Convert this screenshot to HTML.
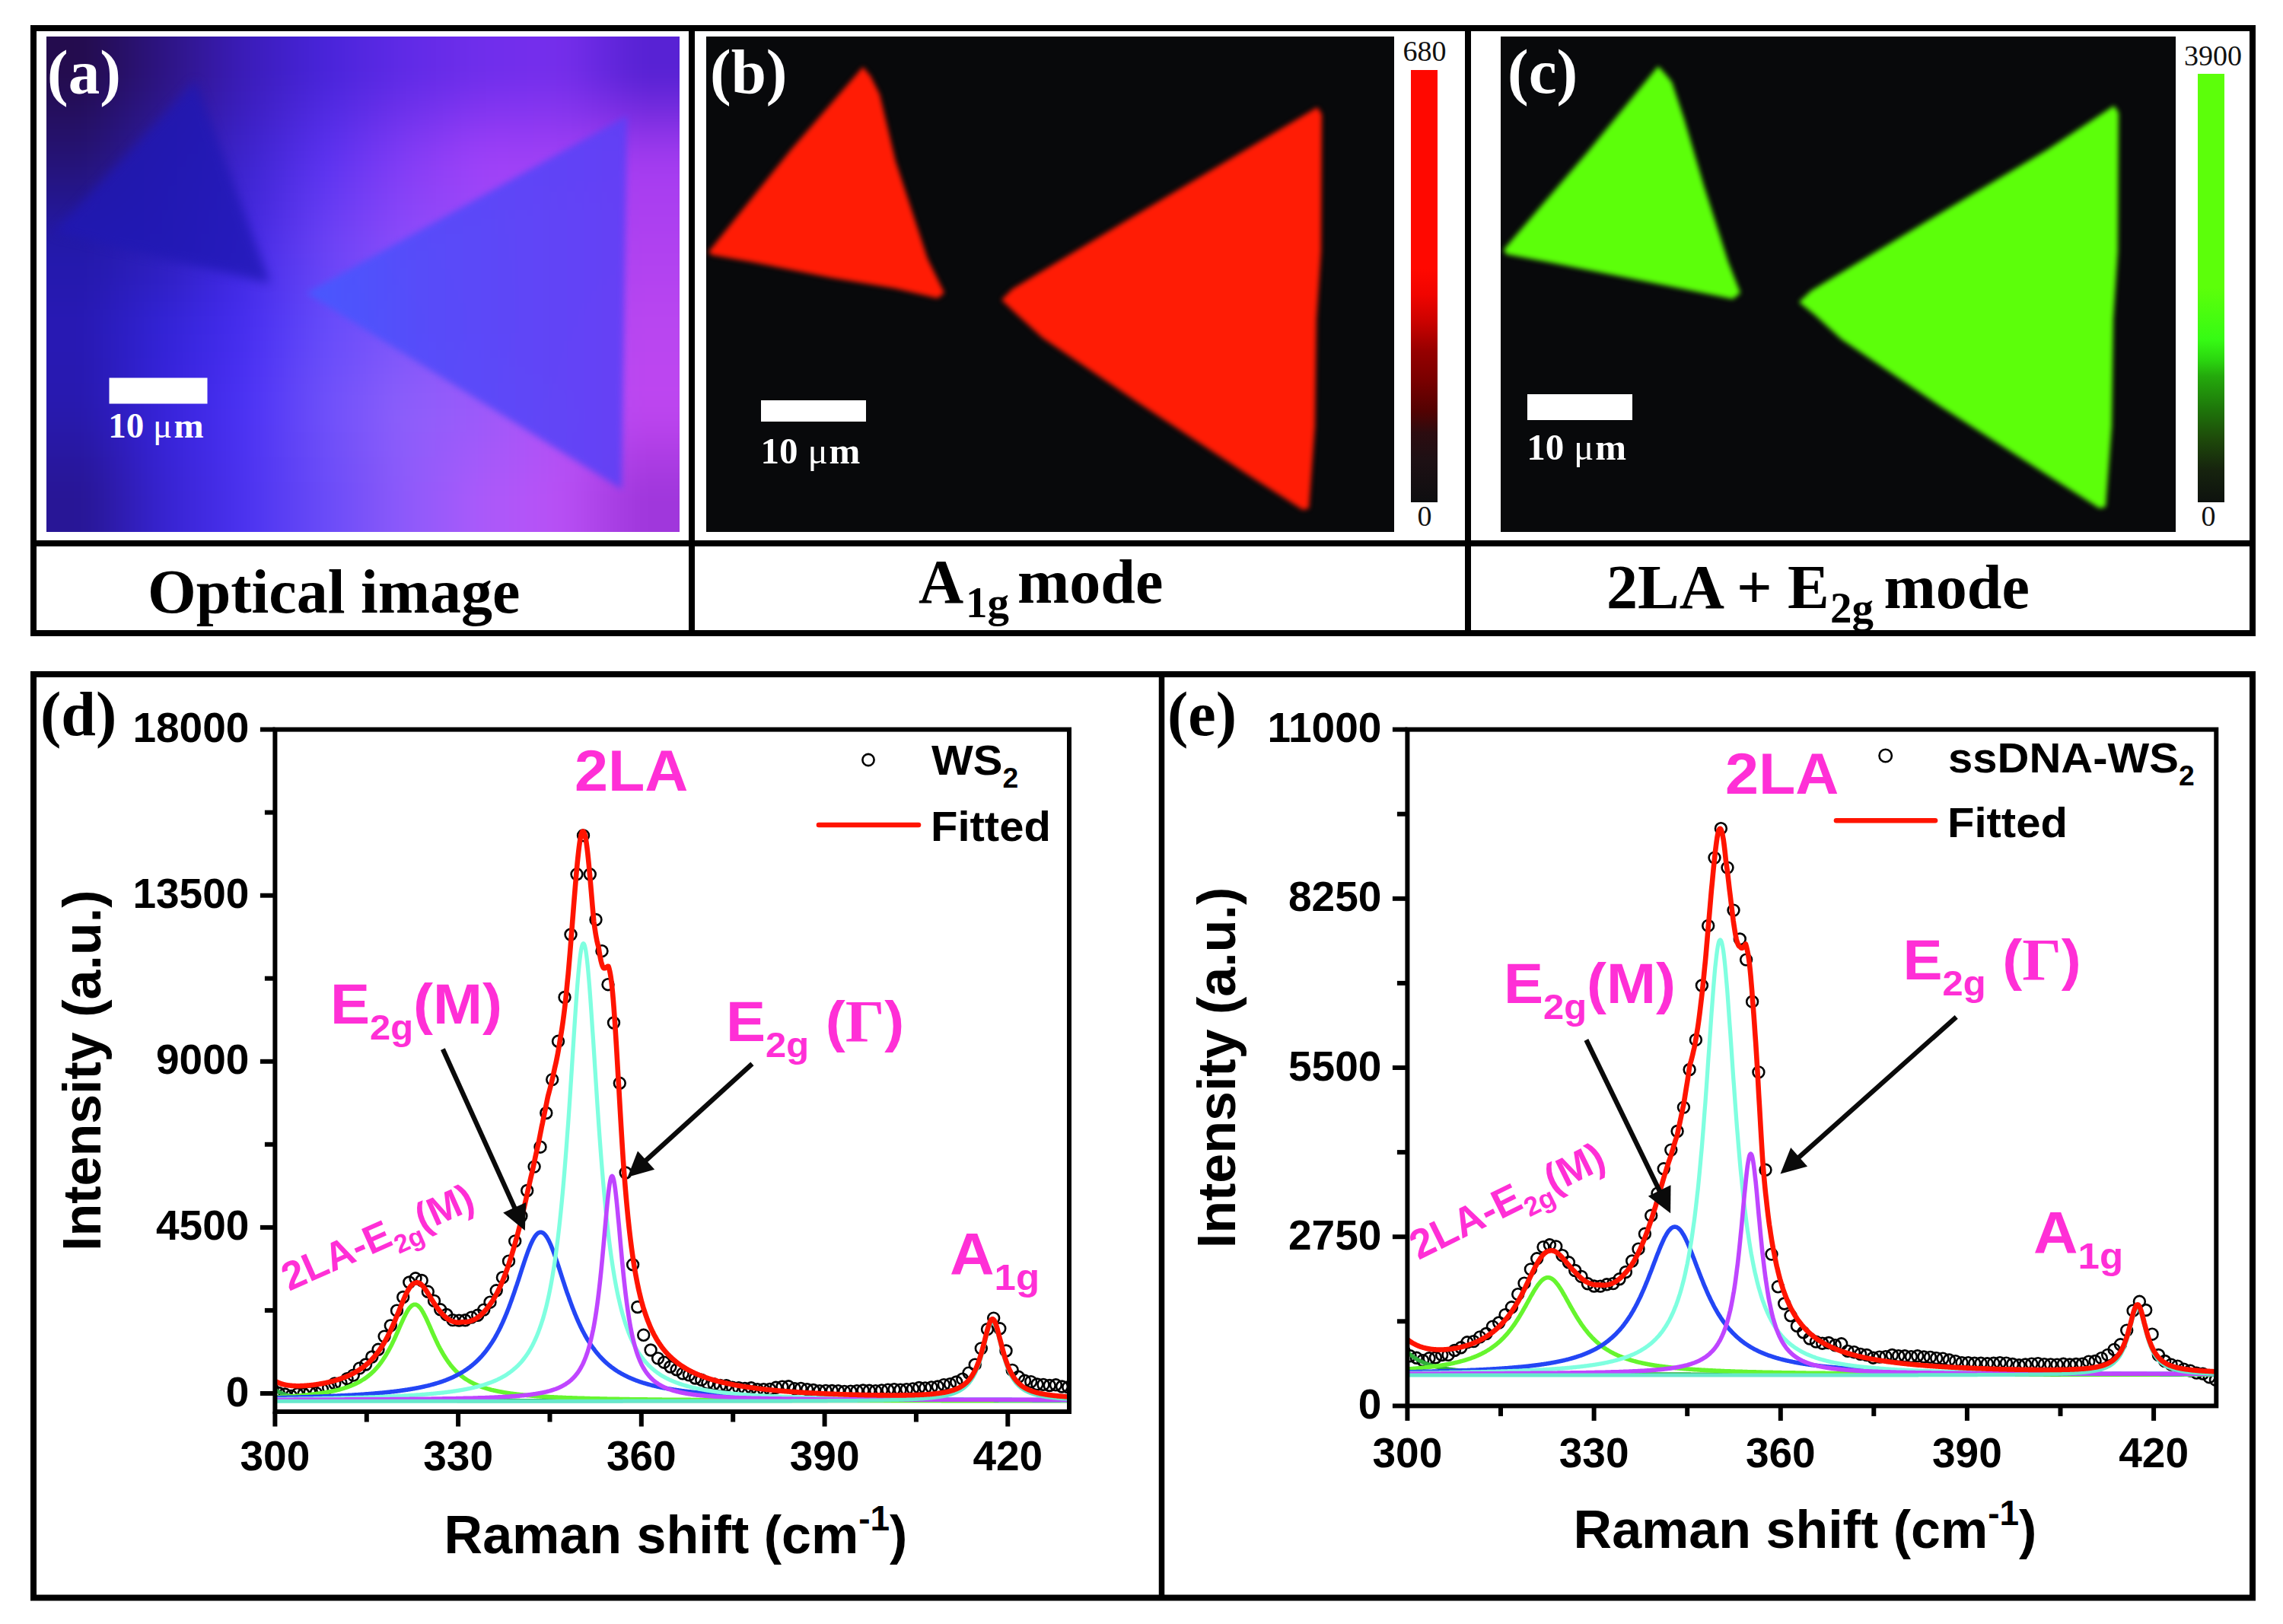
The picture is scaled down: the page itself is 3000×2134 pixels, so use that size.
<!DOCTYPE html>
<html><head><meta charset="utf-8"><title>Raman mapping figure</title>
<style>html,body{margin:0;padding:0;background:#fff}svg{display:block}</style></head>
<body>
<svg width="3000" height="2134" viewBox="0 0 3000 2134">
<defs>
<clipPath id="ca"><rect x="61" y="48" width="832" height="651"/></clipPath>
<clipPath id="cb"><rect x="928" y="48" width="904" height="651"/></clipPath>
<clipPath id="cc"><rect x="1972" y="48" width="887" height="651"/></clipPath>
<clipPath id="cd"><rect x="361.4" y="958.6" width="1043.6" height="896.4"/></clipPath>
<clipPath id="ce"><rect x="1849.4" y="958.6" width="1062.9" height="888.8"/></clipPath>
<filter id="b3" color-interpolation-filters="sRGB" x="-10%" y="-10%" width="120%" height="120%"><feGaussianBlur stdDeviation="3.2"/></filter>
<filter id="b8" color-interpolation-filters="sRGB" x="-20%" y="-20%" width="140%" height="140%"><feGaussianBlur stdDeviation="7"/></filter>
<filter id="b5" color-interpolation-filters="sRGB" x="-20%" y="-20%" width="140%" height="140%"><feGaussianBlur stdDeviation="4"/></filter>
<filter id="b60" color-interpolation-filters="sRGB" x="-50%" y="-50%" width="200%" height="200%"><feGaussianBlur stdDeviation="55"/></filter>
<filter id="b30" color-interpolation-filters="sRGB" x="-50%" y="-50%" width="200%" height="200%"><feGaussianBlur stdDeviation="28"/></filter>
<linearGradient id="ga" x1="0" y1="0" x2="1" y2="0"><stop offset="0" stop-color="#2c1a9c"/><stop offset="0.12" stop-color="#3422c4"/><stop offset="0.42" stop-color="#5a3cf0"/><stop offset="0.72" stop-color="#8a4cf4"/><stop offset="0.93" stop-color="#b048ee"/><stop offset="1" stop-color="#9a3cdc"/></linearGradient>
<radialGradient id="gtl" cx="0" cy="0" r="1" gradientUnits="objectBoundingBox"><stop offset="0" stop-color="#260e48" stop-opacity="1"/><stop offset="0.35" stop-color="#28105a" stop-opacity="0.75"/><stop offset="1" stop-color="#28105a" stop-opacity="0"/></radialGradient>
<linearGradient id="gtop" x1="0" y1="0" x2="0" y2="1"><stop offset="0" stop-color="#3010a0" stop-opacity="0.55"/><stop offset="0.3" stop-color="#3010a0" stop-opacity="0.12"/><stop offset="0.6" stop-color="#3010a0" stop-opacity="0"/></linearGradient>
<linearGradient id="gr" x1="0" y1="0" x2="0" y2="1"><stop offset="0" stop-color="#ff0800"/><stop offset="0.46" stop-color="#ff0800"/><stop offset="0.52" stop-color="#f00400"/><stop offset="0.58" stop-color="#cc0200"/><stop offset="0.65" stop-color="#960000"/><stop offset="0.72" stop-color="#780000"/><stop offset="0.79" stop-color="#520202"/><stop offset="0.84" stop-color="#2c0c10"/><stop offset="0.90" stop-color="#1e1014"/><stop offset="1" stop-color="#0e0e10"/></linearGradient>
<linearGradient id="gg" x1="0" y1="0" x2="0" y2="1"><stop offset="0" stop-color="#5cff0a"/><stop offset="0.50" stop-color="#5cff0a"/><stop offset="0.62" stop-color="#36fb14"/><stop offset="0.67" stop-color="#2ad40f"/><stop offset="0.705" stop-color="#24aa0c"/><stop offset="0.78" stop-color="#1e780a"/><stop offset="0.85" stop-color="#1e4b0a"/><stop offset="0.925" stop-color="#16230e"/><stop offset="1" stop-color="#0e120e"/></linearGradient>
</defs>
<rect x="0" y="0" width="3000" height="2134" fill="#fff"/>
<filter id="bg" color-interpolation-filters="sRGB" filterUnits="userSpaceOnUse" x="-100" y="-120" width="1200" height="1000"><feGaussianBlur stdDeviation="16"/></filter>
<g clip-path="url(#ca)">
<g filter="url(#bg)" shape-rendering="crispEdges">
<rect x="1" y="-12" width="92.6" height="93.1" fill="#240c4e"/>
<rect x="93" y="-12" width="32.6" height="93.1" fill="#240c4e"/>
<rect x="125" y="-12" width="32.6" height="93.1" fill="#260e5d"/>
<rect x="157" y="-12" width="32.6" height="93.1" fill="#29116d"/>
<rect x="189" y="-12" width="32.6" height="93.1" fill="#2c137e"/>
<rect x="221" y="-12" width="32.6" height="93.1" fill="#30168e"/>
<rect x="253" y="-12" width="32.6" height="93.1" fill="#34189e"/>
<rect x="285" y="-12" width="32.6" height="93.1" fill="#381aaf"/>
<rect x="317" y="-12" width="32.6" height="93.1" fill="#3c1dbd"/>
<rect x="349" y="-12" width="32.6" height="93.1" fill="#401fc7"/>
<rect x="381" y="-12" width="32.6" height="93.1" fill="#4422d1"/>
<rect x="413" y="-12" width="32.6" height="93.1" fill="#4924da"/>
<rect x="445" y="-12" width="32.6" height="93.1" fill="#5026de"/>
<rect x="477" y="-12" width="32.6" height="93.1" fill="#5728e2"/>
<rect x="509" y="-12" width="32.6" height="93.1" fill="#5e2ae6"/>
<rect x="541" y="-12" width="32.6" height="93.1" fill="#642be8"/>
<rect x="573" y="-12" width="32.6" height="93.1" fill="#692ce9"/>
<rect x="605" y="-12" width="32.6" height="93.1" fill="#6e2eeb"/>
<rect x="637" y="-12" width="32.6" height="93.1" fill="#712eec"/>
<rect x="669" y="-12" width="32.6" height="93.1" fill="#732eec"/>
<rect x="701" y="-12" width="32.6" height="93.1" fill="#752eec"/>
<rect x="733" y="-12" width="32.6" height="93.1" fill="#732de9"/>
<rect x="765" y="-12" width="32.6" height="93.1" fill="#6929e2"/>
<rect x="797" y="-12" width="32.6" height="93.1" fill="#6025da"/>
<rect x="829" y="-12" width="32.6" height="93.1" fill="#5822d4"/>
<rect x="861" y="-12" width="92.6" height="93.1" fill="#5822d4"/>
<rect x="1" y="80.5" width="92.6" height="33.1" fill="#240c4e"/>
<rect x="93" y="80.5" width="32.6" height="33.1" fill="#240c4e"/>
<rect x="125" y="80.5" width="32.6" height="33.1" fill="#260e5d"/>
<rect x="157" y="80.5" width="32.6" height="33.1" fill="#29116d"/>
<rect x="189" y="80.5" width="32.6" height="33.1" fill="#2c137e"/>
<rect x="221" y="80.5" width="32.6" height="33.1" fill="#30168e"/>
<rect x="253" y="80.5" width="32.6" height="33.1" fill="#34189e"/>
<rect x="285" y="80.5" width="32.6" height="33.1" fill="#381aaf"/>
<rect x="317" y="80.5" width="32.6" height="33.1" fill="#3c1dbd"/>
<rect x="349" y="80.5" width="32.6" height="33.1" fill="#401fc7"/>
<rect x="381" y="80.5" width="32.6" height="33.1" fill="#4422d1"/>
<rect x="413" y="80.5" width="32.6" height="33.1" fill="#4924da"/>
<rect x="445" y="80.5" width="32.6" height="33.1" fill="#5026de"/>
<rect x="477" y="80.5" width="32.6" height="33.1" fill="#5728e2"/>
<rect x="509" y="80.5" width="32.6" height="33.1" fill="#5e2ae6"/>
<rect x="541" y="80.5" width="32.6" height="33.1" fill="#642be8"/>
<rect x="573" y="80.5" width="32.6" height="33.1" fill="#692ce9"/>
<rect x="605" y="80.5" width="32.6" height="33.1" fill="#6e2eeb"/>
<rect x="637" y="80.5" width="32.6" height="33.1" fill="#712eec"/>
<rect x="669" y="80.5" width="32.6" height="33.1" fill="#732eec"/>
<rect x="701" y="80.5" width="32.6" height="33.1" fill="#752eec"/>
<rect x="733" y="80.5" width="32.6" height="33.1" fill="#732de9"/>
<rect x="765" y="80.5" width="32.6" height="33.1" fill="#6929e2"/>
<rect x="797" y="80.5" width="32.6" height="33.1" fill="#6025da"/>
<rect x="829" y="80.5" width="32.6" height="33.1" fill="#5822d4"/>
<rect x="861" y="80.5" width="92.6" height="33.1" fill="#5822d4"/>
<rect x="1" y="113.1" width="92.6" height="33.1" fill="#240e58"/>
<rect x="93" y="113.1" width="32.6" height="33.1" fill="#240e58"/>
<rect x="125" y="113.1" width="32.6" height="33.1" fill="#271066"/>
<rect x="157" y="113.1" width="32.6" height="33.1" fill="#291376"/>
<rect x="189" y="113.1" width="32.6" height="33.1" fill="#2c1586"/>
<rect x="221" y="113.1" width="32.6" height="33.1" fill="#301796"/>
<rect x="253" y="113.1" width="32.6" height="33.1" fill="#341aa5"/>
<rect x="285" y="113.1" width="32.6" height="33.1" fill="#381cb4"/>
<rect x="317" y="113.1" width="32.6" height="33.1" fill="#3d1fc2"/>
<rect x="349" y="113.1" width="32.6" height="33.1" fill="#4222cc"/>
<rect x="381" y="113.1" width="32.6" height="33.1" fill="#4825d6"/>
<rect x="413" y="113.1" width="32.6" height="33.1" fill="#4e28e0"/>
<rect x="445" y="113.1" width="32.6" height="33.1" fill="#562ae3"/>
<rect x="477" y="113.1" width="32.6" height="33.1" fill="#5e2ce6"/>
<rect x="509" y="113.1" width="32.6" height="33.1" fill="#672ee9"/>
<rect x="541" y="113.1" width="32.6" height="33.1" fill="#6d30eb"/>
<rect x="573" y="113.1" width="32.6" height="33.1" fill="#7331ed"/>
<rect x="605" y="113.1" width="32.6" height="33.1" fill="#7a32ee"/>
<rect x="637" y="113.1" width="32.6" height="33.1" fill="#7d33ef"/>
<rect x="669" y="113.1" width="32.6" height="33.1" fill="#7e33ef"/>
<rect x="701" y="113.1" width="32.6" height="33.1" fill="#8033ee"/>
<rect x="733" y="113.1" width="32.6" height="33.1" fill="#7e32ec"/>
<rect x="765" y="113.1" width="32.6" height="33.1" fill="#782ee6"/>
<rect x="797" y="113.1" width="32.6" height="33.1" fill="#712be0"/>
<rect x="829" y="113.1" width="32.6" height="33.1" fill="#6b28db"/>
<rect x="861" y="113.1" width="92.6" height="33.1" fill="#6b28db"/>
<rect x="1" y="145.6" width="92.6" height="33.2" fill="#251064"/>
<rect x="93" y="145.6" width="32.6" height="33.2" fill="#251064"/>
<rect x="125" y="145.6" width="32.6" height="33.2" fill="#271272"/>
<rect x="157" y="145.6" width="32.6" height="33.2" fill="#291581"/>
<rect x="189" y="145.6" width="32.6" height="33.2" fill="#2c1790"/>
<rect x="221" y="145.6" width="32.6" height="33.2" fill="#301a9f"/>
<rect x="253" y="145.6" width="32.6" height="33.2" fill="#341cad"/>
<rect x="285" y="145.6" width="32.6" height="33.2" fill="#381ebb"/>
<rect x="317" y="145.6" width="32.6" height="33.2" fill="#3e21c8"/>
<rect x="349" y="145.6" width="32.6" height="33.2" fill="#4525d2"/>
<rect x="381" y="145.6" width="32.6" height="33.2" fill="#4c29dd"/>
<rect x="413" y="145.6" width="32.6" height="33.2" fill="#532ce6"/>
<rect x="445" y="145.6" width="32.6" height="33.2" fill="#5d2fe9"/>
<rect x="477" y="145.6" width="32.6" height="33.2" fill="#6731eb"/>
<rect x="509" y="145.6" width="32.6" height="33.2" fill="#7134ee"/>
<rect x="541" y="145.6" width="32.6" height="33.2" fill="#7935ef"/>
<rect x="573" y="145.6" width="32.6" height="33.2" fill="#8037f1"/>
<rect x="605" y="145.6" width="32.6" height="33.2" fill="#8838f2"/>
<rect x="637" y="145.6" width="32.6" height="33.2" fill="#8b38f2"/>
<rect x="669" y="145.6" width="32.6" height="33.2" fill="#8c38f2"/>
<rect x="701" y="145.6" width="32.6" height="33.2" fill="#8d38f1"/>
<rect x="733" y="145.6" width="32.6" height="33.2" fill="#8c38ef"/>
<rect x="765" y="145.6" width="32.6" height="33.2" fill="#8935eb"/>
<rect x="797" y="145.6" width="32.6" height="33.2" fill="#8532e7"/>
<rect x="829" y="145.6" width="32.6" height="33.2" fill="#8230e3"/>
<rect x="861" y="145.6" width="92.6" height="33.2" fill="#8230e3"/>
<rect x="1" y="178.2" width="92.6" height="33.2" fill="#251270"/>
<rect x="93" y="178.2" width="32.6" height="33.2" fill="#251270"/>
<rect x="125" y="178.2" width="32.6" height="33.2" fill="#27147d"/>
<rect x="157" y="178.2" width="32.6" height="33.2" fill="#2a178c"/>
<rect x="189" y="178.2" width="32.6" height="33.2" fill="#2c1a9b"/>
<rect x="221" y="178.2" width="32.6" height="33.2" fill="#301ca8"/>
<rect x="253" y="178.2" width="32.6" height="33.2" fill="#341eb5"/>
<rect x="285" y="178.2" width="32.6" height="33.2" fill="#3921c2"/>
<rect x="317" y="178.2" width="32.6" height="33.2" fill="#3f24ce"/>
<rect x="349" y="178.2" width="32.6" height="33.2" fill="#4728d9"/>
<rect x="381" y="178.2" width="32.6" height="33.2" fill="#502ce3"/>
<rect x="413" y="178.2" width="32.6" height="33.2" fill="#5930ed"/>
<rect x="445" y="178.2" width="32.6" height="33.2" fill="#6433ef"/>
<rect x="477" y="178.2" width="32.6" height="33.2" fill="#7036f1"/>
<rect x="509" y="178.2" width="32.6" height="33.2" fill="#7b39f3"/>
<rect x="541" y="178.2" width="32.6" height="33.2" fill="#843bf4"/>
<rect x="573" y="178.2" width="32.6" height="33.2" fill="#8d3cf5"/>
<rect x="605" y="178.2" width="32.6" height="33.2" fill="#963ef6"/>
<rect x="637" y="178.2" width="32.6" height="33.2" fill="#993ef6"/>
<rect x="669" y="178.2" width="32.6" height="33.2" fill="#993ef5"/>
<rect x="701" y="178.2" width="32.6" height="33.2" fill="#9a3ef4"/>
<rect x="733" y="178.2" width="32.6" height="33.2" fill="#9a3df3"/>
<rect x="765" y="178.2" width="32.6" height="33.2" fill="#9a3cf0"/>
<rect x="797" y="178.2" width="32.6" height="33.2" fill="#9a3aee"/>
<rect x="829" y="178.2" width="32.6" height="33.2" fill="#9938ec"/>
<rect x="861" y="178.2" width="92.6" height="33.2" fill="#9938ec"/>
<rect x="1" y="210.8" width="92.6" height="33.2" fill="#25147e"/>
<rect x="93" y="210.8" width="32.6" height="33.2" fill="#25147e"/>
<rect x="125" y="210.8" width="32.6" height="33.2" fill="#271689"/>
<rect x="157" y="210.8" width="32.6" height="33.2" fill="#291996"/>
<rect x="189" y="210.8" width="32.6" height="33.2" fill="#2c1ba3"/>
<rect x="221" y="210.8" width="32.6" height="33.2" fill="#301eb0"/>
<rect x="253" y="210.8" width="32.6" height="33.2" fill="#3520bc"/>
<rect x="285" y="210.8" width="32.6" height="33.2" fill="#3a22c8"/>
<rect x="317" y="210.8" width="32.6" height="33.2" fill="#4026d4"/>
<rect x="349" y="210.8" width="32.6" height="33.2" fill="#4a2bde"/>
<rect x="381" y="210.8" width="32.6" height="33.2" fill="#5430e8"/>
<rect x="413" y="210.8" width="32.6" height="33.2" fill="#5e35f1"/>
<rect x="445" y="210.8" width="32.6" height="33.2" fill="#6a38f2"/>
<rect x="477" y="210.8" width="32.6" height="33.2" fill="#763bf4"/>
<rect x="509" y="210.8" width="32.6" height="33.2" fill="#823ef6"/>
<rect x="541" y="210.8" width="32.6" height="33.2" fill="#8b3ff6"/>
<rect x="573" y="210.8" width="32.6" height="33.2" fill="#9441f7"/>
<rect x="605" y="210.8" width="32.6" height="33.2" fill="#9c42f8"/>
<rect x="637" y="210.8" width="32.6" height="33.2" fill="#a042f7"/>
<rect x="669" y="210.8" width="32.6" height="33.2" fill="#a042f6"/>
<rect x="701" y="210.8" width="32.6" height="33.2" fill="#a042f6"/>
<rect x="733" y="210.8" width="32.6" height="33.2" fill="#a141f4"/>
<rect x="765" y="210.8" width="32.6" height="33.2" fill="#a340f3"/>
<rect x="797" y="210.8" width="32.6" height="33.2" fill="#a53ef1"/>
<rect x="829" y="210.8" width="32.6" height="33.2" fill="#a63df0"/>
<rect x="861" y="210.8" width="92.6" height="33.2" fill="#a63df0"/>
<rect x="1" y="243.3" width="92.6" height="33.1" fill="#24168d"/>
<rect x="93" y="243.3" width="32.6" height="33.1" fill="#24168d"/>
<rect x="125" y="243.3" width="32.6" height="33.1" fill="#261896"/>
<rect x="157" y="243.3" width="32.6" height="33.1" fill="#291aa0"/>
<rect x="189" y="243.3" width="32.6" height="33.1" fill="#2c1caa"/>
<rect x="221" y="243.3" width="32.6" height="33.1" fill="#301fb6"/>
<rect x="253" y="243.3" width="32.6" height="33.1" fill="#3621c2"/>
<rect x="285" y="243.3" width="32.6" height="33.1" fill="#3b24ce"/>
<rect x="317" y="243.3" width="32.6" height="33.1" fill="#4228d9"/>
<rect x="349" y="243.3" width="32.6" height="33.1" fill="#4d2de2"/>
<rect x="381" y="243.3" width="32.6" height="33.1" fill="#5734eb"/>
<rect x="413" y="243.3" width="32.6" height="33.1" fill="#6239f2"/>
<rect x="445" y="243.3" width="32.6" height="33.1" fill="#6e3cf4"/>
<rect x="477" y="243.3" width="32.6" height="33.1" fill="#793ff6"/>
<rect x="509" y="243.3" width="32.6" height="33.1" fill="#8542f7"/>
<rect x="541" y="243.3" width="32.6" height="33.1" fill="#8d43f7"/>
<rect x="573" y="243.3" width="32.6" height="33.1" fill="#9444f8"/>
<rect x="605" y="243.3" width="32.6" height="33.1" fill="#9b45f8"/>
<rect x="637" y="243.3" width="32.6" height="33.1" fill="#9f45f7"/>
<rect x="669" y="243.3" width="32.6" height="33.1" fill="#a044f6"/>
<rect x="701" y="243.3" width="32.6" height="33.1" fill="#a144f6"/>
<rect x="733" y="243.3" width="32.6" height="33.1" fill="#a343f4"/>
<rect x="765" y="243.3" width="32.6" height="33.1" fill="#a541f3"/>
<rect x="797" y="243.3" width="32.6" height="33.1" fill="#a840f1"/>
<rect x="829" y="243.3" width="32.6" height="33.1" fill="#aa3ef0"/>
<rect x="861" y="243.3" width="92.6" height="33.1" fill="#aa3ef0"/>
<rect x="1" y="275.8" width="92.6" height="33.2" fill="#24189d"/>
<rect x="93" y="275.8" width="32.6" height="33.2" fill="#24189d"/>
<rect x="125" y="275.8" width="32.6" height="33.2" fill="#2619a3"/>
<rect x="157" y="275.8" width="32.6" height="33.2" fill="#291baa"/>
<rect x="189" y="275.8" width="32.6" height="33.2" fill="#2c1db1"/>
<rect x="221" y="275.8" width="32.6" height="33.2" fill="#311fbc"/>
<rect x="253" y="275.8" width="32.6" height="33.2" fill="#3622c8"/>
<rect x="285" y="275.8" width="32.6" height="33.2" fill="#3c25d4"/>
<rect x="317" y="275.8" width="32.6" height="33.2" fill="#4429df"/>
<rect x="349" y="275.8" width="32.6" height="33.2" fill="#5030e6"/>
<rect x="381" y="275.8" width="32.6" height="33.2" fill="#5b37ed"/>
<rect x="413" y="275.8" width="32.6" height="33.2" fill="#673ef4"/>
<rect x="445" y="275.8" width="32.6" height="33.2" fill="#7241f5"/>
<rect x="477" y="275.8" width="32.6" height="33.2" fill="#7d44f7"/>
<rect x="509" y="275.8" width="32.6" height="33.2" fill="#8847f9"/>
<rect x="541" y="275.8" width="32.6" height="33.2" fill="#8f48f9"/>
<rect x="573" y="275.8" width="32.6" height="33.2" fill="#9448f8"/>
<rect x="605" y="275.8" width="32.6" height="33.2" fill="#9a48f8"/>
<rect x="637" y="275.8" width="32.6" height="33.2" fill="#9e48f7"/>
<rect x="669" y="275.8" width="32.6" height="33.2" fill="#a047f6"/>
<rect x="701" y="275.8" width="32.6" height="33.2" fill="#a245f6"/>
<rect x="733" y="275.8" width="32.6" height="33.2" fill="#a544f4"/>
<rect x="765" y="275.8" width="32.6" height="33.2" fill="#a743f3"/>
<rect x="797" y="275.8" width="32.6" height="33.2" fill="#aa41f1"/>
<rect x="829" y="275.8" width="32.6" height="33.2" fill="#ac40f0"/>
<rect x="861" y="275.8" width="92.6" height="33.2" fill="#ac40f0"/>
<rect x="1" y="308.4" width="92.6" height="33.2" fill="#2319aa"/>
<rect x="93" y="308.4" width="32.6" height="33.2" fill="#2319aa"/>
<rect x="125" y="308.4" width="32.6" height="33.2" fill="#261aaf"/>
<rect x="157" y="308.4" width="32.6" height="33.2" fill="#291cb4"/>
<rect x="189" y="308.4" width="32.6" height="33.2" fill="#2c1eb9"/>
<rect x="221" y="308.4" width="32.6" height="33.2" fill="#3120c2"/>
<rect x="253" y="308.4" width="32.6" height="33.2" fill="#3723ce"/>
<rect x="285" y="308.4" width="32.6" height="33.2" fill="#3d26da"/>
<rect x="317" y="308.4" width="32.6" height="33.2" fill="#462be4"/>
<rect x="349" y="308.4" width="32.6" height="33.2" fill="#5233ea"/>
<rect x="381" y="308.4" width="32.6" height="33.2" fill="#5e3bf0"/>
<rect x="413" y="308.4" width="32.6" height="33.2" fill="#6a42f5"/>
<rect x="445" y="308.4" width="32.6" height="33.2" fill="#7545f7"/>
<rect x="477" y="308.4" width="32.6" height="33.2" fill="#7f48f8"/>
<rect x="509" y="308.4" width="32.6" height="33.2" fill="#8a4bfa"/>
<rect x="541" y="308.4" width="32.6" height="33.2" fill="#8f4bf9"/>
<rect x="573" y="308.4" width="32.6" height="33.2" fill="#944bf9"/>
<rect x="605" y="308.4" width="32.6" height="33.2" fill="#994bf8"/>
<rect x="637" y="308.4" width="32.6" height="33.2" fill="#9d4af7"/>
<rect x="669" y="308.4" width="32.6" height="33.2" fill="#a049f6"/>
<rect x="701" y="308.4" width="32.6" height="33.2" fill="#a347f6"/>
<rect x="733" y="308.4" width="32.6" height="33.2" fill="#a646f4"/>
<rect x="765" y="308.4" width="32.6" height="33.2" fill="#aa44f3"/>
<rect x="797" y="308.4" width="32.6" height="33.2" fill="#ad43f1"/>
<rect x="829" y="308.4" width="32.6" height="33.2" fill="#b041f0"/>
<rect x="861" y="308.4" width="92.6" height="33.2" fill="#b041f0"/>
<rect x="1" y="340.9" width="92.6" height="33.2" fill="#2519ae"/>
<rect x="93" y="340.9" width="32.6" height="33.2" fill="#2519ae"/>
<rect x="125" y="340.9" width="32.6" height="33.2" fill="#271bb3"/>
<rect x="157" y="340.9" width="32.6" height="33.2" fill="#2b1dba"/>
<rect x="189" y="340.9" width="32.6" height="33.2" fill="#2e1fc1"/>
<rect x="221" y="340.9" width="32.6" height="33.2" fill="#3322ca"/>
<rect x="253" y="340.9" width="32.6" height="33.2" fill="#3925d5"/>
<rect x="285" y="340.9" width="32.6" height="33.2" fill="#3f28e0"/>
<rect x="317" y="340.9" width="32.6" height="33.2" fill="#472de8"/>
<rect x="349" y="340.9" width="32.6" height="33.2" fill="#5235ed"/>
<rect x="381" y="340.9" width="32.6" height="33.2" fill="#5d3df2"/>
<rect x="413" y="340.9" width="32.6" height="33.2" fill="#6845f7"/>
<rect x="445" y="340.9" width="32.6" height="33.2" fill="#7248f8"/>
<rect x="477" y="340.9" width="32.6" height="33.2" fill="#7c4bf9"/>
<rect x="509" y="340.9" width="32.6" height="33.2" fill="#864efa"/>
<rect x="541" y="340.9" width="32.6" height="33.2" fill="#8c4ef9"/>
<rect x="573" y="340.9" width="32.6" height="33.2" fill="#914df9"/>
<rect x="605" y="340.9" width="32.6" height="33.2" fill="#974df8"/>
<rect x="637" y="340.9" width="32.6" height="33.2" fill="#9c4cf7"/>
<rect x="669" y="340.9" width="32.6" height="33.2" fill="#a04af6"/>
<rect x="701" y="340.9" width="32.6" height="33.2" fill="#a448f6"/>
<rect x="733" y="340.9" width="32.6" height="33.2" fill="#a846f4"/>
<rect x="765" y="340.9" width="32.6" height="33.2" fill="#ac45f3"/>
<rect x="797" y="340.9" width="32.6" height="33.2" fill="#af44f1"/>
<rect x="829" y="340.9" width="32.6" height="33.2" fill="#b243f0"/>
<rect x="861" y="340.9" width="92.6" height="33.2" fill="#b243f0"/>
<rect x="1" y="373.5" width="92.6" height="33.2" fill="#2619b0"/>
<rect x="93" y="373.5" width="32.6" height="33.2" fill="#2619b0"/>
<rect x="125" y="373.5" width="32.6" height="33.2" fill="#291bb8"/>
<rect x="157" y="373.5" width="32.6" height="33.2" fill="#2c1ec1"/>
<rect x="189" y="373.5" width="32.6" height="33.2" fill="#2f20c9"/>
<rect x="221" y="373.5" width="32.6" height="33.2" fill="#3423d2"/>
<rect x="253" y="373.5" width="32.6" height="33.2" fill="#3a26dc"/>
<rect x="285" y="373.5" width="32.6" height="33.2" fill="#4029e5"/>
<rect x="317" y="373.5" width="32.6" height="33.2" fill="#482fec"/>
<rect x="349" y="373.5" width="32.6" height="33.2" fill="#5237f0"/>
<rect x="381" y="373.5" width="32.6" height="33.2" fill="#5d40f5"/>
<rect x="413" y="373.5" width="32.6" height="33.2" fill="#6748f8"/>
<rect x="445" y="373.5" width="32.6" height="33.2" fill="#704bf9"/>
<rect x="477" y="373.5" width="32.6" height="33.2" fill="#784ef9"/>
<rect x="509" y="373.5" width="32.6" height="33.2" fill="#8151fa"/>
<rect x="541" y="373.5" width="32.6" height="33.2" fill="#8851f9"/>
<rect x="573" y="373.5" width="32.6" height="33.2" fill="#8f50f9"/>
<rect x="605" y="373.5" width="32.6" height="33.2" fill="#954ff8"/>
<rect x="637" y="373.5" width="32.6" height="33.2" fill="#9b4df7"/>
<rect x="669" y="373.5" width="32.6" height="33.2" fill="#a04bf6"/>
<rect x="701" y="373.5" width="32.6" height="33.2" fill="#a549f6"/>
<rect x="733" y="373.5" width="32.6" height="33.2" fill="#aa47f4"/>
<rect x="765" y="373.5" width="32.6" height="33.2" fill="#ae46f3"/>
<rect x="797" y="373.5" width="32.6" height="33.2" fill="#b245f1"/>
<rect x="829" y="373.5" width="32.6" height="33.2" fill="#b644f0"/>
<rect x="861" y="373.5" width="92.6" height="33.2" fill="#b644f0"/>
<rect x="1" y="406" width="92.6" height="33.2" fill="#2819b4"/>
<rect x="93" y="406" width="32.6" height="33.2" fill="#2819b4"/>
<rect x="125" y="406" width="32.6" height="33.2" fill="#2a1cbd"/>
<rect x="157" y="406" width="32.6" height="33.2" fill="#2e1fc7"/>
<rect x="189" y="406" width="32.6" height="33.2" fill="#3122d2"/>
<rect x="221" y="406" width="32.6" height="33.2" fill="#3625da"/>
<rect x="253" y="406" width="32.6" height="33.2" fill="#3c28e2"/>
<rect x="285" y="406" width="32.6" height="33.2" fill="#422bea"/>
<rect x="317" y="406" width="32.6" height="33.2" fill="#4930f0"/>
<rect x="349" y="406" width="32.6" height="33.2" fill="#5339f4"/>
<rect x="381" y="406" width="32.6" height="33.2" fill="#5c42f7"/>
<rect x="413" y="406" width="32.6" height="33.2" fill="#654bfa"/>
<rect x="445" y="406" width="32.6" height="33.2" fill="#6d4efa"/>
<rect x="477" y="406" width="32.6" height="33.2" fill="#7551fa"/>
<rect x="509" y="406" width="32.6" height="33.2" fill="#7d54fa"/>
<rect x="541" y="406" width="32.6" height="33.2" fill="#8453f9"/>
<rect x="573" y="406" width="32.6" height="33.2" fill="#8c52f9"/>
<rect x="605" y="406" width="32.6" height="33.2" fill="#9350f8"/>
<rect x="637" y="406" width="32.6" height="33.2" fill="#9a4ef7"/>
<rect x="669" y="406" width="32.6" height="33.2" fill="#a04cf6"/>
<rect x="701" y="406" width="32.6" height="33.2" fill="#a649f6"/>
<rect x="733" y="406" width="32.6" height="33.2" fill="#ab48f4"/>
<rect x="765" y="406" width="32.6" height="33.2" fill="#b047f3"/>
<rect x="797" y="406" width="32.6" height="33.2" fill="#b546f1"/>
<rect x="829" y="406" width="32.6" height="33.2" fill="#b846f0"/>
<rect x="861" y="406" width="92.6" height="33.2" fill="#b846f0"/>
<rect x="1" y="438.6" width="92.6" height="33.2" fill="#2819b3"/>
<rect x="93" y="438.6" width="32.6" height="33.2" fill="#2819b3"/>
<rect x="125" y="438.6" width="32.6" height="33.2" fill="#2b1cbd"/>
<rect x="157" y="438.6" width="32.6" height="33.2" fill="#2e1fc8"/>
<rect x="189" y="438.6" width="32.6" height="33.2" fill="#3222d4"/>
<rect x="221" y="438.6" width="32.6" height="33.2" fill="#3725dd"/>
<rect x="253" y="438.6" width="32.6" height="33.2" fill="#3d29e5"/>
<rect x="285" y="438.6" width="32.6" height="33.2" fill="#432cec"/>
<rect x="317" y="438.6" width="32.6" height="33.2" fill="#4b32f2"/>
<rect x="349" y="438.6" width="32.6" height="33.2" fill="#543bf5"/>
<rect x="381" y="438.6" width="32.6" height="33.2" fill="#5e44f8"/>
<rect x="413" y="438.6" width="32.6" height="33.2" fill="#684dfa"/>
<rect x="445" y="438.6" width="32.6" height="33.2" fill="#7050fa"/>
<rect x="477" y="438.6" width="32.6" height="33.2" fill="#7854fa"/>
<rect x="509" y="438.6" width="32.6" height="33.2" fill="#8057fa"/>
<rect x="541" y="438.6" width="32.6" height="33.2" fill="#8756fa"/>
<rect x="573" y="438.6" width="32.6" height="33.2" fill="#8e55f9"/>
<rect x="605" y="438.6" width="32.6" height="33.2" fill="#9553f9"/>
<rect x="637" y="438.6" width="32.6" height="33.2" fill="#9b51f8"/>
<rect x="669" y="438.6" width="32.6" height="33.2" fill="#a14ef7"/>
<rect x="701" y="438.6" width="32.6" height="33.2" fill="#a74cf6"/>
<rect x="733" y="438.6" width="32.6" height="33.2" fill="#ad4af4"/>
<rect x="765" y="438.6" width="32.6" height="33.2" fill="#b248f3"/>
<rect x="797" y="438.6" width="32.6" height="33.2" fill="#b647f1"/>
<rect x="829" y="438.6" width="32.6" height="33.2" fill="#ba46f0"/>
<rect x="861" y="438.6" width="92.6" height="33.2" fill="#ba46f0"/>
<rect x="1" y="471.1" width="92.6" height="33.2" fill="#2819b1"/>
<rect x="93" y="471.1" width="32.6" height="33.2" fill="#2819b1"/>
<rect x="125" y="471.1" width="32.6" height="33.2" fill="#2b1cbc"/>
<rect x="157" y="471.1" width="32.6" height="33.2" fill="#2f1fc9"/>
<rect x="189" y="471.1" width="32.6" height="33.2" fill="#3322d5"/>
<rect x="221" y="471.1" width="32.6" height="33.2" fill="#3925df"/>
<rect x="253" y="471.1" width="32.6" height="33.2" fill="#3f29e6"/>
<rect x="285" y="471.1" width="32.6" height="33.2" fill="#452dee"/>
<rect x="317" y="471.1" width="32.6" height="33.2" fill="#4d33f4"/>
<rect x="349" y="471.1" width="32.6" height="33.2" fill="#573cf6"/>
<rect x="381" y="471.1" width="32.6" height="33.2" fill="#6146f8"/>
<rect x="413" y="471.1" width="32.6" height="33.2" fill="#6b4efa"/>
<rect x="445" y="471.1" width="32.6" height="33.2" fill="#7352fa"/>
<rect x="477" y="471.1" width="32.6" height="33.2" fill="#7c56fa"/>
<rect x="509" y="471.1" width="32.6" height="33.2" fill="#845afa"/>
<rect x="541" y="471.1" width="32.6" height="33.2" fill="#8a59fa"/>
<rect x="573" y="471.1" width="32.6" height="33.2" fill="#9058f9"/>
<rect x="605" y="471.1" width="32.6" height="33.2" fill="#9656f9"/>
<rect x="637" y="471.1" width="32.6" height="33.2" fill="#9d54f8"/>
<rect x="669" y="471.1" width="32.6" height="33.2" fill="#a351f7"/>
<rect x="701" y="471.1" width="32.6" height="33.2" fill="#a94ef6"/>
<rect x="733" y="471.1" width="32.6" height="33.2" fill="#ae4cf4"/>
<rect x="765" y="471.1" width="32.6" height="33.2" fill="#b34af3"/>
<rect x="797" y="471.1" width="32.6" height="33.2" fill="#b848f1"/>
<rect x="829" y="471.1" width="32.6" height="33.2" fill="#bc46f0"/>
<rect x="861" y="471.1" width="92.6" height="33.2" fill="#bc46f0"/>
<rect x="1" y="503.7" width="92.6" height="33.1" fill="#2819b0"/>
<rect x="93" y="503.7" width="32.6" height="33.1" fill="#2819b0"/>
<rect x="125" y="503.7" width="32.6" height="33.1" fill="#2c1cbb"/>
<rect x="157" y="503.7" width="32.6" height="33.1" fill="#301fc9"/>
<rect x="189" y="503.7" width="32.6" height="33.1" fill="#3522d6"/>
<rect x="221" y="503.7" width="32.6" height="33.1" fill="#3a26e0"/>
<rect x="253" y="503.7" width="32.6" height="33.1" fill="#402ae8"/>
<rect x="285" y="503.7" width="32.6" height="33.1" fill="#462fef"/>
<rect x="317" y="503.7" width="32.6" height="33.1" fill="#4e35f5"/>
<rect x="349" y="503.7" width="32.6" height="33.1" fill="#593ef7"/>
<rect x="381" y="503.7" width="32.6" height="33.1" fill="#6347f8"/>
<rect x="413" y="503.7" width="32.6" height="33.1" fill="#6e50fa"/>
<rect x="445" y="503.7" width="32.6" height="33.1" fill="#7754fa"/>
<rect x="477" y="503.7" width="32.6" height="33.1" fill="#8059fa"/>
<rect x="509" y="503.7" width="32.6" height="33.1" fill="#895dfa"/>
<rect x="541" y="503.7" width="32.6" height="33.1" fill="#8e5cfa"/>
<rect x="573" y="503.7" width="32.6" height="33.1" fill="#935bfa"/>
<rect x="605" y="503.7" width="32.6" height="33.1" fill="#9859fa"/>
<rect x="637" y="503.7" width="32.6" height="33.1" fill="#9e57f9"/>
<rect x="669" y="503.7" width="32.6" height="33.1" fill="#a454f7"/>
<rect x="701" y="503.7" width="32.6" height="33.1" fill="#aa51f6"/>
<rect x="733" y="503.7" width="32.6" height="33.1" fill="#b04ef4"/>
<rect x="765" y="503.7" width="32.6" height="33.1" fill="#b54bf3"/>
<rect x="797" y="503.7" width="32.6" height="33.1" fill="#b948f1"/>
<rect x="829" y="503.7" width="32.6" height="33.1" fill="#bd46f0"/>
<rect x="861" y="503.7" width="92.6" height="33.1" fill="#bd46f0"/>
<rect x="1" y="536.2" width="92.6" height="33.1" fill="#2819ab"/>
<rect x="93" y="536.2" width="32.6" height="33.1" fill="#2819ab"/>
<rect x="125" y="536.2" width="32.6" height="33.1" fill="#2c1bb8"/>
<rect x="157" y="536.2" width="32.6" height="33.1" fill="#311fc7"/>
<rect x="189" y="536.2" width="32.6" height="33.1" fill="#3522d5"/>
<rect x="221" y="536.2" width="32.6" height="33.1" fill="#3b26df"/>
<rect x="253" y="536.2" width="32.6" height="33.1" fill="#412ae7"/>
<rect x="285" y="536.2" width="32.6" height="33.1" fill="#472fef"/>
<rect x="317" y="536.2" width="32.6" height="33.1" fill="#4f35f5"/>
<rect x="349" y="536.2" width="32.6" height="33.1" fill="#593ef7"/>
<rect x="381" y="536.2" width="32.6" height="33.1" fill="#6447f8"/>
<rect x="413" y="536.2" width="32.6" height="33.1" fill="#6e50fa"/>
<rect x="445" y="536.2" width="32.6" height="33.1" fill="#7854fa"/>
<rect x="477" y="536.2" width="32.6" height="33.1" fill="#8159fa"/>
<rect x="509" y="536.2" width="32.6" height="33.1" fill="#8b5efa"/>
<rect x="541" y="536.2" width="32.6" height="33.1" fill="#915dfa"/>
<rect x="573" y="536.2" width="32.6" height="33.1" fill="#965cfa"/>
<rect x="605" y="536.2" width="32.6" height="33.1" fill="#9b5afa"/>
<rect x="637" y="536.2" width="32.6" height="33.1" fill="#a158f9"/>
<rect x="669" y="536.2" width="32.6" height="33.1" fill="#a755f8"/>
<rect x="701" y="536.2" width="32.6" height="33.1" fill="#ad52f6"/>
<rect x="733" y="536.2" width="32.6" height="33.1" fill="#b24ff4"/>
<rect x="765" y="536.2" width="32.6" height="33.1" fill="#b44bf2"/>
<rect x="797" y="536.2" width="32.6" height="33.1" fill="#b747ef"/>
<rect x="829" y="536.2" width="32.6" height="33.1" fill="#ba44ed"/>
<rect x="861" y="536.2" width="92.6" height="33.1" fill="#ba44ed"/>
<rect x="1" y="568.8" width="92.6" height="33.1" fill="#2818a4"/>
<rect x="93" y="568.8" width="32.6" height="33.1" fill="#2818a4"/>
<rect x="125" y="568.8" width="32.6" height="33.1" fill="#2c1bb2"/>
<rect x="157" y="568.8" width="32.6" height="33.1" fill="#311ec2"/>
<rect x="189" y="568.8" width="32.6" height="33.1" fill="#3522d2"/>
<rect x="221" y="568.8" width="32.6" height="33.1" fill="#3b26dd"/>
<rect x="253" y="568.8" width="32.6" height="33.1" fill="#412ae5"/>
<rect x="285" y="568.8" width="32.6" height="33.1" fill="#472fee"/>
<rect x="317" y="568.8" width="32.6" height="33.1" fill="#4f35f3"/>
<rect x="349" y="568.8" width="32.6" height="33.1" fill="#593ef5"/>
<rect x="381" y="568.8" width="32.6" height="33.1" fill="#6346f7"/>
<rect x="413" y="568.8" width="32.6" height="33.1" fill="#6d4ef9"/>
<rect x="445" y="568.8" width="32.6" height="33.1" fill="#7753f9"/>
<rect x="477" y="568.8" width="32.6" height="33.1" fill="#8158fa"/>
<rect x="509" y="568.8" width="32.6" height="33.1" fill="#8b5cfa"/>
<rect x="541" y="568.8" width="32.6" height="33.1" fill="#925cfa"/>
<rect x="573" y="568.8" width="32.6" height="33.1" fill="#995bfa"/>
<rect x="605" y="568.8" width="32.6" height="33.1" fill="#9f5afa"/>
<rect x="637" y="568.8" width="32.6" height="33.1" fill="#a558f9"/>
<rect x="669" y="568.8" width="32.6" height="33.1" fill="#ab55f8"/>
<rect x="701" y="568.8" width="32.6" height="33.1" fill="#b052f6"/>
<rect x="733" y="568.8" width="32.6" height="33.1" fill="#b34ef3"/>
<rect x="765" y="568.8" width="32.6" height="33.1" fill="#b249ef"/>
<rect x="797" y="568.8" width="32.6" height="33.1" fill="#b144eb"/>
<rect x="829" y="568.8" width="32.6" height="33.1" fill="#b13fe7"/>
<rect x="861" y="568.8" width="92.6" height="33.1" fill="#b13fe7"/>
<rect x="1" y="601.3" width="92.6" height="33.1" fill="#28179c"/>
<rect x="93" y="601.3" width="32.6" height="33.1" fill="#28179c"/>
<rect x="125" y="601.3" width="32.6" height="33.1" fill="#2c1aab"/>
<rect x="157" y="601.3" width="32.6" height="33.1" fill="#311ebd"/>
<rect x="189" y="601.3" width="32.6" height="33.1" fill="#3522ce"/>
<rect x="221" y="601.3" width="32.6" height="33.1" fill="#3b26da"/>
<rect x="253" y="601.3" width="32.6" height="33.1" fill="#412ae3"/>
<rect x="285" y="601.3" width="32.6" height="33.1" fill="#472fec"/>
<rect x="317" y="601.3" width="32.6" height="33.1" fill="#4f35f2"/>
<rect x="349" y="601.3" width="32.6" height="33.1" fill="#583df4"/>
<rect x="381" y="601.3" width="32.6" height="33.1" fill="#6245f7"/>
<rect x="413" y="601.3" width="32.6" height="33.1" fill="#6c4df9"/>
<rect x="445" y="601.3" width="32.6" height="33.1" fill="#7651f9"/>
<rect x="477" y="601.3" width="32.6" height="33.1" fill="#8056f9"/>
<rect x="509" y="601.3" width="32.6" height="33.1" fill="#8b5bfa"/>
<rect x="541" y="601.3" width="32.6" height="33.1" fill="#935bfa"/>
<rect x="573" y="601.3" width="32.6" height="33.1" fill="#9b5bfa"/>
<rect x="605" y="601.3" width="32.6" height="33.1" fill="#a35afa"/>
<rect x="637" y="601.3" width="32.6" height="33.1" fill="#a958f9"/>
<rect x="669" y="601.3" width="32.6" height="33.1" fill="#ae55f8"/>
<rect x="701" y="601.3" width="32.6" height="33.1" fill="#b352f6"/>
<rect x="733" y="601.3" width="32.6" height="33.1" fill="#b54ef3"/>
<rect x="765" y="601.3" width="32.6" height="33.1" fill="#b047ed"/>
<rect x="797" y="601.3" width="32.6" height="33.1" fill="#ac40e6"/>
<rect x="829" y="601.3" width="32.6" height="33.1" fill="#a83be1"/>
<rect x="861" y="601.3" width="92.6" height="33.1" fill="#a83be1"/>
<rect x="1" y="633.9" width="92.6" height="33.1" fill="#281696"/>
<rect x="93" y="633.9" width="32.6" height="33.1" fill="#281696"/>
<rect x="125" y="633.9" width="32.6" height="33.1" fill="#2c1aa6"/>
<rect x="157" y="633.9" width="32.6" height="33.1" fill="#311eb9"/>
<rect x="189" y="633.9" width="32.6" height="33.1" fill="#3522cb"/>
<rect x="221" y="633.9" width="32.6" height="33.1" fill="#3b26d8"/>
<rect x="253" y="633.9" width="32.6" height="33.1" fill="#412ae1"/>
<rect x="285" y="633.9" width="32.6" height="33.1" fill="#472fea"/>
<rect x="317" y="633.9" width="32.6" height="33.1" fill="#4e35f1"/>
<rect x="349" y="633.9" width="32.6" height="33.1" fill="#583df3"/>
<rect x="381" y="633.9" width="32.6" height="33.1" fill="#6144f6"/>
<rect x="413" y="633.9" width="32.6" height="33.1" fill="#6a4cf8"/>
<rect x="445" y="633.9" width="32.6" height="33.1" fill="#7550f9"/>
<rect x="477" y="633.9" width="32.6" height="33.1" fill="#8055f9"/>
<rect x="509" y="633.9" width="32.6" height="33.1" fill="#8b59fa"/>
<rect x="541" y="633.9" width="32.6" height="33.1" fill="#945afa"/>
<rect x="573" y="633.9" width="32.6" height="33.1" fill="#9d5afa"/>
<rect x="605" y="633.9" width="32.6" height="33.1" fill="#a75afa"/>
<rect x="637" y="633.9" width="32.6" height="33.1" fill="#ad58f9"/>
<rect x="669" y="633.9" width="32.6" height="33.1" fill="#b255f8"/>
<rect x="701" y="633.9" width="32.6" height="33.1" fill="#b652f6"/>
<rect x="733" y="633.9" width="32.6" height="33.1" fill="#b64df2"/>
<rect x="765" y="633.9" width="32.6" height="33.1" fill="#ae45ea"/>
<rect x="797" y="633.9" width="32.6" height="33.1" fill="#a73ee3"/>
<rect x="829" y="633.9" width="32.6" height="33.1" fill="#a037dc"/>
<rect x="861" y="633.9" width="92.6" height="33.1" fill="#a037dc"/>
<rect x="1" y="666.4" width="92.6" height="93.1" fill="#281696"/>
<rect x="93" y="666.4" width="32.6" height="93.1" fill="#281696"/>
<rect x="125" y="666.4" width="32.6" height="93.1" fill="#2c1aa6"/>
<rect x="157" y="666.4" width="32.6" height="93.1" fill="#311eb9"/>
<rect x="189" y="666.4" width="32.6" height="93.1" fill="#3522cb"/>
<rect x="221" y="666.4" width="32.6" height="93.1" fill="#3b26d8"/>
<rect x="253" y="666.4" width="32.6" height="93.1" fill="#412ae1"/>
<rect x="285" y="666.4" width="32.6" height="93.1" fill="#472fea"/>
<rect x="317" y="666.4" width="32.6" height="93.1" fill="#4e35f1"/>
<rect x="349" y="666.4" width="32.6" height="93.1" fill="#583df3"/>
<rect x="381" y="666.4" width="32.6" height="93.1" fill="#6144f6"/>
<rect x="413" y="666.4" width="32.6" height="93.1" fill="#6a4cf8"/>
<rect x="445" y="666.4" width="32.6" height="93.1" fill="#7550f9"/>
<rect x="477" y="666.4" width="32.6" height="93.1" fill="#8055f9"/>
<rect x="509" y="666.4" width="32.6" height="93.1" fill="#8b59fa"/>
<rect x="541" y="666.4" width="32.6" height="93.1" fill="#945afa"/>
<rect x="573" y="666.4" width="32.6" height="93.1" fill="#9d5afa"/>
<rect x="605" y="666.4" width="32.6" height="93.1" fill="#a75afa"/>
<rect x="637" y="666.4" width="32.6" height="93.1" fill="#ad58f9"/>
<rect x="669" y="666.4" width="32.6" height="93.1" fill="#b255f8"/>
<rect x="701" y="666.4" width="32.6" height="93.1" fill="#b652f6"/>
<rect x="733" y="666.4" width="32.6" height="93.1" fill="#b64df2"/>
<rect x="765" y="666.4" width="32.6" height="93.1" fill="#ae45ea"/>
<rect x="797" y="666.4" width="32.6" height="93.1" fill="#a73ee3"/>
<rect x="829" y="666.4" width="32.6" height="93.1" fill="#a037dc"/>
<rect x="861" y="666.4" width="92.6" height="93.1" fill="#a037dc"/>
</g>
<linearGradient id="gtri" gradientUnits="userSpaceOnUse" x1="405" y1="0" x2="825" y2="0"><stop offset="0" stop-color="#465aff"/><stop offset="0.35" stop-color="#524cfa"/><stop offset="1" stop-color="#5e40f6"/></linearGradient>
<polygon points="257,106 70,306 355,372" fill="#2018b4" opacity="0.8" filter="url(#b8)"/>
<polygon points="403,385 824,152 817,643" fill="url(#gtri)" opacity="0.9" filter="url(#b5)"/>
</g>
<rect x="143.5" y="496.5" width="129" height="34" fill="#fff"/>
<g font-family='"Liberation Serif", serif' font-size="47" fill="#fff"><text x="142.3" y="575" font-weight="700">10</text><text x="201" y="575">μ</text><text x="228.5" y="575" font-weight="700">m</text></g>
<text x="62" y="123" font-family='"Liberation Serif", serif' font-weight="700" font-size="83" fill="#fff">(a)</text>
<rect x="928" y="48" width="904" height="651" fill="#08090b"/>
<g clip-path="url(#cb)">
<g filter="url(#b3)" fill="#ff1c05">
<polygon points="1134,88 1144,100 1156,124 1177,212 1198,276 1219,340 1241,385 1232,392 1176,379 1092,365 986,344 935,335 931,331 1040,196"/>
<polygon points="1316,394 1330,380 1480,290 1640,195 1731,141 1737,150 1736,330 1730,420 1728,560 1720,668 1712,670 1640,624 1500,532 1370,444 1335,412"/>
</g></g>
<rect x="1000" y="526" width="138" height="28" fill="#fff"/>
<g font-family='"Liberation Serif", serif' font-size="49" fill="#fff"><text x="999.6" y="609" font-weight="700">10</text><text x="1061.5" y="609">μ</text><text x="1089.6" y="609" font-weight="700">m</text></g>
<text x="933" y="122" font-family='"Liberation Serif", serif' font-weight="700" font-size="83" fill="#fff">(b)</text>
<rect x="1854" y="92" width="35" height="568" fill="url(#gr)"/>
<text x="1872" y="80" text-anchor="middle" font-family='"Liberation Serif", serif' font-size="38" fill="#111">680</text>
<text x="1872" y="691" text-anchor="middle" font-family='"Liberation Serif", serif' font-size="38" fill="#111">0</text>
<rect x="1972" y="48" width="887" height="651" fill="#08090b"/>
<g clip-path="url(#cc)">
<g filter="url(#b3)" fill="#5cff0a">
<polygon points="2179,87 2189,98 2197,108 2213,156 2239,244 2271,344 2287,385 2277,393 2218,381 2138,365 2032,344 1979,334 1976,328 2086,200"/>
<polygon points="2364,397 2380,382 2530,292 2690,197 2778,139 2784,148 2783,330 2777,420 2775,560 2767,666 2759,668 2690,624 2550,534 2420,446 2385,414"/>
</g></g>
<rect x="2007" y="518" width="138" height="34" fill="#fff"/>
<g font-family='"Liberation Serif", serif' font-size="49" fill="#fff"><text x="2006.2" y="604" font-weight="700">10</text><text x="2068.1" y="604">μ</text><text x="2096.2" y="604" font-weight="700">m</text></g>
<text x="1981" y="122" font-family='"Liberation Serif", serif' font-weight="700" font-size="83" fill="#fff">(c)</text>
<rect x="2888" y="97" width="35" height="563" fill="url(#gg)"/>
<text x="2908" y="85.5" text-anchor="middle" font-family='"Liberation Serif", serif' font-size="38" fill="#111">3900</text>
<text x="2902" y="691" text-anchor="middle" font-family='"Liberation Serif", serif' font-size="38" fill="#111">0</text>
<g fill="none" stroke="#000" stroke-width="8">
<rect x="44" y="37" width="2916" height="795"/>
<line x1="44" y1="714" x2="2960" y2="714"/>
<line x1="909" y1="37" x2="909" y2="832"/>
<line x1="1929" y1="37" x2="1929" y2="832"/>
</g>
<g font-family='"Liberation Serif", serif' font-weight="700" font-size="82" fill="#000">
<text x="438.7" y="804.7" text-anchor="middle">Optical image</text>
<text x="1207" y="791.6">A</text><text x="1269" y="810.7" font-size="57">1g</text><text x="1337" y="791.6">mode</text>
<text x="2111" y="799.2">2LA + E</text><text x="2405" y="818" font-size="57">2g</text><text x="2475.5" y="799.2">mode</text>
</g>
<g fill="none" stroke="#000">
<rect x="44" y="886" width="2916" height="1213.5" stroke-width="8"/>
<line x1="1526.5" y1="886" x2="1526.5" y2="2099" stroke-width="7.5"/>
</g>
<g clip-path="url(#cd)" fill="none" stroke-linejoin="round" stroke-linecap="butt">
<g stroke="#000" stroke-width="2.6" fill="none">
<circle cx="358.1" cy="1825.2" r="7.4"/>
<circle cx="366.3" cy="1830.5" r="7.4"/>
<circle cx="374.4" cy="1832" r="7.4"/>
<circle cx="382.6" cy="1834.4" r="7.4"/>
<circle cx="390.8" cy="1831.7" r="7.4"/>
<circle cx="399" cy="1831.7" r="7.4"/>
<circle cx="407.1" cy="1829.5" r="7.4"/>
<circle cx="415.3" cy="1830.4" r="7.4"/>
<circle cx="423.5" cy="1825.8" r="7.4"/>
<circle cx="431.6" cy="1823.4" r="7.4"/>
<circle cx="439.8" cy="1818" r="7.4"/>
<circle cx="448" cy="1817.3" r="7.4"/>
<circle cx="456.1" cy="1811.6" r="7.4"/>
<circle cx="464.3" cy="1807.1" r="7.4"/>
<circle cx="472.5" cy="1797.9" r="7.4"/>
<circle cx="480.6" cy="1793" r="7.4"/>
<circle cx="488.8" cy="1783" r="7.4"/>
<circle cx="497" cy="1773.3" r="7.4"/>
<circle cx="505.1" cy="1756.1" r="7.4"/>
<circle cx="513.3" cy="1741.9" r="7.4"/>
<circle cx="521.5" cy="1722.2" r="7.4"/>
<circle cx="529.7" cy="1704.5" r="7.4"/>
<circle cx="537.8" cy="1685" r="7.4"/>
<circle cx="546" cy="1679.8" r="7.4"/>
<circle cx="554.2" cy="1682.5" r="7.4"/>
<circle cx="562.3" cy="1697.3" r="7.4"/>
<circle cx="570.5" cy="1709.4" r="7.4"/>
<circle cx="578.7" cy="1720.8" r="7.4"/>
<circle cx="586.8" cy="1727.5" r="7.4"/>
<circle cx="595" cy="1734.6" r="7.4"/>
<circle cx="603.2" cy="1735.1" r="7.4"/>
<circle cx="611.3" cy="1734.8" r="7.4"/>
<circle cx="619.5" cy="1731.1" r="7.4"/>
<circle cx="627.7" cy="1728.3" r="7.4"/>
<circle cx="635.8" cy="1721.1" r="7.4"/>
<circle cx="644" cy="1711.2" r="7.4"/>
<circle cx="652.2" cy="1695.8" r="7.4"/>
<circle cx="660.4" cy="1678.7" r="7.4"/>
<circle cx="668.5" cy="1657.2" r="7.4"/>
<circle cx="676.7" cy="1630.9" r="7.4"/>
<circle cx="684.9" cy="1598" r="7.4"/>
<circle cx="692.7" cy="1564.5" r="7.4"/>
<circle cx="702.1" cy="1533.1" r="7.4"/>
<circle cx="710" cy="1507.2" r="7.4"/>
<circle cx="717.8" cy="1462.5" r="7.4"/>
<circle cx="725.7" cy="1418.6" r="7.4"/>
<circle cx="733.5" cy="1368.3" r="7.4"/>
<circle cx="742" cy="1310.5" r="7.4"/>
<circle cx="750" cy="1228" r="7.4"/>
<circle cx="758" cy="1148.8" r="7.4"/>
<circle cx="766.5" cy="1097.9" r="7.4"/>
<circle cx="775.3" cy="1148.8" r="7.4"/>
<circle cx="783" cy="1208.5" r="7.4"/>
<circle cx="791" cy="1249.7" r="7.4"/>
<circle cx="799" cy="1293.7" r="7.4"/>
<circle cx="806.5" cy="1344" r="7.4"/>
<circle cx="814.3" cy="1423.3" r="7.4"/>
<circle cx="822.2" cy="1541" r="7.4"/>
<circle cx="831.6" cy="1661.8" r="7.4"/>
<circle cx="837.8" cy="1717.5" r="7.4"/>
<circle cx="845.7" cy="1754.3" r="7.4"/>
<circle cx="855.1" cy="1774" r="7.4"/>
<circle cx="864.6" cy="1784.9" r="7.4"/>
<circle cx="872.7" cy="1790.2" r="7.4"/>
<circle cx="880.9" cy="1796" r="7.4"/>
<circle cx="889.1" cy="1799.8" r="7.4"/>
<circle cx="897.2" cy="1804.9" r="7.4"/>
<circle cx="905.4" cy="1806.9" r="7.4"/>
<circle cx="913.6" cy="1811" r="7.4"/>
<circle cx="921.7" cy="1813.2" r="7.4"/>
<circle cx="929.9" cy="1817.4" r="7.4"/>
<circle cx="938.1" cy="1818.8" r="7.4"/>
<circle cx="946.3" cy="1820.4" r="7.4"/>
<circle cx="954.4" cy="1820.6" r="7.4"/>
<circle cx="962.6" cy="1823.3" r="7.4"/>
<circle cx="970.8" cy="1823.6" r="7.4"/>
<circle cx="978.9" cy="1824.5" r="7.4"/>
<circle cx="987.1" cy="1823.8" r="7.4"/>
<circle cx="995.3" cy="1825.6" r="7.4"/>
<circle cx="1003.4" cy="1825.7" r="7.4"/>
<circle cx="1011.6" cy="1825.4" r="7.4"/>
<circle cx="1019.8" cy="1823.3" r="7.4"/>
<circle cx="1027.9" cy="1822.2" r="7.4"/>
<circle cx="1036.1" cy="1821.8" r="7.4"/>
<circle cx="1044.3" cy="1824.6" r="7.4"/>
<circle cx="1052.4" cy="1824.4" r="7.4"/>
<circle cx="1060.6" cy="1825.6" r="7.4"/>
<circle cx="1068.8" cy="1826.5" r="7.4"/>
<circle cx="1077" cy="1827.7" r="7.4"/>
<circle cx="1085.1" cy="1827.4" r="7.4"/>
<circle cx="1093.3" cy="1827.5" r="7.4"/>
<circle cx="1101.5" cy="1827.6" r="7.4"/>
<circle cx="1109.6" cy="1828.4" r="7.4"/>
<circle cx="1117.8" cy="1828.2" r="7.4"/>
<circle cx="1126" cy="1827.6" r="7.4"/>
<circle cx="1134.1" cy="1827" r="7.4"/>
<circle cx="1142.3" cy="1827.3" r="7.4"/>
<circle cx="1150.5" cy="1827.6" r="7.4"/>
<circle cx="1158.6" cy="1826.9" r="7.4"/>
<circle cx="1166.8" cy="1826.2" r="7.4"/>
<circle cx="1175" cy="1825.7" r="7.4"/>
<circle cx="1183.1" cy="1826.2" r="7.4"/>
<circle cx="1191.3" cy="1825.6" r="7.4"/>
<circle cx="1199.5" cy="1824.9" r="7.4"/>
<circle cx="1207.7" cy="1823.5" r="7.4"/>
<circle cx="1215.8" cy="1823.9" r="7.4"/>
<circle cx="1224" cy="1822.9" r="7.4"/>
<circle cx="1232.2" cy="1822" r="7.4"/>
<circle cx="1240.3" cy="1819.6" r="7.4"/>
<circle cx="1248.5" cy="1818.6" r="7.4"/>
<circle cx="1256.7" cy="1816" r="7.4"/>
<circle cx="1264.8" cy="1812.2" r="7.4"/>
<circle cx="1273" cy="1804.1" r="7.4"/>
<circle cx="1281.2" cy="1793.2" r="7.4"/>
<circle cx="1289.3" cy="1771.9" r="7.4"/>
<circle cx="1297.5" cy="1746.7" r="7.4"/>
<circle cx="1305.7" cy="1732.1" r="7.4"/>
<circle cx="1313.8" cy="1745.8" r="7.4"/>
<circle cx="1322" cy="1775" r="7.4"/>
<circle cx="1330.2" cy="1800.4" r="7.4"/>
<circle cx="1338.4" cy="1809.3" r="7.4"/>
<circle cx="1346.5" cy="1814.3" r="7.4"/>
<circle cx="1354.7" cy="1815.6" r="7.4"/>
<circle cx="1362.9" cy="1819" r="7.4"/>
<circle cx="1371" cy="1819.4" r="7.4"/>
<circle cx="1379.2" cy="1820.5" r="7.4"/>
<circle cx="1387.4" cy="1819.8" r="7.4"/>
<circle cx="1395.5" cy="1822" r="7.4"/>
<circle cx="1403.7" cy="1822.8" r="7.4"/>
</g>
<polyline stroke="#2fae4a" stroke-width="5.3" points="361.4,1826 362.2,1826.5 363,1827 363.8,1827.5 364.6,1828 365.4,1828.4 366.2,1828.9 367,1829.3 367.8,1829.7 368.6,1830 369.4,1830.4 370.2,1830.7 371,1831.1 371.8,1831.4 372.6,1831.7 373.4,1832 374.2,1832.2 375,1832.5 375.8,1832.8 376.6,1833 377.4,1833.2 378.3,1833.4 379.1,1833.7 379.9,1833.9 380.7,1834.1 381.5,1834.2 382.3,1834.4 383.1,1834.6 383.9,1834.8 384.7,1834.9 385.5,1835.1 386.3,1835.2 387.1,1835.4 387.9,1835.5 388.7,1835.6 389.5,1835.8 390.3,1835.9 391.1,1836 391.9,1836.1 392.7,1836.2 393.5,1836.3 394.3,1836.4 395.1,1836.5 395.9,1836.6 396.7,1836.7 397.5,1836.8 398.3,1836.9 399.1,1837 399.9,1837.1 400.7,1837.1 401.5,1837.2 402.3,1837.3 403.1,1837.4 403.9,1837.4 404.7,1837.5 405.5,1837.6 406.3,1837.6 407.1,1837.7 407.9,1837.8 408.7,1837.8 409.5,1837.9 410.3,1837.9 411.1,1838 412,1838 412.8,1838.1 413.6,1838.1 414.4,1838.2 415.2,1838.2 416,1838.3 416.8,1838.3 417.6,1838.4 418.4,1838.4 419.2,1838.4 420,1838.5 420.8,1838.5 421.6,1838.6 422.4,1838.6 423.2,1838.6 424,1838.7 424.8,1838.7 425.6,1838.7 426.4,1838.8 427.2,1838.8 428,1838.8 428.8,1838.8 429.6,1838.9 430.4,1838.9 431.2,1838.9 432,1839 432.8,1839 433.6,1839 434.4,1839 435.2,1839.1 436,1839.1 436.8,1839.1 437.6,1839.1 438.4,1839.2 439.2,1839.2 440,1839.2 440.8,1839.2 441.6,1839.2 442.4,1839.3 443.2,1839.3 444,1839.3 444.8,1839.3 445.7,1839.3 446.5,1839.4 447.3,1839.4 448.1,1839.4 448.9,1839.4 449.7,1839.4 450.5,1839.5 451.3,1839.5 452.1,1839.5 452.9,1839.5 453.7,1839.5 454.5,1839.5 455.3,1839.5 456.1,1839.6 456.9,1839.6 457.7,1839.6 458.5,1839.6 459.3,1839.6 460.1,1839.6 460.9,1839.6 461.7,1839.7 462.5,1839.7 463.3,1839.7 464.1,1839.7 464.9,1839.7 465.7,1839.7 466.5,1839.7 467.3,1839.7 468.1,1839.7 468.9,1839.8 469.7,1839.8 470.5,1839.8 471.3,1839.8 472.1,1839.8 472.9,1839.8 473.7,1839.8 474.5,1839.8 475.3,1839.8 476.1,1839.8 476.9,1839.9 477.7,1839.9 478.6,1839.9 479.4,1839.9 480.2,1839.9 481,1839.9 481.8,1839.9 482.6,1839.9 483.4,1839.9 484.2,1839.9 485,1839.9 485.8,1840 486.6,1840 487.4,1840 488.2,1840 489,1840 489.8,1840 490.6,1840 491.4,1840 492.2,1840 493,1840 493.8,1840 494.6,1840 495.4,1840 496.2,1840 497,1840 497.8,1840.1 498.6,1840.1 499.4,1840.1 500.2,1840.1 501,1840.1 501.8,1840.1 502.6,1840.1 503.4,1840.1 504.2,1840.1 505,1840.1 505.8,1840.1 506.6,1840.1 507.4,1840.1 508.2,1840.1 509,1840.1 509.8,1840.1 510.6,1840.1 511.4,1840.1 512.3,1840.2 513.1,1840.2 513.9,1840.2 514.7,1840.2 515.5,1840.2 516.3,1840.2 517.1,1840.2 517.9,1840.2 518.7,1840.2 519.5,1840.2 520.3,1840.2 521.1,1840.2 521.9,1840.2 522.7,1840.2 523.5,1840.2 524.3,1840.2 525.1,1840.2 525.9,1840.2 526.7,1840.2 527.5,1840.2 528.3,1840.2 529.1,1840.2 529.9,1840.2 530.7,1840.2 531.5,1840.3 532.3,1840.3 533.1,1840.3 533.9,1840.3 534.7,1840.3 535.5,1840.3 536.3,1840.3 537.1,1840.3 537.9,1840.3 538.7,1840.3 539.5,1840.3 540.3,1840.3 541.1,1840.3 541.9,1840.3 542.7,1840.3 543.5,1840.3 544.3,1840.3 545.1,1840.3 546,1840.3 546.8,1840.3 547.6,1840.3 548.4,1840.3 549.2,1840.3 550,1840.3 550.8,1840.3 551.6,1840.3 552.4,1840.3 553.2,1840.3 554,1840.3 554.8,1840.3 555.6,1840.3 556.4,1840.3 557.2,1840.3 558,1840.3 558.8,1840.4 559.6,1840.4 560.4,1840.4 561.2,1840.4 562,1840.4 562.8,1840.4 563.6,1840.4 564.4,1840.4 565.2,1840.4 566,1840.4 566.8,1840.4 567.6,1840.4 568.4,1840.4 569.2,1840.4 570,1840.4 570.8,1840.4 571.6,1840.4 572.4,1840.4 573.2,1840.4 574,1840.4 574.8,1840.4 575.6,1840.4 576.4,1840.4 577.2,1840.4 578,1840.4 578.9,1840.4 579.7,1840.4 580.5,1840.4 581.3,1840.4 582.1,1840.4 582.9,1840.4 583.7,1840.4 584.5,1840.4 585.3,1840.4 586.1,1840.4 586.9,1840.4 587.7,1840.4 588.5,1840.4 589.3,1840.4 590.1,1840.4 590.9,1840.4 591.7,1840.4 592.5,1840.4 593.3,1840.4 594.1,1840.4 594.9,1840.4 595.7,1840.4 596.5,1840.4 597.3,1840.4 598.1,1840.4 598.9,1840.4 599.7,1840.4 600.5,1840.4 601.3,1840.5 602.1,1840.5 602.9,1840.5 603.7,1840.5 604.5,1840.5 605.3,1840.5 606.1,1840.5 606.9,1840.5 607.7,1840.5 608.5,1840.5 609.3,1840.5 610.1,1840.5 610.9,1840.5 611.7,1840.5 612.6,1840.5 613.4,1840.5 614.2,1840.5 615,1840.5 615.8,1840.5 616.6,1840.5 617.4,1840.5 618.2,1840.5 619,1840.5 619.8,1840.5 620.6,1840.5 621.4,1840.5 622.2,1840.5 623,1840.5 623.8,1840.5 624.6,1840.5 625.4,1840.5 626.2,1840.5 627,1840.5 627.8,1840.5 628.6,1840.5 629.4,1840.5 630.2,1840.5 631,1840.5 631.8,1840.5 632.6,1840.5 633.4,1840.5 634.2,1840.5 635,1840.5 635.8,1840.5 636.6,1840.5 637.4,1840.5 638.2,1840.5 639,1840.5 639.8,1840.5 640.6,1840.5 641.4,1840.5 642.2,1840.5 643,1840.5 643.8,1840.5 644.6,1840.5 645.4,1840.5 646.3,1840.5 647.1,1840.5 647.9,1840.5 648.7,1840.5 649.5,1840.5 650.3,1840.5 651.1,1840.5 651.9,1840.5 652.7,1840.5 653.5,1840.5 654.3,1840.5 655.1,1840.5 655.9,1840.5 656.7,1840.5 657.5,1840.5 658.3,1840.5 659.1,1840.5 659.9,1840.5 660.7,1840.5 661.5,1840.5 662.3,1840.5 663.1,1840.5 663.9,1840.5 664.7,1840.5 665.5,1840.5 666.3,1840.5 667.1,1840.5 667.9,1840.5 668.7,1840.5 669.5,1840.5 670.3,1840.5 671.1,1840.5 671.9,1840.5 672.7,1840.5 673.5,1840.5 674.3,1840.5 675.1,1840.5 675.9,1840.5 676.7,1840.5 677.5,1840.5 678.3,1840.5 679.2,1840.5 680,1840.5 680.8,1840.5 681.6,1840.5 682.4,1840.5 683.2,1840.6 684,1840.6 684.8,1840.6 685.6,1840.6 686.4,1840.6 687.2,1840.6 688,1840.6 688.8,1840.6 689.6,1840.6 690.4,1840.6 691.2,1840.6 692,1840.6 692.8,1840.6 693.6,1840.6 694.4,1840.6 695.2,1840.6 696,1840.6 696.8,1840.6 697.6,1840.6 698.4,1840.6 699.2,1840.6 700,1840.6 700.8,1840.6 701.6,1840.6 702.4,1840.6 703.2,1840.6 704,1840.6 704.8,1840.6 705.6,1840.6 706.4,1840.6 707.2,1840.6 708,1840.6 708.8,1840.6 709.6,1840.6 710.4,1840.6 711.2,1840.6 712,1840.6 712.9,1840.6 713.7,1840.6 714.5,1840.6 715.3,1840.6 716.1,1840.6 716.9,1840.6 717.7,1840.6 718.5,1840.6 719.3,1840.6 720.1,1840.6 720.9,1840.6 721.7,1840.6 722.5,1840.6 723.3,1840.6 724.1,1840.6 724.9,1840.6 725.7,1840.6 726.5,1840.6 727.3,1840.6 728.1,1840.6 728.9,1840.6 729.7,1840.6 730.5,1840.6 731.3,1840.6 732.1,1840.6 732.9,1840.6 733.7,1840.6 734.5,1840.6 735.3,1840.6 736.1,1840.6 736.9,1840.6 737.7,1840.6 738.5,1840.6 739.3,1840.6 740.1,1840.6 740.9,1840.6 741.7,1840.6 742.5,1840.6 743.3,1840.6 744.1,1840.6 744.9,1840.6 745.7,1840.6 746.6,1840.6 747.4,1840.6 748.2,1840.6 749,1840.6 749.8,1840.6 750.6,1840.6 751.4,1840.6 752.2,1840.6 753,1840.6 753.8,1840.6 754.6,1840.6 755.4,1840.6 756.2,1840.6 757,1840.6 757.8,1840.6 758.6,1840.6 759.4,1840.6 760.2,1840.6 761,1840.6 761.8,1840.6 762.6,1840.6 763.4,1840.6 764.2,1840.6 765,1840.6 765.8,1840.6 766.6,1840.6 767.4,1840.6 768.2,1840.6 769,1840.6 769.8,1840.6 770.6,1840.6 771.4,1840.6 772.2,1840.6 773,1840.6 773.8,1840.6 774.6,1840.6 775.4,1840.6 776.2,1840.6 777,1840.6 777.8,1840.6 778.6,1840.6 779.5,1840.6 780.3,1840.6 781.1,1840.6 781.9,1840.6 782.7,1840.6 783.5,1840.6 784.3,1840.6 785.1,1840.6 785.9,1840.6 786.7,1840.6 787.5,1840.6 788.3,1840.6 789.1,1840.6 789.9,1840.6 790.7,1840.6 791.5,1840.6 792.3,1840.6 793.1,1840.6 793.9,1840.6 794.7,1840.6 795.5,1840.6 796.3,1840.6 797.1,1840.6 797.9,1840.6 798.7,1840.6 799.5,1840.6 800.3,1840.6 801.1,1840.6 801.9,1840.6 802.7,1840.6 803.5,1840.6 804.3,1840.6 805.1,1840.6 805.9,1840.6 806.7,1840.6 807.5,1840.6 808.3,1840.6 809.1,1840.6 809.9,1840.6 810.7,1840.6 811.5,1840.6 812.3,1840.6 813.2,1840.6 814,1840.6 814.8,1840.6 815.6,1840.6 816.4,1840.6 817.2,1840.6 818,1840.6 818.8,1840.6 819.6,1840.6 820.4,1840.6 821.2,1840.6 822,1840.6 822.8,1840.6 823.6,1840.6 824.4,1840.6 825.2,1840.6 826,1840.6 826.8,1840.6 827.6,1840.6 828.4,1840.6 829.2,1840.6 830,1840.6 830.8,1840.6 831.6,1840.6 832.4,1840.6 833.2,1840.6 834,1840.6 834.8,1840.6 835.6,1840.6 836.4,1840.6 837.2,1840.6 838,1840.6 838.8,1840.6 839.6,1840.6 840.4,1840.6 841.2,1840.6 842,1840.6 842.8,1840.6 843.6,1840.6 844.4,1840.6 845.2,1840.6 846,1840.6 846.9,1840.6 847.7,1840.6 848.5,1840.6 849.3,1840.6 850.1,1840.6 850.9,1840.6 851.7,1840.6 852.5,1840.6 853.3,1840.6 854.1,1840.6 854.9,1840.6 855.7,1840.6 856.5,1840.6 857.3,1840.6 858.1,1840.6 858.9,1840.6 859.7,1840.6 860.5,1840.6 861.3,1840.6 862.1,1840.6 862.9,1840.6 863.7,1840.6 864.5,1840.6 865.3,1840.6 866.1,1840.6 866.9,1840.6 867.7,1840.6 868.5,1840.6 869.3,1840.6 870.1,1840.6 870.9,1840.6 871.7,1840.6 872.5,1840.6 873.3,1840.6 874.1,1840.6 874.9,1840.6 875.7,1840.6 876.5,1840.6 877.3,1840.6 878.1,1840.6 878.9,1840.6 879.8,1840.6 880.6,1840.6 881.4,1840.6 882.2,1840.6 883,1840.6 883.8,1840.6 884.6,1840.6 885.4,1840.6 886.2,1840.6 887,1840.6 887.8,1840.6 888.6,1840.6 889.4,1840.6 890.2,1840.6 891,1840.6 891.8,1840.6 892.6,1840.6 893.4,1840.6 894.2,1840.6 895,1840.6 895.8,1840.6 896.6,1840.6 897.4,1840.6 898.2,1840.6 899,1840.6 899.8,1840.6 900.6,1840.6 901.4,1840.6 902.2,1840.6 903,1840.6 903.8,1840.6 904.6,1840.6 905.4,1840.6 906.2,1840.6 907,1840.6 907.8,1840.6 908.6,1840.6 909.4,1840.6 910.2,1840.6 911,1840.6 911.8,1840.6 912.6,1840.6 913.5,1840.6 914.3,1840.6 915.1,1840.6 915.9,1840.6 916.7,1840.6 917.5,1840.6 918.3,1840.6 919.1,1840.6 919.9,1840.6 920.7,1840.6 921.5,1840.6 922.3,1840.6 923.1,1840.6 923.9,1840.6 924.7,1840.6 925.5,1840.6 926.3,1840.6 927.1,1840.6 927.9,1840.6 928.7,1840.6 929.5,1840.6 930.3,1840.6 931.1,1840.6 931.9,1840.6 932.7,1840.6 933.5,1840.6 934.3,1840.6 935.1,1840.6 935.9,1840.6 936.7,1840.6 937.5,1840.6 938.3,1840.6 939.1,1840.6 939.9,1840.6 940.7,1840.6 941.5,1840.6 942.3,1840.6 943.1,1840.6 943.9,1840.6 944.7,1840.6 945.5,1840.6 946.3,1840.6 947.2,1840.6 948,1840.6 948.8,1840.6 949.6,1840.6 950.4,1840.6 951.2,1840.6 952,1840.6 952.8,1840.6 953.6,1840.6 954.4,1840.6 955.2,1840.6 956,1840.6 956.8,1840.6 957.6,1840.6 958.4,1840.6 959.2,1840.6 960,1840.6 960.8,1840.6 961.6,1840.6 962.4,1840.6 963.2,1840.6 964,1840.6 964.8,1840.6 965.6,1840.6 966.4,1840.6 967.2,1840.6 968,1840.6 968.8,1840.6 969.6,1840.7 970.4,1840.7 971.2,1840.7 972,1840.7 972.8,1840.7 973.6,1840.7 974.4,1840.7 975.2,1840.7 976,1840.7 976.8,1840.7 977.6,1840.7 978.4,1840.7 979.2,1840.7 980.1,1840.7 980.9,1840.7 981.7,1840.7 982.5,1840.7 983.3,1840.7 984.1,1840.7 984.9,1840.7 985.7,1840.7 986.5,1840.7 987.3,1840.7 988.1,1840.7 988.9,1840.7 989.7,1840.7 990.5,1840.7 991.3,1840.7 992.1,1840.7 992.9,1840.7 993.7,1840.7 994.5,1840.7 995.3,1840.7 996.1,1840.7 996.9,1840.7 997.7,1840.7 998.5,1840.7 999.3,1840.7 1000.1,1840.7 1000.9,1840.7 1001.7,1840.7 1002.5,1840.7 1003.3,1840.7 1004.1,1840.7 1004.9,1840.7 1005.7,1840.7 1006.5,1840.7 1007.3,1840.7 1008.1,1840.7 1008.9,1840.7 1009.7,1840.7 1010.5,1840.7 1011.3,1840.7 1012.1,1840.7 1012.9,1840.7 1013.8,1840.7 1014.6,1840.7 1015.4,1840.7 1016.2,1840.7 1017,1840.7 1017.8,1840.7 1018.6,1840.7 1019.4,1840.7 1020.2,1840.7 1021,1840.7 1021.8,1840.7 1022.6,1840.7 1023.4,1840.7 1024.2,1840.7 1025,1840.7 1025.8,1840.7 1026.6,1840.7 1027.4,1840.7 1028.2,1840.7 1029,1840.7 1029.8,1840.7 1030.6,1840.7 1031.4,1840.7 1032.2,1840.7 1033,1840.7 1033.8,1840.7 1034.6,1840.7 1035.4,1840.7 1036.2,1840.7 1037,1840.7 1037.8,1840.7 1038.6,1840.7 1039.4,1840.7 1040.2,1840.7 1041,1840.7 1041.8,1840.7 1042.6,1840.7 1043.4,1840.7 1044.2,1840.7 1045,1840.7 1045.8,1840.7 1046.6,1840.7 1047.5,1840.7 1048.3,1840.7 1049.1,1840.7 1049.9,1840.7 1050.7,1840.7 1051.5,1840.7 1052.3,1840.7 1053.1,1840.7 1053.9,1840.7 1054.7,1840.7 1055.5,1840.7 1056.3,1840.7 1057.1,1840.7 1057.9,1840.7 1058.7,1840.7 1059.5,1840.7 1060.3,1840.7 1061.1,1840.7 1061.9,1840.7 1062.7,1840.7 1063.5,1840.7 1064.3,1840.7 1065.1,1840.7 1065.9,1840.7 1066.7,1840.7 1067.5,1840.7 1068.3,1840.7 1069.1,1840.7 1069.9,1840.7 1070.7,1840.7 1071.5,1840.7 1072.3,1840.7 1073.1,1840.7 1073.9,1840.7 1074.7,1840.7 1075.5,1840.7 1076.3,1840.7 1077.1,1840.7 1077.9,1840.7 1078.7,1840.7 1079.5,1840.7 1080.4,1840.7 1081.2,1840.7 1082,1840.7 1082.8,1840.7 1083.6,1840.7 1084.4,1840.7 1085.2,1840.7 1086,1840.7 1086.8,1840.7 1087.6,1840.7 1088.4,1840.7 1089.2,1840.7 1090,1840.7 1090.8,1840.7 1091.6,1840.7 1092.4,1840.7 1093.2,1840.7 1094,1840.7 1094.8,1840.7 1095.6,1840.7 1096.4,1840.7 1097.2,1840.7 1098,1840.7 1098.8,1840.7 1099.6,1840.7 1100.4,1840.7 1101.2,1840.7 1102,1840.7 1102.8,1840.7 1103.6,1840.7 1104.4,1840.7 1105.2,1840.7 1106,1840.7 1106.8,1840.7 1107.6,1840.7 1108.4,1840.7 1109.2,1840.7 1110,1840.7 1110.8,1840.7 1111.6,1840.7 1112.4,1840.7 1113.2,1840.7 1114.1,1840.7 1114.9,1840.7 1115.7,1840.7 1116.5,1840.7 1117.3,1840.7 1118.1,1840.7 1118.9,1840.7 1119.7,1840.7 1120.5,1840.7 1121.3,1840.7 1122.1,1840.7 1122.9,1840.7 1123.7,1840.7 1124.5,1840.7 1125.3,1840.7 1126.1,1840.7 1126.9,1840.7 1127.7,1840.7 1128.5,1840.7 1129.3,1840.7 1130.1,1840.7 1130.9,1840.7 1131.7,1840.7 1132.5,1840.7 1133.3,1840.7 1134.1,1840.7 1134.9,1840.7 1135.7,1840.7 1136.5,1840.7 1137.3,1840.7 1138.1,1840.7 1138.9,1840.7 1139.7,1840.7 1140.5,1840.7 1141.3,1840.7 1142.1,1840.7 1142.9,1840.7 1143.7,1840.7 1144.5,1840.7 1145.3,1840.7 1146.1,1840.7 1146.9,1840.7 1147.8,1840.7 1148.6,1840.7 1149.4,1840.7 1150.2,1840.7 1151,1840.7 1151.8,1840.7 1152.6,1840.7 1153.4,1840.7 1154.2,1840.7 1155,1840.7 1155.8,1840.7 1156.6,1840.7 1157.4,1840.7 1158.2,1840.7 1159,1840.7 1159.8,1840.7 1160.6,1840.7 1161.4,1840.7 1162.2,1840.7 1163,1840.7 1163.8,1840.7 1164.6,1840.7 1165.4,1840.7 1166.2,1840.7 1167,1840.7 1167.8,1840.7 1168.6,1840.7 1169.4,1840.7 1170.2,1840.7 1171,1840.7 1171.8,1840.7 1172.6,1840.7 1173.4,1840.7 1174.2,1840.7 1175,1840.7 1175.8,1840.7 1176.6,1840.7 1177.4,1840.7 1178.2,1840.7 1179,1840.7 1179.8,1840.7 1180.7,1840.7 1181.5,1840.7 1182.3,1840.7 1183.1,1840.7 1183.9,1840.7 1184.7,1840.7 1185.5,1840.7 1186.3,1840.7 1187.1,1840.7 1187.9,1840.7 1188.7,1840.7 1189.5,1840.7 1190.3,1840.7 1191.1,1840.7 1191.9,1840.7 1192.7,1840.7 1193.5,1840.7 1194.3,1840.7 1195.1,1840.7 1195.9,1840.7 1196.7,1840.7 1197.5,1840.7 1198.3,1840.7 1199.1,1840.7 1199.9,1840.7 1200.7,1840.7 1201.5,1840.7 1202.3,1840.7 1203.1,1840.7 1203.9,1840.7 1204.7,1840.7 1205.5,1840.7 1206.3,1840.7 1207.1,1840.7 1207.9,1840.7 1208.7,1840.7 1209.5,1840.7 1210.3,1840.7 1211.1,1840.7 1211.9,1840.7 1212.7,1840.7 1213.5,1840.7 1214.4,1840.7 1215.2,1840.7 1216,1840.7 1216.8,1840.7 1217.6,1840.7 1218.4,1840.7 1219.2,1840.7 1220,1840.7 1220.8,1840.7 1221.6,1840.7 1222.4,1840.7 1223.2,1840.7 1224,1840.7 1224.8,1840.7 1225.6,1840.7 1226.4,1840.7 1227.2,1840.7 1228,1840.7 1228.8,1840.7 1229.6,1840.7 1230.4,1840.7 1231.2,1840.7 1232,1840.7 1232.8,1840.7 1233.6,1840.7 1234.4,1840.7 1235.2,1840.7 1236,1840.7 1236.8,1840.7 1237.6,1840.7 1238.4,1840.7 1239.2,1840.7 1240,1840.7 1240.8,1840.7 1241.6,1840.7 1242.4,1840.7 1243.2,1840.7 1244,1840.7 1244.8,1840.7 1245.6,1840.7 1246.4,1840.7 1247.2,1840.7 1248.1,1840.7 1248.9,1840.7 1249.7,1840.7 1250.5,1840.7 1251.3,1840.7 1252.1,1840.7 1252.9,1840.7 1253.7,1840.7 1254.5,1840.7 1255.3,1840.7 1256.1,1840.7 1256.9,1840.7 1257.7,1840.7 1258.5,1840.7 1259.3,1840.7 1260.1,1840.7 1260.9,1840.7 1261.7,1840.7 1262.5,1840.7 1263.3,1840.7 1264.1,1840.7 1264.9,1840.7 1265.7,1840.7 1266.5,1840.7 1267.3,1840.7 1268.1,1840.7 1268.9,1840.7 1269.7,1840.7 1270.5,1840.7 1271.3,1840.7 1272.1,1840.7 1272.9,1840.7 1273.7,1840.7 1274.5,1840.7 1275.3,1840.7 1276.1,1840.7 1276.9,1840.7 1277.7,1840.7 1278.5,1840.7 1279.3,1840.7 1280.1,1840.7 1281,1840.7 1281.8,1840.7 1282.6,1840.7 1283.4,1840.7 1284.2,1840.7 1285,1840.7 1285.8,1840.7 1286.6,1840.7 1287.4,1840.7 1288.2,1840.7 1289,1840.7 1289.8,1840.7 1290.6,1840.7 1291.4,1840.7 1292.2,1840.7 1293,1840.7 1293.8,1840.7 1294.6,1840.7 1295.4,1840.7 1296.2,1840.7 1297,1840.7 1297.8,1840.7 1298.6,1840.7 1299.4,1840.7 1300.2,1840.7 1301,1840.7 1301.8,1840.7 1302.6,1840.7 1303.4,1840.7 1304.2,1840.7 1305,1840.7 1305.8,1840.7 1306.6,1840.7 1307.4,1840.7 1308.2,1840.7 1309,1840.7 1309.8,1840.7 1310.6,1840.7 1311.4,1840.7 1312.2,1840.7 1313,1840.7 1313.8,1840.7 1314.7,1840.7 1315.5,1840.7 1316.3,1840.7 1317.1,1840.7 1317.9,1840.7 1318.7,1840.7 1319.5,1840.7 1320.3,1840.7 1321.1,1840.7 1321.9,1840.7 1322.7,1840.7 1323.5,1840.7 1324.3,1840.7 1325.1,1840.7 1325.9,1840.7 1326.7,1840.7 1327.5,1840.7 1328.3,1840.7 1329.1,1840.7 1329.9,1840.7 1330.7,1840.7 1331.5,1840.7 1332.3,1840.7 1333.1,1840.7 1333.9,1840.7 1334.7,1840.7 1335.5,1840.7 1336.3,1840.7 1337.1,1840.7 1337.9,1840.7 1338.7,1840.7 1339.5,1840.7 1340.3,1840.7 1341.1,1840.7 1341.9,1840.7 1342.7,1840.7 1343.5,1840.7 1344.3,1840.7 1345.1,1840.7 1345.9,1840.7 1346.7,1840.7 1347.5,1840.7 1348.4,1840.7 1349.2,1840.7 1350,1840.7 1350.8,1840.7 1351.6,1840.7 1352.4,1840.7 1353.2,1840.7 1354,1840.7 1354.8,1840.7 1355.6,1840.7 1356.4,1840.7 1357.2,1840.7 1358,1840.7 1358.8,1840.7 1359.6,1840.7 1360.4,1840.7 1361.2,1840.7 1362,1840.7 1362.8,1840.7 1363.6,1840.7 1364.4,1840.7 1365.2,1840.7 1366,1840.7 1366.8,1840.7 1367.6,1840.7 1368.4,1840.7 1369.2,1840.7 1370,1840.7 1370.8,1840.7 1371.6,1840.7 1372.4,1840.7 1373.2,1840.7 1374,1840.7 1374.8,1840.7 1375.6,1840.7 1376.4,1840.7 1377.2,1840.7 1378,1840.7 1378.8,1840.7 1379.6,1840.7 1380.4,1840.7 1381.3,1840.7 1382.1,1840.7 1382.9,1840.7 1383.7,1840.7 1384.5,1840.7 1385.3,1840.7 1386.1,1840.7 1386.9,1840.7 1387.7,1840.7 1388.5,1840.7 1389.3,1840.7 1390.1,1840.7 1390.9,1840.7 1391.7,1840.7 1392.5,1840.7 1393.3,1840.7 1394.1,1840.7 1394.9,1840.7 1395.7,1840.7 1396.5,1840.7 1397.3,1840.7 1398.1,1840.7 1398.9,1840.7 1399.7,1840.7 1400.5,1840.7 1401.3,1840.7 1402.1,1840.7 1402.9,1840.7 1403.7,1840.7 1404.5,1840.7"/>
<polyline stroke="#66f52e" stroke-width="5.6" points="361.4,1836 362.2,1836 363,1835.9 363.8,1835.9 364.6,1835.8 365.4,1835.8 366.2,1835.7 367,1835.7 367.8,1835.7 368.6,1835.6 369.4,1835.6 370.2,1835.5 371,1835.5 371.8,1835.4 372.6,1835.4 373.4,1835.3 374.2,1835.3 375,1835.2 375.8,1835.2 376.6,1835.1 377.4,1835.1 378.3,1835 379.1,1835 379.9,1834.9 380.7,1834.9 381.5,1834.8 382.3,1834.8 383.1,1834.7 383.9,1834.7 384.7,1834.6 385.5,1834.5 386.3,1834.5 387.1,1834.4 387.9,1834.4 388.7,1834.3 389.5,1834.2 390.3,1834.2 391.1,1834.1 391.9,1834 392.7,1834 393.5,1833.9 394.3,1833.8 395.1,1833.8 395.9,1833.7 396.7,1833.6 397.5,1833.6 398.3,1833.5 399.1,1833.4 399.9,1833.3 400.7,1833.3 401.5,1833.2 402.3,1833.1 403.1,1833 403.9,1832.9 404.7,1832.8 405.5,1832.8 406.3,1832.7 407.1,1832.6 407.9,1832.5 408.7,1832.4 409.5,1832.3 410.3,1832.2 411.1,1832.1 412,1832 412.8,1831.9 413.6,1831.8 414.4,1831.7 415.2,1831.6 416,1831.5 416.8,1831.4 417.6,1831.3 418.4,1831.2 419.2,1831.1 420,1831 420.8,1830.9 421.6,1830.7 422.4,1830.6 423.2,1830.5 424,1830.4 424.8,1830.2 425.6,1830.1 426.4,1830 427.2,1829.9 428,1829.7 428.8,1829.6 429.6,1829.4 430.4,1829.3 431.2,1829.1 432,1829 432.8,1828.8 433.6,1828.7 434.4,1828.5 435.2,1828.4 436,1828.2 436.8,1828 437.6,1827.9 438.4,1827.7 439.2,1827.5 440,1827.3 440.8,1827.2 441.6,1827 442.4,1826.8 443.2,1826.6 444,1826.4 444.8,1826.2 445.7,1826 446.5,1825.8 447.3,1825.5 448.1,1825.3 448.9,1825.1 449.7,1824.9 450.5,1824.6 451.3,1824.4 452.1,1824.1 452.9,1823.9 453.7,1823.6 454.5,1823.4 455.3,1823.1 456.1,1822.8 456.9,1822.6 457.7,1822.3 458.5,1822 459.3,1821.7 460.1,1821.4 460.9,1821.1 461.7,1820.7 462.5,1820.4 463.3,1820.1 464.1,1819.7 464.9,1819.4 465.7,1819 466.5,1818.7 467.3,1818.3 468.1,1817.9 468.9,1817.5 469.7,1817.1 470.5,1816.7 471.3,1816.3 472.1,1815.8 472.9,1815.4 473.7,1814.9 474.5,1814.5 475.3,1814 476.1,1813.5 476.9,1813 477.7,1812.5 478.6,1812 479.4,1811.4 480.2,1810.9 481,1810.3 481.8,1809.7 482.6,1809.1 483.4,1808.5 484.2,1807.9 485,1807.2 485.8,1806.5 486.6,1805.9 487.4,1805.2 488.2,1804.4 489,1803.7 489.8,1802.9 490.6,1802.2 491.4,1801.4 492.2,1800.5 493,1799.7 493.8,1798.8 494.6,1798 495.4,1797 496.2,1796.1 497,1795.2 497.8,1794.2 498.6,1793.2 499.4,1792.1 500.2,1791.1 501,1790 501.8,1788.8 502.6,1787.7 503.4,1786.5 504.2,1785.3 505,1784.1 505.8,1782.8 506.6,1781.5 507.4,1780.2 508.2,1778.8 509,1777.4 509.8,1776 510.6,1774.6 511.4,1773.1 512.3,1771.6 513.1,1770 513.9,1768.5 514.7,1766.9 515.5,1765.2 516.3,1763.6 517.1,1761.9 517.9,1760.2 518.7,1758.4 519.5,1756.7 520.3,1754.9 521.1,1753.1 521.9,1751.3 522.7,1749.5 523.5,1747.7 524.3,1745.9 525.1,1744 525.9,1742.2 526.7,1740.4 527.5,1738.6 528.3,1736.8 529.1,1735.1 529.9,1733.3 530.7,1731.6 531.5,1730 532.3,1728.4 533.1,1726.8 533.9,1725.4 534.7,1723.9 535.5,1722.6 536.3,1721.3 537.1,1720.1 537.9,1719.1 538.7,1718.1 539.5,1717.2 540.3,1716.4 541.1,1715.7 541.9,1715.2 542.7,1714.8 543.5,1714.4 544.3,1714.3 545.1,1714.2 546,1714.3 546.8,1714.4 547.6,1714.8 548.4,1715.2 549.2,1715.7 550,1716.4 550.8,1717.2 551.6,1718.1 552.4,1719.1 553.2,1720.1 554,1721.3 554.8,1722.6 555.6,1723.9 556.4,1725.4 557.2,1726.8 558,1728.4 558.8,1730 559.6,1731.6 560.4,1733.3 561.2,1735.1 562,1736.8 562.8,1738.6 563.6,1740.4 564.4,1742.2 565.2,1744 566,1745.9 566.8,1747.7 567.6,1749.5 568.4,1751.3 569.2,1753.1 570,1754.9 570.8,1756.7 571.6,1758.4 572.4,1760.2 573.2,1761.9 574,1763.6 574.8,1765.2 575.6,1766.9 576.4,1768.5 577.2,1770 578,1771.6 578.9,1773.1 579.7,1774.6 580.5,1776 581.3,1777.4 582.1,1778.8 582.9,1780.2 583.7,1781.5 584.5,1782.8 585.3,1784.1 586.1,1785.3 586.9,1786.5 587.7,1787.7 588.5,1788.8 589.3,1790 590.1,1791.1 590.9,1792.1 591.7,1793.2 592.5,1794.2 593.3,1795.2 594.1,1796.1 594.9,1797 595.7,1798 596.5,1798.8 597.3,1799.7 598.1,1800.5 598.9,1801.4 599.7,1802.2 600.5,1802.9 601.3,1803.7 602.1,1804.4 602.9,1805.2 603.7,1805.9 604.5,1806.5 605.3,1807.2 606.1,1807.9 606.9,1808.5 607.7,1809.1 608.5,1809.7 609.3,1810.3 610.1,1810.9 610.9,1811.4 611.7,1812 612.6,1812.5 613.4,1813 614.2,1813.5 615,1814 615.8,1814.5 616.6,1814.9 617.4,1815.4 618.2,1815.8 619,1816.3 619.8,1816.7 620.6,1817.1 621.4,1817.5 622.2,1817.9 623,1818.3 623.8,1818.7 624.6,1819 625.4,1819.4 626.2,1819.7 627,1820.1 627.8,1820.4 628.6,1820.7 629.4,1821.1 630.2,1821.4 631,1821.7 631.8,1822 632.6,1822.3 633.4,1822.6 634.2,1822.8 635,1823.1 635.8,1823.4 636.6,1823.6 637.4,1823.9 638.2,1824.1 639,1824.4 639.8,1824.6 640.6,1824.9 641.4,1825.1 642.2,1825.3 643,1825.5 643.8,1825.8 644.6,1826 645.4,1826.2 646.3,1826.4 647.1,1826.6 647.9,1826.8 648.7,1827 649.5,1827.2 650.3,1827.3 651.1,1827.5 651.9,1827.7 652.7,1827.9 653.5,1828 654.3,1828.2 655.1,1828.4 655.9,1828.5 656.7,1828.7 657.5,1828.8 658.3,1829 659.1,1829.1 659.9,1829.3 660.7,1829.4 661.5,1829.6 662.3,1829.7 663.1,1829.9 663.9,1830 664.7,1830.1 665.5,1830.2 666.3,1830.4 667.1,1830.5 667.9,1830.6 668.7,1830.7 669.5,1830.9 670.3,1831 671.1,1831.1 671.9,1831.2 672.7,1831.3 673.5,1831.4 674.3,1831.5 675.1,1831.6 675.9,1831.7 676.7,1831.8 677.5,1831.9 678.3,1832 679.2,1832.1 680,1832.2 680.8,1832.3 681.6,1832.4 682.4,1832.5 683.2,1832.6 684,1832.7 684.8,1832.8 685.6,1832.8 686.4,1832.9 687.2,1833 688,1833.1 688.8,1833.2 689.6,1833.3 690.4,1833.3 691.2,1833.4 692,1833.5 692.8,1833.6 693.6,1833.6 694.4,1833.7 695.2,1833.8 696,1833.8 696.8,1833.9 697.6,1834 698.4,1834 699.2,1834.1 700,1834.2 700.8,1834.2 701.6,1834.3 702.4,1834.4 703.2,1834.4 704,1834.5 704.8,1834.5 705.6,1834.6 706.4,1834.7 707.2,1834.7 708,1834.8 708.8,1834.8 709.6,1834.9 710.4,1834.9 711.2,1835 712,1835 712.9,1835.1 713.7,1835.1 714.5,1835.2 715.3,1835.2 716.1,1835.3 716.9,1835.3 717.7,1835.4 718.5,1835.4 719.3,1835.5 720.1,1835.5 720.9,1835.6 721.7,1835.6 722.5,1835.7 723.3,1835.7 724.1,1835.7 724.9,1835.8 725.7,1835.8 726.5,1835.9 727.3,1835.9 728.1,1836 728.9,1836 729.7,1836 730.5,1836.1 731.3,1836.1 732.1,1836.1 732.9,1836.2 733.7,1836.2 734.5,1836.3 735.3,1836.3 736.1,1836.3 736.9,1836.4 737.7,1836.4 738.5,1836.4 739.3,1836.5 740.1,1836.5 740.9,1836.5 741.7,1836.6 742.5,1836.6 743.3,1836.6 744.1,1836.7 744.9,1836.7 745.7,1836.7 746.6,1836.8 747.4,1836.8 748.2,1836.8 749,1836.8 749.8,1836.9 750.6,1836.9 751.4,1836.9 752.2,1837 753,1837 753.8,1837 754.6,1837 755.4,1837.1 756.2,1837.1 757,1837.1 757.8,1837.1 758.6,1837.2 759.4,1837.2 760.2,1837.2 761,1837.2 761.8,1837.3 762.6,1837.3 763.4,1837.3 764.2,1837.3 765,1837.4 765.8,1837.4 766.6,1837.4 767.4,1837.4 768.2,1837.5 769,1837.5 769.8,1837.5 770.6,1837.5 771.4,1837.6 772.2,1837.6 773,1837.6 773.8,1837.6 774.6,1837.6 775.4,1837.7 776.2,1837.7 777,1837.7 777.8,1837.7 778.6,1837.7 779.5,1837.8 780.3,1837.8 781.1,1837.8 781.9,1837.8 782.7,1837.8 783.5,1837.9 784.3,1837.9 785.1,1837.9 785.9,1837.9 786.7,1837.9 787.5,1837.9 788.3,1838 789.1,1838 789.9,1838 790.7,1838 791.5,1838 792.3,1838 793.1,1838.1 793.9,1838.1 794.7,1838.1 795.5,1838.1 796.3,1838.1 797.1,1838.1 797.9,1838.2 798.7,1838.2 799.5,1838.2 800.3,1838.2 801.1,1838.2 801.9,1838.2 802.7,1838.3 803.5,1838.3 804.3,1838.3 805.1,1838.3 805.9,1838.3 806.7,1838.3 807.5,1838.3 808.3,1838.4 809.1,1838.4 809.9,1838.4 810.7,1838.4 811.5,1838.4 812.3,1838.4 813.2,1838.4 814,1838.5 814.8,1838.5 815.6,1838.5 816.4,1838.5 817.2,1838.5 818,1838.5 818.8,1838.5 819.6,1838.5 820.4,1838.6 821.2,1838.6 822,1838.6 822.8,1838.6 823.6,1838.6 824.4,1838.6 825.2,1838.6 826,1838.6 826.8,1838.6 827.6,1838.7 828.4,1838.7 829.2,1838.7 830,1838.7 830.8,1838.7 831.6,1838.7 832.4,1838.7 833.2,1838.7 834,1838.7 834.8,1838.8 835.6,1838.8 836.4,1838.8 837.2,1838.8 838,1838.8 838.8,1838.8 839.6,1838.8 840.4,1838.8 841.2,1838.8 842,1838.8 842.8,1838.9 843.6,1838.9 844.4,1838.9 845.2,1838.9 846,1838.9 846.9,1838.9 847.7,1838.9 848.5,1838.9 849.3,1838.9 850.1,1838.9 850.9,1839 851.7,1839 852.5,1839 853.3,1839 854.1,1839 854.9,1839 855.7,1839 856.5,1839 857.3,1839 858.1,1839 858.9,1839 859.7,1839 860.5,1839.1 861.3,1839.1 862.1,1839.1 862.9,1839.1 863.7,1839.1 864.5,1839.1 865.3,1839.1 866.1,1839.1 866.9,1839.1 867.7,1839.1 868.5,1839.1 869.3,1839.1 870.1,1839.2 870.9,1839.2 871.7,1839.2 872.5,1839.2 873.3,1839.2 874.1,1839.2 874.9,1839.2 875.7,1839.2 876.5,1839.2 877.3,1839.2 878.1,1839.2 878.9,1839.2 879.8,1839.2 880.6,1839.2 881.4,1839.3 882.2,1839.3 883,1839.3 883.8,1839.3 884.6,1839.3 885.4,1839.3 886.2,1839.3 887,1839.3 887.8,1839.3 888.6,1839.3 889.4,1839.3 890.2,1839.3 891,1839.3 891.8,1839.3 892.6,1839.3 893.4,1839.3 894.2,1839.4 895,1839.4 895.8,1839.4 896.6,1839.4 897.4,1839.4 898.2,1839.4 899,1839.4 899.8,1839.4 900.6,1839.4 901.4,1839.4 902.2,1839.4 903,1839.4 903.8,1839.4 904.6,1839.4 905.4,1839.4 906.2,1839.4 907,1839.4 907.8,1839.5 908.6,1839.5 909.4,1839.5 910.2,1839.5 911,1839.5 911.8,1839.5 912.6,1839.5 913.5,1839.5 914.3,1839.5 915.1,1839.5 915.9,1839.5 916.7,1839.5 917.5,1839.5 918.3,1839.5 919.1,1839.5 919.9,1839.5 920.7,1839.5 921.5,1839.5 922.3,1839.5 923.1,1839.5 923.9,1839.6 924.7,1839.6 925.5,1839.6 926.3,1839.6 927.1,1839.6 927.9,1839.6 928.7,1839.6 929.5,1839.6 930.3,1839.6 931.1,1839.6 931.9,1839.6 932.7,1839.6 933.5,1839.6 934.3,1839.6 935.1,1839.6 935.9,1839.6 936.7,1839.6 937.5,1839.6 938.3,1839.6 939.1,1839.6 939.9,1839.6 940.7,1839.6 941.5,1839.7 942.3,1839.7 943.1,1839.7 943.9,1839.7 944.7,1839.7 945.5,1839.7 946.3,1839.7 947.2,1839.7 948,1839.7 948.8,1839.7 949.6,1839.7 950.4,1839.7 951.2,1839.7 952,1839.7 952.8,1839.7 953.6,1839.7 954.4,1839.7 955.2,1839.7 956,1839.7 956.8,1839.7 957.6,1839.7 958.4,1839.7 959.2,1839.7 960,1839.7 960.8,1839.7 961.6,1839.7 962.4,1839.8 963.2,1839.8 964,1839.8 964.8,1839.8 965.6,1839.8 966.4,1839.8 967.2,1839.8 968,1839.8 968.8,1839.8 969.6,1839.8 970.4,1839.8 971.2,1839.8 972,1839.8 972.8,1839.8 973.6,1839.8 974.4,1839.8 975.2,1839.8 976,1839.8 976.8,1839.8 977.6,1839.8 978.4,1839.8 979.2,1839.8 980.1,1839.8 980.9,1839.8 981.7,1839.8 982.5,1839.8 983.3,1839.8 984.1,1839.8 984.9,1839.8 985.7,1839.8 986.5,1839.9 987.3,1839.9 988.1,1839.9 988.9,1839.9 989.7,1839.9 990.5,1839.9 991.3,1839.9 992.1,1839.9 992.9,1839.9 993.7,1839.9 994.5,1839.9 995.3,1839.9 996.1,1839.9 996.9,1839.9 997.7,1839.9 998.5,1839.9 999.3,1839.9 1000.1,1839.9 1000.9,1839.9 1001.7,1839.9 1002.5,1839.9 1003.3,1839.9 1004.1,1839.9 1004.9,1839.9 1005.7,1839.9 1006.5,1839.9 1007.3,1839.9 1008.1,1839.9 1008.9,1839.9 1009.7,1839.9 1010.5,1839.9 1011.3,1839.9 1012.1,1839.9 1012.9,1839.9 1013.8,1839.9 1014.6,1839.9 1015.4,1840 1016.2,1840 1017,1840 1017.8,1840 1018.6,1840 1019.4,1840 1020.2,1840 1021,1840 1021.8,1840 1022.6,1840 1023.4,1840 1024.2,1840 1025,1840 1025.8,1840 1026.6,1840 1027.4,1840 1028.2,1840 1029,1840 1029.8,1840 1030.6,1840 1031.4,1840 1032.2,1840 1033,1840 1033.8,1840 1034.6,1840 1035.4,1840 1036.2,1840 1037,1840 1037.8,1840 1038.6,1840 1039.4,1840 1040.2,1840 1041,1840 1041.8,1840 1042.6,1840 1043.4,1840 1044.2,1840 1045,1840 1045.8,1840 1046.6,1840 1047.5,1840 1048.3,1840 1049.1,1840 1049.9,1840 1050.7,1840.1 1051.5,1840.1 1052.3,1840.1 1053.1,1840.1 1053.9,1840.1 1054.7,1840.1 1055.5,1840.1 1056.3,1840.1 1057.1,1840.1 1057.9,1840.1 1058.7,1840.1 1059.5,1840.1 1060.3,1840.1 1061.1,1840.1 1061.9,1840.1 1062.7,1840.1 1063.5,1840.1 1064.3,1840.1 1065.1,1840.1 1065.9,1840.1 1066.7,1840.1 1067.5,1840.1 1068.3,1840.1 1069.1,1840.1 1069.9,1840.1 1070.7,1840.1 1071.5,1840.1 1072.3,1840.1 1073.1,1840.1 1073.9,1840.1 1074.7,1840.1 1075.5,1840.1 1076.3,1840.1 1077.1,1840.1 1077.9,1840.1 1078.7,1840.1 1079.5,1840.1 1080.4,1840.1 1081.2,1840.1 1082,1840.1 1082.8,1840.1 1083.6,1840.1 1084.4,1840.1 1085.2,1840.1 1086,1840.1 1086.8,1840.1 1087.6,1840.1 1088.4,1840.1 1089.2,1840.1 1090,1840.1 1090.8,1840.1 1091.6,1840.1 1092.4,1840.1 1093.2,1840.1 1094,1840.1 1094.8,1840.1 1095.6,1840.2 1096.4,1840.2 1097.2,1840.2 1098,1840.2 1098.8,1840.2 1099.6,1840.2 1100.4,1840.2 1101.2,1840.2 1102,1840.2 1102.8,1840.2 1103.6,1840.2 1104.4,1840.2 1105.2,1840.2 1106,1840.2 1106.8,1840.2 1107.6,1840.2 1108.4,1840.2 1109.2,1840.2 1110,1840.2 1110.8,1840.2 1111.6,1840.2 1112.4,1840.2 1113.2,1840.2 1114.1,1840.2 1114.9,1840.2 1115.7,1840.2 1116.5,1840.2 1117.3,1840.2 1118.1,1840.2 1118.9,1840.2 1119.7,1840.2 1120.5,1840.2 1121.3,1840.2 1122.1,1840.2 1122.9,1840.2 1123.7,1840.2 1124.5,1840.2 1125.3,1840.2 1126.1,1840.2 1126.9,1840.2 1127.7,1840.2 1128.5,1840.2 1129.3,1840.2 1130.1,1840.2 1130.9,1840.2 1131.7,1840.2 1132.5,1840.2 1133.3,1840.2 1134.1,1840.2 1134.9,1840.2 1135.7,1840.2 1136.5,1840.2 1137.3,1840.2 1138.1,1840.2 1138.9,1840.2 1139.7,1840.2 1140.5,1840.2 1141.3,1840.2 1142.1,1840.2 1142.9,1840.2 1143.7,1840.2 1144.5,1840.2 1145.3,1840.2 1146.1,1840.2 1146.9,1840.2 1147.8,1840.2 1148.6,1840.2 1149.4,1840.2 1150.2,1840.2 1151,1840.2 1151.8,1840.2 1152.6,1840.2 1153.4,1840.2 1154.2,1840.3 1155,1840.3 1155.8,1840.3 1156.6,1840.3 1157.4,1840.3 1158.2,1840.3 1159,1840.3 1159.8,1840.3 1160.6,1840.3 1161.4,1840.3 1162.2,1840.3 1163,1840.3 1163.8,1840.3 1164.6,1840.3 1165.4,1840.3 1166.2,1840.3 1167,1840.3 1167.8,1840.3 1168.6,1840.3 1169.4,1840.3 1170.2,1840.3 1171,1840.3 1171.8,1840.3 1172.6,1840.3 1173.4,1840.3 1174.2,1840.3 1175,1840.3 1175.8,1840.3 1176.6,1840.3 1177.4,1840.3 1178.2,1840.3 1179,1840.3 1179.8,1840.3 1180.7,1840.3 1181.5,1840.3 1182.3,1840.3 1183.1,1840.3 1183.9,1840.3 1184.7,1840.3 1185.5,1840.3 1186.3,1840.3 1187.1,1840.3 1187.9,1840.3 1188.7,1840.3 1189.5,1840.3 1190.3,1840.3 1191.1,1840.3 1191.9,1840.3 1192.7,1840.3 1193.5,1840.3 1194.3,1840.3 1195.1,1840.3 1195.9,1840.3 1196.7,1840.3 1197.5,1840.3 1198.3,1840.3 1199.1,1840.3 1199.9,1840.3 1200.7,1840.3 1201.5,1840.3 1202.3,1840.3 1203.1,1840.3 1203.9,1840.3 1204.7,1840.3 1205.5,1840.3 1206.3,1840.3 1207.1,1840.3 1207.9,1840.3 1208.7,1840.3 1209.5,1840.3 1210.3,1840.3 1211.1,1840.3 1211.9,1840.3 1212.7,1840.3 1213.5,1840.3 1214.4,1840.3 1215.2,1840.3 1216,1840.3 1216.8,1840.3 1217.6,1840.3 1218.4,1840.3 1219.2,1840.3 1220,1840.3 1220.8,1840.3 1221.6,1840.3 1222.4,1840.3 1223.2,1840.3 1224,1840.3 1224.8,1840.3 1225.6,1840.3 1226.4,1840.3 1227.2,1840.3 1228,1840.3 1228.8,1840.3 1229.6,1840.3 1230.4,1840.3 1231.2,1840.3 1232,1840.3 1232.8,1840.3 1233.6,1840.3 1234.4,1840.3 1235.2,1840.3 1236,1840.3 1236.8,1840.3 1237.6,1840.4 1238.4,1840.4 1239.2,1840.4 1240,1840.4 1240.8,1840.4 1241.6,1840.4 1242.4,1840.4 1243.2,1840.4 1244,1840.4 1244.8,1840.4 1245.6,1840.4 1246.4,1840.4 1247.2,1840.4 1248.1,1840.4 1248.9,1840.4 1249.7,1840.4 1250.5,1840.4 1251.3,1840.4 1252.1,1840.4 1252.9,1840.4 1253.7,1840.4 1254.5,1840.4 1255.3,1840.4 1256.1,1840.4 1256.9,1840.4 1257.7,1840.4 1258.5,1840.4 1259.3,1840.4 1260.1,1840.4 1260.9,1840.4 1261.7,1840.4 1262.5,1840.4 1263.3,1840.4 1264.1,1840.4 1264.9,1840.4 1265.7,1840.4 1266.5,1840.4 1267.3,1840.4 1268.1,1840.4 1268.9,1840.4 1269.7,1840.4 1270.5,1840.4 1271.3,1840.4 1272.1,1840.4 1272.9,1840.4 1273.7,1840.4 1274.5,1840.4 1275.3,1840.4 1276.1,1840.4 1276.9,1840.4 1277.7,1840.4 1278.5,1840.4 1279.3,1840.4 1280.1,1840.4 1281,1840.4 1281.8,1840.4 1282.6,1840.4 1283.4,1840.4 1284.2,1840.4 1285,1840.4 1285.8,1840.4 1286.6,1840.4 1287.4,1840.4 1288.2,1840.4 1289,1840.4 1289.8,1840.4 1290.6,1840.4 1291.4,1840.4 1292.2,1840.4 1293,1840.4 1293.8,1840.4 1294.6,1840.4 1295.4,1840.4 1296.2,1840.4 1297,1840.4 1297.8,1840.4 1298.6,1840.4 1299.4,1840.4 1300.2,1840.4 1301,1840.4 1301.8,1840.4 1302.6,1840.4 1303.4,1840.4 1304.2,1840.4 1305,1840.4 1305.8,1840.4 1306.6,1840.4 1307.4,1840.4 1308.2,1840.4 1309,1840.4 1309.8,1840.4 1310.6,1840.4 1311.4,1840.4 1312.2,1840.4 1313,1840.4 1313.8,1840.4 1314.7,1840.4 1315.5,1840.4 1316.3,1840.4 1317.1,1840.4 1317.9,1840.4 1318.7,1840.4 1319.5,1840.4 1320.3,1840.4 1321.1,1840.4 1321.9,1840.4 1322.7,1840.4 1323.5,1840.4 1324.3,1840.4 1325.1,1840.4 1325.9,1840.4 1326.7,1840.4 1327.5,1840.4 1328.3,1840.4 1329.1,1840.4 1329.9,1840.4 1330.7,1840.4 1331.5,1840.4 1332.3,1840.4 1333.1,1840.4 1333.9,1840.4 1334.7,1840.4 1335.5,1840.4 1336.3,1840.4 1337.1,1840.4 1337.9,1840.4 1338.7,1840.4 1339.5,1840.4 1340.3,1840.4 1341.1,1840.4 1341.9,1840.4 1342.7,1840.4 1343.5,1840.4 1344.3,1840.4 1345.1,1840.4 1345.9,1840.4 1346.7,1840.4 1347.5,1840.4 1348.4,1840.4 1349.2,1840.4 1350,1840.4 1350.8,1840.4 1351.6,1840.4 1352.4,1840.4 1353.2,1840.4 1354,1840.4 1354.8,1840.4 1355.6,1840.4 1356.4,1840.4 1357.2,1840.4 1358,1840.4 1358.8,1840.4 1359.6,1840.4 1360.4,1840.4 1361.2,1840.4 1362,1840.4 1362.8,1840.4 1363.6,1840.4 1364.4,1840.4 1365.2,1840.4 1366,1840.4 1366.8,1840.4 1367.6,1840.5 1368.4,1840.5 1369.2,1840.5 1370,1840.5 1370.8,1840.5 1371.6,1840.5 1372.4,1840.5 1373.2,1840.5 1374,1840.5 1374.8,1840.5 1375.6,1840.5 1376.4,1840.5 1377.2,1840.5 1378,1840.5 1378.8,1840.5 1379.6,1840.5 1380.4,1840.5 1381.3,1840.5 1382.1,1840.5 1382.9,1840.5 1383.7,1840.5 1384.5,1840.5 1385.3,1840.5 1386.1,1840.5 1386.9,1840.5 1387.7,1840.5 1388.5,1840.5 1389.3,1840.5 1390.1,1840.5 1390.9,1840.5 1391.7,1840.5 1392.5,1840.5 1393.3,1840.5 1394.1,1840.5 1394.9,1840.5 1395.7,1840.5 1396.5,1840.5 1397.3,1840.5 1398.1,1840.5 1398.9,1840.5 1399.7,1840.5 1400.5,1840.5 1401.3,1840.5 1402.1,1840.5 1402.9,1840.5 1403.7,1840.5 1404.5,1840.5"/>
<polyline stroke="#2346f5" stroke-width="5.6" points="361.4,1836.8 362.2,1836.8 363,1836.8 363.8,1836.8 364.6,1836.8 365.4,1836.7 366.2,1836.7 367,1836.7 367.8,1836.7 368.6,1836.7 369.4,1836.6 370.2,1836.6 371,1836.6 371.8,1836.6 372.6,1836.6 373.4,1836.5 374.2,1836.5 375,1836.5 375.8,1836.5 376.6,1836.5 377.4,1836.4 378.3,1836.4 379.1,1836.4 379.9,1836.4 380.7,1836.4 381.5,1836.3 382.3,1836.3 383.1,1836.3 383.9,1836.3 384.7,1836.3 385.5,1836.2 386.3,1836.2 387.1,1836.2 387.9,1836.2 388.7,1836.2 389.5,1836.1 390.3,1836.1 391.1,1836.1 391.9,1836.1 392.7,1836 393.5,1836 394.3,1836 395.1,1836 395.9,1835.9 396.7,1835.9 397.5,1835.9 398.3,1835.9 399.1,1835.9 399.9,1835.8 400.7,1835.8 401.5,1835.8 402.3,1835.8 403.1,1835.7 403.9,1835.7 404.7,1835.7 405.5,1835.7 406.3,1835.6 407.1,1835.6 407.9,1835.6 408.7,1835.5 409.5,1835.5 410.3,1835.5 411.1,1835.5 412,1835.4 412.8,1835.4 413.6,1835.4 414.4,1835.4 415.2,1835.3 416,1835.3 416.8,1835.3 417.6,1835.2 418.4,1835.2 419.2,1835.2 420,1835.1 420.8,1835.1 421.6,1835.1 422.4,1835.1 423.2,1835 424,1835 424.8,1835 425.6,1834.9 426.4,1834.9 427.2,1834.9 428,1834.8 428.8,1834.8 429.6,1834.8 430.4,1834.7 431.2,1834.7 432,1834.7 432.8,1834.6 433.6,1834.6 434.4,1834.6 435.2,1834.5 436,1834.5 436.8,1834.5 437.6,1834.4 438.4,1834.4 439.2,1834.4 440,1834.3 440.8,1834.3 441.6,1834.2 442.4,1834.2 443.2,1834.2 444,1834.1 444.8,1834.1 445.7,1834.1 446.5,1834 447.3,1834 448.1,1833.9 448.9,1833.9 449.7,1833.9 450.5,1833.8 451.3,1833.8 452.1,1833.7 452.9,1833.7 453.7,1833.6 454.5,1833.6 455.3,1833.6 456.1,1833.5 456.9,1833.5 457.7,1833.4 458.5,1833.4 459.3,1833.3 460.1,1833.3 460.9,1833.2 461.7,1833.2 462.5,1833.2 463.3,1833.1 464.1,1833.1 464.9,1833 465.7,1833 466.5,1832.9 467.3,1832.9 468.1,1832.8 468.9,1832.8 469.7,1832.7 470.5,1832.7 471.3,1832.6 472.1,1832.6 472.9,1832.5 473.7,1832.5 474.5,1832.4 475.3,1832.3 476.1,1832.3 476.9,1832.2 477.7,1832.2 478.6,1832.1 479.4,1832.1 480.2,1832 481,1831.9 481.8,1831.9 482.6,1831.8 483.4,1831.8 484.2,1831.7 485,1831.6 485.8,1831.6 486.6,1831.5 487.4,1831.5 488.2,1831.4 489,1831.3 489.8,1831.3 490.6,1831.2 491.4,1831.1 492.2,1831.1 493,1831 493.8,1830.9 494.6,1830.9 495.4,1830.8 496.2,1830.7 497,1830.6 497.8,1830.6 498.6,1830.5 499.4,1830.4 500.2,1830.3 501,1830.3 501.8,1830.2 502.6,1830.1 503.4,1830 504.2,1830 505,1829.9 505.8,1829.8 506.6,1829.7 507.4,1829.6 508.2,1829.6 509,1829.5 509.8,1829.4 510.6,1829.3 511.4,1829.2 512.3,1829.1 513.1,1829 513.9,1828.9 514.7,1828.8 515.5,1828.8 516.3,1828.7 517.1,1828.6 517.9,1828.5 518.7,1828.4 519.5,1828.3 520.3,1828.2 521.1,1828.1 521.9,1828 522.7,1827.9 523.5,1827.8 524.3,1827.7 525.1,1827.6 525.9,1827.5 526.7,1827.3 527.5,1827.2 528.3,1827.1 529.1,1827 529.9,1826.9 530.7,1826.8 531.5,1826.7 532.3,1826.5 533.1,1826.4 533.9,1826.3 534.7,1826.2 535.5,1826.1 536.3,1825.9 537.1,1825.8 537.9,1825.7 538.7,1825.5 539.5,1825.4 540.3,1825.3 541.1,1825.1 541.9,1825 542.7,1824.9 543.5,1824.7 544.3,1824.6 545.1,1824.4 546,1824.3 546.8,1824.1 547.6,1824 548.4,1823.8 549.2,1823.7 550,1823.5 550.8,1823.4 551.6,1823.2 552.4,1823 553.2,1822.9 554,1822.7 554.8,1822.5 555.6,1822.3 556.4,1822.2 557.2,1822 558,1821.8 558.8,1821.6 559.6,1821.4 560.4,1821.3 561.2,1821.1 562,1820.9 562.8,1820.7 563.6,1820.5 564.4,1820.3 565.2,1820.1 566,1819.9 566.8,1819.6 567.6,1819.4 568.4,1819.2 569.2,1819 570,1818.8 570.8,1818.5 571.6,1818.3 572.4,1818.1 573.2,1817.8 574,1817.6 574.8,1817.4 575.6,1817.1 576.4,1816.9 577.2,1816.6 578,1816.3 578.9,1816.1 579.7,1815.8 580.5,1815.5 581.3,1815.3 582.1,1815 582.9,1814.7 583.7,1814.4 584.5,1814.1 585.3,1813.8 586.1,1813.5 586.9,1813.2 587.7,1812.9 588.5,1812.5 589.3,1812.2 590.1,1811.9 590.9,1811.5 591.7,1811.2 592.5,1810.9 593.3,1810.5 594.1,1810.1 594.9,1809.8 595.7,1809.4 596.5,1809 597.3,1808.6 598.1,1808.2 598.9,1807.8 599.7,1807.4 600.5,1807 601.3,1806.6 602.1,1806.2 602.9,1805.7 603.7,1805.3 604.5,1804.9 605.3,1804.4 606.1,1803.9 606.9,1803.4 607.7,1803 608.5,1802.5 609.3,1802 610.1,1801.5 610.9,1800.9 611.7,1800.4 612.6,1799.9 613.4,1799.3 614.2,1798.7 615,1798.2 615.8,1797.6 616.6,1797 617.4,1796.4 618.2,1795.8 619,1795.1 619.8,1794.5 620.6,1793.9 621.4,1793.2 622.2,1792.5 623,1791.8 623.8,1791.1 624.6,1790.4 625.4,1789.7 626.2,1788.9 627,1788.1 627.8,1787.4 628.6,1786.6 629.4,1785.8 630.2,1784.9 631,1784.1 631.8,1783.2 632.6,1782.4 633.4,1781.5 634.2,1780.6 635,1779.6 635.8,1778.7 636.6,1777.7 637.4,1776.7 638.2,1775.7 639,1774.7 639.8,1773.6 640.6,1772.5 641.4,1771.4 642.2,1770.3 643,1769.2 643.8,1768 644.6,1766.8 645.4,1765.6 646.3,1764.4 647.1,1763.1 647.9,1761.8 648.7,1760.5 649.5,1759.2 650.3,1757.8 651.1,1756.4 651.9,1755 652.7,1753.5 653.5,1752 654.3,1750.5 655.1,1749 655.9,1747.4 656.7,1745.8 657.5,1744.2 658.3,1742.5 659.1,1740.8 659.9,1739.1 660.7,1737.3 661.5,1735.5 662.3,1733.7 663.1,1731.8 663.9,1729.9 664.7,1728 665.5,1726.1 666.3,1724.1 667.1,1722 667.9,1720 668.7,1717.9 669.5,1715.8 670.3,1713.6 671.1,1711.4 671.9,1709.2 672.7,1707 673.5,1704.7 674.3,1702.4 675.1,1700.1 675.9,1697.8 676.7,1695.4 677.5,1693 678.3,1690.6 679.2,1688.2 680,1685.7 680.8,1683.3 681.6,1680.8 682.4,1678.3 683.2,1675.8 684,1673.4 684.8,1670.9 685.6,1668.4 686.4,1665.9 687.2,1663.5 688,1661.1 688.8,1658.6 689.6,1656.3 690.4,1653.9 691.2,1651.6 692,1649.3 692.8,1647.1 693.6,1644.9 694.4,1642.7 695.2,1640.7 696,1638.7 696.8,1636.7 697.6,1634.9 698.4,1633.1 699.2,1631.4 700,1629.8 700.8,1628.3 701.6,1626.9 702.4,1625.6 703.2,1624.4 704,1623.3 704.8,1622.4 705.6,1621.5 706.4,1620.8 707.2,1620.2 708,1619.8 708.8,1619.5 709.6,1619.3 710.4,1619.2 711.2,1619.3 712,1619.5 712.9,1619.8 713.7,1620.2 714.5,1620.8 715.3,1621.5 716.1,1622.4 716.9,1623.3 717.7,1624.4 718.5,1625.6 719.3,1626.9 720.1,1628.3 720.9,1629.8 721.7,1631.4 722.5,1633.1 723.3,1634.9 724.1,1636.7 724.9,1638.7 725.7,1640.7 726.5,1642.7 727.3,1644.9 728.1,1647.1 728.9,1649.3 729.7,1651.6 730.5,1653.9 731.3,1656.3 732.1,1658.6 732.9,1661.1 733.7,1663.5 734.5,1665.9 735.3,1668.4 736.1,1670.9 736.9,1673.4 737.7,1675.8 738.5,1678.3 739.3,1680.8 740.1,1683.3 740.9,1685.7 741.7,1688.2 742.5,1690.6 743.3,1693 744.1,1695.4 744.9,1697.8 745.7,1700.1 746.6,1702.4 747.4,1704.7 748.2,1707 749,1709.2 749.8,1711.4 750.6,1713.6 751.4,1715.8 752.2,1717.9 753,1720 753.8,1722 754.6,1724.1 755.4,1726.1 756.2,1728 757,1729.9 757.8,1731.8 758.6,1733.7 759.4,1735.5 760.2,1737.3 761,1739.1 761.8,1740.8 762.6,1742.5 763.4,1744.2 764.2,1745.8 765,1747.4 765.8,1749 766.6,1750.5 767.4,1752 768.2,1753.5 769,1755 769.8,1756.4 770.6,1757.8 771.4,1759.2 772.2,1760.5 773,1761.8 773.8,1763.1 774.6,1764.4 775.4,1765.6 776.2,1766.8 777,1768 777.8,1769.2 778.6,1770.3 779.5,1771.4 780.3,1772.5 781.1,1773.6 781.9,1774.7 782.7,1775.7 783.5,1776.7 784.3,1777.7 785.1,1778.7 785.9,1779.6 786.7,1780.6 787.5,1781.5 788.3,1782.4 789.1,1783.2 789.9,1784.1 790.7,1784.9 791.5,1785.8 792.3,1786.6 793.1,1787.4 793.9,1788.1 794.7,1788.9 795.5,1789.7 796.3,1790.4 797.1,1791.1 797.9,1791.8 798.7,1792.5 799.5,1793.2 800.3,1793.9 801.1,1794.5 801.9,1795.1 802.7,1795.8 803.5,1796.4 804.3,1797 805.1,1797.6 805.9,1798.2 806.7,1798.7 807.5,1799.3 808.3,1799.9 809.1,1800.4 809.9,1800.9 810.7,1801.5 811.5,1802 812.3,1802.5 813.2,1803 814,1803.4 814.8,1803.9 815.6,1804.4 816.4,1804.9 817.2,1805.3 818,1805.7 818.8,1806.2 819.6,1806.6 820.4,1807 821.2,1807.4 822,1807.8 822.8,1808.2 823.6,1808.6 824.4,1809 825.2,1809.4 826,1809.8 826.8,1810.1 827.6,1810.5 828.4,1810.9 829.2,1811.2 830,1811.5 830.8,1811.9 831.6,1812.2 832.4,1812.5 833.2,1812.9 834,1813.2 834.8,1813.5 835.6,1813.8 836.4,1814.1 837.2,1814.4 838,1814.7 838.8,1815 839.6,1815.3 840.4,1815.5 841.2,1815.8 842,1816.1 842.8,1816.3 843.6,1816.6 844.4,1816.9 845.2,1817.1 846,1817.4 846.9,1817.6 847.7,1817.8 848.5,1818.1 849.3,1818.3 850.1,1818.5 850.9,1818.8 851.7,1819 852.5,1819.2 853.3,1819.4 854.1,1819.6 854.9,1819.9 855.7,1820.1 856.5,1820.3 857.3,1820.5 858.1,1820.7 858.9,1820.9 859.7,1821.1 860.5,1821.3 861.3,1821.4 862.1,1821.6 862.9,1821.8 863.7,1822 864.5,1822.2 865.3,1822.3 866.1,1822.5 866.9,1822.7 867.7,1822.9 868.5,1823 869.3,1823.2 870.1,1823.4 870.9,1823.5 871.7,1823.7 872.5,1823.8 873.3,1824 874.1,1824.1 874.9,1824.3 875.7,1824.4 876.5,1824.6 877.3,1824.7 878.1,1824.9 878.9,1825 879.8,1825.1 880.6,1825.3 881.4,1825.4 882.2,1825.5 883,1825.7 883.8,1825.8 884.6,1825.9 885.4,1826.1 886.2,1826.2 887,1826.3 887.8,1826.4 888.6,1826.5 889.4,1826.7 890.2,1826.8 891,1826.9 891.8,1827 892.6,1827.1 893.4,1827.2 894.2,1827.3 895,1827.5 895.8,1827.6 896.6,1827.7 897.4,1827.8 898.2,1827.9 899,1828 899.8,1828.1 900.6,1828.2 901.4,1828.3 902.2,1828.4 903,1828.5 903.8,1828.6 904.6,1828.7 905.4,1828.8 906.2,1828.8 907,1828.9 907.8,1829 908.6,1829.1 909.4,1829.2 910.2,1829.3 911,1829.4 911.8,1829.5 912.6,1829.6 913.5,1829.6 914.3,1829.7 915.1,1829.8 915.9,1829.9 916.7,1830 917.5,1830 918.3,1830.1 919.1,1830.2 919.9,1830.3 920.7,1830.3 921.5,1830.4 922.3,1830.5 923.1,1830.6 923.9,1830.6 924.7,1830.7 925.5,1830.8 926.3,1830.9 927.1,1830.9 927.9,1831 928.7,1831.1 929.5,1831.1 930.3,1831.2 931.1,1831.3 931.9,1831.3 932.7,1831.4 933.5,1831.5 934.3,1831.5 935.1,1831.6 935.9,1831.6 936.7,1831.7 937.5,1831.8 938.3,1831.8 939.1,1831.9 939.9,1831.9 940.7,1832 941.5,1832.1 942.3,1832.1 943.1,1832.2 943.9,1832.2 944.7,1832.3 945.5,1832.3 946.3,1832.4 947.2,1832.5 948,1832.5 948.8,1832.6 949.6,1832.6 950.4,1832.7 951.2,1832.7 952,1832.8 952.8,1832.8 953.6,1832.9 954.4,1832.9 955.2,1833 956,1833 956.8,1833.1 957.6,1833.1 958.4,1833.2 959.2,1833.2 960,1833.2 960.8,1833.3 961.6,1833.3 962.4,1833.4 963.2,1833.4 964,1833.5 964.8,1833.5 965.6,1833.6 966.4,1833.6 967.2,1833.6 968,1833.7 968.8,1833.7 969.6,1833.8 970.4,1833.8 971.2,1833.9 972,1833.9 972.8,1833.9 973.6,1834 974.4,1834 975.2,1834.1 976,1834.1 976.8,1834.1 977.6,1834.2 978.4,1834.2 979.2,1834.2 980.1,1834.3 980.9,1834.3 981.7,1834.4 982.5,1834.4 983.3,1834.4 984.1,1834.5 984.9,1834.5 985.7,1834.5 986.5,1834.6 987.3,1834.6 988.1,1834.6 988.9,1834.7 989.7,1834.7 990.5,1834.7 991.3,1834.8 992.1,1834.8 992.9,1834.8 993.7,1834.9 994.5,1834.9 995.3,1834.9 996.1,1835 996.9,1835 997.7,1835 998.5,1835.1 999.3,1835.1 1000.1,1835.1 1000.9,1835.1 1001.7,1835.2 1002.5,1835.2 1003.3,1835.2 1004.1,1835.3 1004.9,1835.3 1005.7,1835.3 1006.5,1835.4 1007.3,1835.4 1008.1,1835.4 1008.9,1835.4 1009.7,1835.5 1010.5,1835.5 1011.3,1835.5 1012.1,1835.5 1012.9,1835.6 1013.8,1835.6 1014.6,1835.6 1015.4,1835.7 1016.2,1835.7 1017,1835.7 1017.8,1835.7 1018.6,1835.8 1019.4,1835.8 1020.2,1835.8 1021,1835.8 1021.8,1835.9 1022.6,1835.9 1023.4,1835.9 1024.2,1835.9 1025,1835.9 1025.8,1836 1026.6,1836 1027.4,1836 1028.2,1836 1029,1836.1 1029.8,1836.1 1030.6,1836.1 1031.4,1836.1 1032.2,1836.2 1033,1836.2 1033.8,1836.2 1034.6,1836.2 1035.4,1836.2 1036.2,1836.3 1037,1836.3 1037.8,1836.3 1038.6,1836.3 1039.4,1836.3 1040.2,1836.4 1041,1836.4 1041.8,1836.4 1042.6,1836.4 1043.4,1836.4 1044.2,1836.5 1045,1836.5 1045.8,1836.5 1046.6,1836.5 1047.5,1836.5 1048.3,1836.6 1049.1,1836.6 1049.9,1836.6 1050.7,1836.6 1051.5,1836.6 1052.3,1836.7 1053.1,1836.7 1053.9,1836.7 1054.7,1836.7 1055.5,1836.7 1056.3,1836.8 1057.1,1836.8 1057.9,1836.8 1058.7,1836.8 1059.5,1836.8 1060.3,1836.8 1061.1,1836.9 1061.9,1836.9 1062.7,1836.9 1063.5,1836.9 1064.3,1836.9 1065.1,1836.9 1065.9,1837 1066.7,1837 1067.5,1837 1068.3,1837 1069.1,1837 1069.9,1837 1070.7,1837.1 1071.5,1837.1 1072.3,1837.1 1073.1,1837.1 1073.9,1837.1 1074.7,1837.1 1075.5,1837.2 1076.3,1837.2 1077.1,1837.2 1077.9,1837.2 1078.7,1837.2 1079.5,1837.2 1080.4,1837.2 1081.2,1837.3 1082,1837.3 1082.8,1837.3 1083.6,1837.3 1084.4,1837.3 1085.2,1837.3 1086,1837.3 1086.8,1837.4 1087.6,1837.4 1088.4,1837.4 1089.2,1837.4 1090,1837.4 1090.8,1837.4 1091.6,1837.4 1092.4,1837.5 1093.2,1837.5 1094,1837.5 1094.8,1837.5 1095.6,1837.5 1096.4,1837.5 1097.2,1837.5 1098,1837.5 1098.8,1837.6 1099.6,1837.6 1100.4,1837.6 1101.2,1837.6 1102,1837.6 1102.8,1837.6 1103.6,1837.6 1104.4,1837.6 1105.2,1837.7 1106,1837.7 1106.8,1837.7 1107.6,1837.7 1108.4,1837.7 1109.2,1837.7 1110,1837.7 1110.8,1837.7 1111.6,1837.8 1112.4,1837.8 1113.2,1837.8 1114.1,1837.8 1114.9,1837.8 1115.7,1837.8 1116.5,1837.8 1117.3,1837.8 1118.1,1837.8 1118.9,1837.9 1119.7,1837.9 1120.5,1837.9 1121.3,1837.9 1122.1,1837.9 1122.9,1837.9 1123.7,1837.9 1124.5,1837.9 1125.3,1837.9 1126.1,1838 1126.9,1838 1127.7,1838 1128.5,1838 1129.3,1838 1130.1,1838 1130.9,1838 1131.7,1838 1132.5,1838 1133.3,1838 1134.1,1838.1 1134.9,1838.1 1135.7,1838.1 1136.5,1838.1 1137.3,1838.1 1138.1,1838.1 1138.9,1838.1 1139.7,1838.1 1140.5,1838.1 1141.3,1838.1 1142.1,1838.1 1142.9,1838.2 1143.7,1838.2 1144.5,1838.2 1145.3,1838.2 1146.1,1838.2 1146.9,1838.2 1147.8,1838.2 1148.6,1838.2 1149.4,1838.2 1150.2,1838.2 1151,1838.2 1151.8,1838.3 1152.6,1838.3 1153.4,1838.3 1154.2,1838.3 1155,1838.3 1155.8,1838.3 1156.6,1838.3 1157.4,1838.3 1158.2,1838.3 1159,1838.3 1159.8,1838.3 1160.6,1838.4 1161.4,1838.4 1162.2,1838.4 1163,1838.4 1163.8,1838.4 1164.6,1838.4 1165.4,1838.4 1166.2,1838.4 1167,1838.4 1167.8,1838.4 1168.6,1838.4 1169.4,1838.4 1170.2,1838.4 1171,1838.5 1171.8,1838.5 1172.6,1838.5 1173.4,1838.5 1174.2,1838.5 1175,1838.5 1175.8,1838.5 1176.6,1838.5 1177.4,1838.5 1178.2,1838.5 1179,1838.5 1179.8,1838.5 1180.7,1838.5 1181.5,1838.6 1182.3,1838.6 1183.1,1838.6 1183.9,1838.6 1184.7,1838.6 1185.5,1838.6 1186.3,1838.6 1187.1,1838.6 1187.9,1838.6 1188.7,1838.6 1189.5,1838.6 1190.3,1838.6 1191.1,1838.6 1191.9,1838.6 1192.7,1838.6 1193.5,1838.7 1194.3,1838.7 1195.1,1838.7 1195.9,1838.7 1196.7,1838.7 1197.5,1838.7 1198.3,1838.7 1199.1,1838.7 1199.9,1838.7 1200.7,1838.7 1201.5,1838.7 1202.3,1838.7 1203.1,1838.7 1203.9,1838.7 1204.7,1838.7 1205.5,1838.8 1206.3,1838.8 1207.1,1838.8 1207.9,1838.8 1208.7,1838.8 1209.5,1838.8 1210.3,1838.8 1211.1,1838.8 1211.9,1838.8 1212.7,1838.8 1213.5,1838.8 1214.4,1838.8 1215.2,1838.8 1216,1838.8 1216.8,1838.8 1217.6,1838.8 1218.4,1838.8 1219.2,1838.9 1220,1838.9 1220.8,1838.9 1221.6,1838.9 1222.4,1838.9 1223.2,1838.9 1224,1838.9 1224.8,1838.9 1225.6,1838.9 1226.4,1838.9 1227.2,1838.9 1228,1838.9 1228.8,1838.9 1229.6,1838.9 1230.4,1838.9 1231.2,1838.9 1232,1838.9 1232.8,1838.9 1233.6,1839 1234.4,1839 1235.2,1839 1236,1839 1236.8,1839 1237.6,1839 1238.4,1839 1239.2,1839 1240,1839 1240.8,1839 1241.6,1839 1242.4,1839 1243.2,1839 1244,1839 1244.8,1839 1245.6,1839 1246.4,1839 1247.2,1839 1248.1,1839 1248.9,1839.1 1249.7,1839.1 1250.5,1839.1 1251.3,1839.1 1252.1,1839.1 1252.9,1839.1 1253.7,1839.1 1254.5,1839.1 1255.3,1839.1 1256.1,1839.1 1256.9,1839.1 1257.7,1839.1 1258.5,1839.1 1259.3,1839.1 1260.1,1839.1 1260.9,1839.1 1261.7,1839.1 1262.5,1839.1 1263.3,1839.1 1264.1,1839.1 1264.9,1839.1 1265.7,1839.1 1266.5,1839.2 1267.3,1839.2 1268.1,1839.2 1268.9,1839.2 1269.7,1839.2 1270.5,1839.2 1271.3,1839.2 1272.1,1839.2 1272.9,1839.2 1273.7,1839.2 1274.5,1839.2 1275.3,1839.2 1276.1,1839.2 1276.9,1839.2 1277.7,1839.2 1278.5,1839.2 1279.3,1839.2 1280.1,1839.2 1281,1839.2 1281.8,1839.2 1282.6,1839.2 1283.4,1839.2 1284.2,1839.2 1285,1839.2 1285.8,1839.3 1286.6,1839.3 1287.4,1839.3 1288.2,1839.3 1289,1839.3 1289.8,1839.3 1290.6,1839.3 1291.4,1839.3 1292.2,1839.3 1293,1839.3 1293.8,1839.3 1294.6,1839.3 1295.4,1839.3 1296.2,1839.3 1297,1839.3 1297.8,1839.3 1298.6,1839.3 1299.4,1839.3 1300.2,1839.3 1301,1839.3 1301.8,1839.3 1302.6,1839.3 1303.4,1839.3 1304.2,1839.3 1305,1839.3 1305.8,1839.3 1306.6,1839.4 1307.4,1839.4 1308.2,1839.4 1309,1839.4 1309.8,1839.4 1310.6,1839.4 1311.4,1839.4 1312.2,1839.4 1313,1839.4 1313.8,1839.4 1314.7,1839.4 1315.5,1839.4 1316.3,1839.4 1317.1,1839.4 1317.9,1839.4 1318.7,1839.4 1319.5,1839.4 1320.3,1839.4 1321.1,1839.4 1321.9,1839.4 1322.7,1839.4 1323.5,1839.4 1324.3,1839.4 1325.1,1839.4 1325.9,1839.4 1326.7,1839.4 1327.5,1839.4 1328.3,1839.4 1329.1,1839.4 1329.9,1839.5 1330.7,1839.5 1331.5,1839.5 1332.3,1839.5 1333.1,1839.5 1333.9,1839.5 1334.7,1839.5 1335.5,1839.5 1336.3,1839.5 1337.1,1839.5 1337.9,1839.5 1338.7,1839.5 1339.5,1839.5 1340.3,1839.5 1341.1,1839.5 1341.9,1839.5 1342.7,1839.5 1343.5,1839.5 1344.3,1839.5 1345.1,1839.5 1345.9,1839.5 1346.7,1839.5 1347.5,1839.5 1348.4,1839.5 1349.2,1839.5 1350,1839.5 1350.8,1839.5 1351.6,1839.5 1352.4,1839.5 1353.2,1839.5 1354,1839.5 1354.8,1839.5 1355.6,1839.5 1356.4,1839.5 1357.2,1839.6 1358,1839.6 1358.8,1839.6 1359.6,1839.6 1360.4,1839.6 1361.2,1839.6 1362,1839.6 1362.8,1839.6 1363.6,1839.6 1364.4,1839.6 1365.2,1839.6 1366,1839.6 1366.8,1839.6 1367.6,1839.6 1368.4,1839.6 1369.2,1839.6 1370,1839.6 1370.8,1839.6 1371.6,1839.6 1372.4,1839.6 1373.2,1839.6 1374,1839.6 1374.8,1839.6 1375.6,1839.6 1376.4,1839.6 1377.2,1839.6 1378,1839.6 1378.8,1839.6 1379.6,1839.6 1380.4,1839.6 1381.3,1839.6 1382.1,1839.6 1382.9,1839.6 1383.7,1839.6 1384.5,1839.6 1385.3,1839.6 1386.1,1839.6 1386.9,1839.6 1387.7,1839.7 1388.5,1839.7 1389.3,1839.7 1390.1,1839.7 1390.9,1839.7 1391.7,1839.7 1392.5,1839.7 1393.3,1839.7 1394.1,1839.7 1394.9,1839.7 1395.7,1839.7 1396.5,1839.7 1397.3,1839.7 1398.1,1839.7 1398.9,1839.7 1399.7,1839.7 1400.5,1839.7 1401.3,1839.7 1402.1,1839.7 1402.9,1839.7 1403.7,1839.7 1404.5,1839.7"/>
<polyline stroke="#7fffe0" stroke-width="5.3" points="361.4,1838.4 362.2,1838.4 363,1838.4 363.8,1838.4 364.6,1838.4 365.4,1838.4 366.2,1838.4 367,1838.4 367.8,1838.4 368.6,1838.4 369.4,1838.3 370.2,1838.3 371,1838.3 371.8,1838.3 372.6,1838.3 373.4,1838.3 374.2,1838.3 375,1838.3 375.8,1838.3 376.6,1838.3 377.4,1838.2 378.3,1838.2 379.1,1838.2 379.9,1838.2 380.7,1838.2 381.5,1838.2 382.3,1838.2 383.1,1838.2 383.9,1838.2 384.7,1838.2 385.5,1838.1 386.3,1838.1 387.1,1838.1 387.9,1838.1 388.7,1838.1 389.5,1838.1 390.3,1838.1 391.1,1838.1 391.9,1838.1 392.7,1838 393.5,1838 394.3,1838 395.1,1838 395.9,1838 396.7,1838 397.5,1838 398.3,1838 399.1,1838 399.9,1837.9 400.7,1837.9 401.5,1837.9 402.3,1837.9 403.1,1837.9 403.9,1837.9 404.7,1837.9 405.5,1837.9 406.3,1837.8 407.1,1837.8 407.9,1837.8 408.7,1837.8 409.5,1837.8 410.3,1837.8 411.1,1837.8 412,1837.8 412.8,1837.7 413.6,1837.7 414.4,1837.7 415.2,1837.7 416,1837.7 416.8,1837.7 417.6,1837.7 418.4,1837.6 419.2,1837.6 420,1837.6 420.8,1837.6 421.6,1837.6 422.4,1837.6 423.2,1837.6 424,1837.5 424.8,1837.5 425.6,1837.5 426.4,1837.5 427.2,1837.5 428,1837.5 428.8,1837.5 429.6,1837.4 430.4,1837.4 431.2,1837.4 432,1837.4 432.8,1837.4 433.6,1837.4 434.4,1837.3 435.2,1837.3 436,1837.3 436.8,1837.3 437.6,1837.3 438.4,1837.3 439.2,1837.2 440,1837.2 440.8,1837.2 441.6,1837.2 442.4,1837.2 443.2,1837.2 444,1837.1 444.8,1837.1 445.7,1837.1 446.5,1837.1 447.3,1837.1 448.1,1837.1 448.9,1837 449.7,1837 450.5,1837 451.3,1837 452.1,1837 452.9,1836.9 453.7,1836.9 454.5,1836.9 455.3,1836.9 456.1,1836.9 456.9,1836.8 457.7,1836.8 458.5,1836.8 459.3,1836.8 460.1,1836.8 460.9,1836.7 461.7,1836.7 462.5,1836.7 463.3,1836.7 464.1,1836.7 464.9,1836.6 465.7,1836.6 466.5,1836.6 467.3,1836.6 468.1,1836.5 468.9,1836.5 469.7,1836.5 470.5,1836.5 471.3,1836.5 472.1,1836.4 472.9,1836.4 473.7,1836.4 474.5,1836.4 475.3,1836.3 476.1,1836.3 476.9,1836.3 477.7,1836.3 478.6,1836.2 479.4,1836.2 480.2,1836.2 481,1836.2 481.8,1836.1 482.6,1836.1 483.4,1836.1 484.2,1836.1 485,1836 485.8,1836 486.6,1836 487.4,1836 488.2,1835.9 489,1835.9 489.8,1835.9 490.6,1835.9 491.4,1835.8 492.2,1835.8 493,1835.8 493.8,1835.7 494.6,1835.7 495.4,1835.7 496.2,1835.7 497,1835.6 497.8,1835.6 498.6,1835.6 499.4,1835.5 500.2,1835.5 501,1835.5 501.8,1835.4 502.6,1835.4 503.4,1835.4 504.2,1835.3 505,1835.3 505.8,1835.3 506.6,1835.2 507.4,1835.2 508.2,1835.2 509,1835.1 509.8,1835.1 510.6,1835.1 511.4,1835 512.3,1835 513.1,1835 513.9,1834.9 514.7,1834.9 515.5,1834.9 516.3,1834.8 517.1,1834.8 517.9,1834.7 518.7,1834.7 519.5,1834.7 520.3,1834.6 521.1,1834.6 521.9,1834.5 522.7,1834.5 523.5,1834.5 524.3,1834.4 525.1,1834.4 525.9,1834.3 526.7,1834.3 527.5,1834.3 528.3,1834.2 529.1,1834.2 529.9,1834.1 530.7,1834.1 531.5,1834 532.3,1834 533.1,1833.9 533.9,1833.9 534.7,1833.9 535.5,1833.8 536.3,1833.8 537.1,1833.7 537.9,1833.7 538.7,1833.6 539.5,1833.6 540.3,1833.5 541.1,1833.5 541.9,1833.4 542.7,1833.4 543.5,1833.3 544.3,1833.3 545.1,1833.2 546,1833.2 546.8,1833.1 547.6,1833 548.4,1833 549.2,1832.9 550,1832.9 550.8,1832.8 551.6,1832.8 552.4,1832.7 553.2,1832.6 554,1832.6 554.8,1832.5 555.6,1832.5 556.4,1832.4 557.2,1832.3 558,1832.3 558.8,1832.2 559.6,1832.1 560.4,1832.1 561.2,1832 562,1831.9 562.8,1831.9 563.6,1831.8 564.4,1831.7 565.2,1831.7 566,1831.6 566.8,1831.5 567.6,1831.4 568.4,1831.4 569.2,1831.3 570,1831.2 570.8,1831.1 571.6,1831.1 572.4,1831 573.2,1830.9 574,1830.8 574.8,1830.7 575.6,1830.7 576.4,1830.6 577.2,1830.5 578,1830.4 578.9,1830.3 579.7,1830.2 580.5,1830.2 581.3,1830.1 582.1,1830 582.9,1829.9 583.7,1829.8 584.5,1829.7 585.3,1829.6 586.1,1829.5 586.9,1829.4 587.7,1829.3 588.5,1829.2 589.3,1829.1 590.1,1829 590.9,1828.9 591.7,1828.8 592.5,1828.7 593.3,1828.6 594.1,1828.5 594.9,1828.3 595.7,1828.2 596.5,1828.1 597.3,1828 598.1,1827.9 598.9,1827.8 599.7,1827.6 600.5,1827.5 601.3,1827.4 602.1,1827.3 602.9,1827.1 603.7,1827 604.5,1826.9 605.3,1826.7 606.1,1826.6 606.9,1826.5 607.7,1826.3 608.5,1826.2 609.3,1826 610.1,1825.9 610.9,1825.7 611.7,1825.6 612.6,1825.4 613.4,1825.3 614.2,1825.1 615,1824.9 615.8,1824.8 616.6,1824.6 617.4,1824.5 618.2,1824.3 619,1824.1 619.8,1823.9 620.6,1823.7 621.4,1823.6 622.2,1823.4 623,1823.2 623.8,1823 624.6,1822.8 625.4,1822.6 626.2,1822.4 627,1822.2 627.8,1822 628.6,1821.8 629.4,1821.6 630.2,1821.4 631,1821.1 631.8,1820.9 632.6,1820.7 633.4,1820.4 634.2,1820.2 635,1820 635.8,1819.7 636.6,1819.5 637.4,1819.2 638.2,1818.9 639,1818.7 639.8,1818.4 640.6,1818.1 641.4,1817.9 642.2,1817.6 643,1817.3 643.8,1817 644.6,1816.7 645.4,1816.4 646.3,1816.1 647.1,1815.8 647.9,1815.4 648.7,1815.1 649.5,1814.8 650.3,1814.4 651.1,1814.1 651.9,1813.7 652.7,1813.4 653.5,1813 654.3,1812.6 655.1,1812.2 655.9,1811.8 656.7,1811.4 657.5,1811 658.3,1810.6 659.1,1810.2 659.9,1809.7 660.7,1809.3 661.5,1808.8 662.3,1808.4 663.1,1807.9 663.9,1807.4 664.7,1806.9 665.5,1806.4 666.3,1805.9 667.1,1805.3 667.9,1804.8 668.7,1804.2 669.5,1803.7 670.3,1803.1 671.1,1802.5 671.9,1801.9 672.7,1801.3 673.5,1800.6 674.3,1800 675.1,1799.3 675.9,1798.6 676.7,1797.9 677.5,1797.2 678.3,1796.5 679.2,1795.7 680,1794.9 680.8,1794.2 681.6,1793.3 682.4,1792.5 683.2,1791.7 684,1790.8 684.8,1789.9 685.6,1789 686.4,1788 687.2,1787 688,1786 688.8,1785 689.6,1783.9 690.4,1782.9 691.2,1781.7 692,1780.6 692.8,1779.4 693.6,1778.2 694.4,1777 695.2,1775.7 696,1774.3 696.8,1773 697.6,1771.6 698.4,1770.1 699.2,1768.7 700,1767.1 700.8,1765.5 701.6,1763.9 702.4,1762.2 703.2,1760.5 704,1758.7 704.8,1756.9 705.6,1755 706.4,1753 707.2,1751 708,1748.9 708.8,1746.7 709.6,1744.5 710.4,1742.2 711.2,1739.8 712,1737.3 712.9,1734.7 713.7,1732.1 714.5,1729.3 715.3,1726.5 716.1,1723.5 716.9,1720.5 717.7,1717.3 718.5,1714.1 719.3,1710.7 720.1,1707.2 720.9,1703.5 721.7,1699.7 722.5,1695.8 723.3,1691.7 724.1,1687.5 724.9,1683.1 725.7,1678.6 726.5,1673.8 727.3,1668.9 728.1,1663.8 728.9,1658.5 729.7,1653 730.5,1647.3 731.3,1641.3 732.1,1635.2 732.9,1628.7 733.7,1622.1 734.5,1615.2 735.3,1608 736.1,1600.5 736.9,1592.8 737.7,1584.8 738.5,1576.5 739.3,1567.9 740.1,1559 740.9,1549.7 741.7,1540.2 742.5,1530.3 743.3,1520.2 744.1,1509.7 744.9,1498.9 745.7,1487.9 746.6,1476.5 747.4,1464.9 748.2,1453.1 749,1441 749.8,1428.7 750.6,1416.3 751.4,1403.8 752.2,1391.2 753,1378.7 753.8,1366.1 754.6,1353.7 755.4,1341.5 756.2,1329.6 757,1318 757.8,1306.9 758.6,1296.3 759.4,1286.4 760.2,1277.2 761,1268.9 761.8,1261.4 762.6,1254.9 763.4,1249.5 764.2,1245.3 765,1242.2 765.8,1240.3 766.6,1239.7 767.4,1240.3 768.2,1242.2 769,1245.3 769.8,1249.5 770.6,1254.9 771.4,1261.4 772.2,1268.9 773,1277.2 773.8,1286.4 774.6,1296.3 775.4,1306.9 776.2,1318 777,1329.6 777.8,1341.5 778.6,1353.7 779.5,1366.1 780.3,1378.7 781.1,1391.2 781.9,1403.8 782.7,1416.3 783.5,1428.7 784.3,1441 785.1,1453.1 785.9,1464.9 786.7,1476.5 787.5,1487.9 788.3,1498.9 789.1,1509.7 789.9,1520.2 790.7,1530.3 791.5,1540.2 792.3,1549.7 793.1,1559 793.9,1567.9 794.7,1576.5 795.5,1584.8 796.3,1592.8 797.1,1600.5 797.9,1608 798.7,1615.2 799.5,1622.1 800.3,1628.7 801.1,1635.2 801.9,1641.3 802.7,1647.3 803.5,1653 804.3,1658.5 805.1,1663.8 805.9,1668.9 806.7,1673.8 807.5,1678.6 808.3,1683.1 809.1,1687.5 809.9,1691.7 810.7,1695.8 811.5,1699.7 812.3,1703.5 813.2,1707.2 814,1710.7 814.8,1714.1 815.6,1717.3 816.4,1720.5 817.2,1723.5 818,1726.5 818.8,1729.3 819.6,1732.1 820.4,1734.7 821.2,1737.3 822,1739.8 822.8,1742.2 823.6,1744.5 824.4,1746.7 825.2,1748.9 826,1751 826.8,1753 827.6,1755 828.4,1756.9 829.2,1758.7 830,1760.5 830.8,1762.2 831.6,1763.9 832.4,1765.5 833.2,1767.1 834,1768.7 834.8,1770.1 835.6,1771.6 836.4,1773 837.2,1774.3 838,1775.7 838.8,1777 839.6,1778.2 840.4,1779.4 841.2,1780.6 842,1781.7 842.8,1782.9 843.6,1783.9 844.4,1785 845.2,1786 846,1787 846.9,1788 847.7,1789 848.5,1789.9 849.3,1790.8 850.1,1791.7 850.9,1792.5 851.7,1793.3 852.5,1794.2 853.3,1794.9 854.1,1795.7 854.9,1796.5 855.7,1797.2 856.5,1797.9 857.3,1798.6 858.1,1799.3 858.9,1800 859.7,1800.6 860.5,1801.3 861.3,1801.9 862.1,1802.5 862.9,1803.1 863.7,1803.7 864.5,1804.2 865.3,1804.8 866.1,1805.3 866.9,1805.9 867.7,1806.4 868.5,1806.9 869.3,1807.4 870.1,1807.9 870.9,1808.4 871.7,1808.8 872.5,1809.3 873.3,1809.7 874.1,1810.2 874.9,1810.6 875.7,1811 876.5,1811.4 877.3,1811.8 878.1,1812.2 878.9,1812.6 879.8,1813 880.6,1813.4 881.4,1813.7 882.2,1814.1 883,1814.4 883.8,1814.8 884.6,1815.1 885.4,1815.4 886.2,1815.8 887,1816.1 887.8,1816.4 888.6,1816.7 889.4,1817 890.2,1817.3 891,1817.6 891.8,1817.9 892.6,1818.1 893.4,1818.4 894.2,1818.7 895,1818.9 895.8,1819.2 896.6,1819.5 897.4,1819.7 898.2,1820 899,1820.2 899.8,1820.4 900.6,1820.7 901.4,1820.9 902.2,1821.1 903,1821.4 903.8,1821.6 904.6,1821.8 905.4,1822 906.2,1822.2 907,1822.4 907.8,1822.6 908.6,1822.8 909.4,1823 910.2,1823.2 911,1823.4 911.8,1823.6 912.6,1823.7 913.5,1823.9 914.3,1824.1 915.1,1824.3 915.9,1824.5 916.7,1824.6 917.5,1824.8 918.3,1824.9 919.1,1825.1 919.9,1825.3 920.7,1825.4 921.5,1825.6 922.3,1825.7 923.1,1825.9 923.9,1826 924.7,1826.2 925.5,1826.3 926.3,1826.5 927.1,1826.6 927.9,1826.7 928.7,1826.9 929.5,1827 930.3,1827.1 931.1,1827.3 931.9,1827.4 932.7,1827.5 933.5,1827.6 934.3,1827.8 935.1,1827.9 935.9,1828 936.7,1828.1 937.5,1828.2 938.3,1828.3 939.1,1828.5 939.9,1828.6 940.7,1828.7 941.5,1828.8 942.3,1828.9 943.1,1829 943.9,1829.1 944.7,1829.2 945.5,1829.3 946.3,1829.4 947.2,1829.5 948,1829.6 948.8,1829.7 949.6,1829.8 950.4,1829.9 951.2,1830 952,1830.1 952.8,1830.2 953.6,1830.2 954.4,1830.3 955.2,1830.4 956,1830.5 956.8,1830.6 957.6,1830.7 958.4,1830.7 959.2,1830.8 960,1830.9 960.8,1831 961.6,1831.1 962.4,1831.1 963.2,1831.2 964,1831.3 964.8,1831.4 965.6,1831.4 966.4,1831.5 967.2,1831.6 968,1831.7 968.8,1831.7 969.6,1831.8 970.4,1831.9 971.2,1831.9 972,1832 972.8,1832.1 973.6,1832.1 974.4,1832.2 975.2,1832.3 976,1832.3 976.8,1832.4 977.6,1832.5 978.4,1832.5 979.2,1832.6 980.1,1832.6 980.9,1832.7 981.7,1832.8 982.5,1832.8 983.3,1832.9 984.1,1832.9 984.9,1833 985.7,1833 986.5,1833.1 987.3,1833.2 988.1,1833.2 988.9,1833.3 989.7,1833.3 990.5,1833.4 991.3,1833.4 992.1,1833.5 992.9,1833.5 993.7,1833.6 994.5,1833.6 995.3,1833.7 996.1,1833.7 996.9,1833.8 997.7,1833.8 998.5,1833.9 999.3,1833.9 1000.1,1833.9 1000.9,1834 1001.7,1834 1002.5,1834.1 1003.3,1834.1 1004.1,1834.2 1004.9,1834.2 1005.7,1834.3 1006.5,1834.3 1007.3,1834.3 1008.1,1834.4 1008.9,1834.4 1009.7,1834.5 1010.5,1834.5 1011.3,1834.5 1012.1,1834.6 1012.9,1834.6 1013.8,1834.7 1014.6,1834.7 1015.4,1834.7 1016.2,1834.8 1017,1834.8 1017.8,1834.9 1018.6,1834.9 1019.4,1834.9 1020.2,1835 1021,1835 1021.8,1835 1022.6,1835.1 1023.4,1835.1 1024.2,1835.1 1025,1835.2 1025.8,1835.2 1026.6,1835.2 1027.4,1835.3 1028.2,1835.3 1029,1835.3 1029.8,1835.4 1030.6,1835.4 1031.4,1835.4 1032.2,1835.5 1033,1835.5 1033.8,1835.5 1034.6,1835.6 1035.4,1835.6 1036.2,1835.6 1037,1835.7 1037.8,1835.7 1038.6,1835.7 1039.4,1835.7 1040.2,1835.8 1041,1835.8 1041.8,1835.8 1042.6,1835.9 1043.4,1835.9 1044.2,1835.9 1045,1835.9 1045.8,1836 1046.6,1836 1047.5,1836 1048.3,1836 1049.1,1836.1 1049.9,1836.1 1050.7,1836.1 1051.5,1836.1 1052.3,1836.2 1053.1,1836.2 1053.9,1836.2 1054.7,1836.2 1055.5,1836.3 1056.3,1836.3 1057.1,1836.3 1057.9,1836.3 1058.7,1836.4 1059.5,1836.4 1060.3,1836.4 1061.1,1836.4 1061.9,1836.5 1062.7,1836.5 1063.5,1836.5 1064.3,1836.5 1065.1,1836.5 1065.9,1836.6 1066.7,1836.6 1067.5,1836.6 1068.3,1836.6 1069.1,1836.7 1069.9,1836.7 1070.7,1836.7 1071.5,1836.7 1072.3,1836.7 1073.1,1836.8 1073.9,1836.8 1074.7,1836.8 1075.5,1836.8 1076.3,1836.8 1077.1,1836.9 1077.9,1836.9 1078.7,1836.9 1079.5,1836.9 1080.4,1836.9 1081.2,1837 1082,1837 1082.8,1837 1083.6,1837 1084.4,1837 1085.2,1837.1 1086,1837.1 1086.8,1837.1 1087.6,1837.1 1088.4,1837.1 1089.2,1837.1 1090,1837.2 1090.8,1837.2 1091.6,1837.2 1092.4,1837.2 1093.2,1837.2 1094,1837.2 1094.8,1837.3 1095.6,1837.3 1096.4,1837.3 1097.2,1837.3 1098,1837.3 1098.8,1837.3 1099.6,1837.4 1100.4,1837.4 1101.2,1837.4 1102,1837.4 1102.8,1837.4 1103.6,1837.4 1104.4,1837.5 1105.2,1837.5 1106,1837.5 1106.8,1837.5 1107.6,1837.5 1108.4,1837.5 1109.2,1837.5 1110,1837.6 1110.8,1837.6 1111.6,1837.6 1112.4,1837.6 1113.2,1837.6 1114.1,1837.6 1114.9,1837.6 1115.7,1837.7 1116.5,1837.7 1117.3,1837.7 1118.1,1837.7 1118.9,1837.7 1119.7,1837.7 1120.5,1837.7 1121.3,1837.8 1122.1,1837.8 1122.9,1837.8 1123.7,1837.8 1124.5,1837.8 1125.3,1837.8 1126.1,1837.8 1126.9,1837.8 1127.7,1837.9 1128.5,1837.9 1129.3,1837.9 1130.1,1837.9 1130.9,1837.9 1131.7,1837.9 1132.5,1837.9 1133.3,1837.9 1134.1,1838 1134.9,1838 1135.7,1838 1136.5,1838 1137.3,1838 1138.1,1838 1138.9,1838 1139.7,1838 1140.5,1838 1141.3,1838.1 1142.1,1838.1 1142.9,1838.1 1143.7,1838.1 1144.5,1838.1 1145.3,1838.1 1146.1,1838.1 1146.9,1838.1 1147.8,1838.1 1148.6,1838.2 1149.4,1838.2 1150.2,1838.2 1151,1838.2 1151.8,1838.2 1152.6,1838.2 1153.4,1838.2 1154.2,1838.2 1155,1838.2 1155.8,1838.2 1156.6,1838.3 1157.4,1838.3 1158.2,1838.3 1159,1838.3 1159.8,1838.3 1160.6,1838.3 1161.4,1838.3 1162.2,1838.3 1163,1838.3 1163.8,1838.3 1164.6,1838.4 1165.4,1838.4 1166.2,1838.4 1167,1838.4 1167.8,1838.4 1168.6,1838.4 1169.4,1838.4 1170.2,1838.4 1171,1838.4 1171.8,1838.4 1172.6,1838.4 1173.4,1838.5 1174.2,1838.5 1175,1838.5 1175.8,1838.5 1176.6,1838.5 1177.4,1838.5 1178.2,1838.5 1179,1838.5 1179.8,1838.5 1180.7,1838.5 1181.5,1838.5 1182.3,1838.5 1183.1,1838.6 1183.9,1838.6 1184.7,1838.6 1185.5,1838.6 1186.3,1838.6 1187.1,1838.6 1187.9,1838.6 1188.7,1838.6 1189.5,1838.6 1190.3,1838.6 1191.1,1838.6 1191.9,1838.6 1192.7,1838.7 1193.5,1838.7 1194.3,1838.7 1195.1,1838.7 1195.9,1838.7 1196.7,1838.7 1197.5,1838.7 1198.3,1838.7 1199.1,1838.7 1199.9,1838.7 1200.7,1838.7 1201.5,1838.7 1202.3,1838.7 1203.1,1838.7 1203.9,1838.8 1204.7,1838.8 1205.5,1838.8 1206.3,1838.8 1207.1,1838.8 1207.9,1838.8 1208.7,1838.8 1209.5,1838.8 1210.3,1838.8 1211.1,1838.8 1211.9,1838.8 1212.7,1838.8 1213.5,1838.8 1214.4,1838.8 1215.2,1838.9 1216,1838.9 1216.8,1838.9 1217.6,1838.9 1218.4,1838.9 1219.2,1838.9 1220,1838.9 1220.8,1838.9 1221.6,1838.9 1222.4,1838.9 1223.2,1838.9 1224,1838.9 1224.8,1838.9 1225.6,1838.9 1226.4,1838.9 1227.2,1838.9 1228,1839 1228.8,1839 1229.6,1839 1230.4,1839 1231.2,1839 1232,1839 1232.8,1839 1233.6,1839 1234.4,1839 1235.2,1839 1236,1839 1236.8,1839 1237.6,1839 1238.4,1839 1239.2,1839 1240,1839 1240.8,1839 1241.6,1839 1242.4,1839.1 1243.2,1839.1 1244,1839.1 1244.8,1839.1 1245.6,1839.1 1246.4,1839.1 1247.2,1839.1 1248.1,1839.1 1248.9,1839.1 1249.7,1839.1 1250.5,1839.1 1251.3,1839.1 1252.1,1839.1 1252.9,1839.1 1253.7,1839.1 1254.5,1839.1 1255.3,1839.1 1256.1,1839.1 1256.9,1839.2 1257.7,1839.2 1258.5,1839.2 1259.3,1839.2 1260.1,1839.2 1260.9,1839.2 1261.7,1839.2 1262.5,1839.2 1263.3,1839.2 1264.1,1839.2 1264.9,1839.2 1265.7,1839.2 1266.5,1839.2 1267.3,1839.2 1268.1,1839.2 1268.9,1839.2 1269.7,1839.2 1270.5,1839.2 1271.3,1839.2 1272.1,1839.2 1272.9,1839.2 1273.7,1839.3 1274.5,1839.3 1275.3,1839.3 1276.1,1839.3 1276.9,1839.3 1277.7,1839.3 1278.5,1839.3 1279.3,1839.3 1280.1,1839.3 1281,1839.3 1281.8,1839.3 1282.6,1839.3 1283.4,1839.3 1284.2,1839.3 1285,1839.3 1285.8,1839.3 1286.6,1839.3 1287.4,1839.3 1288.2,1839.3 1289,1839.3 1289.8,1839.3 1290.6,1839.3 1291.4,1839.3 1292.2,1839.4 1293,1839.4 1293.8,1839.4 1294.6,1839.4 1295.4,1839.4 1296.2,1839.4 1297,1839.4 1297.8,1839.4 1298.6,1839.4 1299.4,1839.4 1300.2,1839.4 1301,1839.4 1301.8,1839.4 1302.6,1839.4 1303.4,1839.4 1304.2,1839.4 1305,1839.4 1305.8,1839.4 1306.6,1839.4 1307.4,1839.4 1308.2,1839.4 1309,1839.4 1309.8,1839.4 1310.6,1839.4 1311.4,1839.4 1312.2,1839.4 1313,1839.5 1313.8,1839.5 1314.7,1839.5 1315.5,1839.5 1316.3,1839.5 1317.1,1839.5 1317.9,1839.5 1318.7,1839.5 1319.5,1839.5 1320.3,1839.5 1321.1,1839.5 1321.9,1839.5 1322.7,1839.5 1323.5,1839.5 1324.3,1839.5 1325.1,1839.5 1325.9,1839.5 1326.7,1839.5 1327.5,1839.5 1328.3,1839.5 1329.1,1839.5 1329.9,1839.5 1330.7,1839.5 1331.5,1839.5 1332.3,1839.5 1333.1,1839.5 1333.9,1839.5 1334.7,1839.5 1335.5,1839.5 1336.3,1839.5 1337.1,1839.6 1337.9,1839.6 1338.7,1839.6 1339.5,1839.6 1340.3,1839.6 1341.1,1839.6 1341.9,1839.6 1342.7,1839.6 1343.5,1839.6 1344.3,1839.6 1345.1,1839.6 1345.9,1839.6 1346.7,1839.6 1347.5,1839.6 1348.4,1839.6 1349.2,1839.6 1350,1839.6 1350.8,1839.6 1351.6,1839.6 1352.4,1839.6 1353.2,1839.6 1354,1839.6 1354.8,1839.6 1355.6,1839.6 1356.4,1839.6 1357.2,1839.6 1358,1839.6 1358.8,1839.6 1359.6,1839.6 1360.4,1839.6 1361.2,1839.6 1362,1839.6 1362.8,1839.6 1363.6,1839.7 1364.4,1839.7 1365.2,1839.7 1366,1839.7 1366.8,1839.7 1367.6,1839.7 1368.4,1839.7 1369.2,1839.7 1370,1839.7 1370.8,1839.7 1371.6,1839.7 1372.4,1839.7 1373.2,1839.7 1374,1839.7 1374.8,1839.7 1375.6,1839.7 1376.4,1839.7 1377.2,1839.7 1378,1839.7 1378.8,1839.7 1379.6,1839.7 1380.4,1839.7 1381.3,1839.7 1382.1,1839.7 1382.9,1839.7 1383.7,1839.7 1384.5,1839.7 1385.3,1839.7 1386.1,1839.7 1386.9,1839.7 1387.7,1839.7 1388.5,1839.7 1389.3,1839.7 1390.1,1839.7 1390.9,1839.7 1391.7,1839.7 1392.5,1839.7 1393.3,1839.7 1394.1,1839.8 1394.9,1839.8 1395.7,1839.8 1396.5,1839.8 1397.3,1839.8 1398.1,1839.8 1398.9,1839.8 1399.7,1839.8 1400.5,1839.8 1401.3,1839.8 1402.1,1839.8 1402.9,1839.8 1403.7,1839.8 1404.5,1839.8"/>
<polyline stroke="#bf45ff" stroke-width="5.6" points="361.4,1839.2 362.2,1839.2 363,1839.2 363.8,1839.2 364.6,1839.2 365.4,1839.2 366.2,1839.2 367,1839.2 367.8,1839.2 368.6,1839.2 369.4,1839.2 370.2,1839.2 371,1839.2 371.8,1839.2 372.6,1839.2 373.4,1839.2 374.2,1839.2 375,1839.2 375.8,1839.2 376.6,1839.2 377.4,1839.2 378.3,1839.2 379.1,1839.2 379.9,1839.2 380.7,1839.2 381.5,1839.2 382.3,1839.2 383.1,1839.2 383.9,1839.2 384.7,1839.2 385.5,1839.2 386.3,1839.1 387.1,1839.1 387.9,1839.1 388.7,1839.1 389.5,1839.1 390.3,1839.1 391.1,1839.1 391.9,1839.1 392.7,1839.1 393.5,1839.1 394.3,1839.1 395.1,1839.1 395.9,1839.1 396.7,1839.1 397.5,1839.1 398.3,1839.1 399.1,1839.1 399.9,1839.1 400.7,1839.1 401.5,1839.1 402.3,1839.1 403.1,1839.1 403.9,1839.1 404.7,1839.1 405.5,1839.1 406.3,1839.1 407.1,1839.1 407.9,1839.1 408.7,1839.1 409.5,1839.1 410.3,1839.1 411.1,1839.1 412,1839.1 412.8,1839.1 413.6,1839.1 414.4,1839.1 415.2,1839.1 416,1839.1 416.8,1839.1 417.6,1839.1 418.4,1839.1 419.2,1839.1 420,1839.1 420.8,1839.1 421.6,1839.1 422.4,1839.1 423.2,1839.1 424,1839.1 424.8,1839 425.6,1839 426.4,1839 427.2,1839 428,1839 428.8,1839 429.6,1839 430.4,1839 431.2,1839 432,1839 432.8,1839 433.6,1839 434.4,1839 435.2,1839 436,1839 436.8,1839 437.6,1839 438.4,1839 439.2,1839 440,1839 440.8,1839 441.6,1839 442.4,1839 443.2,1839 444,1839 444.8,1839 445.7,1839 446.5,1839 447.3,1839 448.1,1839 448.9,1839 449.7,1839 450.5,1839 451.3,1839 452.1,1839 452.9,1839 453.7,1838.9 454.5,1838.9 455.3,1838.9 456.1,1838.9 456.9,1838.9 457.7,1838.9 458.5,1838.9 459.3,1838.9 460.1,1838.9 460.9,1838.9 461.7,1838.9 462.5,1838.9 463.3,1838.9 464.1,1838.9 464.9,1838.9 465.7,1838.9 466.5,1838.9 467.3,1838.9 468.1,1838.9 468.9,1838.9 469.7,1838.9 470.5,1838.9 471.3,1838.9 472.1,1838.9 472.9,1838.9 473.7,1838.9 474.5,1838.9 475.3,1838.9 476.1,1838.9 476.9,1838.8 477.7,1838.8 478.6,1838.8 479.4,1838.8 480.2,1838.8 481,1838.8 481.8,1838.8 482.6,1838.8 483.4,1838.8 484.2,1838.8 485,1838.8 485.8,1838.8 486.6,1838.8 487.4,1838.8 488.2,1838.8 489,1838.8 489.8,1838.8 490.6,1838.8 491.4,1838.8 492.2,1838.8 493,1838.8 493.8,1838.8 494.6,1838.8 495.4,1838.8 496.2,1838.7 497,1838.7 497.8,1838.7 498.6,1838.7 499.4,1838.7 500.2,1838.7 501,1838.7 501.8,1838.7 502.6,1838.7 503.4,1838.7 504.2,1838.7 505,1838.7 505.8,1838.7 506.6,1838.7 507.4,1838.7 508.2,1838.7 509,1838.7 509.8,1838.7 510.6,1838.7 511.4,1838.7 512.3,1838.7 513.1,1838.6 513.9,1838.6 514.7,1838.6 515.5,1838.6 516.3,1838.6 517.1,1838.6 517.9,1838.6 518.7,1838.6 519.5,1838.6 520.3,1838.6 521.1,1838.6 521.9,1838.6 522.7,1838.6 523.5,1838.6 524.3,1838.6 525.1,1838.6 525.9,1838.6 526.7,1838.5 527.5,1838.5 528.3,1838.5 529.1,1838.5 529.9,1838.5 530.7,1838.5 531.5,1838.5 532.3,1838.5 533.1,1838.5 533.9,1838.5 534.7,1838.5 535.5,1838.5 536.3,1838.5 537.1,1838.5 537.9,1838.5 538.7,1838.4 539.5,1838.4 540.3,1838.4 541.1,1838.4 541.9,1838.4 542.7,1838.4 543.5,1838.4 544.3,1838.4 545.1,1838.4 546,1838.4 546.8,1838.4 547.6,1838.4 548.4,1838.4 549.2,1838.3 550,1838.3 550.8,1838.3 551.6,1838.3 552.4,1838.3 553.2,1838.3 554,1838.3 554.8,1838.3 555.6,1838.3 556.4,1838.3 557.2,1838.3 558,1838.3 558.8,1838.2 559.6,1838.2 560.4,1838.2 561.2,1838.2 562,1838.2 562.8,1838.2 563.6,1838.2 564.4,1838.2 565.2,1838.2 566,1838.2 566.8,1838.2 567.6,1838.1 568.4,1838.1 569.2,1838.1 570,1838.1 570.8,1838.1 571.6,1838.1 572.4,1838.1 573.2,1838.1 574,1838.1 574.8,1838 575.6,1838 576.4,1838 577.2,1838 578,1838 578.9,1838 579.7,1838 580.5,1838 581.3,1838 582.1,1837.9 582.9,1837.9 583.7,1837.9 584.5,1837.9 585.3,1837.9 586.1,1837.9 586.9,1837.9 587.7,1837.9 588.5,1837.8 589.3,1837.8 590.1,1837.8 590.9,1837.8 591.7,1837.8 592.5,1837.8 593.3,1837.8 594.1,1837.7 594.9,1837.7 595.7,1837.7 596.5,1837.7 597.3,1837.7 598.1,1837.7 598.9,1837.7 599.7,1837.6 600.5,1837.6 601.3,1837.6 602.1,1837.6 602.9,1837.6 603.7,1837.6 604.5,1837.5 605.3,1837.5 606.1,1837.5 606.9,1837.5 607.7,1837.5 608.5,1837.5 609.3,1837.4 610.1,1837.4 610.9,1837.4 611.7,1837.4 612.6,1837.4 613.4,1837.4 614.2,1837.3 615,1837.3 615.8,1837.3 616.6,1837.3 617.4,1837.3 618.2,1837.2 619,1837.2 619.8,1837.2 620.6,1837.2 621.4,1837.2 622.2,1837.1 623,1837.1 623.8,1837.1 624.6,1837.1 625.4,1837 626.2,1837 627,1837 627.8,1837 628.6,1836.9 629.4,1836.9 630.2,1836.9 631,1836.9 631.8,1836.8 632.6,1836.8 633.4,1836.8 634.2,1836.8 635,1836.7 635.8,1836.7 636.6,1836.7 637.4,1836.7 638.2,1836.6 639,1836.6 639.8,1836.6 640.6,1836.5 641.4,1836.5 642.2,1836.5 643,1836.5 643.8,1836.4 644.6,1836.4 645.4,1836.4 646.3,1836.3 647.1,1836.3 647.9,1836.3 648.7,1836.2 649.5,1836.2 650.3,1836.1 651.1,1836.1 651.9,1836.1 652.7,1836 653.5,1836 654.3,1836 655.1,1835.9 655.9,1835.9 656.7,1835.8 657.5,1835.8 658.3,1835.8 659.1,1835.7 659.9,1835.7 660.7,1835.6 661.5,1835.6 662.3,1835.5 663.1,1835.5 663.9,1835.5 664.7,1835.4 665.5,1835.4 666.3,1835.3 667.1,1835.3 667.9,1835.2 668.7,1835.2 669.5,1835.1 670.3,1835 671.1,1835 671.9,1834.9 672.7,1834.9 673.5,1834.8 674.3,1834.8 675.1,1834.7 675.9,1834.6 676.7,1834.6 677.5,1834.5 678.3,1834.5 679.2,1834.4 680,1834.3 680.8,1834.3 681.6,1834.2 682.4,1834.1 683.2,1834 684,1834 684.8,1833.9 685.6,1833.8 686.4,1833.7 687.2,1833.7 688,1833.6 688.8,1833.5 689.6,1833.4 690.4,1833.3 691.2,1833.2 692,1833.2 692.8,1833.1 693.6,1833 694.4,1832.9 695.2,1832.8 696,1832.7 696.8,1832.6 697.6,1832.5 698.4,1832.4 699.2,1832.3 700,1832.1 700.8,1832 701.6,1831.9 702.4,1831.8 703.2,1831.7 704,1831.6 704.8,1831.4 705.6,1831.3 706.4,1831.2 707.2,1831 708,1830.9 708.8,1830.7 709.6,1830.6 710.4,1830.4 711.2,1830.3 712,1830.1 712.9,1830 713.7,1829.8 714.5,1829.6 715.3,1829.5 716.1,1829.3 716.9,1829.1 717.7,1828.9 718.5,1828.7 719.3,1828.5 720.1,1828.3 720.9,1828.1 721.7,1827.9 722.5,1827.7 723.3,1827.4 724.1,1827.2 724.9,1827 725.7,1826.7 726.5,1826.5 727.3,1826.2 728.1,1825.9 728.9,1825.6 729.7,1825.4 730.5,1825.1 731.3,1824.8 732.1,1824.4 732.9,1824.1 733.7,1823.8 734.5,1823.4 735.3,1823.1 736.1,1822.7 736.9,1822.3 737.7,1821.9 738.5,1821.5 739.3,1821.1 740.1,1820.7 740.9,1820.2 741.7,1819.7 742.5,1819.3 743.3,1818.8 744.1,1818.2 744.9,1817.7 745.7,1817.1 746.6,1816.6 747.4,1816 748.2,1815.3 749,1814.7 749.8,1814 750.6,1813.3 751.4,1812.6 752.2,1811.8 753,1811 753.8,1810.2 754.6,1809.3 755.4,1808.5 756.2,1807.5 757,1806.5 757.8,1805.5 758.6,1804.5 759.4,1803.4 760.2,1802.2 761,1801 761.8,1799.7 762.6,1798.4 763.4,1797 764.2,1795.5 765,1794 765.8,1792.4 766.6,1790.7 767.4,1788.9 768.2,1787 769,1785 769.8,1783 770.6,1780.8 771.4,1778.5 772.2,1776.1 773,1773.5 773.8,1770.8 774.6,1767.9 775.4,1764.9 776.2,1761.8 777,1758.4 777.8,1754.8 778.6,1751.1 779.5,1747.1 780.3,1742.9 781.1,1738.4 781.9,1733.7 782.7,1728.7 783.5,1723.5 784.3,1717.9 785.1,1712.1 785.9,1705.9 786.7,1699.4 787.5,1692.5 788.3,1685.4 789.1,1677.9 789.9,1670 790.7,1661.9 791.5,1653.5 792.3,1644.8 793.1,1636 793.9,1626.9 794.7,1617.8 795.5,1608.8 796.3,1599.8 797.1,1591.1 797.9,1582.7 798.7,1574.9 799.5,1567.6 800.3,1561.2 801.1,1555.7 801.9,1551.3 802.7,1548.1 803.5,1546.1 804.3,1545.4 805.1,1546.1 805.9,1548.1 806.7,1551.3 807.5,1555.7 808.3,1561.2 809.1,1567.6 809.9,1574.9 810.7,1582.7 811.5,1591.1 812.3,1599.8 813.2,1608.8 814,1617.8 814.8,1626.9 815.6,1636 816.4,1644.8 817.2,1653.5 818,1661.9 818.8,1670 819.6,1677.9 820.4,1685.4 821.2,1692.5 822,1699.4 822.8,1705.9 823.6,1712.1 824.4,1717.9 825.2,1723.5 826,1728.7 826.8,1733.7 827.6,1738.4 828.4,1742.9 829.2,1747.1 830,1751.1 830.8,1754.8 831.6,1758.4 832.4,1761.8 833.2,1764.9 834,1767.9 834.8,1770.8 835.6,1773.5 836.4,1776.1 837.2,1778.5 838,1780.8 838.8,1783 839.6,1785 840.4,1787 841.2,1788.9 842,1790.7 842.8,1792.4 843.6,1794 844.4,1795.5 845.2,1797 846,1798.4 846.9,1799.7 847.7,1801 848.5,1802.2 849.3,1803.4 850.1,1804.5 850.9,1805.5 851.7,1806.5 852.5,1807.5 853.3,1808.5 854.1,1809.3 854.9,1810.2 855.7,1811 856.5,1811.8 857.3,1812.6 858.1,1813.3 858.9,1814 859.7,1814.7 860.5,1815.3 861.3,1816 862.1,1816.6 862.9,1817.1 863.7,1817.7 864.5,1818.2 865.3,1818.8 866.1,1819.3 866.9,1819.7 867.7,1820.2 868.5,1820.7 869.3,1821.1 870.1,1821.5 870.9,1821.9 871.7,1822.3 872.5,1822.7 873.3,1823.1 874.1,1823.4 874.9,1823.8 875.7,1824.1 876.5,1824.4 877.3,1824.8 878.1,1825.1 878.9,1825.4 879.8,1825.6 880.6,1825.9 881.4,1826.2 882.2,1826.5 883,1826.7 883.8,1827 884.6,1827.2 885.4,1827.4 886.2,1827.7 887,1827.9 887.8,1828.1 888.6,1828.3 889.4,1828.5 890.2,1828.7 891,1828.9 891.8,1829.1 892.6,1829.3 893.4,1829.5 894.2,1829.6 895,1829.8 895.8,1830 896.6,1830.1 897.4,1830.3 898.2,1830.4 899,1830.6 899.8,1830.7 900.6,1830.9 901.4,1831 902.2,1831.2 903,1831.3 903.8,1831.4 904.6,1831.6 905.4,1831.7 906.2,1831.8 907,1831.9 907.8,1832 908.6,1832.1 909.4,1832.3 910.2,1832.4 911,1832.5 911.8,1832.6 912.6,1832.7 913.5,1832.8 914.3,1832.9 915.1,1833 915.9,1833.1 916.7,1833.2 917.5,1833.2 918.3,1833.3 919.1,1833.4 919.9,1833.5 920.7,1833.6 921.5,1833.7 922.3,1833.7 923.1,1833.8 923.9,1833.9 924.7,1834 925.5,1834 926.3,1834.1 927.1,1834.2 927.9,1834.3 928.7,1834.3 929.5,1834.4 930.3,1834.5 931.1,1834.5 931.9,1834.6 932.7,1834.6 933.5,1834.7 934.3,1834.8 935.1,1834.8 935.9,1834.9 936.7,1834.9 937.5,1835 938.3,1835 939.1,1835.1 939.9,1835.2 940.7,1835.2 941.5,1835.3 942.3,1835.3 943.1,1835.4 943.9,1835.4 944.7,1835.5 945.5,1835.5 946.3,1835.5 947.2,1835.6 948,1835.6 948.8,1835.7 949.6,1835.7 950.4,1835.8 951.2,1835.8 952,1835.8 952.8,1835.9 953.6,1835.9 954.4,1836 955.2,1836 956,1836 956.8,1836.1 957.6,1836.1 958.4,1836.1 959.2,1836.2 960,1836.2 960.8,1836.3 961.6,1836.3 962.4,1836.3 963.2,1836.4 964,1836.4 964.8,1836.4 965.6,1836.5 966.4,1836.5 967.2,1836.5 968,1836.5 968.8,1836.6 969.6,1836.6 970.4,1836.6 971.2,1836.7 972,1836.7 972.8,1836.7 973.6,1836.7 974.4,1836.8 975.2,1836.8 976,1836.8 976.8,1836.8 977.6,1836.9 978.4,1836.9 979.2,1836.9 980.1,1836.9 980.9,1837 981.7,1837 982.5,1837 983.3,1837 984.1,1837.1 984.9,1837.1 985.7,1837.1 986.5,1837.1 987.3,1837.2 988.1,1837.2 988.9,1837.2 989.7,1837.2 990.5,1837.2 991.3,1837.3 992.1,1837.3 992.9,1837.3 993.7,1837.3 994.5,1837.3 995.3,1837.4 996.1,1837.4 996.9,1837.4 997.7,1837.4 998.5,1837.4 999.3,1837.4 1000.1,1837.5 1000.9,1837.5 1001.7,1837.5 1002.5,1837.5 1003.3,1837.5 1004.1,1837.5 1004.9,1837.6 1005.7,1837.6 1006.5,1837.6 1007.3,1837.6 1008.1,1837.6 1008.9,1837.6 1009.7,1837.7 1010.5,1837.7 1011.3,1837.7 1012.1,1837.7 1012.9,1837.7 1013.8,1837.7 1014.6,1837.7 1015.4,1837.8 1016.2,1837.8 1017,1837.8 1017.8,1837.8 1018.6,1837.8 1019.4,1837.8 1020.2,1837.8 1021,1837.9 1021.8,1837.9 1022.6,1837.9 1023.4,1837.9 1024.2,1837.9 1025,1837.9 1025.8,1837.9 1026.6,1837.9 1027.4,1838 1028.2,1838 1029,1838 1029.8,1838 1030.6,1838 1031.4,1838 1032.2,1838 1033,1838 1033.8,1838 1034.6,1838.1 1035.4,1838.1 1036.2,1838.1 1037,1838.1 1037.8,1838.1 1038.6,1838.1 1039.4,1838.1 1040.2,1838.1 1041,1838.1 1041.8,1838.2 1042.6,1838.2 1043.4,1838.2 1044.2,1838.2 1045,1838.2 1045.8,1838.2 1046.6,1838.2 1047.5,1838.2 1048.3,1838.2 1049.1,1838.2 1049.9,1838.2 1050.7,1838.3 1051.5,1838.3 1052.3,1838.3 1053.1,1838.3 1053.9,1838.3 1054.7,1838.3 1055.5,1838.3 1056.3,1838.3 1057.1,1838.3 1057.9,1838.3 1058.7,1838.3 1059.5,1838.3 1060.3,1838.4 1061.1,1838.4 1061.9,1838.4 1062.7,1838.4 1063.5,1838.4 1064.3,1838.4 1065.1,1838.4 1065.9,1838.4 1066.7,1838.4 1067.5,1838.4 1068.3,1838.4 1069.1,1838.4 1069.9,1838.4 1070.7,1838.5 1071.5,1838.5 1072.3,1838.5 1073.1,1838.5 1073.9,1838.5 1074.7,1838.5 1075.5,1838.5 1076.3,1838.5 1077.1,1838.5 1077.9,1838.5 1078.7,1838.5 1079.5,1838.5 1080.4,1838.5 1081.2,1838.5 1082,1838.5 1082.8,1838.6 1083.6,1838.6 1084.4,1838.6 1085.2,1838.6 1086,1838.6 1086.8,1838.6 1087.6,1838.6 1088.4,1838.6 1089.2,1838.6 1090,1838.6 1090.8,1838.6 1091.6,1838.6 1092.4,1838.6 1093.2,1838.6 1094,1838.6 1094.8,1838.6 1095.6,1838.6 1096.4,1838.7 1097.2,1838.7 1098,1838.7 1098.8,1838.7 1099.6,1838.7 1100.4,1838.7 1101.2,1838.7 1102,1838.7 1102.8,1838.7 1103.6,1838.7 1104.4,1838.7 1105.2,1838.7 1106,1838.7 1106.8,1838.7 1107.6,1838.7 1108.4,1838.7 1109.2,1838.7 1110,1838.7 1110.8,1838.7 1111.6,1838.7 1112.4,1838.7 1113.2,1838.8 1114.1,1838.8 1114.9,1838.8 1115.7,1838.8 1116.5,1838.8 1117.3,1838.8 1118.1,1838.8 1118.9,1838.8 1119.7,1838.8 1120.5,1838.8 1121.3,1838.8 1122.1,1838.8 1122.9,1838.8 1123.7,1838.8 1124.5,1838.8 1125.3,1838.8 1126.1,1838.8 1126.9,1838.8 1127.7,1838.8 1128.5,1838.8 1129.3,1838.8 1130.1,1838.8 1130.9,1838.8 1131.7,1838.8 1132.5,1838.9 1133.3,1838.9 1134.1,1838.9 1134.9,1838.9 1135.7,1838.9 1136.5,1838.9 1137.3,1838.9 1138.1,1838.9 1138.9,1838.9 1139.7,1838.9 1140.5,1838.9 1141.3,1838.9 1142.1,1838.9 1142.9,1838.9 1143.7,1838.9 1144.5,1838.9 1145.3,1838.9 1146.1,1838.9 1146.9,1838.9 1147.8,1838.9 1148.6,1838.9 1149.4,1838.9 1150.2,1838.9 1151,1838.9 1151.8,1838.9 1152.6,1838.9 1153.4,1838.9 1154.2,1838.9 1155,1838.9 1155.8,1839 1156.6,1839 1157.4,1839 1158.2,1839 1159,1839 1159.8,1839 1160.6,1839 1161.4,1839 1162.2,1839 1163,1839 1163.8,1839 1164.6,1839 1165.4,1839 1166.2,1839 1167,1839 1167.8,1839 1168.6,1839 1169.4,1839 1170.2,1839 1171,1839 1171.8,1839 1172.6,1839 1173.4,1839 1174.2,1839 1175,1839 1175.8,1839 1176.6,1839 1177.4,1839 1178.2,1839 1179,1839 1179.8,1839 1180.7,1839 1181.5,1839 1182.3,1839 1183.1,1839 1183.9,1839 1184.7,1839.1 1185.5,1839.1 1186.3,1839.1 1187.1,1839.1 1187.9,1839.1 1188.7,1839.1 1189.5,1839.1 1190.3,1839.1 1191.1,1839.1 1191.9,1839.1 1192.7,1839.1 1193.5,1839.1 1194.3,1839.1 1195.1,1839.1 1195.9,1839.1 1196.7,1839.1 1197.5,1839.1 1198.3,1839.1 1199.1,1839.1 1199.9,1839.1 1200.7,1839.1 1201.5,1839.1 1202.3,1839.1 1203.1,1839.1 1203.9,1839.1 1204.7,1839.1 1205.5,1839.1 1206.3,1839.1 1207.1,1839.1 1207.9,1839.1 1208.7,1839.1 1209.5,1839.1 1210.3,1839.1 1211.1,1839.1 1211.9,1839.1 1212.7,1839.1 1213.5,1839.1 1214.4,1839.1 1215.2,1839.1 1216,1839.1 1216.8,1839.1 1217.6,1839.1 1218.4,1839.1 1219.2,1839.1 1220,1839.1 1220.8,1839.1 1221.6,1839.1 1222.4,1839.1 1223.2,1839.2 1224,1839.2 1224.8,1839.2 1225.6,1839.2 1226.4,1839.2 1227.2,1839.2 1228,1839.2 1228.8,1839.2 1229.6,1839.2 1230.4,1839.2 1231.2,1839.2 1232,1839.2 1232.8,1839.2 1233.6,1839.2 1234.4,1839.2 1235.2,1839.2 1236,1839.2 1236.8,1839.2 1237.6,1839.2 1238.4,1839.2 1239.2,1839.2 1240,1839.2 1240.8,1839.2 1241.6,1839.2 1242.4,1839.2 1243.2,1839.2 1244,1839.2 1244.8,1839.2 1245.6,1839.2 1246.4,1839.2 1247.2,1839.2 1248.1,1839.2 1248.9,1839.2 1249.7,1839.2 1250.5,1839.2 1251.3,1839.2 1252.1,1839.2 1252.9,1839.2 1253.7,1839.2 1254.5,1839.2 1255.3,1839.2 1256.1,1839.2 1256.9,1839.2 1257.7,1839.2 1258.5,1839.2 1259.3,1839.2 1260.1,1839.2 1260.9,1839.2 1261.7,1839.2 1262.5,1839.2 1263.3,1839.2 1264.1,1839.2 1264.9,1839.2 1265.7,1839.2 1266.5,1839.2 1267.3,1839.2 1268.1,1839.2 1268.9,1839.2 1269.7,1839.2 1270.5,1839.2 1271.3,1839.2 1272.1,1839.2 1272.9,1839.2 1273.7,1839.2 1274.5,1839.2 1275.3,1839.3 1276.1,1839.3 1276.9,1839.3 1277.7,1839.3 1278.5,1839.3 1279.3,1839.3 1280.1,1839.3 1281,1839.3 1281.8,1839.3 1282.6,1839.3 1283.4,1839.3 1284.2,1839.3 1285,1839.3 1285.8,1839.3 1286.6,1839.3 1287.4,1839.3 1288.2,1839.3 1289,1839.3 1289.8,1839.3 1290.6,1839.3 1291.4,1839.3 1292.2,1839.3 1293,1839.3 1293.8,1839.3 1294.6,1839.3 1295.4,1839.3 1296.2,1839.3 1297,1839.3 1297.8,1839.3 1298.6,1839.3 1299.4,1839.3 1300.2,1839.3 1301,1839.3 1301.8,1839.3 1302.6,1839.3 1303.4,1839.3 1304.2,1839.3 1305,1839.3 1305.8,1839.3 1306.6,1839.3 1307.4,1839.3 1308.2,1839.3 1309,1839.3 1309.8,1839.3 1310.6,1839.3 1311.4,1839.3 1312.2,1839.3 1313,1839.3 1313.8,1839.3 1314.7,1839.3 1315.5,1839.3 1316.3,1839.3 1317.1,1839.3 1317.9,1839.3 1318.7,1839.3 1319.5,1839.3 1320.3,1839.3 1321.1,1839.3 1321.9,1839.3 1322.7,1839.3 1323.5,1839.3 1324.3,1839.3 1325.1,1839.3 1325.9,1839.3 1326.7,1839.3 1327.5,1839.3 1328.3,1839.3 1329.1,1839.3 1329.9,1839.3 1330.7,1839.3 1331.5,1839.3 1332.3,1839.3 1333.1,1839.3 1333.9,1839.3 1334.7,1839.3 1335.5,1839.3 1336.3,1839.3 1337.1,1839.3 1337.9,1839.3 1338.7,1839.3 1339.5,1839.3 1340.3,1839.3 1341.1,1839.3 1341.9,1839.3 1342.7,1839.3 1343.5,1839.3 1344.3,1839.3 1345.1,1839.3 1345.9,1839.3 1346.7,1839.3 1347.5,1839.3 1348.4,1839.3 1349.2,1839.3 1350,1839.3 1350.8,1839.3 1351.6,1839.3 1352.4,1839.3 1353.2,1839.4 1354,1839.4 1354.8,1839.4 1355.6,1839.4 1356.4,1839.4 1357.2,1839.4 1358,1839.4 1358.8,1839.4 1359.6,1839.4 1360.4,1839.4 1361.2,1839.4 1362,1839.4 1362.8,1839.4 1363.6,1839.4 1364.4,1839.4 1365.2,1839.4 1366,1839.4 1366.8,1839.4 1367.6,1839.4 1368.4,1839.4 1369.2,1839.4 1370,1839.4 1370.8,1839.4 1371.6,1839.4 1372.4,1839.4 1373.2,1839.4 1374,1839.4 1374.8,1839.4 1375.6,1839.4 1376.4,1839.4 1377.2,1839.4 1378,1839.4 1378.8,1839.4 1379.6,1839.4 1380.4,1839.4 1381.3,1839.4 1382.1,1839.4 1382.9,1839.4 1383.7,1839.4 1384.5,1839.4 1385.3,1839.4 1386.1,1839.4 1386.9,1839.4 1387.7,1839.4 1388.5,1839.4 1389.3,1839.4 1390.1,1839.4 1390.9,1839.4 1391.7,1839.4 1392.5,1839.4 1393.3,1839.4 1394.1,1839.4 1394.9,1839.4 1395.7,1839.4 1396.5,1839.4 1397.3,1839.4 1398.1,1839.4 1398.9,1839.4 1399.7,1839.4 1400.5,1839.4 1401.3,1839.4 1402.1,1839.4 1402.9,1839.4 1403.7,1839.4 1404.5,1839.4"/>
<polyline stroke="#66e8cc" stroke-width="5.0" points="361.4,1841.2 362.2,1841.2 363,1841.2 363.8,1841.2 364.6,1841.2 365.4,1841.2 366.2,1841.2 367,1841.2 367.8,1841.2 368.6,1841.2 369.4,1841.2 370.2,1841.2 371,1841.2 371.8,1841.2 372.6,1841.2 373.4,1841.2 374.2,1841.2 375,1841.2 375.8,1841.2 376.6,1841.2 377.4,1841.2 378.3,1841.2 379.1,1841.2 379.9,1841.2 380.7,1841.2 381.5,1841.2 382.3,1841.2 383.1,1841.2 383.9,1841.2 384.7,1841.2 385.5,1841.2 386.3,1841.2 387.1,1841.2 387.9,1841.2 388.7,1841.2 389.5,1841.2 390.3,1841.2 391.1,1841.2 391.9,1841.2 392.7,1841.2 393.5,1841.2 394.3,1841.2 395.1,1841.2 395.9,1841.2 396.7,1841.2 397.5,1841.2 398.3,1841.2 399.1,1841.2 399.9,1841.2 400.7,1841.2 401.5,1841.2 402.3,1841.2 403.1,1841.2 403.9,1841.2 404.7,1841.2 405.5,1841.2 406.3,1841.2 407.1,1841.2 407.9,1841.2 408.7,1841.2 409.5,1841.2 410.3,1841.2 411.1,1841.2 412,1841.2 412.8,1841.2 413.6,1841.2 414.4,1841.2 415.2,1841.2 416,1841.2 416.8,1841.2 417.6,1841.2 418.4,1841.2 419.2,1841.2 420,1841.2 420.8,1841.2 421.6,1841.2 422.4,1841.2 423.2,1841.2 424,1841.2 424.8,1841.2 425.6,1841.2 426.4,1841.2 427.2,1841.2 428,1841.2 428.8,1841.2 429.6,1841.2 430.4,1841.2 431.2,1841.2 432,1841.2 432.8,1841.2 433.6,1841.2 434.4,1841.2 435.2,1841.2 436,1841.2 436.8,1841.2 437.6,1841.2 438.4,1841.2 439.2,1841.2 440,1841.2 440.8,1841.2 441.6,1841.2 442.4,1841.2 443.2,1841.2 444,1841.2 444.8,1841.2 445.7,1841.2 446.5,1841.2 447.3,1841.2 448.1,1841.2 448.9,1841.2 449.7,1841.2 450.5,1841.2 451.3,1841.2 452.1,1841.2 452.9,1841.2 453.7,1841.2 454.5,1841.2 455.3,1841.2 456.1,1841.2 456.9,1841.2 457.7,1841.2 458.5,1841.2 459.3,1841.2 460.1,1841.2 460.9,1841.2 461.7,1841.2 462.5,1841.2 463.3,1841.2 464.1,1841.2 464.9,1841.2 465.7,1841.2 466.5,1841.2 467.3,1841.2 468.1,1841.2 468.9,1841.2 469.7,1841.2 470.5,1841.2 471.3,1841.2 472.1,1841.2 472.9,1841.2 473.7,1841.2 474.5,1841.2 475.3,1841.2 476.1,1841.2 476.9,1841.2 477.7,1841.2 478.6,1841.2 479.4,1841.2 480.2,1841.2 481,1841.2 481.8,1841.2 482.6,1841.2 483.4,1841.2 484.2,1841.2 485,1841.2 485.8,1841.2 486.6,1841.2 487.4,1841.2 488.2,1841.2 489,1841.2 489.8,1841.2 490.6,1841.2 491.4,1841.2 492.2,1841.2 493,1841.2 493.8,1841.2 494.6,1841.2 495.4,1841.2 496.2,1841.2 497,1841.2 497.8,1841.2 498.6,1841.2 499.4,1841.2 500.2,1841.2 501,1841.2 501.8,1841.2 502.6,1841.2 503.4,1841.2 504.2,1841.2 505,1841.2 505.8,1841.2 506.6,1841.2 507.4,1841.2 508.2,1841.2 509,1841.2 509.8,1841.2 510.6,1841.2 511.4,1841.2 512.3,1841.2 513.1,1841.2 513.9,1841.2 514.7,1841.2 515.5,1841.2 516.3,1841.2 517.1,1841.2 517.9,1841.2 518.7,1841.2 519.5,1841.2 520.3,1841.2 521.1,1841.2 521.9,1841.2 522.7,1841.2 523.5,1841.2 524.3,1841.2 525.1,1841.2 525.9,1841.2 526.7,1841.2 527.5,1841.2 528.3,1841.2 529.1,1841.2 529.9,1841.2 530.7,1841.2 531.5,1841.2 532.3,1841.2 533.1,1841.2 533.9,1841.2 534.7,1841.2 535.5,1841.2 536.3,1841.2 537.1,1841.2 537.9,1841.2 538.7,1841.2 539.5,1841.2 540.3,1841.2 541.1,1841.2 541.9,1841.2 542.7,1841.2 543.5,1841.2 544.3,1841.2 545.1,1841.2 546,1841.2 546.8,1841.2 547.6,1841.2 548.4,1841.2 549.2,1841.2 550,1841.2 550.8,1841.2 551.6,1841.2 552.4,1841.2 553.2,1841.2 554,1841.2 554.8,1841.2 555.6,1841.2 556.4,1841.2 557.2,1841.2 558,1841.2 558.8,1841.2 559.6,1841.2 560.4,1841.2 561.2,1841.2 562,1841.2 562.8,1841.2 563.6,1841.2 564.4,1841.2 565.2,1841.2 566,1841.2 566.8,1841.2 567.6,1841.2 568.4,1841.2 569.2,1841.2 570,1841.2 570.8,1841.2 571.6,1841.2 572.4,1841.2 573.2,1841.2 574,1841.2 574.8,1841.2 575.6,1841.2 576.4,1841.2 577.2,1841.2 578,1841.2 578.9,1841.2 579.7,1841.2 580.5,1841.2 581.3,1841.2 582.1,1841.2 582.9,1841.2 583.7,1841.2 584.5,1841.2 585.3,1841.2 586.1,1841.2 586.9,1841.2 587.7,1841.2 588.5,1841.2 589.3,1841.2 590.1,1841.2 590.9,1841.2 591.7,1841.2 592.5,1841.2 593.3,1841.2 594.1,1841.2 594.9,1841.2 595.7,1841.2 596.5,1841.2 597.3,1841.2 598.1,1841.2 598.9,1841.2 599.7,1841.2 600.5,1841.2 601.3,1841.2 602.1,1841.2 602.9,1841.2 603.7,1841.2 604.5,1841.2 605.3,1841.2 606.1,1841.2 606.9,1841.2 607.7,1841.2 608.5,1841.2 609.3,1841.2 610.1,1841.2 610.9,1841.2 611.7,1841.2 612.6,1841.2 613.4,1841.2 614.2,1841.2 615,1841.2 615.8,1841.2 616.6,1841.2 617.4,1841.2 618.2,1841.2 619,1841.2 619.8,1841.2 620.6,1841.2 621.4,1841.2 622.2,1841.2 623,1841.2 623.8,1841.2 624.6,1841.2 625.4,1841.2 626.2,1841.2 627,1841.2 627.8,1841.2 628.6,1841.2 629.4,1841.2 630.2,1841.2 631,1841.2 631.8,1841.2 632.6,1841.2 633.4,1841.2 634.2,1841.2 635,1841.2 635.8,1841.2 636.6,1841.2 637.4,1841.2 638.2,1841.2 639,1841.2 639.8,1841.2 640.6,1841.2 641.4,1841.2 642.2,1841.2 643,1841.2 643.8,1841.2 644.6,1841.2 645.4,1841.2 646.3,1841.2 647.1,1841.2 647.9,1841.2 648.7,1841.2 649.5,1841.2 650.3,1841.2 651.1,1841.2 651.9,1841.2 652.7,1841.2 653.5,1841.2 654.3,1841.2 655.1,1841.2 655.9,1841.2 656.7,1841.2 657.5,1841.2 658.3,1841.2 659.1,1841.2 659.9,1841.2 660.7,1841.2 661.5,1841.2 662.3,1841.2 663.1,1841.2 663.9,1841.2 664.7,1841.2 665.5,1841.2 666.3,1841.2 667.1,1841.2 667.9,1841.2 668.7,1841.2 669.5,1841.2 670.3,1841.2 671.1,1841.2 671.9,1841.2 672.7,1841.2 673.5,1841.2 674.3,1841.2 675.1,1841.2 675.9,1841.2 676.7,1841.2 677.5,1841.2 678.3,1841.2 679.2,1841.2 680,1841.2 680.8,1841.2 681.6,1841.2 682.4,1841.2 683.2,1841.2 684,1841.2 684.8,1841.2 685.6,1841.2 686.4,1841.2 687.2,1841.2 688,1841.2 688.8,1841.2 689.6,1841.2 690.4,1841.2 691.2,1841.2 692,1841.2 692.8,1841.2 693.6,1841.2 694.4,1841.2 695.2,1841.2 696,1841.2 696.8,1841.2 697.6,1841.2 698.4,1841.2 699.2,1841.2 700,1841.2 700.8,1841.2 701.6,1841.2 702.4,1841.2 703.2,1841.2 704,1841.2 704.8,1841.2 705.6,1841.2 706.4,1841.2 707.2,1841.2 708,1841.2 708.8,1841.2 709.6,1841.2 710.4,1841.2 711.2,1841.2 712,1841.2 712.9,1841.2 713.7,1841.2 714.5,1841.2 715.3,1841.2 716.1,1841.2 716.9,1841.2 717.7,1841.2 718.5,1841.2 719.3,1841.2 720.1,1841.2 720.9,1841.2 721.7,1841.2 722.5,1841.2 723.3,1841.2 724.1,1841.2 724.9,1841.2 725.7,1841.2 726.5,1841.2 727.3,1841.2 728.1,1841.2 728.9,1841.2 729.7,1841.2 730.5,1841.2 731.3,1841.2 732.1,1841.2 732.9,1841.2 733.7,1841.2 734.5,1841.2 735.3,1841.2 736.1,1841.2 736.9,1841.2 737.7,1841.2 738.5,1841.2 739.3,1841.2 740.1,1841.2 740.9,1841.2 741.7,1841.2 742.5,1841.2 743.3,1841.2 744.1,1841.2 744.9,1841.2 745.7,1841.2 746.6,1841.2 747.4,1841.2 748.2,1841.2 749,1841.2 749.8,1841.2 750.6,1841.2 751.4,1841.2 752.2,1841.2 753,1841.2 753.8,1841.2 754.6,1841.2 755.4,1841.2 756.2,1841.2 757,1841.2 757.8,1841.2 758.6,1841.2 759.4,1841.2 760.2,1841.2 761,1841.2 761.8,1841.2 762.6,1841.2 763.4,1841.2 764.2,1841.2 765,1841.2 765.8,1841.2 766.6,1841.2 767.4,1841.2 768.2,1841.2 769,1841.2 769.8,1841.2 770.6,1841.2 771.4,1841.2 772.2,1841.2 773,1841.2 773.8,1841.2 774.6,1841.2 775.4,1841.2 776.2,1841.2 777,1841.2 777.8,1841.2 778.6,1841.2 779.5,1841.2 780.3,1841.2 781.1,1841.2 781.9,1841.2 782.7,1841.2 783.5,1841.2 784.3,1841.2 785.1,1841.2 785.9,1841.2 786.7,1841.2 787.5,1841.2 788.3,1841.2 789.1,1841.2 789.9,1841.2 790.7,1841.2 791.5,1841.2 792.3,1841.2 793.1,1841.2 793.9,1841.2 794.7,1841.2 795.5,1841.2 796.3,1841.2 797.1,1841.2 797.9,1841.2 798.7,1841.2 799.5,1841.2 800.3,1841.2 801.1,1841.2 801.9,1841.2 802.7,1841.2 803.5,1841.2 804.3,1841.2 805.1,1841.2 805.9,1841.2 806.7,1841.2 807.5,1841.2 808.3,1841.2 809.1,1841.2 809.9,1841.2 810.7,1841.2 811.5,1841.2 812.3,1841.2 813.2,1841.2 814,1841.2 814.8,1841.2 815.6,1841.2 816.4,1841.2 817.2,1841.2 818,1841.2 818.8,1841.1 819.6,1841.1 820.4,1841.1 821.2,1841.1 822,1841.1 822.8,1841.1 823.6,1841.1 824.4,1841.1 825.2,1841.1 826,1841.1 826.8,1841.1 827.6,1841.1 828.4,1841.1 829.2,1841.1 830,1841.1 830.8,1841.1 831.6,1841.1 832.4,1841.1 833.2,1841.1 834,1841.1 834.8,1841.1 835.6,1841.1 836.4,1841.1 837.2,1841.1 838,1841.1 838.8,1841.1 839.6,1841.1 840.4,1841.1 841.2,1841.1 842,1841.1 842.8,1841.1 843.6,1841.1 844.4,1841.1 845.2,1841.1 846,1841.1 846.9,1841.1 847.7,1841.1 848.5,1841.1 849.3,1841.1 850.1,1841.1 850.9,1841.1 851.7,1841.1 852.5,1841.1 853.3,1841.1 854.1,1841.1 854.9,1841.1 855.7,1841.1 856.5,1841.1 857.3,1841.1 858.1,1841.1 858.9,1841.1 859.7,1841.1 860.5,1841.1 861.3,1841.1 862.1,1841.1 862.9,1841.1 863.7,1841.1 864.5,1841.1 865.3,1841.1 866.1,1841.1 866.9,1841.1 867.7,1841.1 868.5,1841.1 869.3,1841.1 870.1,1841.1 870.9,1841.1 871.7,1841.1 872.5,1841.1 873.3,1841.1 874.1,1841.1 874.9,1841.1 875.7,1841.1 876.5,1841.1 877.3,1841.1 878.1,1841.1 878.9,1841.1 879.8,1841.1 880.6,1841.1 881.4,1841.1 882.2,1841.1 883,1841.1 883.8,1841.1 884.6,1841.1 885.4,1841.1 886.2,1841.1 887,1841.1 887.8,1841.1 888.6,1841.1 889.4,1841.1 890.2,1841.1 891,1841.1 891.8,1841.1 892.6,1841.1 893.4,1841.1 894.2,1841.1 895,1841.1 895.8,1841.1 896.6,1841.1 897.4,1841.1 898.2,1841.1 899,1841.1 899.8,1841.1 900.6,1841.1 901.4,1841.1 902.2,1841.1 903,1841.1 903.8,1841.1 904.6,1841.1 905.4,1841.1 906.2,1841.1 907,1841.1 907.8,1841.1 908.6,1841.1 909.4,1841.1 910.2,1841.1 911,1841.1 911.8,1841.1 912.6,1841.1 913.5,1841.1 914.3,1841.1 915.1,1841.1 915.9,1841.1 916.7,1841.1 917.5,1841.1 918.3,1841.1 919.1,1841.1 919.9,1841.1 920.7,1841.1 921.5,1841.1 922.3,1841.1 923.1,1841.1 923.9,1841.1 924.7,1841.1 925.5,1841.1 926.3,1841.1 927.1,1841.1 927.9,1841.1 928.7,1841.1 929.5,1841.1 930.3,1841.1 931.1,1841.1 931.9,1841.1 932.7,1841.1 933.5,1841.1 934.3,1841.1 935.1,1841.1 935.9,1841.1 936.7,1841.1 937.5,1841.1 938.3,1841.1 939.1,1841.1 939.9,1841.1 940.7,1841.1 941.5,1841.1 942.3,1841 943.1,1841 943.9,1841 944.7,1841 945.5,1841 946.3,1841 947.2,1841 948,1841 948.8,1841 949.6,1841 950.4,1841 951.2,1841 952,1841 952.8,1841 953.6,1841 954.4,1841 955.2,1841 956,1841 956.8,1841 957.6,1841 958.4,1841 959.2,1841 960,1841 960.8,1841 961.6,1841 962.4,1841 963.2,1841 964,1841 964.8,1841 965.6,1841 966.4,1841 967.2,1841 968,1841 968.8,1841 969.6,1841 970.4,1841 971.2,1841 972,1841 972.8,1841 973.6,1841 974.4,1841 975.2,1841 976,1841 976.8,1841 977.6,1841 978.4,1841 979.2,1841 980.1,1841 980.9,1841 981.7,1841 982.5,1841 983.3,1841 984.1,1841 984.9,1841 985.7,1841 986.5,1841 987.3,1841 988.1,1841 988.9,1841 989.7,1841 990.5,1841 991.3,1841 992.1,1841 992.9,1841 993.7,1841 994.5,1841 995.3,1841 996.1,1841 996.9,1841 997.7,1841 998.5,1841 999.3,1841 1000.1,1841 1000.9,1841 1001.7,1841 1002.5,1841 1003.3,1840.9 1004.1,1840.9 1004.9,1840.9 1005.7,1840.9 1006.5,1840.9 1007.3,1840.9 1008.1,1840.9 1008.9,1840.9 1009.7,1840.9 1010.5,1840.9 1011.3,1840.9 1012.1,1840.9 1012.9,1840.9 1013.8,1840.9 1014.6,1840.9 1015.4,1840.9 1016.2,1840.9 1017,1840.9 1017.8,1840.9 1018.6,1840.9 1019.4,1840.9 1020.2,1840.9 1021,1840.9 1021.8,1840.9 1022.6,1840.9 1023.4,1840.9 1024.2,1840.9 1025,1840.9 1025.8,1840.9 1026.6,1840.9 1027.4,1840.9 1028.2,1840.9 1029,1840.9 1029.8,1840.9 1030.6,1840.9 1031.4,1840.9 1032.2,1840.9 1033,1840.9 1033.8,1840.9 1034.6,1840.9 1035.4,1840.9 1036.2,1840.9 1037,1840.9 1037.8,1840.9 1038.6,1840.9 1039.4,1840.9 1040.2,1840.9 1041,1840.8 1041.8,1840.8 1042.6,1840.8 1043.4,1840.8 1044.2,1840.8 1045,1840.8 1045.8,1840.8 1046.6,1840.8 1047.5,1840.8 1048.3,1840.8 1049.1,1840.8 1049.9,1840.8 1050.7,1840.8 1051.5,1840.8 1052.3,1840.8 1053.1,1840.8 1053.9,1840.8 1054.7,1840.8 1055.5,1840.8 1056.3,1840.8 1057.1,1840.8 1057.9,1840.8 1058.7,1840.8 1059.5,1840.8 1060.3,1840.8 1061.1,1840.8 1061.9,1840.8 1062.7,1840.8 1063.5,1840.8 1064.3,1840.8 1065.1,1840.8 1065.9,1840.8 1066.7,1840.8 1067.5,1840.7 1068.3,1840.7 1069.1,1840.7 1069.9,1840.7 1070.7,1840.7 1071.5,1840.7 1072.3,1840.7 1073.1,1840.7 1073.9,1840.7 1074.7,1840.7 1075.5,1840.7 1076.3,1840.7 1077.1,1840.7 1077.9,1840.7 1078.7,1840.7 1079.5,1840.7 1080.4,1840.7 1081.2,1840.7 1082,1840.7 1082.8,1840.7 1083.6,1840.7 1084.4,1840.7 1085.2,1840.7 1086,1840.7 1086.8,1840.7 1087.6,1840.6 1088.4,1840.6 1089.2,1840.6 1090,1840.6 1090.8,1840.6 1091.6,1840.6 1092.4,1840.6 1093.2,1840.6 1094,1840.6 1094.8,1840.6 1095.6,1840.6 1096.4,1840.6 1097.2,1840.6 1098,1840.6 1098.8,1840.6 1099.6,1840.6 1100.4,1840.6 1101.2,1840.6 1102,1840.6 1102.8,1840.6 1103.6,1840.5 1104.4,1840.5 1105.2,1840.5 1106,1840.5 1106.8,1840.5 1107.6,1840.5 1108.4,1840.5 1109.2,1840.5 1110,1840.5 1110.8,1840.5 1111.6,1840.5 1112.4,1840.5 1113.2,1840.5 1114.1,1840.5 1114.9,1840.5 1115.7,1840.4 1116.5,1840.4 1117.3,1840.4 1118.1,1840.4 1118.9,1840.4 1119.7,1840.4 1120.5,1840.4 1121.3,1840.4 1122.1,1840.4 1122.9,1840.4 1123.7,1840.4 1124.5,1840.4 1125.3,1840.4 1126.1,1840.4 1126.9,1840.3 1127.7,1840.3 1128.5,1840.3 1129.3,1840.3 1130.1,1840.3 1130.9,1840.3 1131.7,1840.3 1132.5,1840.3 1133.3,1840.3 1134.1,1840.3 1134.9,1840.3 1135.7,1840.2 1136.5,1840.2 1137.3,1840.2 1138.1,1840.2 1138.9,1840.2 1139.7,1840.2 1140.5,1840.2 1141.3,1840.2 1142.1,1840.2 1142.9,1840.1 1143.7,1840.1 1144.5,1840.1 1145.3,1840.1 1146.1,1840.1 1146.9,1840.1 1147.8,1840.1 1148.6,1840.1 1149.4,1840.1 1150.2,1840 1151,1840 1151.8,1840 1152.6,1840 1153.4,1840 1154.2,1840 1155,1840 1155.8,1839.9 1156.6,1839.9 1157.4,1839.9 1158.2,1839.9 1159,1839.9 1159.8,1839.9 1160.6,1839.9 1161.4,1839.8 1162.2,1839.8 1163,1839.8 1163.8,1839.8 1164.6,1839.8 1165.4,1839.8 1166.2,1839.7 1167,1839.7 1167.8,1839.7 1168.6,1839.7 1169.4,1839.7 1170.2,1839.7 1171,1839.6 1171.8,1839.6 1172.6,1839.6 1173.4,1839.6 1174.2,1839.6 1175,1839.5 1175.8,1839.5 1176.6,1839.5 1177.4,1839.5 1178.2,1839.4 1179,1839.4 1179.8,1839.4 1180.7,1839.4 1181.5,1839.3 1182.3,1839.3 1183.1,1839.3 1183.9,1839.3 1184.7,1839.2 1185.5,1839.2 1186.3,1839.2 1187.1,1839.2 1187.9,1839.1 1188.7,1839.1 1189.5,1839.1 1190.3,1839 1191.1,1839 1191.9,1839 1192.7,1838.9 1193.5,1838.9 1194.3,1838.9 1195.1,1838.8 1195.9,1838.8 1196.7,1838.8 1197.5,1838.7 1198.3,1838.7 1199.1,1838.7 1199.9,1838.6 1200.7,1838.6 1201.5,1838.5 1202.3,1838.5 1203.1,1838.5 1203.9,1838.4 1204.7,1838.4 1205.5,1838.3 1206.3,1838.3 1207.1,1838.2 1207.9,1838.2 1208.7,1838.1 1209.5,1838.1 1210.3,1838 1211.1,1838 1211.9,1837.9 1212.7,1837.9 1213.5,1837.8 1214.4,1837.7 1215.2,1837.7 1216,1837.6 1216.8,1837.5 1217.6,1837.5 1218.4,1837.4 1219.2,1837.3 1220,1837.3 1220.8,1837.2 1221.6,1837.1 1222.4,1837 1223.2,1837 1224,1836.9 1224.8,1836.8 1225.6,1836.7 1226.4,1836.6 1227.2,1836.5 1228,1836.4 1228.8,1836.3 1229.6,1836.2 1230.4,1836.1 1231.2,1836 1232,1835.9 1232.8,1835.8 1233.6,1835.7 1234.4,1835.5 1235.2,1835.4 1236,1835.3 1236.8,1835.1 1237.6,1835 1238.4,1834.9 1239.2,1834.7 1240,1834.6 1240.8,1834.4 1241.6,1834.2 1242.4,1834.1 1243.2,1833.9 1244,1833.7 1244.8,1833.5 1245.6,1833.3 1246.4,1833.1 1247.2,1832.9 1248.1,1832.7 1248.9,1832.4 1249.7,1832.2 1250.5,1832 1251.3,1831.7 1252.1,1831.4 1252.9,1831.1 1253.7,1830.9 1254.5,1830.6 1255.3,1830.2 1256.1,1829.9 1256.9,1829.6 1257.7,1829.2 1258.5,1828.8 1259.3,1828.4 1260.1,1828 1260.9,1827.6 1261.7,1827.1 1262.5,1826.7 1263.3,1826.2 1264.1,1825.6 1264.9,1825.1 1265.7,1824.5 1266.5,1823.9 1267.3,1823.3 1268.1,1822.6 1268.9,1821.9 1269.7,1821.2 1270.5,1820.4 1271.3,1819.6 1272.1,1818.8 1272.9,1817.9 1273.7,1816.9 1274.5,1815.9 1275.3,1814.8 1276.1,1813.7 1276.9,1812.5 1277.7,1811.2 1278.5,1809.9 1279.3,1808.5 1280.1,1807 1281,1805.4 1281.8,1803.8 1282.6,1802 1283.4,1800.1 1284.2,1798.2 1285,1796.1 1285.8,1793.9 1286.6,1791.6 1287.4,1789.2 1288.2,1786.6 1289,1784 1289.8,1781.2 1290.6,1778.3 1291.4,1775.3 1292.2,1772.3 1293,1769.1 1293.8,1765.9 1294.6,1762.7 1295.4,1759.5 1296.2,1756.3 1297,1753.2 1297.8,1750.3 1298.6,1747.5 1299.4,1744.9 1300.2,1742.7 1301,1740.7 1301.8,1739.2 1302.6,1738 1303.4,1737.3 1304.2,1737.1 1305,1737.3 1305.8,1738 1306.6,1739.2 1307.4,1740.7 1308.2,1742.7 1309,1744.9 1309.8,1747.5 1310.6,1750.3 1311.4,1753.2 1312.2,1756.3 1313,1759.5 1313.8,1762.7 1314.7,1765.9 1315.5,1769.1 1316.3,1772.3 1317.1,1775.3 1317.9,1778.3 1318.7,1781.2 1319.5,1784 1320.3,1786.6 1321.1,1789.2 1321.9,1791.6 1322.7,1793.9 1323.5,1796.1 1324.3,1798.2 1325.1,1800.1 1325.9,1802 1326.7,1803.8 1327.5,1805.4 1328.3,1807 1329.1,1808.5 1329.9,1809.9 1330.7,1811.2 1331.5,1812.5 1332.3,1813.7 1333.1,1814.8 1333.9,1815.9 1334.7,1816.9 1335.5,1817.9 1336.3,1818.8 1337.1,1819.6 1337.9,1820.4 1338.7,1821.2 1339.5,1821.9 1340.3,1822.6 1341.1,1823.3 1341.9,1823.9 1342.7,1824.5 1343.5,1825.1 1344.3,1825.6 1345.1,1826.2 1345.9,1826.7 1346.7,1827.1 1347.5,1827.6 1348.4,1828 1349.2,1828.4 1350,1828.8 1350.8,1829.2 1351.6,1829.6 1352.4,1829.9 1353.2,1830.2 1354,1830.6 1354.8,1830.9 1355.6,1831.1 1356.4,1831.4 1357.2,1831.7 1358,1832 1358.8,1832.2 1359.6,1832.4 1360.4,1832.7 1361.2,1832.9 1362,1833.1 1362.8,1833.3 1363.6,1833.5 1364.4,1833.7 1365.2,1833.9 1366,1834.1 1366.8,1834.2 1367.6,1834.4 1368.4,1834.6 1369.2,1834.7 1370,1834.9 1370.8,1835 1371.6,1835.1 1372.4,1835.3 1373.2,1835.4 1374,1835.5 1374.8,1835.7 1375.6,1835.8 1376.4,1835.9 1377.2,1836 1378,1836.1 1378.8,1836.2 1379.6,1836.3 1380.4,1836.4 1381.3,1836.5 1382.1,1836.6 1382.9,1836.7 1383.7,1836.8 1384.5,1836.9 1385.3,1837 1386.1,1837 1386.9,1837.1 1387.7,1837.2 1388.5,1837.3 1389.3,1837.3 1390.1,1837.4 1390.9,1837.5 1391.7,1837.5 1392.5,1837.6 1393.3,1837.7 1394.1,1837.7 1394.9,1837.8 1395.7,1837.9 1396.5,1837.9 1397.3,1838 1398.1,1838 1398.9,1838.1 1399.7,1838.1 1400.5,1838.2 1401.3,1838.2 1402.1,1838.3 1402.9,1838.3 1403.7,1838.4 1404.5,1838.4"/>
<polyline stroke="#ff1400" stroke-width="6.6" points="361.4,1814.7 362.2,1815.1 363,1815.6 363.8,1816 364.6,1816.4 365.4,1816.7 366.2,1817.1 367,1817.4 367.8,1817.7 368.6,1818 369.4,1818.3 370.2,1818.5 371,1818.8 371.8,1819 372.6,1819.2 373.4,1819.4 374.2,1819.6 375,1819.7 375.8,1819.9 376.6,1820.1 377.4,1820.2 378.3,1820.3 379.1,1820.4 379.9,1820.5 380.7,1820.6 381.5,1820.7 382.3,1820.8 383.1,1820.9 383.9,1820.9 384.7,1821 385.5,1821 386.3,1821.1 387.1,1821.1 387.9,1821.1 388.7,1821.2 389.5,1821.2 390.3,1821.2 391.1,1821.2 391.9,1821.2 392.7,1821.2 393.5,1821.2 394.3,1821.2 395.1,1821.1 395.9,1821.1 396.7,1821.1 397.5,1821.1 398.3,1821 399.1,1821 399.9,1820.9 400.7,1820.9 401.5,1820.8 402.3,1820.8 403.1,1820.7 403.9,1820.6 404.7,1820.6 405.5,1820.5 406.3,1820.4 407.1,1820.3 407.9,1820.3 408.7,1820.2 409.5,1820.1 410.3,1820 411.1,1819.9 412,1819.8 412.8,1819.7 413.6,1819.6 414.4,1819.5 415.2,1819.4 416,1819.2 416.8,1819.1 417.6,1819 418.4,1818.9 419.2,1818.7 420,1818.6 420.8,1818.5 421.6,1818.3 422.4,1818.2 423.2,1818 424,1817.9 424.8,1817.7 425.6,1817.6 426.4,1817.4 427.2,1817.3 428,1817.1 428.8,1816.9 429.6,1816.7 430.4,1816.6 431.2,1816.4 432,1816.2 432.8,1816 433.6,1815.8 434.4,1815.6 435.2,1815.4 436,1815.2 436.8,1815 437.6,1814.8 438.4,1814.6 439.2,1814.3 440,1814.1 440.8,1813.9 441.6,1813.6 442.4,1813.4 443.2,1813.2 444,1812.9 444.8,1812.6 445.7,1812.4 446.5,1812.1 447.3,1811.8 448.1,1811.6 448.9,1811.3 449.7,1811 450.5,1810.7 451.3,1810.4 452.1,1810.1 452.9,1809.8 453.7,1809.5 454.5,1809.1 455.3,1808.8 456.1,1808.5 456.9,1808.1 457.7,1807.8 458.5,1807.4 459.3,1807.1 460.1,1806.7 460.9,1806.3 461.7,1805.9 462.5,1805.5 463.3,1805.1 464.1,1804.7 464.9,1804.3 465.7,1803.8 466.5,1803.4 467.3,1802.9 468.1,1802.5 468.9,1802 469.7,1801.5 470.5,1801 471.3,1800.5 472.1,1800 472.9,1799.5 473.7,1798.9 474.5,1798.4 475.3,1797.8 476.1,1797.3 476.9,1796.7 477.7,1796.1 478.6,1795.4 479.4,1794.8 480.2,1794.2 481,1793.5 481.8,1792.8 482.6,1792.1 483.4,1791.4 484.2,1790.7 485,1789.9 485.8,1789.2 486.6,1788.4 487.4,1787.6 488.2,1786.8 489,1785.9 489.8,1785.1 490.6,1784.2 491.4,1783.3 492.2,1782.4 493,1781.4 493.8,1780.5 494.6,1779.5 495.4,1778.4 496.2,1777.4 497,1776.3 497.8,1775.2 498.6,1774.1 499.4,1772.9 500.2,1771.8 501,1770.6 501.8,1769.3 502.6,1768 503.4,1766.7 504.2,1765.4 505,1764.1 505.8,1762.7 506.6,1761.2 507.4,1759.8 508.2,1758.3 509,1756.8 509.8,1755.2 510.6,1753.6 511.4,1752 512.3,1750.4 513.1,1748.7 513.9,1747 514.7,1745.2 515.5,1743.4 516.3,1741.6 517.1,1739.8 517.9,1738 518.7,1736.1 519.5,1734.2 520.3,1732.2 521.1,1730.3 521.9,1728.3 522.7,1726.4 523.5,1724.4 524.3,1722.4 525.1,1720.4 525.9,1718.4 526.7,1716.5 527.5,1714.5 528.3,1712.5 529.1,1710.6 529.9,1708.7 530.7,1706.8 531.5,1705 532.3,1703.2 533.1,1701.5 533.9,1699.8 534.7,1698.2 535.5,1696.7 536.3,1695.2 537.1,1693.9 537.9,1692.6 538.7,1691.4 539.5,1690.3 540.3,1689.3 541.1,1688.5 541.9,1687.7 542.7,1687.1 543.5,1686.5 544.3,1686.1 545.1,1685.9 546,1685.7 546.8,1685.5 547.6,1685.3 548.4,1685.3 549.2,1685.4 550,1685.6 550.8,1686 551.6,1686.4 552.4,1686.9 553.2,1687.5 554,1688.3 554.8,1689.1 555.6,1689.9 556.4,1690.9 557.2,1691.9 558,1693 558.8,1694.1 559.6,1695.2 560.4,1696.4 561.2,1697.7 562,1698.9 562.8,1700.2 563.6,1701.5 564.4,1702.8 565.2,1704.1 566,1705.4 566.8,1706.7 567.6,1708 568.4,1709.3 569.2,1710.6 570,1711.8 570.8,1713 571.6,1714.3 572.4,1715.4 573.2,1716.6 574,1717.7 574.8,1718.8 575.6,1719.9 576.4,1720.9 577.2,1721.9 578,1722.8 578.9,1723.9 579.7,1724.8 580.5,1725.8 581.3,1726.7 582.1,1727.5 582.9,1728.4 583.7,1729.1 584.5,1729.9 585.3,1730.6 586.1,1731.3 586.9,1731.9 587.7,1732.5 588.5,1733.1 589.3,1733.6 590.1,1734.1 590.9,1734.6 591.7,1735 592.5,1735.4 593.3,1735.8 594.1,1736.1 594.9,1736.4 595.7,1736.7 596.5,1736.9 597.3,1737.1 598.1,1737.3 598.9,1737.4 599.7,1737.6 600.5,1737.6 601.3,1737.7 602.1,1737.7 602.9,1737.7 603.7,1737.7 604.5,1737.6 605.3,1737.5 606.1,1737.4 606.9,1737.3 607.7,1737.1 608.5,1737.2 609.3,1737.2 610.1,1737.2 610.9,1737.2 611.7,1737.2 612.6,1737.1 613.4,1737.1 614.2,1736.9 615,1736.8 615.8,1736.6 616.6,1736.5 617.4,1736.2 618.2,1736 619,1735.7 619.8,1735.4 620.6,1735.1 621.4,1734.8 622.2,1734.4 623,1734 623.8,1733.6 624.6,1733.2 625.4,1732.7 626.2,1732.2 627,1731.7 627.8,1731.1 628.6,1730.5 629.4,1729.9 630.2,1729.3 631,1728.7 631.8,1728 632.6,1727.2 633.4,1726.5 634.2,1725.7 635,1724.9 635.8,1724.1 636.6,1723.2 637.4,1722.3 638.2,1721.4 639,1720.5 639.8,1719.5 640.6,1718.5 641.4,1717.4 642.2,1716.3 643,1715.3 643.8,1714.2 644.6,1713.1 645.4,1711.9 646.3,1710.7 647.1,1709.5 647.9,1708.2 648.7,1706.9 649.5,1705.6 650.3,1704.2 651.1,1702.8 651.9,1701.3 652.7,1699.8 653.5,1698.3 654.3,1696.7 655.1,1695.1 655.9,1693.4 656.7,1691.7 657.5,1690 658.3,1688.2 659.1,1686.3 659.9,1684.5 660.7,1682.5 661.5,1680.6 662.3,1678.6 663.1,1676.5 663.9,1674.4 664.7,1672.2 665.5,1670 666.3,1667.8 667.1,1665.5 667.9,1663.1 668.7,1660.8 669.5,1658.3 670.3,1655.8 671.1,1653.3 671.9,1650.7 672.7,1648.1 673.5,1645.4 674.3,1642.7 675.1,1640 675.9,1637.2 676.7,1634.3 677.5,1631.4 678.3,1628.5 679.2,1625.5 680,1622.5 680.8,1619.5 681.6,1616.4 682.4,1613.3 683.2,1610 684,1606.6 684.8,1603.3 685.6,1599.9 686.4,1596.5 687.2,1593.1 688,1589.6 688.8,1586.2 689.6,1582.7 690.4,1579.3 691.2,1575.7 692,1572 692.8,1568.4 693.6,1564.8 694.4,1561.2 695.2,1557.7 696,1554.1 696.8,1550.6 697.6,1547.1 698.4,1543.7 699.2,1540.3 700,1536.9 700.8,1533 701.6,1529.2 702.4,1525.4 703.2,1521.7 704,1518 704.8,1514.4 705.6,1510.8 706.4,1507.3 707.2,1503.9 708,1500.5 708.8,1496.2 709.6,1492 710.4,1487.9 711.2,1483.8 712,1479.7 712.9,1475.7 713.7,1471.7 714.5,1467.7 715.3,1463.8 716.1,1459.9 716.9,1456 717.7,1452.1 718.5,1448.1 719.3,1444.2 720.1,1440.3 720.9,1437.3 721.7,1434.4 722.5,1431.3 723.3,1428.2 724.1,1425.1 724.9,1421.8 725.7,1418.4 726.5,1414.9 727.3,1411.3 728.1,1407.5 728.9,1403.6 729.7,1400.3 730.5,1396.7 731.3,1393 732.1,1389 732.9,1384.8 733.7,1380.4 734.5,1375.8 735.3,1370.8 736.1,1365.6 736.9,1361.1 737.7,1356.3 738.5,1351.2 739.3,1345.7 740.1,1339.9 740.9,1333.8 741.7,1327.4 742.5,1320.6 743.3,1313.4 744.1,1305.7 744.9,1297.5 745.7,1289.1 746.6,1280.3 747.4,1271.2 748.2,1261.8 749,1252.2 749.8,1242.3 750.6,1232.2 751.4,1221.9 752.2,1211.5 753,1201.4 753.8,1191.3 754.6,1181.3 755.4,1171.4 756.2,1161.7 757,1152.3 757.8,1143.3 758.6,1134.8 759.4,1126.8 760.2,1119.3 761,1112.7 761.8,1106.8 762.6,1101.9 763.4,1097.9 764.2,1095 765,1093.1 765.8,1092.4 766.6,1092.7 767.4,1093.6 768.2,1095.5 769,1098.5 769.8,1102.6 770.6,1107.7 771.4,1113.7 772.2,1120.5 773,1128.1 773.8,1136.3 774.6,1145.1 775.4,1153.9 776.2,1163.1 777,1172.5 777.8,1182 778.6,1191.6 779.5,1201.2 780.3,1210.6 781.1,1216.4 781.9,1221.8 782.7,1226.9 783.5,1231.5 784.3,1235.7 785.1,1239.4 785.9,1242.5 786.7,1245.1 787.5,1250.6 788.3,1255.5 789.1,1259.8 789.9,1263.5 790.7,1266.5 791.5,1268.9 792.3,1270.7 793.1,1272 793.9,1272.3 794.7,1272.3 795.5,1271.9 796.3,1271.3 797.1,1270.7 797.9,1270.2 798.7,1269.8 799.5,1269.8 800.3,1272.3 801.1,1275.5 801.9,1279.4 802.7,1284.3 803.5,1290.3 804.3,1297.3 805.1,1305.4 805.9,1314.6 806.7,1324.9 807.5,1336.2 808.3,1347.8 809.1,1360.2 809.9,1373.3 810.7,1386.8 811.5,1400.6 812.3,1414.7 813.2,1428.8 814,1443 814.8,1457 815.6,1470.8 816.4,1484.3 817.2,1497.5 818,1510.4 818.8,1522.9 819.6,1533.9 820.4,1544.4 821.2,1554.6 822,1564.3 822.8,1573.6 823.6,1582.5 824.4,1591 825.2,1599.2 826,1606.9 826.8,1614.3 827.6,1621.3 828.4,1628.1 829.2,1634.5 830,1640.6 830.8,1646.4 831.6,1652 832.4,1657.3 833.2,1662.4 834,1667.3 834.8,1672 835.6,1676.4 836.4,1680.7 837.2,1684.8 838,1688.7 838.8,1692.5 839.6,1696.1 840.4,1699.6 841.2,1702.9 842,1706.1 842.8,1709.2 843.6,1712.2 844.4,1715 845.2,1717.8 846,1720.4 846.9,1723 847.7,1725.5 848.5,1727.9 849.3,1730.2 850.1,1732.4 850.9,1734.5 851.7,1736.6 852.5,1738.6 853.3,1740.6 854.1,1742.5 854.9,1744.3 855.7,1746.1 856.5,1747.8 857.3,1749.5 858.1,1751.1 858.9,1752.7 859.7,1754.2 860.5,1755.7 861.3,1757.1 862.1,1758.5 862.9,1759.9 863.7,1761.2 864.5,1762.5 865.3,1763.8 866.1,1765 866.9,1766.2 867.7,1767.4 868.5,1768.5 869.3,1769.6 870.1,1770.7 870.9,1771.7 871.7,1772.7 872.5,1773.7 873.3,1774.7 874.1,1775.7 874.9,1776.6 875.7,1777.5 876.5,1778.4 877.3,1779.3 878.1,1780.1 878.9,1780.9 879.8,1781.8 880.6,1782.6 881.4,1783.3 882.2,1784.1 883,1784.8 883.8,1785.6 884.6,1786.3 885.4,1787 886.2,1787.6 887,1788.3 887.8,1789 888.6,1789.6 889.4,1790.2 890.2,1790.9 891,1791.5 891.8,1792.1 892.6,1792.6 893.4,1793.2 894.2,1793.8 895,1794.3 895.8,1794.9 896.6,1795.4 897.4,1795.9 898.2,1796.4 899,1796.9 899.8,1797.4 900.6,1797.9 901.4,1798.4 902.2,1798.8 903,1799.3 903.8,1799.7 904.6,1800.2 905.4,1800.6 906.2,1801 907,1801.5 907.8,1801.9 908.6,1802.3 909.4,1802.7 910.2,1803.1 911,1803.4 911.8,1803.8 912.6,1804.2 913.5,1804.6 914.3,1804.9 915.1,1805.3 915.9,1805.6 916.7,1806 917.5,1806.3 918.3,1806.7 919.1,1807 919.9,1807.3 920.7,1807.6 921.5,1807.9 922.3,1808.2 923.1,1808.5 923.9,1808.8 924.7,1809.1 925.5,1809.4 926.3,1809.7 927.1,1810 927.9,1810.3 928.7,1810.6 929.5,1810.8 930.3,1811.1 931.1,1811.4 931.9,1811.6 932.7,1811.9 933.5,1812.1 934.3,1812.4 935.1,1812.6 935.9,1812.9 936.7,1813.1 937.5,1813.3 938.3,1813.6 939.1,1813.8 939.9,1814 940.7,1814.2 941.5,1814.5 942.3,1814.7 943.1,1814.9 943.9,1815.1 944.7,1815.3 945.5,1815.5 946.3,1815.7 947.2,1815.9 948,1816.1 948.8,1816.3 949.6,1816.5 950.4,1816.7 951.2,1816.9 952,1817.1 952.8,1817.3 953.6,1817.4 954.4,1817.6 955.2,1817.8 956,1818 956.8,1818.1 957.6,1818.3 958.4,1818.5 959.2,1818.6 960,1818.8 960.8,1819 961.6,1819.1 962.4,1819.3 963.2,1819.5 964,1819.6 964.8,1819.8 965.6,1819.9 966.4,1820.1 967.2,1820.2 968,1820.4 968.8,1820.5 969.6,1820.6 970.4,1820.8 971.2,1820.9 972,1821.1 972.8,1821.2 973.6,1821.3 974.4,1821.5 975.2,1821.6 976,1821.7 976.8,1821.9 977.6,1822 978.4,1822.1 979.2,1822.2 980.1,1822.4 980.9,1822.5 981.7,1822.6 982.5,1822.7 983.3,1822.8 984.1,1823 984.9,1823.1 985.7,1823.2 986.5,1823.3 987.3,1823.4 988.1,1823.5 988.9,1823.6 989.7,1823.7 990.5,1823.9 991.3,1824 992.1,1824.1 992.9,1824.2 993.7,1824.3 994.5,1824.4 995.3,1824.5 996.1,1824.6 996.9,1824.7 997.7,1824.8 998.5,1824.9 999.3,1825 1000.1,1825.1 1000.9,1825.2 1001.7,1825.3 1002.5,1825.3 1003.3,1825.4 1004.1,1825.5 1004.9,1825.6 1005.7,1825.7 1006.5,1825.8 1007.3,1825.9 1008.1,1826 1008.9,1826 1009.7,1826.1 1010.5,1826.2 1011.3,1826.3 1012.1,1826.4 1012.9,1826.5 1013.8,1826.5 1014.6,1826.6 1015.4,1826.7 1016.2,1826.8 1017,1826.9 1017.8,1826.9 1018.6,1827 1019.4,1827.1 1020.2,1827.2 1021,1827.2 1021.8,1827.3 1022.6,1827.4 1023.4,1827.5 1024.2,1827.5 1025,1827.6 1025.8,1827.7 1026.6,1827.7 1027.4,1827.8 1028.2,1827.9 1029,1827.9 1029.8,1828 1030.6,1828.1 1031.4,1828.1 1032.2,1828.2 1033,1828.3 1033.8,1828.3 1034.6,1828.4 1035.4,1828.5 1036.2,1828.5 1037,1828.6 1037.8,1828.6 1038.6,1828.7 1039.4,1828.8 1040.2,1828.8 1041,1828.9 1041.8,1828.9 1042.6,1829 1043.4,1829.1 1044.2,1829.1 1045,1829.2 1045.8,1829.2 1046.6,1829.3 1047.5,1829.3 1048.3,1829.4 1049.1,1829.4 1049.9,1829.5 1050.7,1829.5 1051.5,1829.6 1052.3,1829.7 1053.1,1829.7 1053.9,1829.8 1054.7,1829.8 1055.5,1829.9 1056.3,1829.9 1057.1,1830 1057.9,1830 1058.7,1830 1059.5,1830.1 1060.3,1830.1 1061.1,1830.2 1061.9,1830.2 1062.7,1830.3 1063.5,1830.3 1064.3,1830.4 1065.1,1830.4 1065.9,1830.5 1066.7,1830.5 1067.5,1830.6 1068.3,1830.6 1069.1,1830.6 1069.9,1830.7 1070.7,1830.7 1071.5,1830.8 1072.3,1830.8 1073.1,1830.8 1073.9,1830.9 1074.7,1830.9 1075.5,1831 1076.3,1831 1077.1,1831.1 1077.9,1831.1 1078.7,1831.1 1079.5,1831.2 1080.4,1831.2 1081.2,1831.2 1082,1831.3 1082.8,1831.3 1083.6,1831.4 1084.4,1831.4 1085.2,1831.4 1086,1831.5 1086.8,1831.5 1087.6,1831.5 1088.4,1831.6 1089.2,1831.6 1090,1831.6 1090.8,1831.7 1091.6,1831.7 1092.4,1831.7 1093.2,1831.8 1094,1831.8 1094.8,1831.8 1095.6,1831.9 1096.4,1831.9 1097.2,1831.9 1098,1832 1098.8,1832 1099.6,1832 1100.4,1832 1101.2,1832.1 1102,1832.1 1102.8,1832.1 1103.6,1832.2 1104.4,1832.2 1105.2,1832.2 1106,1832.2 1106.8,1832.3 1107.6,1832.3 1108.4,1832.3 1109.2,1832.4 1110,1832.4 1110.8,1832.4 1111.6,1832.4 1112.4,1832.5 1113.2,1832.5 1114.1,1832.5 1114.9,1832.5 1115.7,1832.6 1116.5,1832.6 1117.3,1832.6 1118.1,1832.6 1118.9,1832.6 1119.7,1832.7 1120.5,1832.7 1121.3,1832.7 1122.1,1832.7 1122.9,1832.8 1123.7,1832.8 1124.5,1832.8 1125.3,1832.8 1126.1,1832.8 1126.9,1832.9 1127.7,1832.9 1128.5,1832.9 1129.3,1832.9 1130.1,1832.9 1130.9,1833 1131.7,1833 1132.5,1833 1133.3,1833 1134.1,1833 1134.9,1833 1135.7,1833.1 1136.5,1833.1 1137.3,1833.1 1138.1,1833.1 1138.9,1833.1 1139.7,1833.1 1140.5,1833.2 1141.3,1833.2 1142.1,1833.2 1142.9,1833.2 1143.7,1833.2 1144.5,1833.2 1145.3,1833.2 1146.1,1833.3 1146.9,1833.3 1147.8,1833.3 1148.6,1833.3 1149.4,1833.3 1150.2,1833.3 1151,1833.3 1151.8,1833.3 1152.6,1833.4 1153.4,1833.4 1154.2,1833.4 1155,1833.4 1155.8,1833.4 1156.6,1833.4 1157.4,1833.4 1158.2,1833.4 1159,1833.4 1159.8,1833.4 1160.6,1833.4 1161.4,1833.4 1162.2,1833.4 1163,1833.5 1163.8,1833.5 1164.6,1833.5 1165.4,1833.5 1166.2,1833.5 1167,1833.5 1167.8,1833.5 1168.6,1833.5 1169.4,1833.5 1170.2,1833.5 1171,1833.5 1171.8,1833.5 1172.6,1833.5 1173.4,1833.5 1174.2,1833.5 1175,1833.5 1175.8,1833.5 1176.6,1833.5 1177.4,1833.5 1178.2,1833.5 1179,1833.5 1179.8,1833.5 1180.7,1833.5 1181.5,1833.5 1182.3,1833.4 1183.1,1833.4 1183.9,1833.4 1184.7,1833.4 1185.5,1833.4 1186.3,1833.4 1187.1,1833.4 1187.9,1833.4 1188.7,1833.4 1189.5,1833.4 1190.3,1833.4 1191.1,1833.3 1191.9,1833.3 1192.7,1833.3 1193.5,1833.3 1194.3,1833.3 1195.1,1833.3 1195.9,1833.2 1196.7,1833.2 1197.5,1833.2 1198.3,1833.2 1199.1,1833.2 1199.9,1833.1 1200.7,1833.1 1201.5,1833.1 1202.3,1833.1 1203.1,1833 1203.9,1833 1204.7,1833 1205.5,1833 1206.3,1832.9 1207.1,1832.9 1207.9,1832.9 1208.7,1832.8 1209.5,1832.8 1210.3,1832.8 1211.1,1832.7 1211.9,1832.7 1212.7,1832.6 1213.5,1832.6 1214.4,1832.5 1215.2,1832.5 1216,1832.5 1216.8,1832.4 1217.6,1832.3 1218.4,1832.3 1219.2,1832.2 1220,1832.2 1220.8,1832.1 1221.6,1832.1 1222.4,1832 1223.2,1831.9 1224,1831.9 1224.8,1831.8 1225.6,1831.7 1226.4,1831.6 1227.2,1831.6 1228,1831.5 1228.8,1831.4 1229.6,1831.3 1230.4,1831.2 1231.2,1831.1 1232,1831 1232.8,1830.9 1233.6,1830.8 1234.4,1830.7 1235.2,1830.6 1236,1830.5 1236.8,1830.4 1237.6,1830.2 1238.4,1830.1 1239.2,1830 1240,1829.8 1240.8,1829.7 1241.6,1829.5 1242.4,1829.4 1243.2,1829.2 1244,1829 1244.8,1828.9 1245.6,1828.7 1246.4,1828.5 1247.2,1828.3 1248.1,1828.1 1248.9,1827.8 1249.7,1827.6 1250.5,1827.4 1251.3,1827.1 1252.1,1826.9 1252.9,1826.6 1253.7,1826.3 1254.5,1826 1255.3,1825.7 1256.1,1825.4 1256.9,1825.1 1257.7,1824.7 1258.5,1824.4 1259.3,1824 1260.1,1823.6 1260.9,1823.2 1261.7,1822.7 1262.5,1822.3 1263.3,1821.8 1264.1,1821.3 1264.9,1820.7 1265.7,1820.2 1266.5,1819.6 1267.3,1819 1268.1,1818.3 1268.9,1817.6 1269.7,1816.9 1270.5,1816.2 1271.3,1815.4 1272.1,1814.5 1272.9,1813.6 1273.7,1812.7 1274.5,1811.7 1275.3,1810.6 1276.1,1809.5 1276.9,1808.3 1277.7,1807.1 1278.5,1805.7 1279.3,1804.3 1280.1,1802.9 1281,1801.3 1281.8,1799.6 1282.6,1797.9 1283.4,1796 1284.2,1794.1 1285,1792 1285.8,1789.8 1286.6,1787.5 1287.4,1785.1 1288.2,1782.6 1289,1779.9 1289.8,1777.2 1290.6,1774.3 1291.4,1771.3 1292.2,1768.3 1293,1765.1 1293.8,1762 1294.6,1758.8 1295.4,1755.5 1296.2,1752.4 1297,1749.3 1297.8,1746.3 1298.6,1743.6 1299.4,1741 1300.2,1738.8 1301,1736.8 1301.8,1735.3 1302.6,1734.1 1303.4,1733.4 1304.2,1733.2 1305,1733.5 1305.8,1734.2 1306.6,1735.3 1307.4,1736.9 1308.2,1738.9 1309,1741.1 1309.8,1743.7 1310.6,1746.5 1311.4,1749.5 1312.2,1752.6 1313,1755.7 1313.8,1759 1314.7,1762.2 1315.5,1765.4 1316.3,1768.6 1317.1,1771.6 1317.9,1774.6 1318.7,1777.5 1319.5,1780.3 1320.3,1783 1321.1,1785.5 1321.9,1787.9 1322.7,1790.2 1323.5,1792.4 1324.3,1794.5 1325.1,1796.5 1325.9,1798.4 1326.7,1800.1 1327.5,1801.8 1328.3,1803.4 1329.1,1804.9 1329.9,1806.3 1330.7,1807.7 1331.5,1808.9 1332.3,1810.1 1333.1,1811.3 1333.9,1812.3 1334.7,1813.4 1335.5,1814.3 1336.3,1815.2 1337.1,1816.1 1337.9,1816.9 1338.7,1817.7 1339.5,1818.5 1340.3,1819.2 1341.1,1819.8 1341.9,1820.5 1342.7,1821.1 1343.5,1821.7 1344.3,1822.2 1345.1,1822.7 1345.9,1823.2 1346.7,1823.7 1347.5,1824.2 1348.4,1824.6 1349.2,1825 1350,1825.4 1350.8,1825.8 1351.6,1826.2 1352.4,1826.5 1353.2,1826.9 1354,1827.2 1354.8,1827.5 1355.6,1827.8 1356.4,1828.1 1357.2,1828.4 1358,1828.6 1358.8,1828.9 1359.6,1829.1 1360.4,1829.4 1361.2,1829.6 1362,1829.8 1362.8,1830 1363.6,1830.2 1364.4,1830.4 1365.2,1830.6 1366,1830.8 1366.8,1831 1367.6,1831.2 1368.4,1831.3 1369.2,1831.5 1370,1831.6 1370.8,1831.8 1371.6,1831.9 1372.4,1832.1 1373.2,1832.2 1374,1832.4 1374.8,1832.5 1375.6,1832.6 1376.4,1832.7 1377.2,1832.8 1378,1833 1378.8,1833.1 1379.6,1833.2 1380.4,1833.3 1381.3,1833.4 1382.1,1833.5 1382.9,1833.6 1383.7,1833.7 1384.5,1833.8 1385.3,1833.9 1386.1,1833.9 1386.9,1834 1387.7,1834.1 1388.5,1834.2 1389.3,1834.3 1390.1,1834.4 1390.9,1834.4 1391.7,1834.5 1392.5,1834.6 1393.3,1834.6 1394.1,1834.7 1394.9,1834.8 1395.7,1834.8 1396.5,1834.9 1397.3,1835 1398.1,1835 1398.9,1835.1 1399.7,1835.1 1400.5,1835.2 1401.3,1835.3 1402.1,1835.3 1402.9,1835.4 1403.7,1835.4 1404.5,1835.5"/>
</g>
<rect x="361.4" y="958.6" width="1043.6" height="896.4" fill="none" stroke="#000" stroke-width="6"/>
<g stroke="#000" stroke-width="6">
<line x1="361.4" y1="1855" x2="361.4" y2="1874.5"/>
<line x1="481.8" y1="1855" x2="481.8" y2="1868.5"/>
<line x1="602.1" y1="1855" x2="602.1" y2="1874.5"/>
<line x1="722.5" y1="1855" x2="722.5" y2="1868.5"/>
<line x1="842.8" y1="1855" x2="842.8" y2="1874.5"/>
<line x1="963.2" y1="1855" x2="963.2" y2="1868.5"/>
<line x1="1083.6" y1="1855" x2="1083.6" y2="1874.5"/>
<line x1="1203.9" y1="1855" x2="1203.9" y2="1868.5"/>
<line x1="1324.3" y1="1855" x2="1324.3" y2="1874.5"/>
<line x1="361.4" y1="1831" x2="341.9" y2="1831"/>
<line x1="361.4" y1="1721.9" x2="347.9" y2="1721.9"/>
<line x1="361.4" y1="1612.9" x2="341.9" y2="1612.9"/>
<line x1="361.4" y1="1503.8" x2="347.9" y2="1503.8"/>
<line x1="361.4" y1="1394.8" x2="341.9" y2="1394.8"/>
<line x1="361.4" y1="1285.7" x2="347.9" y2="1285.7"/>
<line x1="361.4" y1="1176.7" x2="341.9" y2="1176.7"/>
<line x1="361.4" y1="1067.6" x2="347.9" y2="1067.6"/>
<line x1="361.4" y1="958.6" x2="341.9" y2="958.6"/>
</g>
<g font-family='"Liberation Sans", sans-serif' font-weight="700" font-size="55" fill="#000">
<text x="361.4" y="1931.5" text-anchor="middle">300</text>
<text x="602.1" y="1931.5" text-anchor="middle">330</text>
<text x="842.8" y="1931.5" text-anchor="middle">360</text>
<text x="1083.6" y="1931.5" text-anchor="middle">390</text>
<text x="1324.3" y="1931.5" text-anchor="middle">420</text>
<text x="327.4" y="1847.5" text-anchor="end">0</text>
<text x="327.4" y="1629.4" text-anchor="end">4500</text>
<text x="327.4" y="1411.3" text-anchor="end">9000</text>
<text x="327.4" y="1193.2" text-anchor="end">13500</text>
<text x="327.4" y="975.1" text-anchor="end">18000</text>
</g>
<g font-family='"Liberation Sans", sans-serif' font-weight="700" font-size="70" fill="#000">
<text x="888" y="2040.5" text-anchor="middle">Raman shift (cm<tspan font-size="46" dy="-30">-1</tspan><tspan dy="30">)</tspan></text>
<text transform="translate(132,1406.8) rotate(-90)" text-anchor="middle">Intensity (a.u.)</text>
</g>
<g clip-path="url(#ce)" fill="none" stroke-linejoin="round" stroke-linecap="butt">
<g stroke="#000" stroke-width="2.6" fill="none">
<circle cx="1844.7" cy="1774.9" r="7.4"/>
<circle cx="1853" cy="1781.8" r="7.4"/>
<circle cx="1861.4" cy="1784.3" r="7.4"/>
<circle cx="1869.7" cy="1787.6" r="7.4"/>
<circle cx="1878" cy="1784.8" r="7.4"/>
<circle cx="1886.4" cy="1784" r="7.4"/>
<circle cx="1894.7" cy="1780.5" r="7.4"/>
<circle cx="1903" cy="1780.4" r="7.4"/>
<circle cx="1911.4" cy="1774.5" r="7.4"/>
<circle cx="1919.7" cy="1770.8" r="7.4"/>
<circle cx="1928" cy="1763.8" r="7.4"/>
<circle cx="1936.4" cy="1762.6" r="7.4"/>
<circle cx="1944.7" cy="1756.9" r="7.4"/>
<circle cx="1953" cy="1752.5" r="7.4"/>
<circle cx="1961.4" cy="1743.1" r="7.4"/>
<circle cx="1969.7" cy="1738" r="7.4"/>
<circle cx="1978" cy="1727.6" r="7.4"/>
<circle cx="1986.4" cy="1717.8" r="7.4"/>
<circle cx="1994.7" cy="1700.7" r="7.4"/>
<circle cx="2003" cy="1686.2" r="7.4"/>
<circle cx="2011.4" cy="1667.9" r="7.4"/>
<circle cx="2019.7" cy="1653.8" r="7.4"/>
<circle cx="2028" cy="1638.6" r="7.4"/>
<circle cx="2036.4" cy="1635.8" r="7.4"/>
<circle cx="2044.7" cy="1637.9" r="7.4"/>
<circle cx="2053" cy="1649.7" r="7.4"/>
<circle cx="2061.4" cy="1658.8" r="7.4"/>
<circle cx="2069.7" cy="1669.5" r="7.4"/>
<circle cx="2078" cy="1677.4" r="7.4"/>
<circle cx="2086.4" cy="1686.8" r="7.4"/>
<circle cx="2094.7" cy="1690" r="7.4"/>
<circle cx="2103" cy="1690.1" r="7.4"/>
<circle cx="2111.4" cy="1687.8" r="7.4"/>
<circle cx="2119.7" cy="1686.6" r="7.4"/>
<circle cx="2128" cy="1680.8" r="7.4"/>
<circle cx="2136.4" cy="1671.5" r="7.4"/>
<circle cx="2144.7" cy="1657" r="7.4"/>
<circle cx="2153" cy="1641.2" r="7.4"/>
<circle cx="2161.4" cy="1621.3" r="7.4"/>
<circle cx="2169.7" cy="1597.3" r="7.4"/>
<circle cx="2178" cy="1568.2" r="7.4"/>
<circle cx="2186.2" cy="1535.8" r="7.4"/>
<circle cx="2195.8" cy="1511.1" r="7.4"/>
<circle cx="2204.1" cy="1486.5" r="7.4"/>
<circle cx="2212.4" cy="1455.1" r="7.4"/>
<circle cx="2220.1" cy="1405.5" r="7.4"/>
<circle cx="2228.4" cy="1366.4" r="7.4"/>
<circle cx="2236.4" cy="1295" r="7.4"/>
<circle cx="2244.7" cy="1216.4" r="7.4"/>
<circle cx="2253" cy="1127.1" r="7.4"/>
<circle cx="2261.4" cy="1088.7" r="7.4"/>
<circle cx="2270" cy="1140.1" r="7.4"/>
<circle cx="2278" cy="1196.1" r="7.4"/>
<circle cx="2286.3" cy="1234" r="7.4"/>
<circle cx="2294.6" cy="1261.1" r="7.4"/>
<circle cx="2302.6" cy="1316.2" r="7.4"/>
<circle cx="2310.9" cy="1408.9" r="7.4"/>
<circle cx="2320" cy="1537.3" r="7.4"/>
<circle cx="2328" cy="1648.1" r="7.4"/>
<circle cx="2336.4" cy="1690.8" r="7.4"/>
<circle cx="2344.7" cy="1713" r="7.4"/>
<circle cx="2353" cy="1728.8" r="7.4"/>
<circle cx="2361.4" cy="1742.3" r="7.4"/>
<circle cx="2369.7" cy="1750.8" r="7.4"/>
<circle cx="2378" cy="1759" r="7.4"/>
<circle cx="2386.4" cy="1763.1" r="7.4"/>
<circle cx="2394.7" cy="1765.2" r="7.4"/>
<circle cx="2403" cy="1764.5" r="7.4"/>
<circle cx="2411.4" cy="1767.7" r="7.4"/>
<circle cx="2419.7" cy="1765.8" r="7.4"/>
<circle cx="2428" cy="1775.4" r="7.4"/>
<circle cx="2436.4" cy="1776.7" r="7.4"/>
<circle cx="2444.7" cy="1779.4" r="7.4"/>
<circle cx="2453" cy="1780.5" r="7.4"/>
<circle cx="2461.4" cy="1784.2" r="7.4"/>
<circle cx="2469.7" cy="1783.1" r="7.4"/>
<circle cx="2478" cy="1782.6" r="7.4"/>
<circle cx="2486.4" cy="1780.5" r="7.4"/>
<circle cx="2494.7" cy="1781.7" r="7.4"/>
<circle cx="2503" cy="1781.8" r="7.4"/>
<circle cx="2511.4" cy="1782.7" r="7.4"/>
<circle cx="2519.7" cy="1781.8" r="7.4"/>
<circle cx="2528" cy="1783" r="7.4"/>
<circle cx="2536.4" cy="1783.4" r="7.4"/>
<circle cx="2544.7" cy="1784.7" r="7.4"/>
<circle cx="2553" cy="1785.1" r="7.4"/>
<circle cx="2561.4" cy="1787" r="7.4"/>
<circle cx="2569.7" cy="1788.6" r="7.4"/>
<circle cx="2578" cy="1790.6" r="7.4"/>
<circle cx="2586.4" cy="1790.7" r="7.4"/>
<circle cx="2594.7" cy="1791.3" r="7.4"/>
<circle cx="2603" cy="1791.3" r="7.4"/>
<circle cx="2611.4" cy="1791.8" r="7.4"/>
<circle cx="2619.7" cy="1791.3" r="7.4"/>
<circle cx="2628" cy="1790.7" r="7.4"/>
<circle cx="2636.4" cy="1791.1" r="7.4"/>
<circle cx="2644.7" cy="1792.5" r="7.4"/>
<circle cx="2653.1" cy="1793.8" r="7.4"/>
<circle cx="2661.4" cy="1793" r="7.4"/>
<circle cx="2669.7" cy="1792.1" r="7.4"/>
<circle cx="2678.1" cy="1791.6" r="7.4"/>
<circle cx="2686.4" cy="1792.7" r="7.4"/>
<circle cx="2694.7" cy="1792.9" r="7.4"/>
<circle cx="2703.1" cy="1793.1" r="7.4"/>
<circle cx="2711.4" cy="1792.3" r="7.4"/>
<circle cx="2719.7" cy="1793" r="7.4"/>
<circle cx="2728.1" cy="1792.5" r="7.4"/>
<circle cx="2736.4" cy="1792.1" r="7.4"/>
<circle cx="2744.7" cy="1789.2" r="7.4"/>
<circle cx="2753.1" cy="1788.5" r="7.4"/>
<circle cx="2761.4" cy="1784.7" r="7.4"/>
<circle cx="2769.7" cy="1780.4" r="7.4"/>
<circle cx="2778.1" cy="1773.4" r="7.4"/>
<circle cx="2786.4" cy="1766.8" r="7.4"/>
<circle cx="2794.7" cy="1748.1" r="7.4"/>
<circle cx="2803.1" cy="1722.2" r="7.4"/>
<circle cx="2811.4" cy="1710.3" r="7.4"/>
<circle cx="2819.7" cy="1721.5" r="7.4"/>
<circle cx="2828.1" cy="1753.2" r="7.4"/>
<circle cx="2836.4" cy="1780.5" r="7.4"/>
<circle cx="2844.7" cy="1788.5" r="7.4"/>
<circle cx="2853.1" cy="1793.1" r="7.4"/>
<circle cx="2861.4" cy="1795.1" r="7.4"/>
<circle cx="2869.7" cy="1799.2" r="7.4"/>
<circle cx="2878.1" cy="1801.1" r="7.4"/>
<circle cx="2886.4" cy="1804.1" r="7.4"/>
<circle cx="2894.7" cy="1805.1" r="7.4"/>
<circle cx="2903.1" cy="1809.7" r="7.4"/>
<circle cx="2911.4" cy="1813.2" r="7.4"/>
</g>
<polyline stroke="#2fae3a" stroke-width="5.3" points="1849.4,1776.8 1850.2,1777.5 1851,1778.2 1851.9,1778.9 1852.7,1779.6 1853.5,1780.3 1854.3,1780.9 1855.1,1781.5 1855.9,1782.1 1856.8,1782.7 1857.6,1783.3 1858.4,1783.8 1859.2,1784.4 1860,1784.9 1860.8,1785.4 1861.7,1785.9 1862.5,1786.4 1863.3,1786.9 1864.1,1787.3 1864.9,1787.8 1865.7,1788.2 1866.6,1788.6 1867.4,1789 1868.2,1789.4 1869,1789.8 1869.8,1790.1 1870.6,1790.5 1871.5,1790.9 1872.3,1791.2 1873.1,1791.5 1873.9,1791.8 1874.7,1792.1 1875.6,1792.4 1876.4,1792.7 1877.2,1793 1878,1793.3 1878.8,1793.6 1879.6,1793.8 1880.5,1794.1 1881.3,1794.3 1882.1,1794.6 1882.9,1794.8 1883.7,1795 1884.5,1795.3 1885.4,1795.5 1886.2,1795.7 1887,1795.9 1887.8,1796.1 1888.6,1796.3 1889.4,1796.5 1890.3,1796.7 1891.1,1796.8 1891.9,1797 1892.7,1797.2 1893.5,1797.3 1894.3,1797.5 1895.2,1797.7 1896,1797.8 1896.8,1798 1897.6,1798.1 1898.4,1798.3 1899.3,1798.4 1900.1,1798.5 1900.9,1798.7 1901.7,1798.8 1902.5,1798.9 1903.3,1799 1904.2,1799.2 1905,1799.3 1905.8,1799.4 1906.6,1799.5 1907.4,1799.6 1908.2,1799.7 1909.1,1799.8 1909.9,1799.9 1910.7,1800 1911.5,1800.1 1912.3,1800.2 1913.1,1800.3 1914,1800.4 1914.8,1800.5 1915.6,1800.6 1916.4,1800.7 1917.2,1800.8 1918,1800.8 1918.9,1800.9 1919.7,1801 1920.5,1801.1 1921.3,1801.2 1922.1,1801.2 1923,1801.3 1923.8,1801.4 1924.6,1801.4 1925.4,1801.5 1926.2,1801.6 1927,1801.6 1927.9,1801.7 1928.7,1801.8 1929.5,1801.8 1930.3,1801.9 1931.1,1802 1931.9,1802 1932.8,1802.1 1933.6,1802.1 1934.4,1802.2 1935.2,1802.2 1936,1802.3 1936.8,1802.3 1937.7,1802.4 1938.5,1802.4 1939.3,1802.5 1940.1,1802.5 1940.9,1802.6 1941.7,1802.6 1942.6,1802.7 1943.4,1802.7 1944.2,1802.8 1945,1802.8 1945.8,1802.9 1946.7,1802.9 1947.5,1802.9 1948.3,1803 1949.1,1803 1949.9,1803.1 1950.7,1803.1 1951.6,1803.1 1952.4,1803.2 1953.2,1803.2 1954,1803.3 1954.8,1803.3 1955.6,1803.3 1956.5,1803.4 1957.3,1803.4 1958.1,1803.4 1958.9,1803.5 1959.7,1803.5 1960.5,1803.5 1961.4,1803.6 1962.2,1803.6 1963,1803.6 1963.8,1803.6 1964.6,1803.7 1965.4,1803.7 1966.3,1803.7 1967.1,1803.8 1967.9,1803.8 1968.7,1803.8 1969.5,1803.8 1970.4,1803.9 1971.2,1803.9 1972,1803.9 1972.8,1803.9 1973.6,1804 1974.4,1804 1975.3,1804 1976.1,1804 1976.9,1804.1 1977.7,1804.1 1978.5,1804.1 1979.3,1804.1 1980.2,1804.2 1981,1804.2 1981.8,1804.2 1982.6,1804.2 1983.4,1804.2 1984.2,1804.3 1985.1,1804.3 1985.9,1804.3 1986.7,1804.3 1987.5,1804.3 1988.3,1804.4 1989.1,1804.4 1990,1804.4 1990.8,1804.4 1991.6,1804.4 1992.4,1804.5 1993.2,1804.5 1994.1,1804.5 1994.9,1804.5 1995.7,1804.5 1996.5,1804.5 1997.3,1804.6 1998.1,1804.6 1999,1804.6 1999.8,1804.6 2000.6,1804.6 2001.4,1804.6 2002.2,1804.6 2003,1804.7 2003.9,1804.7 2004.7,1804.7 2005.5,1804.7 2006.3,1804.7 2007.1,1804.7 2007.9,1804.8 2008.8,1804.8 2009.6,1804.8 2010.4,1804.8 2011.2,1804.8 2012,1804.8 2012.9,1804.8 2013.7,1804.8 2014.5,1804.9 2015.3,1804.9 2016.1,1804.9 2016.9,1804.9 2017.8,1804.9 2018.6,1804.9 2019.4,1804.9 2020.2,1804.9 2021,1805 2021.8,1805 2022.7,1805 2023.5,1805 2024.3,1805 2025.1,1805 2025.9,1805 2026.7,1805 2027.6,1805 2028.4,1805.1 2029.2,1805.1 2030,1805.1 2030.8,1805.1 2031.6,1805.1 2032.5,1805.1 2033.3,1805.1 2034.1,1805.1 2034.9,1805.1 2035.7,1805.1 2036.6,1805.2 2037.4,1805.2 2038.2,1805.2 2039,1805.2 2039.8,1805.2 2040.6,1805.2 2041.5,1805.2 2042.3,1805.2 2043.1,1805.2 2043.9,1805.2 2044.7,1805.2 2045.5,1805.2 2046.4,1805.3 2047.2,1805.3 2048,1805.3 2048.8,1805.3 2049.6,1805.3 2050.4,1805.3 2051.3,1805.3 2052.1,1805.3 2052.9,1805.3 2053.7,1805.3 2054.5,1805.3 2055.3,1805.3 2056.2,1805.3 2057,1805.4 2057.8,1805.4 2058.6,1805.4 2059.4,1805.4 2060.3,1805.4 2061.1,1805.4 2061.9,1805.4 2062.7,1805.4 2063.5,1805.4 2064.3,1805.4 2065.2,1805.4 2066,1805.4 2066.8,1805.4 2067.6,1805.4 2068.4,1805.5 2069.2,1805.5 2070.1,1805.5 2070.9,1805.5 2071.7,1805.5 2072.5,1805.5 2073.3,1805.5 2074.1,1805.5 2075,1805.5 2075.8,1805.5 2076.6,1805.5 2077.4,1805.5 2078.2,1805.5 2079,1805.5 2079.9,1805.5 2080.7,1805.5 2081.5,1805.5 2082.3,1805.5 2083.1,1805.6 2084,1805.6 2084.8,1805.6 2085.6,1805.6 2086.4,1805.6 2087.2,1805.6 2088,1805.6 2088.9,1805.6 2089.7,1805.6 2090.5,1805.6 2091.3,1805.6 2092.1,1805.6 2092.9,1805.6 2093.8,1805.6 2094.6,1805.6 2095.4,1805.6 2096.2,1805.6 2097,1805.6 2097.8,1805.6 2098.7,1805.6 2099.5,1805.7 2100.3,1805.7 2101.1,1805.7 2101.9,1805.7 2102.7,1805.7 2103.6,1805.7 2104.4,1805.7 2105.2,1805.7 2106,1805.7 2106.8,1805.7 2107.7,1805.7 2108.5,1805.7 2109.3,1805.7 2110.1,1805.7 2110.9,1805.7 2111.7,1805.7 2112.6,1805.7 2113.4,1805.7 2114.2,1805.7 2115,1805.7 2115.8,1805.7 2116.6,1805.7 2117.5,1805.7 2118.3,1805.7 2119.1,1805.7 2119.9,1805.8 2120.7,1805.8 2121.5,1805.8 2122.4,1805.8 2123.2,1805.8 2124,1805.8 2124.8,1805.8 2125.6,1805.8 2126.4,1805.8 2127.3,1805.8 2128.1,1805.8 2128.9,1805.8 2129.7,1805.8 2130.5,1805.8 2131.4,1805.8 2132.2,1805.8 2133,1805.8 2133.8,1805.8 2134.6,1805.8 2135.4,1805.8 2136.3,1805.8 2137.1,1805.8 2137.9,1805.8 2138.7,1805.8 2139.5,1805.8 2140.3,1805.8 2141.2,1805.8 2142,1805.8 2142.8,1805.8 2143.6,1805.8 2144.4,1805.9 2145.2,1805.9 2146.1,1805.9 2146.9,1805.9 2147.7,1805.9 2148.5,1805.9 2149.3,1805.9 2150.1,1805.9 2151,1805.9 2151.8,1805.9 2152.6,1805.9 2153.4,1805.9 2154.2,1805.9 2155.1,1805.9 2155.9,1805.9 2156.7,1805.9 2157.5,1805.9 2158.3,1805.9 2159.1,1805.9 2160,1805.9 2160.8,1805.9 2161.6,1805.9 2162.4,1805.9 2163.2,1805.9 2164,1805.9 2164.9,1805.9 2165.7,1805.9 2166.5,1805.9 2167.3,1805.9 2168.1,1805.9 2168.9,1805.9 2169.8,1805.9 2170.6,1805.9 2171.4,1805.9 2172.2,1805.9 2173,1805.9 2173.8,1805.9 2174.7,1805.9 2175.5,1805.9 2176.3,1805.9 2177.1,1806 2177.9,1806 2178.8,1806 2179.6,1806 2180.4,1806 2181.2,1806 2182,1806 2182.8,1806 2183.7,1806 2184.5,1806 2185.3,1806 2186.1,1806 2186.9,1806 2187.7,1806 2188.6,1806 2189.4,1806 2190.2,1806 2191,1806 2191.8,1806 2192.6,1806 2193.5,1806 2194.3,1806 2195.1,1806 2195.9,1806 2196.7,1806 2197.5,1806 2198.4,1806 2199.2,1806 2200,1806 2200.8,1806 2201.6,1806 2202.5,1806 2203.3,1806 2204.1,1806 2204.9,1806 2205.7,1806 2206.5,1806 2207.4,1806 2208.2,1806 2209,1806 2209.8,1806 2210.6,1806 2211.4,1806 2212.3,1806 2213.1,1806 2213.9,1806 2214.7,1806 2215.5,1806 2216.3,1806 2217.2,1806 2218,1806 2218.8,1806 2219.6,1806 2220.4,1806 2221.2,1806 2222.1,1806.1 2222.9,1806.1 2223.7,1806.1 2224.5,1806.1 2225.3,1806.1 2226.2,1806.1 2227,1806.1 2227.8,1806.1 2228.6,1806.1 2229.4,1806.1 2230.2,1806.1 2231.1,1806.1 2231.9,1806.1 2232.7,1806.1 2233.5,1806.1 2234.3,1806.1 2235.1,1806.1 2236,1806.1 2236.8,1806.1 2237.6,1806.1 2238.4,1806.1 2239.2,1806.1 2240,1806.1 2240.9,1806.1 2241.7,1806.1 2242.5,1806.1 2243.3,1806.1 2244.1,1806.1 2244.9,1806.1 2245.8,1806.1 2246.6,1806.1 2247.4,1806.1 2248.2,1806.1 2249,1806.1 2249.9,1806.1 2250.7,1806.1 2251.5,1806.1 2252.3,1806.1 2253.1,1806.1 2253.9,1806.1 2254.8,1806.1 2255.6,1806.1 2256.4,1806.1 2257.2,1806.1 2258,1806.1 2258.8,1806.1 2259.7,1806.1 2260.5,1806.1 2261.3,1806.1 2262.1,1806.1 2262.9,1806.1 2263.7,1806.1 2264.6,1806.1 2265.4,1806.1 2266.2,1806.1 2267,1806.1 2267.8,1806.1 2268.6,1806.1 2269.5,1806.1 2270.3,1806.1 2271.1,1806.1 2271.9,1806.1 2272.7,1806.1 2273.6,1806.1 2274.4,1806.1 2275.2,1806.1 2276,1806.1 2276.8,1806.1 2277.6,1806.1 2278.5,1806.1 2279.3,1806.1 2280.1,1806.1 2280.9,1806.1 2281.7,1806.1 2282.5,1806.1 2283.4,1806.1 2284.2,1806.1 2285,1806.1 2285.8,1806.1 2286.6,1806.1 2287.4,1806.1 2288.3,1806.2 2289.1,1806.2 2289.9,1806.2 2290.7,1806.2 2291.5,1806.2 2292.3,1806.2 2293.2,1806.2 2294,1806.2 2294.8,1806.2 2295.6,1806.2 2296.4,1806.2 2297.3,1806.2 2298.1,1806.2 2298.9,1806.2 2299.7,1806.2 2300.5,1806.2 2301.3,1806.2 2302.2,1806.2 2303,1806.2 2303.8,1806.2 2304.6,1806.2 2305.4,1806.2 2306.2,1806.2 2307.1,1806.2 2307.9,1806.2 2308.7,1806.2 2309.5,1806.2 2310.3,1806.2 2311.1,1806.2 2312,1806.2 2312.8,1806.2 2313.6,1806.2 2314.4,1806.2 2315.2,1806.2 2316,1806.2 2316.9,1806.2 2317.7,1806.2 2318.5,1806.2 2319.3,1806.2 2320.1,1806.2 2321,1806.2 2321.8,1806.2 2322.6,1806.2 2323.4,1806.2 2324.2,1806.2 2325,1806.2 2325.9,1806.2 2326.7,1806.2 2327.5,1806.2 2328.3,1806.2 2329.1,1806.2 2329.9,1806.2 2330.8,1806.2 2331.6,1806.2 2332.4,1806.2 2333.2,1806.2 2334,1806.2 2334.8,1806.2 2335.7,1806.2 2336.5,1806.2 2337.3,1806.2 2338.1,1806.2 2338.9,1806.2 2339.8,1806.2 2340.6,1806.2 2341.4,1806.2 2342.2,1806.2 2343,1806.2 2343.8,1806.2 2344.7,1806.2 2345.5,1806.2 2346.3,1806.2 2347.1,1806.2 2347.9,1806.2 2348.7,1806.2 2349.6,1806.2 2350.4,1806.2 2351.2,1806.2 2352,1806.2 2352.8,1806.2 2353.6,1806.2 2354.5,1806.2 2355.3,1806.2 2356.1,1806.2 2356.9,1806.2 2357.7,1806.2 2358.5,1806.2 2359.4,1806.2 2360.2,1806.2 2361,1806.2 2361.8,1806.2 2362.6,1806.2 2363.5,1806.2 2364.3,1806.2 2365.1,1806.2 2365.9,1806.2 2366.7,1806.2 2367.5,1806.2 2368.4,1806.2 2369.2,1806.2 2370,1806.2 2370.8,1806.2 2371.6,1806.2 2372.4,1806.2 2373.3,1806.2 2374.1,1806.2 2374.9,1806.2 2375.7,1806.2 2376.5,1806.2 2377.3,1806.2 2378.2,1806.2 2379,1806.2 2379.8,1806.2 2380.6,1806.2 2381.4,1806.2 2382.2,1806.2 2383.1,1806.2 2383.9,1806.2 2384.7,1806.2 2385.5,1806.2 2386.3,1806.2 2387.2,1806.2 2388,1806.2 2388.8,1806.2 2389.6,1806.2 2390.4,1806.2 2391.2,1806.2 2392.1,1806.2 2392.9,1806.2 2393.7,1806.2 2394.5,1806.2 2395.3,1806.2 2396.1,1806.2 2397,1806.2 2397.8,1806.2 2398.6,1806.2 2399.4,1806.2 2400.2,1806.2 2401,1806.2 2401.9,1806.2 2402.7,1806.3 2403.5,1806.3 2404.3,1806.3 2405.1,1806.3 2405.9,1806.3 2406.8,1806.3 2407.6,1806.3 2408.4,1806.3 2409.2,1806.3 2410,1806.3 2410.9,1806.3 2411.7,1806.3 2412.5,1806.3 2413.3,1806.3 2414.1,1806.3 2414.9,1806.3 2415.8,1806.3 2416.6,1806.3 2417.4,1806.3 2418.2,1806.3 2419,1806.3 2419.8,1806.3 2420.7,1806.3 2421.5,1806.3 2422.3,1806.3 2423.1,1806.3 2423.9,1806.3 2424.7,1806.3 2425.6,1806.3 2426.4,1806.3 2427.2,1806.3 2428,1806.3 2428.8,1806.3 2429.6,1806.3 2430.5,1806.3 2431.3,1806.3 2432.1,1806.3 2432.9,1806.3 2433.7,1806.3 2434.6,1806.3 2435.4,1806.3 2436.2,1806.3 2437,1806.3 2437.8,1806.3 2438.6,1806.3 2439.5,1806.3 2440.3,1806.3 2441.1,1806.3 2441.9,1806.3 2442.7,1806.3 2443.5,1806.3 2444.4,1806.3 2445.2,1806.3 2446,1806.3 2446.8,1806.3 2447.6,1806.3 2448.4,1806.3 2449.3,1806.3 2450.1,1806.3 2450.9,1806.3 2451.7,1806.3 2452.5,1806.3 2453.3,1806.3 2454.2,1806.3 2455,1806.3 2455.8,1806.3 2456.6,1806.3 2457.4,1806.3 2458.3,1806.3 2459.1,1806.3 2459.9,1806.3 2460.7,1806.3 2461.5,1806.3 2462.3,1806.3 2463.2,1806.3 2464,1806.3 2464.8,1806.3 2465.6,1806.3 2466.4,1806.3 2467.2,1806.3 2468.1,1806.3 2468.9,1806.3 2469.7,1806.3 2470.5,1806.3 2471.3,1806.3 2472.1,1806.3 2473,1806.3 2473.8,1806.3 2474.6,1806.3 2475.4,1806.3 2476.2,1806.3 2477,1806.3 2477.9,1806.3 2478.7,1806.3 2479.5,1806.3 2480.3,1806.3 2481.1,1806.3 2482,1806.3 2482.8,1806.3 2483.6,1806.3 2484.4,1806.3 2485.2,1806.3 2486,1806.3 2486.9,1806.3 2487.7,1806.3 2488.5,1806.3 2489.3,1806.3 2490.1,1806.3 2490.9,1806.3 2491.8,1806.3 2492.6,1806.3 2493.4,1806.3 2494.2,1806.3 2495,1806.3 2495.8,1806.3 2496.7,1806.3 2497.5,1806.3 2498.3,1806.3 2499.1,1806.3 2499.9,1806.3 2500.7,1806.3 2501.6,1806.3 2502.4,1806.3 2503.2,1806.3 2504,1806.3 2504.8,1806.3 2505.7,1806.3 2506.5,1806.3 2507.3,1806.3 2508.1,1806.3 2508.9,1806.3 2509.7,1806.3 2510.6,1806.3 2511.4,1806.3 2512.2,1806.3 2513,1806.3 2513.8,1806.3 2514.6,1806.3 2515.5,1806.3 2516.3,1806.3 2517.1,1806.3 2517.9,1806.3 2518.7,1806.3 2519.5,1806.3 2520.4,1806.3 2521.2,1806.3 2522,1806.3 2522.8,1806.3 2523.6,1806.3 2524.4,1806.3 2525.3,1806.3 2526.1,1806.3 2526.9,1806.3 2527.7,1806.3 2528.5,1806.3 2529.4,1806.3 2530.2,1806.3 2531,1806.3 2531.8,1806.3 2532.6,1806.3 2533.4,1806.3 2534.3,1806.3 2535.1,1806.3 2535.9,1806.3 2536.7,1806.3 2537.5,1806.3 2538.3,1806.3 2539.2,1806.3 2540,1806.3 2540.8,1806.3 2541.6,1806.3 2542.4,1806.3 2543.2,1806.3 2544.1,1806.3 2544.9,1806.3 2545.7,1806.3 2546.5,1806.3 2547.3,1806.3 2548.1,1806.3 2549,1806.3 2549.8,1806.3 2550.6,1806.3 2551.4,1806.3 2552.2,1806.3 2553.1,1806.3 2553.9,1806.3 2554.7,1806.3 2555.5,1806.3 2556.3,1806.3 2557.1,1806.3 2558,1806.3 2558.8,1806.3 2559.6,1806.3 2560.4,1806.3 2561.2,1806.3 2562,1806.3 2562.9,1806.3 2563.7,1806.3 2564.5,1806.3 2565.3,1806.3 2566.1,1806.3 2566.9,1806.3 2567.8,1806.3 2568.6,1806.3 2569.4,1806.3 2570.2,1806.3 2571,1806.3 2571.8,1806.3 2572.7,1806.3 2573.5,1806.3 2574.3,1806.3 2575.1,1806.3 2575.9,1806.3 2576.8,1806.3 2577.6,1806.3 2578.4,1806.3 2579.2,1806.3 2580,1806.3 2580.8,1806.3 2581.7,1806.3 2582.5,1806.3 2583.3,1806.3 2584.1,1806.3 2584.9,1806.3 2585.7,1806.3 2586.6,1806.3 2587.4,1806.3 2588.2,1806.3 2589,1806.3 2589.8,1806.3 2590.6,1806.3 2591.5,1806.3 2592.3,1806.3 2593.1,1806.3 2593.9,1806.3 2594.7,1806.3 2595.5,1806.3 2596.4,1806.3 2597.2,1806.3 2598,1806.3 2598.8,1806.3 2599.6,1806.3 2600.5,1806.3 2601.3,1806.3 2602.1,1806.3 2602.9,1806.3 2603.7,1806.3 2604.5,1806.3 2605.4,1806.3 2606.2,1806.3 2607,1806.3 2607.8,1806.3 2608.6,1806.3 2609.4,1806.3 2610.3,1806.3 2611.1,1806.3 2611.9,1806.3 2612.7,1806.3 2613.5,1806.3 2614.3,1806.3 2615.2,1806.3 2616,1806.3 2616.8,1806.3 2617.6,1806.3 2618.4,1806.3 2619.2,1806.3 2620.1,1806.3 2620.9,1806.3 2621.7,1806.3 2622.5,1806.3 2623.3,1806.3 2624.2,1806.3 2625,1806.3 2625.8,1806.3 2626.6,1806.3 2627.4,1806.3 2628.2,1806.3 2629.1,1806.3 2629.9,1806.3 2630.7,1806.3 2631.5,1806.3 2632.3,1806.3 2633.1,1806.3 2634,1806.3 2634.8,1806.3 2635.6,1806.3 2636.4,1806.3 2637.2,1806.3 2638,1806.3 2638.9,1806.3 2639.7,1806.3 2640.5,1806.3 2641.3,1806.3 2642.1,1806.3 2642.9,1806.3 2643.8,1806.3 2644.6,1806.3 2645.4,1806.3 2646.2,1806.3 2647,1806.3 2647.9,1806.3 2648.7,1806.3 2649.5,1806.3 2650.3,1806.3 2651.1,1806.3 2651.9,1806.3 2652.8,1806.3 2653.6,1806.3 2654.4,1806.3 2655.2,1806.3 2656,1806.3 2656.8,1806.3 2657.7,1806.3 2658.5,1806.3 2659.3,1806.3 2660.1,1806.3 2660.9,1806.3 2661.7,1806.3 2662.6,1806.3 2663.4,1806.3 2664.2,1806.3 2665,1806.3 2665.8,1806.3 2666.7,1806.3 2667.5,1806.3 2668.3,1806.3 2669.1,1806.3 2669.9,1806.3 2670.7,1806.3 2671.6,1806.3 2672.4,1806.3 2673.2,1806.3 2674,1806.3 2674.8,1806.3 2675.6,1806.3 2676.5,1806.3 2677.3,1806.3 2678.1,1806.3 2678.9,1806.3 2679.7,1806.3 2680.5,1806.3 2681.4,1806.3 2682.2,1806.3 2683,1806.4 2683.8,1806.4 2684.6,1806.4 2685.4,1806.4 2686.3,1806.4 2687.1,1806.4 2687.9,1806.4 2688.7,1806.4 2689.5,1806.4 2690.4,1806.4 2691.2,1806.4 2692,1806.4 2692.8,1806.4 2693.6,1806.4 2694.4,1806.4 2695.3,1806.4 2696.1,1806.4 2696.9,1806.4 2697.7,1806.4 2698.5,1806.4 2699.3,1806.4 2700.2,1806.4 2701,1806.4 2701.8,1806.4 2702.6,1806.4 2703.4,1806.4 2704.2,1806.4 2705.1,1806.4 2705.9,1806.4 2706.7,1806.4 2707.5,1806.4 2708.3,1806.4 2709.1,1806.4 2710,1806.4 2710.8,1806.4 2711.6,1806.4 2712.4,1806.4 2713.2,1806.4 2714.1,1806.4 2714.9,1806.4 2715.7,1806.4 2716.5,1806.4 2717.3,1806.4 2718.1,1806.4 2719,1806.4 2719.8,1806.4 2720.6,1806.4 2721.4,1806.4 2722.2,1806.4 2723,1806.4 2723.9,1806.4 2724.7,1806.4 2725.5,1806.4 2726.3,1806.4 2727.1,1806.4 2727.9,1806.4 2728.8,1806.4 2729.6,1806.4 2730.4,1806.4 2731.2,1806.4 2732,1806.4 2732.8,1806.4 2733.7,1806.4 2734.5,1806.4 2735.3,1806.4 2736.1,1806.4 2736.9,1806.4 2737.8,1806.4 2738.6,1806.4 2739.4,1806.4 2740.2,1806.4 2741,1806.4 2741.8,1806.4 2742.7,1806.4 2743.5,1806.4 2744.3,1806.4 2745.1,1806.4 2745.9,1806.4 2746.7,1806.4 2747.6,1806.4 2748.4,1806.4 2749.2,1806.4 2750,1806.4 2750.8,1806.4 2751.6,1806.4 2752.5,1806.4 2753.3,1806.4 2754.1,1806.4 2754.9,1806.4 2755.7,1806.4 2756.5,1806.4 2757.4,1806.4 2758.2,1806.4 2759,1806.4 2759.8,1806.4 2760.6,1806.4 2761.5,1806.4 2762.3,1806.4 2763.1,1806.4 2763.9,1806.4 2764.7,1806.4 2765.5,1806.4 2766.4,1806.4 2767.2,1806.4 2768,1806.4 2768.8,1806.4 2769.6,1806.4 2770.4,1806.4 2771.3,1806.4 2772.1,1806.4 2772.9,1806.4 2773.7,1806.4 2774.5,1806.4 2775.3,1806.4 2776.2,1806.4 2777,1806.4 2777.8,1806.4 2778.6,1806.4 2779.4,1806.4 2780.2,1806.4 2781.1,1806.4 2781.9,1806.4 2782.7,1806.4 2783.5,1806.4 2784.3,1806.4 2785.2,1806.4 2786,1806.4 2786.8,1806.4 2787.6,1806.4 2788.4,1806.4 2789.2,1806.4 2790.1,1806.4 2790.9,1806.4 2791.7,1806.4 2792.5,1806.4 2793.3,1806.4 2794.1,1806.4 2795,1806.4 2795.8,1806.4 2796.6,1806.4 2797.4,1806.4 2798.2,1806.4 2799,1806.4 2799.9,1806.4 2800.7,1806.4 2801.5,1806.4 2802.3,1806.4 2803.1,1806.4 2803.9,1806.4 2804.8,1806.4 2805.6,1806.4 2806.4,1806.4 2807.2,1806.4 2808,1806.4 2808.9,1806.4 2809.7,1806.4 2810.5,1806.4 2811.3,1806.4 2812.1,1806.4 2812.9,1806.4 2813.8,1806.4 2814.6,1806.4 2815.4,1806.4 2816.2,1806.4 2817,1806.4 2817.8,1806.4 2818.7,1806.4 2819.5,1806.4 2820.3,1806.4 2821.1,1806.4 2821.9,1806.4 2822.7,1806.4 2823.6,1806.4 2824.4,1806.4 2825.2,1806.4 2826,1806.4 2826.8,1806.4 2827.6,1806.4 2828.5,1806.4 2829.3,1806.4 2830.1,1806.4 2830.9,1806.4 2831.7,1806.4 2832.6,1806.4 2833.4,1806.4 2834.2,1806.4 2835,1806.4 2835.8,1806.4 2836.6,1806.4 2837.5,1806.4 2838.3,1806.4 2839.1,1806.4 2839.9,1806.4 2840.7,1806.4 2841.5,1806.4 2842.4,1806.4 2843.2,1806.4 2844,1806.4 2844.8,1806.4 2845.6,1806.4 2846.4,1806.4 2847.3,1806.4 2848.1,1806.4 2848.9,1806.4 2849.7,1806.4 2850.5,1806.4 2851.3,1806.4 2852.2,1806.4 2853,1806.4 2853.8,1806.4 2854.6,1806.4 2855.4,1806.4 2856.3,1806.4 2857.1,1806.4 2857.9,1806.4 2858.7,1806.4 2859.5,1806.4 2860.3,1806.4 2861.2,1806.4 2862,1806.4 2862.8,1806.4 2863.6,1806.4 2864.4,1806.4 2865.2,1806.4 2866.1,1806.4 2866.9,1806.4 2867.7,1806.4 2868.5,1806.4 2869.3,1806.4 2870.1,1806.4 2871,1806.4 2871.8,1806.4 2872.6,1806.4 2873.4,1806.4 2874.2,1806.4 2875,1806.4 2875.9,1806.4 2876.7,1806.4 2877.5,1806.4 2878.3,1806.4 2879.1,1806.4 2880,1806.4 2880.8,1806.4 2881.6,1806.4 2882.4,1806.4 2883.2,1806.4 2884,1806.4 2884.9,1806.4 2885.7,1806.4 2886.5,1806.4 2887.3,1806.4 2888.1,1806.4 2888.9,1806.4 2889.8,1806.4 2890.6,1806.4 2891.4,1806.4 2892.2,1806.4 2893,1806.4 2893.8,1806.4 2894.7,1806.4 2895.5,1806.4 2896.3,1806.4 2897.1,1806.4 2897.9,1806.4 2898.7,1806.4 2899.6,1806.4 2900.4,1806.4 2901.2,1806.4 2902,1806.4 2902.8,1806.4 2903.7,1806.4 2904.5,1806.4 2905.3,1806.4 2906.1,1806.4 2906.9,1806.4 2907.7,1806.4 2908.6,1806.4 2909.4,1806.4 2910.2,1806.4 2911,1806.4 2911.8,1806.4"/>
<polyline stroke="#66f52e" stroke-width="5.6" points="1849.4,1799 1850.2,1799 1851,1798.9 1851.9,1798.9 1852.7,1798.8 1853.5,1798.7 1854.3,1798.7 1855.1,1798.6 1855.9,1798.5 1856.8,1798.5 1857.6,1798.4 1858.4,1798.3 1859.2,1798.3 1860,1798.2 1860.8,1798.1 1861.7,1798 1862.5,1798 1863.3,1797.9 1864.1,1797.8 1864.9,1797.7 1865.7,1797.6 1866.6,1797.6 1867.4,1797.5 1868.2,1797.4 1869,1797.3 1869.8,1797.2 1870.6,1797.2 1871.5,1797.1 1872.3,1797 1873.1,1796.9 1873.9,1796.8 1874.7,1796.7 1875.6,1796.6 1876.4,1796.5 1877.2,1796.4 1878,1796.3 1878.8,1796.2 1879.6,1796.1 1880.5,1796 1881.3,1795.9 1882.1,1795.8 1882.9,1795.7 1883.7,1795.6 1884.5,1795.5 1885.4,1795.4 1886.2,1795.3 1887,1795.2 1887.8,1795.1 1888.6,1794.9 1889.4,1794.8 1890.3,1794.7 1891.1,1794.6 1891.9,1794.5 1892.7,1794.3 1893.5,1794.2 1894.3,1794.1 1895.2,1793.9 1896,1793.8 1896.8,1793.7 1897.6,1793.5 1898.4,1793.4 1899.3,1793.2 1900.1,1793.1 1900.9,1793 1901.7,1792.8 1902.5,1792.7 1903.3,1792.5 1904.2,1792.3 1905,1792.2 1905.8,1792 1906.6,1791.9 1907.4,1791.7 1908.2,1791.5 1909.1,1791.4 1909.9,1791.2 1910.7,1791 1911.5,1790.8 1912.3,1790.6 1913.1,1790.4 1914,1790.3 1914.8,1790.1 1915.6,1789.9 1916.4,1789.7 1917.2,1789.5 1918,1789.3 1918.9,1789 1919.7,1788.8 1920.5,1788.6 1921.3,1788.4 1922.1,1788.2 1923,1787.9 1923.8,1787.7 1924.6,1787.5 1925.4,1787.2 1926.2,1787 1927,1786.7 1927.9,1786.5 1928.7,1786.2 1929.5,1785.9 1930.3,1785.7 1931.1,1785.4 1931.9,1785.1 1932.8,1784.8 1933.6,1784.5 1934.4,1784.2 1935.2,1783.9 1936,1783.6 1936.8,1783.3 1937.7,1783 1938.5,1782.6 1939.3,1782.3 1940.1,1782 1940.9,1781.6 1941.7,1781.3 1942.6,1780.9 1943.4,1780.5 1944.2,1780.2 1945,1779.8 1945.8,1779.4 1946.7,1779 1947.5,1778.6 1948.3,1778.2 1949.1,1777.7 1949.9,1777.3 1950.7,1776.9 1951.6,1776.4 1952.4,1776 1953.2,1775.5 1954,1775 1954.8,1774.5 1955.6,1774 1956.5,1773.5 1957.3,1773 1958.1,1772.5 1958.9,1771.9 1959.7,1771.4 1960.5,1770.8 1961.4,1770.2 1962.2,1769.6 1963,1769 1963.8,1768.4 1964.6,1767.8 1965.4,1767.2 1966.3,1766.5 1967.1,1765.8 1967.9,1765.1 1968.7,1764.5 1969.5,1763.7 1970.4,1763 1971.2,1762.3 1972,1761.5 1972.8,1760.7 1973.6,1759.9 1974.4,1759.1 1975.3,1758.3 1976.1,1757.5 1976.9,1756.6 1977.7,1755.7 1978.5,1754.8 1979.3,1753.9 1980.2,1753 1981,1752 1981.8,1751.1 1982.6,1750.1 1983.4,1749.1 1984.2,1748 1985.1,1747 1985.9,1745.9 1986.7,1744.8 1987.5,1743.7 1988.3,1742.6 1989.1,1741.5 1990,1740.3 1990.8,1739.1 1991.6,1737.9 1992.4,1736.6 1993.2,1735.4 1994.1,1734.1 1994.9,1732.8 1995.7,1731.5 1996.5,1730.2 1997.3,1728.9 1998.1,1727.5 1999,1726.1 1999.8,1724.7 2000.6,1723.3 2001.4,1721.9 2002.2,1720.5 2003,1719 2003.9,1717.6 2004.7,1716.1 2005.5,1714.6 2006.3,1713.2 2007.1,1711.7 2007.9,1710.2 2008.8,1708.7 2009.6,1707.2 2010.4,1705.8 2011.2,1704.3 2012,1702.8 2012.9,1701.4 2013.7,1700 2014.5,1698.6 2015.3,1697.2 2016.1,1695.8 2016.9,1694.5 2017.8,1693.2 2018.6,1691.9 2019.4,1690.7 2020.2,1689.5 2021,1688.4 2021.8,1687.3 2022.7,1686.3 2023.5,1685.3 2024.3,1684.4 2025.1,1683.5 2025.9,1682.7 2026.7,1682 2027.6,1681.3 2028.4,1680.7 2029.2,1680.2 2030,1679.8 2030.8,1679.4 2031.6,1679.1 2032.5,1678.9 2033.3,1678.8 2034.1,1678.8 2034.9,1678.8 2035.7,1678.9 2036.6,1679.1 2037.4,1679.4 2038.2,1679.8 2039,1680.2 2039.8,1680.7 2040.6,1681.3 2041.5,1682 2042.3,1682.7 2043.1,1683.5 2043.9,1684.4 2044.7,1685.3 2045.5,1686.3 2046.4,1687.3 2047.2,1688.4 2048,1689.5 2048.8,1690.7 2049.6,1691.9 2050.4,1693.2 2051.3,1694.5 2052.1,1695.8 2052.9,1697.2 2053.7,1698.6 2054.5,1700 2055.3,1701.4 2056.2,1702.8 2057,1704.3 2057.8,1705.8 2058.6,1707.2 2059.4,1708.7 2060.3,1710.2 2061.1,1711.7 2061.9,1713.2 2062.7,1714.6 2063.5,1716.1 2064.3,1717.6 2065.2,1719 2066,1720.5 2066.8,1721.9 2067.6,1723.3 2068.4,1724.7 2069.2,1726.1 2070.1,1727.5 2070.9,1728.9 2071.7,1730.2 2072.5,1731.5 2073.3,1732.8 2074.1,1734.1 2075,1735.4 2075.8,1736.6 2076.6,1737.9 2077.4,1739.1 2078.2,1740.3 2079,1741.5 2079.9,1742.6 2080.7,1743.7 2081.5,1744.8 2082.3,1745.9 2083.1,1747 2084,1748 2084.8,1749.1 2085.6,1750.1 2086.4,1751.1 2087.2,1752 2088,1753 2088.9,1753.9 2089.7,1754.8 2090.5,1755.7 2091.3,1756.6 2092.1,1757.5 2092.9,1758.3 2093.8,1759.1 2094.6,1759.9 2095.4,1760.7 2096.2,1761.5 2097,1762.3 2097.8,1763 2098.7,1763.7 2099.5,1764.5 2100.3,1765.1 2101.1,1765.8 2101.9,1766.5 2102.7,1767.2 2103.6,1767.8 2104.4,1768.4 2105.2,1769 2106,1769.6 2106.8,1770.2 2107.7,1770.8 2108.5,1771.4 2109.3,1771.9 2110.1,1772.5 2110.9,1773 2111.7,1773.5 2112.6,1774 2113.4,1774.5 2114.2,1775 2115,1775.5 2115.8,1776 2116.6,1776.4 2117.5,1776.9 2118.3,1777.3 2119.1,1777.7 2119.9,1778.2 2120.7,1778.6 2121.5,1779 2122.4,1779.4 2123.2,1779.8 2124,1780.2 2124.8,1780.5 2125.6,1780.9 2126.4,1781.3 2127.3,1781.6 2128.1,1782 2128.9,1782.3 2129.7,1782.6 2130.5,1783 2131.4,1783.3 2132.2,1783.6 2133,1783.9 2133.8,1784.2 2134.6,1784.5 2135.4,1784.8 2136.3,1785.1 2137.1,1785.4 2137.9,1785.7 2138.7,1785.9 2139.5,1786.2 2140.3,1786.5 2141.2,1786.7 2142,1787 2142.8,1787.2 2143.6,1787.5 2144.4,1787.7 2145.2,1787.9 2146.1,1788.2 2146.9,1788.4 2147.7,1788.6 2148.5,1788.8 2149.3,1789 2150.1,1789.3 2151,1789.5 2151.8,1789.7 2152.6,1789.9 2153.4,1790.1 2154.2,1790.3 2155.1,1790.4 2155.9,1790.6 2156.7,1790.8 2157.5,1791 2158.3,1791.2 2159.1,1791.4 2160,1791.5 2160.8,1791.7 2161.6,1791.9 2162.4,1792 2163.2,1792.2 2164,1792.3 2164.9,1792.5 2165.7,1792.7 2166.5,1792.8 2167.3,1793 2168.1,1793.1 2168.9,1793.2 2169.8,1793.4 2170.6,1793.5 2171.4,1793.7 2172.2,1793.8 2173,1793.9 2173.8,1794.1 2174.7,1794.2 2175.5,1794.3 2176.3,1794.5 2177.1,1794.6 2177.9,1794.7 2178.8,1794.8 2179.6,1794.9 2180.4,1795.1 2181.2,1795.2 2182,1795.3 2182.8,1795.4 2183.7,1795.5 2184.5,1795.6 2185.3,1795.7 2186.1,1795.8 2186.9,1795.9 2187.7,1796 2188.6,1796.1 2189.4,1796.2 2190.2,1796.3 2191,1796.4 2191.8,1796.5 2192.6,1796.6 2193.5,1796.7 2194.3,1796.8 2195.1,1796.9 2195.9,1797 2196.7,1797.1 2197.5,1797.2 2198.4,1797.2 2199.2,1797.3 2200,1797.4 2200.8,1797.5 2201.6,1797.6 2202.5,1797.6 2203.3,1797.7 2204.1,1797.8 2204.9,1797.9 2205.7,1798 2206.5,1798 2207.4,1798.1 2208.2,1798.2 2209,1798.3 2209.8,1798.3 2210.6,1798.4 2211.4,1798.5 2212.3,1798.5 2213.1,1798.6 2213.9,1798.7 2214.7,1798.7 2215.5,1798.8 2216.3,1798.9 2217.2,1798.9 2218,1799 2218.8,1799 2219.6,1799.1 2220.4,1799.2 2221.2,1799.2 2222.1,1799.3 2222.9,1799.3 2223.7,1799.4 2224.5,1799.5 2225.3,1799.5 2226.2,1799.6 2227,1799.6 2227.8,1799.7 2228.6,1799.7 2229.4,1799.8 2230.2,1799.8 2231.1,1799.9 2231.9,1799.9 2232.7,1800 2233.5,1800 2234.3,1800.1 2235.1,1800.1 2236,1800.2 2236.8,1800.2 2237.6,1800.3 2238.4,1800.3 2239.2,1800.4 2240,1800.4 2240.9,1800.5 2241.7,1800.5 2242.5,1800.6 2243.3,1800.6 2244.1,1800.6 2244.9,1800.7 2245.8,1800.7 2246.6,1800.8 2247.4,1800.8 2248.2,1800.9 2249,1800.9 2249.9,1800.9 2250.7,1801 2251.5,1801 2252.3,1801.1 2253.1,1801.1 2253.9,1801.1 2254.8,1801.2 2255.6,1801.2 2256.4,1801.2 2257.2,1801.3 2258,1801.3 2258.8,1801.4 2259.7,1801.4 2260.5,1801.4 2261.3,1801.5 2262.1,1801.5 2262.9,1801.5 2263.7,1801.6 2264.6,1801.6 2265.4,1801.6 2266.2,1801.7 2267,1801.7 2267.8,1801.7 2268.6,1801.8 2269.5,1801.8 2270.3,1801.8 2271.1,1801.8 2271.9,1801.9 2272.7,1801.9 2273.6,1801.9 2274.4,1802 2275.2,1802 2276,1802 2276.8,1802.1 2277.6,1802.1 2278.5,1802.1 2279.3,1802.1 2280.1,1802.2 2280.9,1802.2 2281.7,1802.2 2282.5,1802.2 2283.4,1802.3 2284.2,1802.3 2285,1802.3 2285.8,1802.3 2286.6,1802.4 2287.4,1802.4 2288.3,1802.4 2289.1,1802.4 2289.9,1802.5 2290.7,1802.5 2291.5,1802.5 2292.3,1802.5 2293.2,1802.6 2294,1802.6 2294.8,1802.6 2295.6,1802.6 2296.4,1802.7 2297.3,1802.7 2298.1,1802.7 2298.9,1802.7 2299.7,1802.8 2300.5,1802.8 2301.3,1802.8 2302.2,1802.8 2303,1802.8 2303.8,1802.9 2304.6,1802.9 2305.4,1802.9 2306.2,1802.9 2307.1,1802.9 2307.9,1803 2308.7,1803 2309.5,1803 2310.3,1803 2311.1,1803 2312,1803.1 2312.8,1803.1 2313.6,1803.1 2314.4,1803.1 2315.2,1803.1 2316,1803.2 2316.9,1803.2 2317.7,1803.2 2318.5,1803.2 2319.3,1803.2 2320.1,1803.2 2321,1803.3 2321.8,1803.3 2322.6,1803.3 2323.4,1803.3 2324.2,1803.3 2325,1803.4 2325.9,1803.4 2326.7,1803.4 2327.5,1803.4 2328.3,1803.4 2329.1,1803.4 2329.9,1803.5 2330.8,1803.5 2331.6,1803.5 2332.4,1803.5 2333.2,1803.5 2334,1803.5 2334.8,1803.5 2335.7,1803.6 2336.5,1803.6 2337.3,1803.6 2338.1,1803.6 2338.9,1803.6 2339.8,1803.6 2340.6,1803.6 2341.4,1803.7 2342.2,1803.7 2343,1803.7 2343.8,1803.7 2344.7,1803.7 2345.5,1803.7 2346.3,1803.7 2347.1,1803.8 2347.9,1803.8 2348.7,1803.8 2349.6,1803.8 2350.4,1803.8 2351.2,1803.8 2352,1803.8 2352.8,1803.9 2353.6,1803.9 2354.5,1803.9 2355.3,1803.9 2356.1,1803.9 2356.9,1803.9 2357.7,1803.9 2358.5,1803.9 2359.4,1804 2360.2,1804 2361,1804 2361.8,1804 2362.6,1804 2363.5,1804 2364.3,1804 2365.1,1804 2365.9,1804.1 2366.7,1804.1 2367.5,1804.1 2368.4,1804.1 2369.2,1804.1 2370,1804.1 2370.8,1804.1 2371.6,1804.1 2372.4,1804.1 2373.3,1804.2 2374.1,1804.2 2374.9,1804.2 2375.7,1804.2 2376.5,1804.2 2377.3,1804.2 2378.2,1804.2 2379,1804.2 2379.8,1804.2 2380.6,1804.2 2381.4,1804.3 2382.2,1804.3 2383.1,1804.3 2383.9,1804.3 2384.7,1804.3 2385.5,1804.3 2386.3,1804.3 2387.2,1804.3 2388,1804.3 2388.8,1804.3 2389.6,1804.4 2390.4,1804.4 2391.2,1804.4 2392.1,1804.4 2392.9,1804.4 2393.7,1804.4 2394.5,1804.4 2395.3,1804.4 2396.1,1804.4 2397,1804.4 2397.8,1804.4 2398.6,1804.5 2399.4,1804.5 2400.2,1804.5 2401,1804.5 2401.9,1804.5 2402.7,1804.5 2403.5,1804.5 2404.3,1804.5 2405.1,1804.5 2405.9,1804.5 2406.8,1804.5 2407.6,1804.5 2408.4,1804.6 2409.2,1804.6 2410,1804.6 2410.9,1804.6 2411.7,1804.6 2412.5,1804.6 2413.3,1804.6 2414.1,1804.6 2414.9,1804.6 2415.8,1804.6 2416.6,1804.6 2417.4,1804.6 2418.2,1804.6 2419,1804.7 2419.8,1804.7 2420.7,1804.7 2421.5,1804.7 2422.3,1804.7 2423.1,1804.7 2423.9,1804.7 2424.7,1804.7 2425.6,1804.7 2426.4,1804.7 2427.2,1804.7 2428,1804.7 2428.8,1804.7 2429.6,1804.7 2430.5,1804.8 2431.3,1804.8 2432.1,1804.8 2432.9,1804.8 2433.7,1804.8 2434.6,1804.8 2435.4,1804.8 2436.2,1804.8 2437,1804.8 2437.8,1804.8 2438.6,1804.8 2439.5,1804.8 2440.3,1804.8 2441.1,1804.8 2441.9,1804.8 2442.7,1804.9 2443.5,1804.9 2444.4,1804.9 2445.2,1804.9 2446,1804.9 2446.8,1804.9 2447.6,1804.9 2448.4,1804.9 2449.3,1804.9 2450.1,1804.9 2450.9,1804.9 2451.7,1804.9 2452.5,1804.9 2453.3,1804.9 2454.2,1804.9 2455,1804.9 2455.8,1804.9 2456.6,1805 2457.4,1805 2458.3,1805 2459.1,1805 2459.9,1805 2460.7,1805 2461.5,1805 2462.3,1805 2463.2,1805 2464,1805 2464.8,1805 2465.6,1805 2466.4,1805 2467.2,1805 2468.1,1805 2468.9,1805 2469.7,1805 2470.5,1805 2471.3,1805.1 2472.1,1805.1 2473,1805.1 2473.8,1805.1 2474.6,1805.1 2475.4,1805.1 2476.2,1805.1 2477,1805.1 2477.9,1805.1 2478.7,1805.1 2479.5,1805.1 2480.3,1805.1 2481.1,1805.1 2482,1805.1 2482.8,1805.1 2483.6,1805.1 2484.4,1805.1 2485.2,1805.1 2486,1805.1 2486.9,1805.1 2487.7,1805.1 2488.5,1805.2 2489.3,1805.2 2490.1,1805.2 2490.9,1805.2 2491.8,1805.2 2492.6,1805.2 2493.4,1805.2 2494.2,1805.2 2495,1805.2 2495.8,1805.2 2496.7,1805.2 2497.5,1805.2 2498.3,1805.2 2499.1,1805.2 2499.9,1805.2 2500.7,1805.2 2501.6,1805.2 2502.4,1805.2 2503.2,1805.2 2504,1805.2 2504.8,1805.2 2505.7,1805.2 2506.5,1805.2 2507.3,1805.3 2508.1,1805.3 2508.9,1805.3 2509.7,1805.3 2510.6,1805.3 2511.4,1805.3 2512.2,1805.3 2513,1805.3 2513.8,1805.3 2514.6,1805.3 2515.5,1805.3 2516.3,1805.3 2517.1,1805.3 2517.9,1805.3 2518.7,1805.3 2519.5,1805.3 2520.4,1805.3 2521.2,1805.3 2522,1805.3 2522.8,1805.3 2523.6,1805.3 2524.4,1805.3 2525.3,1805.3 2526.1,1805.3 2526.9,1805.3 2527.7,1805.3 2528.5,1805.3 2529.4,1805.4 2530.2,1805.4 2531,1805.4 2531.8,1805.4 2532.6,1805.4 2533.4,1805.4 2534.3,1805.4 2535.1,1805.4 2535.9,1805.4 2536.7,1805.4 2537.5,1805.4 2538.3,1805.4 2539.2,1805.4 2540,1805.4 2540.8,1805.4 2541.6,1805.4 2542.4,1805.4 2543.2,1805.4 2544.1,1805.4 2544.9,1805.4 2545.7,1805.4 2546.5,1805.4 2547.3,1805.4 2548.1,1805.4 2549,1805.4 2549.8,1805.4 2550.6,1805.4 2551.4,1805.4 2552.2,1805.4 2553.1,1805.4 2553.9,1805.5 2554.7,1805.5 2555.5,1805.5 2556.3,1805.5 2557.1,1805.5 2558,1805.5 2558.8,1805.5 2559.6,1805.5 2560.4,1805.5 2561.2,1805.5 2562,1805.5 2562.9,1805.5 2563.7,1805.5 2564.5,1805.5 2565.3,1805.5 2566.1,1805.5 2566.9,1805.5 2567.8,1805.5 2568.6,1805.5 2569.4,1805.5 2570.2,1805.5 2571,1805.5 2571.8,1805.5 2572.7,1805.5 2573.5,1805.5 2574.3,1805.5 2575.1,1805.5 2575.9,1805.5 2576.8,1805.5 2577.6,1805.5 2578.4,1805.5 2579.2,1805.5 2580,1805.5 2580.8,1805.5 2581.7,1805.5 2582.5,1805.6 2583.3,1805.6 2584.1,1805.6 2584.9,1805.6 2585.7,1805.6 2586.6,1805.6 2587.4,1805.6 2588.2,1805.6 2589,1805.6 2589.8,1805.6 2590.6,1805.6 2591.5,1805.6 2592.3,1805.6 2593.1,1805.6 2593.9,1805.6 2594.7,1805.6 2595.5,1805.6 2596.4,1805.6 2597.2,1805.6 2598,1805.6 2598.8,1805.6 2599.6,1805.6 2600.5,1805.6 2601.3,1805.6 2602.1,1805.6 2602.9,1805.6 2603.7,1805.6 2604.5,1805.6 2605.4,1805.6 2606.2,1805.6 2607,1805.6 2607.8,1805.6 2608.6,1805.6 2609.4,1805.6 2610.3,1805.6 2611.1,1805.6 2611.9,1805.6 2612.7,1805.6 2613.5,1805.6 2614.3,1805.6 2615.2,1805.6 2616,1805.6 2616.8,1805.7 2617.6,1805.7 2618.4,1805.7 2619.2,1805.7 2620.1,1805.7 2620.9,1805.7 2621.7,1805.7 2622.5,1805.7 2623.3,1805.7 2624.2,1805.7 2625,1805.7 2625.8,1805.7 2626.6,1805.7 2627.4,1805.7 2628.2,1805.7 2629.1,1805.7 2629.9,1805.7 2630.7,1805.7 2631.5,1805.7 2632.3,1805.7 2633.1,1805.7 2634,1805.7 2634.8,1805.7 2635.6,1805.7 2636.4,1805.7 2637.2,1805.7 2638,1805.7 2638.9,1805.7 2639.7,1805.7 2640.5,1805.7 2641.3,1805.7 2642.1,1805.7 2642.9,1805.7 2643.8,1805.7 2644.6,1805.7 2645.4,1805.7 2646.2,1805.7 2647,1805.7 2647.9,1805.7 2648.7,1805.7 2649.5,1805.7 2650.3,1805.7 2651.1,1805.7 2651.9,1805.7 2652.8,1805.7 2653.6,1805.7 2654.4,1805.7 2655.2,1805.7 2656,1805.7 2656.8,1805.7 2657.7,1805.8 2658.5,1805.8 2659.3,1805.8 2660.1,1805.8 2660.9,1805.8 2661.7,1805.8 2662.6,1805.8 2663.4,1805.8 2664.2,1805.8 2665,1805.8 2665.8,1805.8 2666.7,1805.8 2667.5,1805.8 2668.3,1805.8 2669.1,1805.8 2669.9,1805.8 2670.7,1805.8 2671.6,1805.8 2672.4,1805.8 2673.2,1805.8 2674,1805.8 2674.8,1805.8 2675.6,1805.8 2676.5,1805.8 2677.3,1805.8 2678.1,1805.8 2678.9,1805.8 2679.7,1805.8 2680.5,1805.8 2681.4,1805.8 2682.2,1805.8 2683,1805.8 2683.8,1805.8 2684.6,1805.8 2685.4,1805.8 2686.3,1805.8 2687.1,1805.8 2687.9,1805.8 2688.7,1805.8 2689.5,1805.8 2690.4,1805.8 2691.2,1805.8 2692,1805.8 2692.8,1805.8 2693.6,1805.8 2694.4,1805.8 2695.3,1805.8 2696.1,1805.8 2696.9,1805.8 2697.7,1805.8 2698.5,1805.8 2699.3,1805.8 2700.2,1805.8 2701,1805.8 2701.8,1805.8 2702.6,1805.8 2703.4,1805.8 2704.2,1805.8 2705.1,1805.8 2705.9,1805.8 2706.7,1805.8 2707.5,1805.8 2708.3,1805.8 2709.1,1805.9 2710,1805.9 2710.8,1805.9 2711.6,1805.9 2712.4,1805.9 2713.2,1805.9 2714.1,1805.9 2714.9,1805.9 2715.7,1805.9 2716.5,1805.9 2717.3,1805.9 2718.1,1805.9 2719,1805.9 2719.8,1805.9 2720.6,1805.9 2721.4,1805.9 2722.2,1805.9 2723,1805.9 2723.9,1805.9 2724.7,1805.9 2725.5,1805.9 2726.3,1805.9 2727.1,1805.9 2727.9,1805.9 2728.8,1805.9 2729.6,1805.9 2730.4,1805.9 2731.2,1805.9 2732,1805.9 2732.8,1805.9 2733.7,1805.9 2734.5,1805.9 2735.3,1805.9 2736.1,1805.9 2736.9,1805.9 2737.8,1805.9 2738.6,1805.9 2739.4,1805.9 2740.2,1805.9 2741,1805.9 2741.8,1805.9 2742.7,1805.9 2743.5,1805.9 2744.3,1805.9 2745.1,1805.9 2745.9,1805.9 2746.7,1805.9 2747.6,1805.9 2748.4,1805.9 2749.2,1805.9 2750,1805.9 2750.8,1805.9 2751.6,1805.9 2752.5,1805.9 2753.3,1805.9 2754.1,1805.9 2754.9,1805.9 2755.7,1805.9 2756.5,1805.9 2757.4,1805.9 2758.2,1805.9 2759,1805.9 2759.8,1805.9 2760.6,1805.9 2761.5,1805.9 2762.3,1805.9 2763.1,1805.9 2763.9,1805.9 2764.7,1805.9 2765.5,1805.9 2766.4,1805.9 2767.2,1805.9 2768,1805.9 2768.8,1805.9 2769.6,1805.9 2770.4,1805.9 2771.3,1805.9 2772.1,1805.9 2772.9,1805.9 2773.7,1805.9 2774.5,1805.9 2775.3,1805.9 2776.2,1806 2777,1806 2777.8,1806 2778.6,1806 2779.4,1806 2780.2,1806 2781.1,1806 2781.9,1806 2782.7,1806 2783.5,1806 2784.3,1806 2785.2,1806 2786,1806 2786.8,1806 2787.6,1806 2788.4,1806 2789.2,1806 2790.1,1806 2790.9,1806 2791.7,1806 2792.5,1806 2793.3,1806 2794.1,1806 2795,1806 2795.8,1806 2796.6,1806 2797.4,1806 2798.2,1806 2799,1806 2799.9,1806 2800.7,1806 2801.5,1806 2802.3,1806 2803.1,1806 2803.9,1806 2804.8,1806 2805.6,1806 2806.4,1806 2807.2,1806 2808,1806 2808.9,1806 2809.7,1806 2810.5,1806 2811.3,1806 2812.1,1806 2812.9,1806 2813.8,1806 2814.6,1806 2815.4,1806 2816.2,1806 2817,1806 2817.8,1806 2818.7,1806 2819.5,1806 2820.3,1806 2821.1,1806 2821.9,1806 2822.7,1806 2823.6,1806 2824.4,1806 2825.2,1806 2826,1806 2826.8,1806 2827.6,1806 2828.5,1806 2829.3,1806 2830.1,1806 2830.9,1806 2831.7,1806 2832.6,1806 2833.4,1806 2834.2,1806 2835,1806 2835.8,1806 2836.6,1806 2837.5,1806 2838.3,1806 2839.1,1806 2839.9,1806 2840.7,1806 2841.5,1806 2842.4,1806 2843.2,1806 2844,1806 2844.8,1806 2845.6,1806 2846.4,1806 2847.3,1806 2848.1,1806 2848.9,1806 2849.7,1806 2850.5,1806 2851.3,1806 2852.2,1806 2853,1806 2853.8,1806 2854.6,1806 2855.4,1806 2856.3,1806 2857.1,1806 2857.9,1806 2858.7,1806 2859.5,1806 2860.3,1806 2861.2,1806 2862,1806 2862.8,1806 2863.6,1806 2864.4,1806 2865.2,1806 2866.1,1806 2866.9,1806 2867.7,1806.1 2868.5,1806.1 2869.3,1806.1 2870.1,1806.1 2871,1806.1 2871.8,1806.1 2872.6,1806.1 2873.4,1806.1 2874.2,1806.1 2875,1806.1 2875.9,1806.1 2876.7,1806.1 2877.5,1806.1 2878.3,1806.1 2879.1,1806.1 2880,1806.1 2880.8,1806.1 2881.6,1806.1 2882.4,1806.1 2883.2,1806.1 2884,1806.1 2884.9,1806.1 2885.7,1806.1 2886.5,1806.1 2887.3,1806.1 2888.1,1806.1 2888.9,1806.1 2889.8,1806.1 2890.6,1806.1 2891.4,1806.1 2892.2,1806.1 2893,1806.1 2893.8,1806.1 2894.7,1806.1 2895.5,1806.1 2896.3,1806.1 2897.1,1806.1 2897.9,1806.1 2898.7,1806.1 2899.6,1806.1 2900.4,1806.1 2901.2,1806.1 2902,1806.1 2902.8,1806.1 2903.7,1806.1 2904.5,1806.1 2905.3,1806.1 2906.1,1806.1 2906.9,1806.1 2907.7,1806.1 2908.6,1806.1 2909.4,1806.1 2910.2,1806.1 2911,1806.1 2911.8,1806.1"/>
<polyline stroke="#2346f5" stroke-width="5.6" points="1849.4,1802.9 1850.2,1802.9 1851,1802.9 1851.9,1802.9 1852.7,1802.8 1853.5,1802.8 1854.3,1802.8 1855.1,1802.8 1855.9,1802.8 1856.8,1802.8 1857.6,1802.7 1858.4,1802.7 1859.2,1802.7 1860,1802.7 1860.8,1802.7 1861.7,1802.6 1862.5,1802.6 1863.3,1802.6 1864.1,1802.6 1864.9,1802.6 1865.7,1802.6 1866.6,1802.5 1867.4,1802.5 1868.2,1802.5 1869,1802.5 1869.8,1802.5 1870.6,1802.4 1871.5,1802.4 1872.3,1802.4 1873.1,1802.4 1873.9,1802.4 1874.7,1802.3 1875.6,1802.3 1876.4,1802.3 1877.2,1802.3 1878,1802.3 1878.8,1802.2 1879.6,1802.2 1880.5,1802.2 1881.3,1802.2 1882.1,1802.2 1882.9,1802.1 1883.7,1802.1 1884.5,1802.1 1885.4,1802.1 1886.2,1802 1887,1802 1887.8,1802 1888.6,1802 1889.4,1802 1890.3,1801.9 1891.1,1801.9 1891.9,1801.9 1892.7,1801.9 1893.5,1801.8 1894.3,1801.8 1895.2,1801.8 1896,1801.8 1896.8,1801.7 1897.6,1801.7 1898.4,1801.7 1899.3,1801.7 1900.1,1801.6 1900.9,1801.6 1901.7,1801.6 1902.5,1801.6 1903.3,1801.5 1904.2,1801.5 1905,1801.5 1905.8,1801.5 1906.6,1801.4 1907.4,1801.4 1908.2,1801.4 1909.1,1801.4 1909.9,1801.3 1910.7,1801.3 1911.5,1801.3 1912.3,1801.2 1913.1,1801.2 1914,1801.2 1914.8,1801.2 1915.6,1801.1 1916.4,1801.1 1917.2,1801.1 1918,1801 1918.9,1801 1919.7,1801 1920.5,1800.9 1921.3,1800.9 1922.1,1800.9 1923,1800.8 1923.8,1800.8 1924.6,1800.8 1925.4,1800.7 1926.2,1800.7 1927,1800.7 1927.9,1800.7 1928.7,1800.6 1929.5,1800.6 1930.3,1800.5 1931.1,1800.5 1931.9,1800.5 1932.8,1800.4 1933.6,1800.4 1934.4,1800.4 1935.2,1800.3 1936,1800.3 1936.8,1800.3 1937.7,1800.2 1938.5,1800.2 1939.3,1800.2 1940.1,1800.1 1940.9,1800.1 1941.7,1800 1942.6,1800 1943.4,1800 1944.2,1799.9 1945,1799.9 1945.8,1799.8 1946.7,1799.8 1947.5,1799.8 1948.3,1799.7 1949.1,1799.7 1949.9,1799.6 1950.7,1799.6 1951.6,1799.5 1952.4,1799.5 1953.2,1799.5 1954,1799.4 1954.8,1799.4 1955.6,1799.3 1956.5,1799.3 1957.3,1799.2 1958.1,1799.2 1958.9,1799.1 1959.7,1799.1 1960.5,1799 1961.4,1799 1962.2,1798.9 1963,1798.9 1963.8,1798.8 1964.6,1798.8 1965.4,1798.7 1966.3,1798.7 1967.1,1798.6 1967.9,1798.6 1968.7,1798.5 1969.5,1798.5 1970.4,1798.4 1971.2,1798.4 1972,1798.3 1972.8,1798.3 1973.6,1798.2 1974.4,1798.1 1975.3,1798.1 1976.1,1798 1976.9,1798 1977.7,1797.9 1978.5,1797.8 1979.3,1797.8 1980.2,1797.7 1981,1797.7 1981.8,1797.6 1982.6,1797.5 1983.4,1797.5 1984.2,1797.4 1985.1,1797.3 1985.9,1797.3 1986.7,1797.2 1987.5,1797.1 1988.3,1797.1 1989.1,1797 1990,1796.9 1990.8,1796.9 1991.6,1796.8 1992.4,1796.7 1993.2,1796.6 1994.1,1796.6 1994.9,1796.5 1995.7,1796.4 1996.5,1796.3 1997.3,1796.3 1998.1,1796.2 1999,1796.1 1999.8,1796 2000.6,1796 2001.4,1795.9 2002.2,1795.8 2003,1795.7 2003.9,1795.6 2004.7,1795.5 2005.5,1795.5 2006.3,1795.4 2007.1,1795.3 2007.9,1795.2 2008.8,1795.1 2009.6,1795 2010.4,1794.9 2011.2,1794.8 2012,1794.7 2012.9,1794.6 2013.7,1794.5 2014.5,1794.4 2015.3,1794.3 2016.1,1794.2 2016.9,1794.1 2017.8,1794 2018.6,1793.9 2019.4,1793.8 2020.2,1793.7 2021,1793.6 2021.8,1793.5 2022.7,1793.4 2023.5,1793.3 2024.3,1793.2 2025.1,1793 2025.9,1792.9 2026.7,1792.8 2027.6,1792.7 2028.4,1792.6 2029.2,1792.4 2030,1792.3 2030.8,1792.2 2031.6,1792.1 2032.5,1791.9 2033.3,1791.8 2034.1,1791.7 2034.9,1791.5 2035.7,1791.4 2036.6,1791.3 2037.4,1791.1 2038.2,1791 2039,1790.8 2039.8,1790.7 2040.6,1790.5 2041.5,1790.4 2042.3,1790.2 2043.1,1790.1 2043.9,1789.9 2044.7,1789.8 2045.5,1789.6 2046.4,1789.4 2047.2,1789.3 2048,1789.1 2048.8,1788.9 2049.6,1788.8 2050.4,1788.6 2051.3,1788.4 2052.1,1788.2 2052.9,1788.1 2053.7,1787.9 2054.5,1787.7 2055.3,1787.5 2056.2,1787.3 2057,1787.1 2057.8,1786.9 2058.6,1786.7 2059.4,1786.5 2060.3,1786.3 2061.1,1786.1 2061.9,1785.9 2062.7,1785.6 2063.5,1785.4 2064.3,1785.2 2065.2,1785 2066,1784.7 2066.8,1784.5 2067.6,1784.3 2068.4,1784 2069.2,1783.8 2070.1,1783.5 2070.9,1783.3 2071.7,1783 2072.5,1782.7 2073.3,1782.5 2074.1,1782.2 2075,1781.9 2075.8,1781.6 2076.6,1781.4 2077.4,1781.1 2078.2,1780.8 2079,1780.5 2079.9,1780.2 2080.7,1779.9 2081.5,1779.6 2082.3,1779.2 2083.1,1778.9 2084,1778.6 2084.8,1778.2 2085.6,1777.9 2086.4,1777.5 2087.2,1777.2 2088,1776.8 2088.9,1776.5 2089.7,1776.1 2090.5,1775.7 2091.3,1775.3 2092.1,1774.9 2092.9,1774.5 2093.8,1774.1 2094.6,1773.7 2095.4,1773.3 2096.2,1772.9 2097,1772.4 2097.8,1772 2098.7,1771.5 2099.5,1771.1 2100.3,1770.6 2101.1,1770.1 2101.9,1769.6 2102.7,1769.1 2103.6,1768.6 2104.4,1768.1 2105.2,1767.6 2106,1767 2106.8,1766.5 2107.7,1765.9 2108.5,1765.4 2109.3,1764.8 2110.1,1764.2 2110.9,1763.6 2111.7,1763 2112.6,1762.4 2113.4,1761.7 2114.2,1761.1 2115,1760.4 2115.8,1759.7 2116.6,1759 2117.5,1758.3 2118.3,1757.6 2119.1,1756.9 2119.9,1756.1 2120.7,1755.4 2121.5,1754.6 2122.4,1753.8 2123.2,1753 2124,1752.2 2124.8,1751.3 2125.6,1750.5 2126.4,1749.6 2127.3,1748.7 2128.1,1747.8 2128.9,1746.9 2129.7,1745.9 2130.5,1745 2131.4,1744 2132.2,1743 2133,1741.9 2133.8,1740.9 2134.6,1739.8 2135.4,1738.7 2136.3,1737.6 2137.1,1736.5 2137.9,1735.3 2138.7,1734.1 2139.5,1732.9 2140.3,1731.7 2141.2,1730.4 2142,1729.2 2142.8,1727.9 2143.6,1726.5 2144.4,1725.2 2145.2,1723.8 2146.1,1722.4 2146.9,1720.9 2147.7,1719.5 2148.5,1718 2149.3,1716.5 2150.1,1714.9 2151,1713.3 2151.8,1711.7 2152.6,1710.1 2153.4,1708.4 2154.2,1706.7 2155.1,1705 2155.9,1703.3 2156.7,1701.5 2157.5,1699.7 2158.3,1697.9 2159.1,1696 2160,1694.1 2160.8,1692.2 2161.6,1690.3 2162.4,1688.3 2163.2,1686.4 2164,1684.3 2164.9,1682.3 2165.7,1680.3 2166.5,1678.2 2167.3,1676.1 2168.1,1674 2168.9,1671.9 2169.8,1669.8 2170.6,1667.6 2171.4,1665.5 2172.2,1663.3 2173,1661.2 2173.8,1659 2174.7,1656.9 2175.5,1654.7 2176.3,1652.6 2177.1,1650.4 2177.9,1648.3 2178.8,1646.2 2179.6,1644.2 2180.4,1642.1 2181.2,1640.1 2182,1638.1 2182.8,1636.2 2183.7,1634.3 2184.5,1632.4 2185.3,1630.7 2186.1,1628.9 2186.9,1627.2 2187.7,1625.6 2188.6,1624.1 2189.4,1622.6 2190.2,1621.3 2191,1620 2191.8,1618.7 2192.6,1617.6 2193.5,1616.6 2194.3,1615.7 2195.1,1614.9 2195.9,1614.1 2196.7,1613.5 2197.5,1613 2198.4,1612.6 2199.2,1612.3 2200,1612.2 2200.8,1612.1 2201.6,1612.2 2202.5,1612.3 2203.3,1612.6 2204.1,1613 2204.9,1613.5 2205.7,1614.1 2206.5,1614.9 2207.4,1615.7 2208.2,1616.6 2209,1617.6 2209.8,1618.7 2210.6,1620 2211.4,1621.3 2212.3,1622.6 2213.1,1624.1 2213.9,1625.6 2214.7,1627.2 2215.5,1628.9 2216.3,1630.7 2217.2,1632.4 2218,1634.3 2218.8,1636.2 2219.6,1638.1 2220.4,1640.1 2221.2,1642.1 2222.1,1644.2 2222.9,1646.2 2223.7,1648.3 2224.5,1650.4 2225.3,1652.6 2226.2,1654.7 2227,1656.9 2227.8,1659 2228.6,1661.2 2229.4,1663.3 2230.2,1665.5 2231.1,1667.6 2231.9,1669.8 2232.7,1671.9 2233.5,1674 2234.3,1676.1 2235.1,1678.2 2236,1680.3 2236.8,1682.3 2237.6,1684.3 2238.4,1686.4 2239.2,1688.3 2240,1690.3 2240.9,1692.2 2241.7,1694.1 2242.5,1696 2243.3,1697.9 2244.1,1699.7 2244.9,1701.5 2245.8,1703.3 2246.6,1705 2247.4,1706.7 2248.2,1708.4 2249,1710.1 2249.9,1711.7 2250.7,1713.3 2251.5,1714.9 2252.3,1716.5 2253.1,1718 2253.9,1719.5 2254.8,1720.9 2255.6,1722.4 2256.4,1723.8 2257.2,1725.2 2258,1726.5 2258.8,1727.9 2259.7,1729.2 2260.5,1730.4 2261.3,1731.7 2262.1,1732.9 2262.9,1734.1 2263.7,1735.3 2264.6,1736.5 2265.4,1737.6 2266.2,1738.7 2267,1739.8 2267.8,1740.9 2268.6,1741.9 2269.5,1743 2270.3,1744 2271.1,1745 2271.9,1745.9 2272.7,1746.9 2273.6,1747.8 2274.4,1748.7 2275.2,1749.6 2276,1750.5 2276.8,1751.3 2277.6,1752.2 2278.5,1753 2279.3,1753.8 2280.1,1754.6 2280.9,1755.4 2281.7,1756.1 2282.5,1756.9 2283.4,1757.6 2284.2,1758.3 2285,1759 2285.8,1759.7 2286.6,1760.4 2287.4,1761.1 2288.3,1761.7 2289.1,1762.4 2289.9,1763 2290.7,1763.6 2291.5,1764.2 2292.3,1764.8 2293.2,1765.4 2294,1765.9 2294.8,1766.5 2295.6,1767 2296.4,1767.6 2297.3,1768.1 2298.1,1768.6 2298.9,1769.1 2299.7,1769.6 2300.5,1770.1 2301.3,1770.6 2302.2,1771.1 2303,1771.5 2303.8,1772 2304.6,1772.4 2305.4,1772.9 2306.2,1773.3 2307.1,1773.7 2307.9,1774.1 2308.7,1774.5 2309.5,1774.9 2310.3,1775.3 2311.1,1775.7 2312,1776.1 2312.8,1776.5 2313.6,1776.8 2314.4,1777.2 2315.2,1777.5 2316,1777.9 2316.9,1778.2 2317.7,1778.6 2318.5,1778.9 2319.3,1779.2 2320.1,1779.6 2321,1779.9 2321.8,1780.2 2322.6,1780.5 2323.4,1780.8 2324.2,1781.1 2325,1781.4 2325.9,1781.6 2326.7,1781.9 2327.5,1782.2 2328.3,1782.5 2329.1,1782.7 2329.9,1783 2330.8,1783.3 2331.6,1783.5 2332.4,1783.8 2333.2,1784 2334,1784.3 2334.8,1784.5 2335.7,1784.7 2336.5,1785 2337.3,1785.2 2338.1,1785.4 2338.9,1785.6 2339.8,1785.9 2340.6,1786.1 2341.4,1786.3 2342.2,1786.5 2343,1786.7 2343.8,1786.9 2344.7,1787.1 2345.5,1787.3 2346.3,1787.5 2347.1,1787.7 2347.9,1787.9 2348.7,1788.1 2349.6,1788.2 2350.4,1788.4 2351.2,1788.6 2352,1788.8 2352.8,1788.9 2353.6,1789.1 2354.5,1789.3 2355.3,1789.4 2356.1,1789.6 2356.9,1789.8 2357.7,1789.9 2358.5,1790.1 2359.4,1790.2 2360.2,1790.4 2361,1790.5 2361.8,1790.7 2362.6,1790.8 2363.5,1791 2364.3,1791.1 2365.1,1791.3 2365.9,1791.4 2366.7,1791.5 2367.5,1791.7 2368.4,1791.8 2369.2,1791.9 2370,1792.1 2370.8,1792.2 2371.6,1792.3 2372.4,1792.4 2373.3,1792.6 2374.1,1792.7 2374.9,1792.8 2375.7,1792.9 2376.5,1793 2377.3,1793.2 2378.2,1793.3 2379,1793.4 2379.8,1793.5 2380.6,1793.6 2381.4,1793.7 2382.2,1793.8 2383.1,1793.9 2383.9,1794 2384.7,1794.1 2385.5,1794.2 2386.3,1794.3 2387.2,1794.4 2388,1794.5 2388.8,1794.6 2389.6,1794.7 2390.4,1794.8 2391.2,1794.9 2392.1,1795 2392.9,1795.1 2393.7,1795.2 2394.5,1795.3 2395.3,1795.4 2396.1,1795.5 2397,1795.5 2397.8,1795.6 2398.6,1795.7 2399.4,1795.8 2400.2,1795.9 2401,1796 2401.9,1796 2402.7,1796.1 2403.5,1796.2 2404.3,1796.3 2405.1,1796.3 2405.9,1796.4 2406.8,1796.5 2407.6,1796.6 2408.4,1796.6 2409.2,1796.7 2410,1796.8 2410.9,1796.9 2411.7,1796.9 2412.5,1797 2413.3,1797.1 2414.1,1797.1 2414.9,1797.2 2415.8,1797.3 2416.6,1797.3 2417.4,1797.4 2418.2,1797.5 2419,1797.5 2419.8,1797.6 2420.7,1797.7 2421.5,1797.7 2422.3,1797.8 2423.1,1797.8 2423.9,1797.9 2424.7,1798 2425.6,1798 2426.4,1798.1 2427.2,1798.1 2428,1798.2 2428.8,1798.3 2429.6,1798.3 2430.5,1798.4 2431.3,1798.4 2432.1,1798.5 2432.9,1798.5 2433.7,1798.6 2434.6,1798.6 2435.4,1798.7 2436.2,1798.7 2437,1798.8 2437.8,1798.8 2438.6,1798.9 2439.5,1798.9 2440.3,1799 2441.1,1799 2441.9,1799.1 2442.7,1799.1 2443.5,1799.2 2444.4,1799.2 2445.2,1799.3 2446,1799.3 2446.8,1799.4 2447.6,1799.4 2448.4,1799.5 2449.3,1799.5 2450.1,1799.5 2450.9,1799.6 2451.7,1799.6 2452.5,1799.7 2453.3,1799.7 2454.2,1799.8 2455,1799.8 2455.8,1799.8 2456.6,1799.9 2457.4,1799.9 2458.3,1800 2459.1,1800 2459.9,1800 2460.7,1800.1 2461.5,1800.1 2462.3,1800.2 2463.2,1800.2 2464,1800.2 2464.8,1800.3 2465.6,1800.3 2466.4,1800.3 2467.2,1800.4 2468.1,1800.4 2468.9,1800.4 2469.7,1800.5 2470.5,1800.5 2471.3,1800.5 2472.1,1800.6 2473,1800.6 2473.8,1800.7 2474.6,1800.7 2475.4,1800.7 2476.2,1800.7 2477,1800.8 2477.9,1800.8 2478.7,1800.8 2479.5,1800.9 2480.3,1800.9 2481.1,1800.9 2482,1801 2482.8,1801 2483.6,1801 2484.4,1801.1 2485.2,1801.1 2486,1801.1 2486.9,1801.2 2487.7,1801.2 2488.5,1801.2 2489.3,1801.2 2490.1,1801.3 2490.9,1801.3 2491.8,1801.3 2492.6,1801.4 2493.4,1801.4 2494.2,1801.4 2495,1801.4 2495.8,1801.5 2496.7,1801.5 2497.5,1801.5 2498.3,1801.5 2499.1,1801.6 2499.9,1801.6 2500.7,1801.6 2501.6,1801.6 2502.4,1801.7 2503.2,1801.7 2504,1801.7 2504.8,1801.7 2505.7,1801.8 2506.5,1801.8 2507.3,1801.8 2508.1,1801.8 2508.9,1801.9 2509.7,1801.9 2510.6,1801.9 2511.4,1801.9 2512.2,1802 2513,1802 2513.8,1802 2514.6,1802 2515.5,1802 2516.3,1802.1 2517.1,1802.1 2517.9,1802.1 2518.7,1802.1 2519.5,1802.2 2520.4,1802.2 2521.2,1802.2 2522,1802.2 2522.8,1802.2 2523.6,1802.3 2524.4,1802.3 2525.3,1802.3 2526.1,1802.3 2526.9,1802.3 2527.7,1802.4 2528.5,1802.4 2529.4,1802.4 2530.2,1802.4 2531,1802.4 2531.8,1802.5 2532.6,1802.5 2533.4,1802.5 2534.3,1802.5 2535.1,1802.5 2535.9,1802.6 2536.7,1802.6 2537.5,1802.6 2538.3,1802.6 2539.2,1802.6 2540,1802.6 2540.8,1802.7 2541.6,1802.7 2542.4,1802.7 2543.2,1802.7 2544.1,1802.7 2544.9,1802.8 2545.7,1802.8 2546.5,1802.8 2547.3,1802.8 2548.1,1802.8 2549,1802.8 2549.8,1802.9 2550.6,1802.9 2551.4,1802.9 2552.2,1802.9 2553.1,1802.9 2553.9,1802.9 2554.7,1803 2555.5,1803 2556.3,1803 2557.1,1803 2558,1803 2558.8,1803 2559.6,1803 2560.4,1803.1 2561.2,1803.1 2562,1803.1 2562.9,1803.1 2563.7,1803.1 2564.5,1803.1 2565.3,1803.1 2566.1,1803.2 2566.9,1803.2 2567.8,1803.2 2568.6,1803.2 2569.4,1803.2 2570.2,1803.2 2571,1803.2 2571.8,1803.3 2572.7,1803.3 2573.5,1803.3 2574.3,1803.3 2575.1,1803.3 2575.9,1803.3 2576.8,1803.3 2577.6,1803.4 2578.4,1803.4 2579.2,1803.4 2580,1803.4 2580.8,1803.4 2581.7,1803.4 2582.5,1803.4 2583.3,1803.4 2584.1,1803.5 2584.9,1803.5 2585.7,1803.5 2586.6,1803.5 2587.4,1803.5 2588.2,1803.5 2589,1803.5 2589.8,1803.5 2590.6,1803.6 2591.5,1803.6 2592.3,1803.6 2593.1,1803.6 2593.9,1803.6 2594.7,1803.6 2595.5,1803.6 2596.4,1803.6 2597.2,1803.6 2598,1803.7 2598.8,1803.7 2599.6,1803.7 2600.5,1803.7 2601.3,1803.7 2602.1,1803.7 2602.9,1803.7 2603.7,1803.7 2604.5,1803.7 2605.4,1803.8 2606.2,1803.8 2607,1803.8 2607.8,1803.8 2608.6,1803.8 2609.4,1803.8 2610.3,1803.8 2611.1,1803.8 2611.9,1803.8 2612.7,1803.9 2613.5,1803.9 2614.3,1803.9 2615.2,1803.9 2616,1803.9 2616.8,1803.9 2617.6,1803.9 2618.4,1803.9 2619.2,1803.9 2620.1,1803.9 2620.9,1803.9 2621.7,1804 2622.5,1804 2623.3,1804 2624.2,1804 2625,1804 2625.8,1804 2626.6,1804 2627.4,1804 2628.2,1804 2629.1,1804 2629.9,1804.1 2630.7,1804.1 2631.5,1804.1 2632.3,1804.1 2633.1,1804.1 2634,1804.1 2634.8,1804.1 2635.6,1804.1 2636.4,1804.1 2637.2,1804.1 2638,1804.1 2638.9,1804.1 2639.7,1804.2 2640.5,1804.2 2641.3,1804.2 2642.1,1804.2 2642.9,1804.2 2643.8,1804.2 2644.6,1804.2 2645.4,1804.2 2646.2,1804.2 2647,1804.2 2647.9,1804.2 2648.7,1804.2 2649.5,1804.3 2650.3,1804.3 2651.1,1804.3 2651.9,1804.3 2652.8,1804.3 2653.6,1804.3 2654.4,1804.3 2655.2,1804.3 2656,1804.3 2656.8,1804.3 2657.7,1804.3 2658.5,1804.3 2659.3,1804.3 2660.1,1804.4 2660.9,1804.4 2661.7,1804.4 2662.6,1804.4 2663.4,1804.4 2664.2,1804.4 2665,1804.4 2665.8,1804.4 2666.7,1804.4 2667.5,1804.4 2668.3,1804.4 2669.1,1804.4 2669.9,1804.4 2670.7,1804.4 2671.6,1804.5 2672.4,1804.5 2673.2,1804.5 2674,1804.5 2674.8,1804.5 2675.6,1804.5 2676.5,1804.5 2677.3,1804.5 2678.1,1804.5 2678.9,1804.5 2679.7,1804.5 2680.5,1804.5 2681.4,1804.5 2682.2,1804.5 2683,1804.5 2683.8,1804.5 2684.6,1804.6 2685.4,1804.6 2686.3,1804.6 2687.1,1804.6 2687.9,1804.6 2688.7,1804.6 2689.5,1804.6 2690.4,1804.6 2691.2,1804.6 2692,1804.6 2692.8,1804.6 2693.6,1804.6 2694.4,1804.6 2695.3,1804.6 2696.1,1804.6 2696.9,1804.6 2697.7,1804.7 2698.5,1804.7 2699.3,1804.7 2700.2,1804.7 2701,1804.7 2701.8,1804.7 2702.6,1804.7 2703.4,1804.7 2704.2,1804.7 2705.1,1804.7 2705.9,1804.7 2706.7,1804.7 2707.5,1804.7 2708.3,1804.7 2709.1,1804.7 2710,1804.7 2710.8,1804.7 2711.6,1804.7 2712.4,1804.8 2713.2,1804.8 2714.1,1804.8 2714.9,1804.8 2715.7,1804.8 2716.5,1804.8 2717.3,1804.8 2718.1,1804.8 2719,1804.8 2719.8,1804.8 2720.6,1804.8 2721.4,1804.8 2722.2,1804.8 2723,1804.8 2723.9,1804.8 2724.7,1804.8 2725.5,1804.8 2726.3,1804.8 2727.1,1804.8 2727.9,1804.8 2728.8,1804.9 2729.6,1804.9 2730.4,1804.9 2731.2,1804.9 2732,1804.9 2732.8,1804.9 2733.7,1804.9 2734.5,1804.9 2735.3,1804.9 2736.1,1804.9 2736.9,1804.9 2737.8,1804.9 2738.6,1804.9 2739.4,1804.9 2740.2,1804.9 2741,1804.9 2741.8,1804.9 2742.7,1804.9 2743.5,1804.9 2744.3,1804.9 2745.1,1804.9 2745.9,1805 2746.7,1805 2747.6,1805 2748.4,1805 2749.2,1805 2750,1805 2750.8,1805 2751.6,1805 2752.5,1805 2753.3,1805 2754.1,1805 2754.9,1805 2755.7,1805 2756.5,1805 2757.4,1805 2758.2,1805 2759,1805 2759.8,1805 2760.6,1805 2761.5,1805 2762.3,1805 2763.1,1805 2763.9,1805 2764.7,1805 2765.5,1805.1 2766.4,1805.1 2767.2,1805.1 2768,1805.1 2768.8,1805.1 2769.6,1805.1 2770.4,1805.1 2771.3,1805.1 2772.1,1805.1 2772.9,1805.1 2773.7,1805.1 2774.5,1805.1 2775.3,1805.1 2776.2,1805.1 2777,1805.1 2777.8,1805.1 2778.6,1805.1 2779.4,1805.1 2780.2,1805.1 2781.1,1805.1 2781.9,1805.1 2782.7,1805.1 2783.5,1805.1 2784.3,1805.1 2785.2,1805.1 2786,1805.1 2786.8,1805.1 2787.6,1805.2 2788.4,1805.2 2789.2,1805.2 2790.1,1805.2 2790.9,1805.2 2791.7,1805.2 2792.5,1805.2 2793.3,1805.2 2794.1,1805.2 2795,1805.2 2795.8,1805.2 2796.6,1805.2 2797.4,1805.2 2798.2,1805.2 2799,1805.2 2799.9,1805.2 2800.7,1805.2 2801.5,1805.2 2802.3,1805.2 2803.1,1805.2 2803.9,1805.2 2804.8,1805.2 2805.6,1805.2 2806.4,1805.2 2807.2,1805.2 2808,1805.2 2808.9,1805.2 2809.7,1805.2 2810.5,1805.2 2811.3,1805.2 2812.1,1805.3 2812.9,1805.3 2813.8,1805.3 2814.6,1805.3 2815.4,1805.3 2816.2,1805.3 2817,1805.3 2817.8,1805.3 2818.7,1805.3 2819.5,1805.3 2820.3,1805.3 2821.1,1805.3 2821.9,1805.3 2822.7,1805.3 2823.6,1805.3 2824.4,1805.3 2825.2,1805.3 2826,1805.3 2826.8,1805.3 2827.6,1805.3 2828.5,1805.3 2829.3,1805.3 2830.1,1805.3 2830.9,1805.3 2831.7,1805.3 2832.6,1805.3 2833.4,1805.3 2834.2,1805.3 2835,1805.3 2835.8,1805.3 2836.6,1805.3 2837.5,1805.3 2838.3,1805.3 2839.1,1805.4 2839.9,1805.4 2840.7,1805.4 2841.5,1805.4 2842.4,1805.4 2843.2,1805.4 2844,1805.4 2844.8,1805.4 2845.6,1805.4 2846.4,1805.4 2847.3,1805.4 2848.1,1805.4 2848.9,1805.4 2849.7,1805.4 2850.5,1805.4 2851.3,1805.4 2852.2,1805.4 2853,1805.4 2853.8,1805.4 2854.6,1805.4 2855.4,1805.4 2856.3,1805.4 2857.1,1805.4 2857.9,1805.4 2858.7,1805.4 2859.5,1805.4 2860.3,1805.4 2861.2,1805.4 2862,1805.4 2862.8,1805.4 2863.6,1805.4 2864.4,1805.4 2865.2,1805.4 2866.1,1805.4 2866.9,1805.4 2867.7,1805.4 2868.5,1805.4 2869.3,1805.4 2870.1,1805.4 2871,1805.5 2871.8,1805.5 2872.6,1805.5 2873.4,1805.5 2874.2,1805.5 2875,1805.5 2875.9,1805.5 2876.7,1805.5 2877.5,1805.5 2878.3,1805.5 2879.1,1805.5 2880,1805.5 2880.8,1805.5 2881.6,1805.5 2882.4,1805.5 2883.2,1805.5 2884,1805.5 2884.9,1805.5 2885.7,1805.5 2886.5,1805.5 2887.3,1805.5 2888.1,1805.5 2888.9,1805.5 2889.8,1805.5 2890.6,1805.5 2891.4,1805.5 2892.2,1805.5 2893,1805.5 2893.8,1805.5 2894.7,1805.5 2895.5,1805.5 2896.3,1805.5 2897.1,1805.5 2897.9,1805.5 2898.7,1805.5 2899.6,1805.5 2900.4,1805.5 2901.2,1805.5 2902,1805.5 2902.8,1805.5 2903.7,1805.5 2904.5,1805.5 2905.3,1805.5 2906.1,1805.5 2906.9,1805.5 2907.7,1805.5 2908.6,1805.6 2909.4,1805.6 2910.2,1805.6 2911,1805.6 2911.8,1805.6"/>
<polyline stroke="#7fffe0" stroke-width="5.3" points="1849.4,1804.3 1850.2,1804.3 1851,1804.3 1851.9,1804.2 1852.7,1804.2 1853.5,1804.2 1854.3,1804.2 1855.1,1804.2 1855.9,1804.2 1856.8,1804.2 1857.6,1804.2 1858.4,1804.2 1859.2,1804.2 1860,1804.2 1860.8,1804.1 1861.7,1804.1 1862.5,1804.1 1863.3,1804.1 1864.1,1804.1 1864.9,1804.1 1865.7,1804.1 1866.6,1804.1 1867.4,1804.1 1868.2,1804.1 1869,1804.1 1869.8,1804 1870.6,1804 1871.5,1804 1872.3,1804 1873.1,1804 1873.9,1804 1874.7,1804 1875.6,1804 1876.4,1804 1877.2,1803.9 1878,1803.9 1878.8,1803.9 1879.6,1803.9 1880.5,1803.9 1881.3,1803.9 1882.1,1803.9 1882.9,1803.9 1883.7,1803.9 1884.5,1803.9 1885.4,1803.8 1886.2,1803.8 1887,1803.8 1887.8,1803.8 1888.6,1803.8 1889.4,1803.8 1890.3,1803.8 1891.1,1803.8 1891.9,1803.7 1892.7,1803.7 1893.5,1803.7 1894.3,1803.7 1895.2,1803.7 1896,1803.7 1896.8,1803.7 1897.6,1803.7 1898.4,1803.6 1899.3,1803.6 1900.1,1803.6 1900.9,1803.6 1901.7,1803.6 1902.5,1803.6 1903.3,1803.6 1904.2,1803.6 1905,1803.5 1905.8,1803.5 1906.6,1803.5 1907.4,1803.5 1908.2,1803.5 1909.1,1803.5 1909.9,1803.5 1910.7,1803.5 1911.5,1803.4 1912.3,1803.4 1913.1,1803.4 1914,1803.4 1914.8,1803.4 1915.6,1803.4 1916.4,1803.4 1917.2,1803.3 1918,1803.3 1918.9,1803.3 1919.7,1803.3 1920.5,1803.3 1921.3,1803.3 1922.1,1803.2 1923,1803.2 1923.8,1803.2 1924.6,1803.2 1925.4,1803.2 1926.2,1803.2 1927,1803.2 1927.9,1803.1 1928.7,1803.1 1929.5,1803.1 1930.3,1803.1 1931.1,1803.1 1931.9,1803.1 1932.8,1803 1933.6,1803 1934.4,1803 1935.2,1803 1936,1803 1936.8,1803 1937.7,1802.9 1938.5,1802.9 1939.3,1802.9 1940.1,1802.9 1940.9,1802.9 1941.7,1802.8 1942.6,1802.8 1943.4,1802.8 1944.2,1802.8 1945,1802.8 1945.8,1802.8 1946.7,1802.7 1947.5,1802.7 1948.3,1802.7 1949.1,1802.7 1949.9,1802.7 1950.7,1802.6 1951.6,1802.6 1952.4,1802.6 1953.2,1802.6 1954,1802.6 1954.8,1802.5 1955.6,1802.5 1956.5,1802.5 1957.3,1802.5 1958.1,1802.5 1958.9,1802.4 1959.7,1802.4 1960.5,1802.4 1961.4,1802.4 1962.2,1802.3 1963,1802.3 1963.8,1802.3 1964.6,1802.3 1965.4,1802.3 1966.3,1802.2 1967.1,1802.2 1967.9,1802.2 1968.7,1802.2 1969.5,1802.1 1970.4,1802.1 1971.2,1802.1 1972,1802.1 1972.8,1802 1973.6,1802 1974.4,1802 1975.3,1802 1976.1,1801.9 1976.9,1801.9 1977.7,1801.9 1978.5,1801.9 1979.3,1801.8 1980.2,1801.8 1981,1801.8 1981.8,1801.7 1982.6,1801.7 1983.4,1801.7 1984.2,1801.7 1985.1,1801.6 1985.9,1801.6 1986.7,1801.6 1987.5,1801.6 1988.3,1801.5 1989.1,1801.5 1990,1801.5 1990.8,1801.4 1991.6,1801.4 1992.4,1801.4 1993.2,1801.3 1994.1,1801.3 1994.9,1801.3 1995.7,1801.3 1996.5,1801.2 1997.3,1801.2 1998.1,1801.2 1999,1801.1 1999.8,1801.1 2000.6,1801.1 2001.4,1801 2002.2,1801 2003,1801 2003.9,1800.9 2004.7,1800.9 2005.5,1800.8 2006.3,1800.8 2007.1,1800.8 2007.9,1800.7 2008.8,1800.7 2009.6,1800.7 2010.4,1800.6 2011.2,1800.6 2012,1800.6 2012.9,1800.5 2013.7,1800.5 2014.5,1800.4 2015.3,1800.4 2016.1,1800.4 2016.9,1800.3 2017.8,1800.3 2018.6,1800.2 2019.4,1800.2 2020.2,1800.2 2021,1800.1 2021.8,1800.1 2022.7,1800 2023.5,1800 2024.3,1799.9 2025.1,1799.9 2025.9,1799.8 2026.7,1799.8 2027.6,1799.8 2028.4,1799.7 2029.2,1799.7 2030,1799.6 2030.8,1799.6 2031.6,1799.5 2032.5,1799.5 2033.3,1799.4 2034.1,1799.4 2034.9,1799.3 2035.7,1799.3 2036.6,1799.2 2037.4,1799.2 2038.2,1799.1 2039,1799.1 2039.8,1799 2040.6,1798.9 2041.5,1798.9 2042.3,1798.8 2043.1,1798.8 2043.9,1798.7 2044.7,1798.7 2045.5,1798.6 2046.4,1798.5 2047.2,1798.5 2048,1798.4 2048.8,1798.4 2049.6,1798.3 2050.4,1798.2 2051.3,1798.2 2052.1,1798.1 2052.9,1798 2053.7,1798 2054.5,1797.9 2055.3,1797.8 2056.2,1797.8 2057,1797.7 2057.8,1797.6 2058.6,1797.6 2059.4,1797.5 2060.3,1797.4 2061.1,1797.4 2061.9,1797.3 2062.7,1797.2 2063.5,1797.1 2064.3,1797.1 2065.2,1797 2066,1796.9 2066.8,1796.8 2067.6,1796.7 2068.4,1796.7 2069.2,1796.6 2070.1,1796.5 2070.9,1796.4 2071.7,1796.3 2072.5,1796.2 2073.3,1796.1 2074.1,1796.1 2075,1796 2075.8,1795.9 2076.6,1795.8 2077.4,1795.7 2078.2,1795.6 2079,1795.5 2079.9,1795.4 2080.7,1795.3 2081.5,1795.2 2082.3,1795.1 2083.1,1795 2084,1794.9 2084.8,1794.8 2085.6,1794.7 2086.4,1794.6 2087.2,1794.5 2088,1794.4 2088.9,1794.2 2089.7,1794.1 2090.5,1794 2091.3,1793.9 2092.1,1793.8 2092.9,1793.7 2093.8,1793.5 2094.6,1793.4 2095.4,1793.3 2096.2,1793.2 2097,1793 2097.8,1792.9 2098.7,1792.8 2099.5,1792.6 2100.3,1792.5 2101.1,1792.3 2101.9,1792.2 2102.7,1792.1 2103.6,1791.9 2104.4,1791.8 2105.2,1791.6 2106,1791.5 2106.8,1791.3 2107.7,1791.1 2108.5,1791 2109.3,1790.8 2110.1,1790.7 2110.9,1790.5 2111.7,1790.3 2112.6,1790.1 2113.4,1790 2114.2,1789.8 2115,1789.6 2115.8,1789.4 2116.6,1789.2 2117.5,1789 2118.3,1788.9 2119.1,1788.7 2119.9,1788.5 2120.7,1788.2 2121.5,1788 2122.4,1787.8 2123.2,1787.6 2124,1787.4 2124.8,1787.2 2125.6,1786.9 2126.4,1786.7 2127.3,1786.5 2128.1,1786.2 2128.9,1786 2129.7,1785.8 2130.5,1785.5 2131.4,1785.2 2132.2,1785 2133,1784.7 2133.8,1784.5 2134.6,1784.2 2135.4,1783.9 2136.3,1783.6 2137.1,1783.3 2137.9,1783 2138.7,1782.7 2139.5,1782.4 2140.3,1782.1 2141.2,1781.8 2142,1781.5 2142.8,1781.1 2143.6,1780.8 2144.4,1780.4 2145.2,1780.1 2146.1,1779.7 2146.9,1779.4 2147.7,1779 2148.5,1778.6 2149.3,1778.2 2150.1,1777.8 2151,1777.4 2151.8,1777 2152.6,1776.6 2153.4,1776.1 2154.2,1775.7 2155.1,1775.2 2155.9,1774.8 2156.7,1774.3 2157.5,1773.8 2158.3,1773.3 2159.1,1772.8 2160,1772.3 2160.8,1771.8 2161.6,1771.2 2162.4,1770.7 2163.2,1770.1 2164,1769.5 2164.9,1768.9 2165.7,1768.3 2166.5,1767.7 2167.3,1767.1 2168.1,1766.4 2168.9,1765.8 2169.8,1765.1 2170.6,1764.4 2171.4,1763.7 2172.2,1762.9 2173,1762.2 2173.8,1761.4 2174.7,1760.6 2175.5,1759.8 2176.3,1759 2177.1,1758.1 2177.9,1757.2 2178.8,1756.3 2179.6,1755.4 2180.4,1754.5 2181.2,1753.5 2182,1752.5 2182.8,1751.4 2183.7,1750.4 2184.5,1749.3 2185.3,1748.2 2186.1,1747 2186.9,1745.8 2187.7,1744.6 2188.6,1743.3 2189.4,1742 2190.2,1740.7 2191,1739.3 2191.8,1737.9 2192.6,1736.5 2193.5,1735 2194.3,1733.4 2195.1,1731.8 2195.9,1730.2 2196.7,1728.5 2197.5,1726.7 2198.4,1724.9 2199.2,1723 2200,1721.1 2200.8,1719.1 2201.6,1717.1 2202.5,1714.9 2203.3,1712.7 2204.1,1710.5 2204.9,1708.1 2205.7,1705.7 2206.5,1703.1 2207.4,1700.5 2208.2,1697.8 2209,1695 2209.8,1692.1 2210.6,1689.1 2211.4,1686 2212.3,1682.8 2213.1,1679.4 2213.9,1676 2214.7,1672.4 2215.5,1668.6 2216.3,1664.8 2217.2,1660.8 2218,1656.6 2218.8,1652.2 2219.6,1647.7 2220.4,1643.1 2221.2,1638.2 2222.1,1633.2 2222.9,1627.9 2223.7,1622.5 2224.5,1616.9 2225.3,1611 2226.2,1604.9 2227,1598.6 2227.8,1592 2228.6,1585.2 2229.4,1578.1 2230.2,1570.7 2231.1,1563.1 2231.9,1555.2 2232.7,1547 2233.5,1538.5 2234.3,1529.8 2235.1,1520.7 2236,1511.3 2236.8,1501.7 2237.6,1491.7 2238.4,1481.5 2239.2,1470.9 2240,1460.1 2240.9,1449.1 2241.7,1437.8 2242.5,1426.4 2243.3,1414.7 2244.1,1402.9 2244.9,1391 2245.8,1379 2246.6,1367.1 2247.4,1355.2 2248.2,1343.4 2249,1331.7 2249.9,1320.4 2250.7,1309.4 2251.5,1298.8 2252.3,1288.8 2253.1,1279.4 2253.9,1270.6 2254.8,1262.7 2255.6,1255.6 2256.4,1249.4 2257.2,1244.3 2258,1240.2 2258.8,1237.3 2259.7,1235.5 2260.5,1234.9 2261.3,1235.5 2262.1,1237.3 2262.9,1240.2 2263.7,1244.3 2264.6,1249.4 2265.4,1255.6 2266.2,1262.7 2267,1270.6 2267.8,1279.4 2268.6,1288.8 2269.5,1298.8 2270.3,1309.4 2271.1,1320.4 2271.9,1331.7 2272.7,1343.4 2273.6,1355.2 2274.4,1367.1 2275.2,1379 2276,1391 2276.8,1402.9 2277.6,1414.7 2278.5,1426.4 2279.3,1437.8 2280.1,1449.1 2280.9,1460.1 2281.7,1470.9 2282.5,1481.5 2283.4,1491.7 2284.2,1501.7 2285,1511.3 2285.8,1520.7 2286.6,1529.8 2287.4,1538.5 2288.3,1547 2289.1,1555.2 2289.9,1563.1 2290.7,1570.7 2291.5,1578.1 2292.3,1585.2 2293.2,1592 2294,1598.6 2294.8,1604.9 2295.6,1611 2296.4,1616.9 2297.3,1622.5 2298.1,1627.9 2298.9,1633.2 2299.7,1638.2 2300.5,1643.1 2301.3,1647.7 2302.2,1652.2 2303,1656.6 2303.8,1660.8 2304.6,1664.8 2305.4,1668.6 2306.2,1672.4 2307.1,1676 2307.9,1679.4 2308.7,1682.8 2309.5,1686 2310.3,1689.1 2311.1,1692.1 2312,1695 2312.8,1697.8 2313.6,1700.5 2314.4,1703.1 2315.2,1705.7 2316,1708.1 2316.9,1710.5 2317.7,1712.7 2318.5,1714.9 2319.3,1717.1 2320.1,1719.1 2321,1721.1 2321.8,1723 2322.6,1724.9 2323.4,1726.7 2324.2,1728.5 2325,1730.2 2325.9,1731.8 2326.7,1733.4 2327.5,1735 2328.3,1736.5 2329.1,1737.9 2329.9,1739.3 2330.8,1740.7 2331.6,1742 2332.4,1743.3 2333.2,1744.6 2334,1745.8 2334.8,1747 2335.7,1748.2 2336.5,1749.3 2337.3,1750.4 2338.1,1751.4 2338.9,1752.5 2339.8,1753.5 2340.6,1754.5 2341.4,1755.4 2342.2,1756.3 2343,1757.2 2343.8,1758.1 2344.7,1759 2345.5,1759.8 2346.3,1760.6 2347.1,1761.4 2347.9,1762.2 2348.7,1762.9 2349.6,1763.7 2350.4,1764.4 2351.2,1765.1 2352,1765.8 2352.8,1766.4 2353.6,1767.1 2354.5,1767.7 2355.3,1768.3 2356.1,1768.9 2356.9,1769.5 2357.7,1770.1 2358.5,1770.7 2359.4,1771.2 2360.2,1771.8 2361,1772.3 2361.8,1772.8 2362.6,1773.3 2363.5,1773.8 2364.3,1774.3 2365.1,1774.8 2365.9,1775.2 2366.7,1775.7 2367.5,1776.1 2368.4,1776.6 2369.2,1777 2370,1777.4 2370.8,1777.8 2371.6,1778.2 2372.4,1778.6 2373.3,1779 2374.1,1779.4 2374.9,1779.7 2375.7,1780.1 2376.5,1780.4 2377.3,1780.8 2378.2,1781.1 2379,1781.5 2379.8,1781.8 2380.6,1782.1 2381.4,1782.4 2382.2,1782.7 2383.1,1783 2383.9,1783.3 2384.7,1783.6 2385.5,1783.9 2386.3,1784.2 2387.2,1784.5 2388,1784.7 2388.8,1785 2389.6,1785.2 2390.4,1785.5 2391.2,1785.8 2392.1,1786 2392.9,1786.2 2393.7,1786.5 2394.5,1786.7 2395.3,1786.9 2396.1,1787.2 2397,1787.4 2397.8,1787.6 2398.6,1787.8 2399.4,1788 2400.2,1788.2 2401,1788.5 2401.9,1788.7 2402.7,1788.9 2403.5,1789 2404.3,1789.2 2405.1,1789.4 2405.9,1789.6 2406.8,1789.8 2407.6,1790 2408.4,1790.1 2409.2,1790.3 2410,1790.5 2410.9,1790.7 2411.7,1790.8 2412.5,1791 2413.3,1791.1 2414.1,1791.3 2414.9,1791.5 2415.8,1791.6 2416.6,1791.8 2417.4,1791.9 2418.2,1792.1 2419,1792.2 2419.8,1792.3 2420.7,1792.5 2421.5,1792.6 2422.3,1792.8 2423.1,1792.9 2423.9,1793 2424.7,1793.2 2425.6,1793.3 2426.4,1793.4 2427.2,1793.5 2428,1793.7 2428.8,1793.8 2429.6,1793.9 2430.5,1794 2431.3,1794.1 2432.1,1794.2 2432.9,1794.4 2433.7,1794.5 2434.6,1794.6 2435.4,1794.7 2436.2,1794.8 2437,1794.9 2437.8,1795 2438.6,1795.1 2439.5,1795.2 2440.3,1795.3 2441.1,1795.4 2441.9,1795.5 2442.7,1795.6 2443.5,1795.7 2444.4,1795.8 2445.2,1795.9 2446,1796 2446.8,1796.1 2447.6,1796.1 2448.4,1796.2 2449.3,1796.3 2450.1,1796.4 2450.9,1796.5 2451.7,1796.6 2452.5,1796.7 2453.3,1796.7 2454.2,1796.8 2455,1796.9 2455.8,1797 2456.6,1797.1 2457.4,1797.1 2458.3,1797.2 2459.1,1797.3 2459.9,1797.4 2460.7,1797.4 2461.5,1797.5 2462.3,1797.6 2463.2,1797.6 2464,1797.7 2464.8,1797.8 2465.6,1797.8 2466.4,1797.9 2467.2,1798 2468.1,1798 2468.9,1798.1 2469.7,1798.2 2470.5,1798.2 2471.3,1798.3 2472.1,1798.4 2473,1798.4 2473.8,1798.5 2474.6,1798.5 2475.4,1798.6 2476.2,1798.7 2477,1798.7 2477.9,1798.8 2478.7,1798.8 2479.5,1798.9 2480.3,1798.9 2481.1,1799 2482,1799.1 2482.8,1799.1 2483.6,1799.2 2484.4,1799.2 2485.2,1799.3 2486,1799.3 2486.9,1799.4 2487.7,1799.4 2488.5,1799.5 2489.3,1799.5 2490.1,1799.6 2490.9,1799.6 2491.8,1799.7 2492.6,1799.7 2493.4,1799.8 2494.2,1799.8 2495,1799.8 2495.8,1799.9 2496.7,1799.9 2497.5,1800 2498.3,1800 2499.1,1800.1 2499.9,1800.1 2500.7,1800.2 2501.6,1800.2 2502.4,1800.2 2503.2,1800.3 2504,1800.3 2504.8,1800.4 2505.7,1800.4 2506.5,1800.4 2507.3,1800.5 2508.1,1800.5 2508.9,1800.6 2509.7,1800.6 2510.6,1800.6 2511.4,1800.7 2512.2,1800.7 2513,1800.7 2513.8,1800.8 2514.6,1800.8 2515.5,1800.8 2516.3,1800.9 2517.1,1800.9 2517.9,1801 2518.7,1801 2519.5,1801 2520.4,1801.1 2521.2,1801.1 2522,1801.1 2522.8,1801.2 2523.6,1801.2 2524.4,1801.2 2525.3,1801.3 2526.1,1801.3 2526.9,1801.3 2527.7,1801.3 2528.5,1801.4 2529.4,1801.4 2530.2,1801.4 2531,1801.5 2531.8,1801.5 2532.6,1801.5 2533.4,1801.6 2534.3,1801.6 2535.1,1801.6 2535.9,1801.6 2536.7,1801.7 2537.5,1801.7 2538.3,1801.7 2539.2,1801.7 2540,1801.8 2540.8,1801.8 2541.6,1801.8 2542.4,1801.9 2543.2,1801.9 2544.1,1801.9 2544.9,1801.9 2545.7,1802 2546.5,1802 2547.3,1802 2548.1,1802 2549,1802.1 2549.8,1802.1 2550.6,1802.1 2551.4,1802.1 2552.2,1802.2 2553.1,1802.2 2553.9,1802.2 2554.7,1802.2 2555.5,1802.3 2556.3,1802.3 2557.1,1802.3 2558,1802.3 2558.8,1802.3 2559.6,1802.4 2560.4,1802.4 2561.2,1802.4 2562,1802.4 2562.9,1802.5 2563.7,1802.5 2564.5,1802.5 2565.3,1802.5 2566.1,1802.5 2566.9,1802.6 2567.8,1802.6 2568.6,1802.6 2569.4,1802.6 2570.2,1802.6 2571,1802.7 2571.8,1802.7 2572.7,1802.7 2573.5,1802.7 2574.3,1802.7 2575.1,1802.8 2575.9,1802.8 2576.8,1802.8 2577.6,1802.8 2578.4,1802.8 2579.2,1802.8 2580,1802.9 2580.8,1802.9 2581.7,1802.9 2582.5,1802.9 2583.3,1802.9 2584.1,1803 2584.9,1803 2585.7,1803 2586.6,1803 2587.4,1803 2588.2,1803 2589,1803.1 2589.8,1803.1 2590.6,1803.1 2591.5,1803.1 2592.3,1803.1 2593.1,1803.1 2593.9,1803.2 2594.7,1803.2 2595.5,1803.2 2596.4,1803.2 2597.2,1803.2 2598,1803.2 2598.8,1803.2 2599.6,1803.3 2600.5,1803.3 2601.3,1803.3 2602.1,1803.3 2602.9,1803.3 2603.7,1803.3 2604.5,1803.4 2605.4,1803.4 2606.2,1803.4 2607,1803.4 2607.8,1803.4 2608.6,1803.4 2609.4,1803.4 2610.3,1803.5 2611.1,1803.5 2611.9,1803.5 2612.7,1803.5 2613.5,1803.5 2614.3,1803.5 2615.2,1803.5 2616,1803.5 2616.8,1803.6 2617.6,1803.6 2618.4,1803.6 2619.2,1803.6 2620.1,1803.6 2620.9,1803.6 2621.7,1803.6 2622.5,1803.6 2623.3,1803.7 2624.2,1803.7 2625,1803.7 2625.8,1803.7 2626.6,1803.7 2627.4,1803.7 2628.2,1803.7 2629.1,1803.7 2629.9,1803.8 2630.7,1803.8 2631.5,1803.8 2632.3,1803.8 2633.1,1803.8 2634,1803.8 2634.8,1803.8 2635.6,1803.8 2636.4,1803.9 2637.2,1803.9 2638,1803.9 2638.9,1803.9 2639.7,1803.9 2640.5,1803.9 2641.3,1803.9 2642.1,1803.9 2642.9,1803.9 2643.8,1803.9 2644.6,1804 2645.4,1804 2646.2,1804 2647,1804 2647.9,1804 2648.7,1804 2649.5,1804 2650.3,1804 2651.1,1804 2651.9,1804.1 2652.8,1804.1 2653.6,1804.1 2654.4,1804.1 2655.2,1804.1 2656,1804.1 2656.8,1804.1 2657.7,1804.1 2658.5,1804.1 2659.3,1804.1 2660.1,1804.1 2660.9,1804.2 2661.7,1804.2 2662.6,1804.2 2663.4,1804.2 2664.2,1804.2 2665,1804.2 2665.8,1804.2 2666.7,1804.2 2667.5,1804.2 2668.3,1804.2 2669.1,1804.2 2669.9,1804.3 2670.7,1804.3 2671.6,1804.3 2672.4,1804.3 2673.2,1804.3 2674,1804.3 2674.8,1804.3 2675.6,1804.3 2676.5,1804.3 2677.3,1804.3 2678.1,1804.3 2678.9,1804.3 2679.7,1804.4 2680.5,1804.4 2681.4,1804.4 2682.2,1804.4 2683,1804.4 2683.8,1804.4 2684.6,1804.4 2685.4,1804.4 2686.3,1804.4 2687.1,1804.4 2687.9,1804.4 2688.7,1804.4 2689.5,1804.4 2690.4,1804.5 2691.2,1804.5 2692,1804.5 2692.8,1804.5 2693.6,1804.5 2694.4,1804.5 2695.3,1804.5 2696.1,1804.5 2696.9,1804.5 2697.7,1804.5 2698.5,1804.5 2699.3,1804.5 2700.2,1804.5 2701,1804.6 2701.8,1804.6 2702.6,1804.6 2703.4,1804.6 2704.2,1804.6 2705.1,1804.6 2705.9,1804.6 2706.7,1804.6 2707.5,1804.6 2708.3,1804.6 2709.1,1804.6 2710,1804.6 2710.8,1804.6 2711.6,1804.6 2712.4,1804.6 2713.2,1804.7 2714.1,1804.7 2714.9,1804.7 2715.7,1804.7 2716.5,1804.7 2717.3,1804.7 2718.1,1804.7 2719,1804.7 2719.8,1804.7 2720.6,1804.7 2721.4,1804.7 2722.2,1804.7 2723,1804.7 2723.9,1804.7 2724.7,1804.7 2725.5,1804.7 2726.3,1804.7 2727.1,1804.8 2727.9,1804.8 2728.8,1804.8 2729.6,1804.8 2730.4,1804.8 2731.2,1804.8 2732,1804.8 2732.8,1804.8 2733.7,1804.8 2734.5,1804.8 2735.3,1804.8 2736.1,1804.8 2736.9,1804.8 2737.8,1804.8 2738.6,1804.8 2739.4,1804.8 2740.2,1804.8 2741,1804.9 2741.8,1804.9 2742.7,1804.9 2743.5,1804.9 2744.3,1804.9 2745.1,1804.9 2745.9,1804.9 2746.7,1804.9 2747.6,1804.9 2748.4,1804.9 2749.2,1804.9 2750,1804.9 2750.8,1804.9 2751.6,1804.9 2752.5,1804.9 2753.3,1804.9 2754.1,1804.9 2754.9,1804.9 2755.7,1804.9 2756.5,1804.9 2757.4,1805 2758.2,1805 2759,1805 2759.8,1805 2760.6,1805 2761.5,1805 2762.3,1805 2763.1,1805 2763.9,1805 2764.7,1805 2765.5,1805 2766.4,1805 2767.2,1805 2768,1805 2768.8,1805 2769.6,1805 2770.4,1805 2771.3,1805 2772.1,1805 2772.9,1805 2773.7,1805 2774.5,1805 2775.3,1805.1 2776.2,1805.1 2777,1805.1 2777.8,1805.1 2778.6,1805.1 2779.4,1805.1 2780.2,1805.1 2781.1,1805.1 2781.9,1805.1 2782.7,1805.1 2783.5,1805.1 2784.3,1805.1 2785.2,1805.1 2786,1805.1 2786.8,1805.1 2787.6,1805.1 2788.4,1805.1 2789.2,1805.1 2790.1,1805.1 2790.9,1805.1 2791.7,1805.1 2792.5,1805.1 2793.3,1805.1 2794.1,1805.1 2795,1805.2 2795.8,1805.2 2796.6,1805.2 2797.4,1805.2 2798.2,1805.2 2799,1805.2 2799.9,1805.2 2800.7,1805.2 2801.5,1805.2 2802.3,1805.2 2803.1,1805.2 2803.9,1805.2 2804.8,1805.2 2805.6,1805.2 2806.4,1805.2 2807.2,1805.2 2808,1805.2 2808.9,1805.2 2809.7,1805.2 2810.5,1805.2 2811.3,1805.2 2812.1,1805.2 2812.9,1805.2 2813.8,1805.2 2814.6,1805.2 2815.4,1805.2 2816.2,1805.2 2817,1805.3 2817.8,1805.3 2818.7,1805.3 2819.5,1805.3 2820.3,1805.3 2821.1,1805.3 2821.9,1805.3 2822.7,1805.3 2823.6,1805.3 2824.4,1805.3 2825.2,1805.3 2826,1805.3 2826.8,1805.3 2827.6,1805.3 2828.5,1805.3 2829.3,1805.3 2830.1,1805.3 2830.9,1805.3 2831.7,1805.3 2832.6,1805.3 2833.4,1805.3 2834.2,1805.3 2835,1805.3 2835.8,1805.3 2836.6,1805.3 2837.5,1805.3 2838.3,1805.3 2839.1,1805.3 2839.9,1805.3 2840.7,1805.3 2841.5,1805.4 2842.4,1805.4 2843.2,1805.4 2844,1805.4 2844.8,1805.4 2845.6,1805.4 2846.4,1805.4 2847.3,1805.4 2848.1,1805.4 2848.9,1805.4 2849.7,1805.4 2850.5,1805.4 2851.3,1805.4 2852.2,1805.4 2853,1805.4 2853.8,1805.4 2854.6,1805.4 2855.4,1805.4 2856.3,1805.4 2857.1,1805.4 2857.9,1805.4 2858.7,1805.4 2859.5,1805.4 2860.3,1805.4 2861.2,1805.4 2862,1805.4 2862.8,1805.4 2863.6,1805.4 2864.4,1805.4 2865.2,1805.4 2866.1,1805.4 2866.9,1805.4 2867.7,1805.4 2868.5,1805.4 2869.3,1805.4 2870.1,1805.4 2871,1805.5 2871.8,1805.5 2872.6,1805.5 2873.4,1805.5 2874.2,1805.5 2875,1805.5 2875.9,1805.5 2876.7,1805.5 2877.5,1805.5 2878.3,1805.5 2879.1,1805.5 2880,1805.5 2880.8,1805.5 2881.6,1805.5 2882.4,1805.5 2883.2,1805.5 2884,1805.5 2884.9,1805.5 2885.7,1805.5 2886.5,1805.5 2887.3,1805.5 2888.1,1805.5 2888.9,1805.5 2889.8,1805.5 2890.6,1805.5 2891.4,1805.5 2892.2,1805.5 2893,1805.5 2893.8,1805.5 2894.7,1805.5 2895.5,1805.5 2896.3,1805.5 2897.1,1805.5 2897.9,1805.5 2898.7,1805.5 2899.6,1805.5 2900.4,1805.5 2901.2,1805.5 2902,1805.5 2902.8,1805.5 2903.7,1805.5 2904.5,1805.6 2905.3,1805.6 2906.1,1805.6 2906.9,1805.6 2907.7,1805.6 2908.6,1805.6 2909.4,1805.6 2910.2,1805.6 2911,1805.6 2911.8,1805.6"/>
<polyline stroke="#bf45ff" stroke-width="5.6" points="1849.4,1805 1850.2,1805 1851,1805 1851.9,1805 1852.7,1805 1853.5,1805 1854.3,1805 1855.1,1805 1855.9,1805 1856.8,1805 1857.6,1805 1858.4,1805 1859.2,1805 1860,1805 1860.8,1805 1861.7,1805 1862.5,1805 1863.3,1805 1864.1,1805 1864.9,1805 1865.7,1805 1866.6,1805 1867.4,1805 1868.2,1805 1869,1805 1869.8,1805 1870.6,1805 1871.5,1805 1872.3,1805 1873.1,1805 1873.9,1805 1874.7,1805 1875.6,1805 1876.4,1805 1877.2,1805 1878,1805 1878.8,1805 1879.6,1805 1880.5,1805 1881.3,1805 1882.1,1805 1882.9,1805 1883.7,1805 1884.5,1805 1885.4,1805 1886.2,1805 1887,1805 1887.8,1805 1888.6,1805 1889.4,1805 1890.3,1805 1891.1,1805 1891.9,1805 1892.7,1805 1893.5,1805 1894.3,1804.9 1895.2,1804.9 1896,1804.9 1896.8,1804.9 1897.6,1804.9 1898.4,1804.9 1899.3,1804.9 1900.1,1804.9 1900.9,1804.9 1901.7,1804.9 1902.5,1804.9 1903.3,1804.9 1904.2,1804.9 1905,1804.9 1905.8,1804.9 1906.6,1804.9 1907.4,1804.9 1908.2,1804.9 1909.1,1804.9 1909.9,1804.9 1910.7,1804.9 1911.5,1804.9 1912.3,1804.9 1913.1,1804.9 1914,1804.9 1914.8,1804.9 1915.6,1804.9 1916.4,1804.9 1917.2,1804.9 1918,1804.9 1918.9,1804.9 1919.7,1804.9 1920.5,1804.9 1921.3,1804.9 1922.1,1804.9 1923,1804.9 1923.8,1804.9 1924.6,1804.9 1925.4,1804.9 1926.2,1804.9 1927,1804.9 1927.9,1804.9 1928.7,1804.8 1929.5,1804.8 1930.3,1804.8 1931.1,1804.8 1931.9,1804.8 1932.8,1804.8 1933.6,1804.8 1934.4,1804.8 1935.2,1804.8 1936,1804.8 1936.8,1804.8 1937.7,1804.8 1938.5,1804.8 1939.3,1804.8 1940.1,1804.8 1940.9,1804.8 1941.7,1804.8 1942.6,1804.8 1943.4,1804.8 1944.2,1804.8 1945,1804.8 1945.8,1804.8 1946.7,1804.8 1947.5,1804.8 1948.3,1804.8 1949.1,1804.8 1949.9,1804.8 1950.7,1804.8 1951.6,1804.8 1952.4,1804.8 1953.2,1804.8 1954,1804.8 1954.8,1804.8 1955.6,1804.8 1956.5,1804.7 1957.3,1804.7 1958.1,1804.7 1958.9,1804.7 1959.7,1804.7 1960.5,1804.7 1961.4,1804.7 1962.2,1804.7 1963,1804.7 1963.8,1804.7 1964.6,1804.7 1965.4,1804.7 1966.3,1804.7 1967.1,1804.7 1967.9,1804.7 1968.7,1804.7 1969.5,1804.7 1970.4,1804.7 1971.2,1804.7 1972,1804.7 1972.8,1804.7 1973.6,1804.7 1974.4,1804.7 1975.3,1804.7 1976.1,1804.7 1976.9,1804.7 1977.7,1804.6 1978.5,1804.6 1979.3,1804.6 1980.2,1804.6 1981,1804.6 1981.8,1804.6 1982.6,1804.6 1983.4,1804.6 1984.2,1804.6 1985.1,1804.6 1985.9,1804.6 1986.7,1804.6 1987.5,1804.6 1988.3,1804.6 1989.1,1804.6 1990,1804.6 1990.8,1804.6 1991.6,1804.6 1992.4,1804.6 1993.2,1804.6 1994.1,1804.6 1994.9,1804.6 1995.7,1804.6 1996.5,1804.5 1997.3,1804.5 1998.1,1804.5 1999,1804.5 1999.8,1804.5 2000.6,1804.5 2001.4,1804.5 2002.2,1804.5 2003,1804.5 2003.9,1804.5 2004.7,1804.5 2005.5,1804.5 2006.3,1804.5 2007.1,1804.5 2007.9,1804.5 2008.8,1804.5 2009.6,1804.5 2010.4,1804.5 2011.2,1804.5 2012,1804.4 2012.9,1804.4 2013.7,1804.4 2014.5,1804.4 2015.3,1804.4 2016.1,1804.4 2016.9,1804.4 2017.8,1804.4 2018.6,1804.4 2019.4,1804.4 2020.2,1804.4 2021,1804.4 2021.8,1804.4 2022.7,1804.4 2023.5,1804.4 2024.3,1804.4 2025.1,1804.3 2025.9,1804.3 2026.7,1804.3 2027.6,1804.3 2028.4,1804.3 2029.2,1804.3 2030,1804.3 2030.8,1804.3 2031.6,1804.3 2032.5,1804.3 2033.3,1804.3 2034.1,1804.3 2034.9,1804.3 2035.7,1804.3 2036.6,1804.2 2037.4,1804.2 2038.2,1804.2 2039,1804.2 2039.8,1804.2 2040.6,1804.2 2041.5,1804.2 2042.3,1804.2 2043.1,1804.2 2043.9,1804.2 2044.7,1804.2 2045.5,1804.2 2046.4,1804.2 2047.2,1804.1 2048,1804.1 2048.8,1804.1 2049.6,1804.1 2050.4,1804.1 2051.3,1804.1 2052.1,1804.1 2052.9,1804.1 2053.7,1804.1 2054.5,1804.1 2055.3,1804.1 2056.2,1804 2057,1804 2057.8,1804 2058.6,1804 2059.4,1804 2060.3,1804 2061.1,1804 2061.9,1804 2062.7,1804 2063.5,1804 2064.3,1803.9 2065.2,1803.9 2066,1803.9 2066.8,1803.9 2067.6,1803.9 2068.4,1803.9 2069.2,1803.9 2070.1,1803.9 2070.9,1803.9 2071.7,1803.8 2072.5,1803.8 2073.3,1803.8 2074.1,1803.8 2075,1803.8 2075.8,1803.8 2076.6,1803.8 2077.4,1803.8 2078.2,1803.8 2079,1803.7 2079.9,1803.7 2080.7,1803.7 2081.5,1803.7 2082.3,1803.7 2083.1,1803.7 2084,1803.7 2084.8,1803.6 2085.6,1803.6 2086.4,1803.6 2087.2,1803.6 2088,1803.6 2088.9,1803.6 2089.7,1803.6 2090.5,1803.5 2091.3,1803.5 2092.1,1803.5 2092.9,1803.5 2093.8,1803.5 2094.6,1803.5 2095.4,1803.5 2096.2,1803.4 2097,1803.4 2097.8,1803.4 2098.7,1803.4 2099.5,1803.4 2100.3,1803.4 2101.1,1803.3 2101.9,1803.3 2102.7,1803.3 2103.6,1803.3 2104.4,1803.3 2105.2,1803.2 2106,1803.2 2106.8,1803.2 2107.7,1803.2 2108.5,1803.2 2109.3,1803.2 2110.1,1803.1 2110.9,1803.1 2111.7,1803.1 2112.6,1803.1 2113.4,1803.1 2114.2,1803 2115,1803 2115.8,1803 2116.6,1803 2117.5,1802.9 2118.3,1802.9 2119.1,1802.9 2119.9,1802.9 2120.7,1802.9 2121.5,1802.8 2122.4,1802.8 2123.2,1802.8 2124,1802.8 2124.8,1802.7 2125.6,1802.7 2126.4,1802.7 2127.3,1802.7 2128.1,1802.6 2128.9,1802.6 2129.7,1802.6 2130.5,1802.5 2131.4,1802.5 2132.2,1802.5 2133,1802.5 2133.8,1802.4 2134.6,1802.4 2135.4,1802.4 2136.3,1802.3 2137.1,1802.3 2137.9,1802.3 2138.7,1802.2 2139.5,1802.2 2140.3,1802.2 2141.2,1802.1 2142,1802.1 2142.8,1802.1 2143.6,1802 2144.4,1802 2145.2,1802 2146.1,1801.9 2146.9,1801.9 2147.7,1801.9 2148.5,1801.8 2149.3,1801.8 2150.1,1801.7 2151,1801.7 2151.8,1801.7 2152.6,1801.6 2153.4,1801.6 2154.2,1801.5 2155.1,1801.5 2155.9,1801.4 2156.7,1801.4 2157.5,1801.4 2158.3,1801.3 2159.1,1801.3 2160,1801.2 2160.8,1801.2 2161.6,1801.1 2162.4,1801.1 2163.2,1801 2164,1801 2164.9,1800.9 2165.7,1800.9 2166.5,1800.8 2167.3,1800.7 2168.1,1800.7 2168.9,1800.6 2169.8,1800.6 2170.6,1800.5 2171.4,1800.4 2172.2,1800.4 2173,1800.3 2173.8,1800.2 2174.7,1800.2 2175.5,1800.1 2176.3,1800 2177.1,1800 2177.9,1799.9 2178.8,1799.8 2179.6,1799.8 2180.4,1799.7 2181.2,1799.6 2182,1799.5 2182.8,1799.4 2183.7,1799.4 2184.5,1799.3 2185.3,1799.2 2186.1,1799.1 2186.9,1799 2187.7,1798.9 2188.6,1798.8 2189.4,1798.7 2190.2,1798.6 2191,1798.5 2191.8,1798.4 2192.6,1798.3 2193.5,1798.2 2194.3,1798.1 2195.1,1798 2195.9,1797.9 2196.7,1797.8 2197.5,1797.6 2198.4,1797.5 2199.2,1797.4 2200,1797.3 2200.8,1797.1 2201.6,1797 2202.5,1796.9 2203.3,1796.7 2204.1,1796.6 2204.9,1796.4 2205.7,1796.3 2206.5,1796.1 2207.4,1796 2208.2,1795.8 2209,1795.6 2209.8,1795.5 2210.6,1795.3 2211.4,1795.1 2212.3,1794.9 2213.1,1794.7 2213.9,1794.5 2214.7,1794.3 2215.5,1794.1 2216.3,1793.9 2217.2,1793.7 2218,1793.5 2218.8,1793.2 2219.6,1793 2220.4,1792.8 2221.2,1792.5 2222.1,1792.3 2222.9,1792 2223.7,1791.7 2224.5,1791.4 2225.3,1791.1 2226.2,1790.8 2227,1790.5 2227.8,1790.2 2228.6,1789.9 2229.4,1789.5 2230.2,1789.2 2231.1,1788.8 2231.9,1788.4 2232.7,1788.1 2233.5,1787.7 2234.3,1787.2 2235.1,1786.8 2236,1786.4 2236.8,1785.9 2237.6,1785.4 2238.4,1784.9 2239.2,1784.4 2240,1783.9 2240.9,1783.4 2241.7,1782.8 2242.5,1782.2 2243.3,1781.6 2244.1,1780.9 2244.9,1780.3 2245.8,1779.6 2246.6,1778.9 2247.4,1778.1 2248.2,1777.3 2249,1776.5 2249.9,1775.7 2250.7,1774.8 2251.5,1773.9 2252.3,1772.9 2253.1,1771.9 2253.9,1770.9 2254.8,1769.8 2255.6,1768.6 2256.4,1767.5 2257.2,1766.2 2258,1764.9 2258.8,1763.5 2259.7,1762.1 2260.5,1760.6 2261.3,1759 2262.1,1757.3 2262.9,1755.6 2263.7,1753.7 2264.6,1751.8 2265.4,1749.7 2266.2,1747.6 2267,1745.3 2267.8,1742.9 2268.6,1740.4 2269.5,1737.8 2270.3,1735 2271.1,1732 2271.9,1728.9 2272.7,1725.6 2273.6,1722.1 2274.4,1718.4 2275.2,1714.5 2276,1710.3 2276.8,1705.9 2277.6,1701.3 2278.5,1696.4 2279.3,1691.2 2280.1,1685.8 2280.9,1680 2281.7,1673.9 2282.5,1667.5 2283.4,1660.8 2284.2,1653.7 2285,1646.4 2285.8,1638.7 2286.6,1630.7 2287.4,1622.4 2288.3,1613.9 2289.1,1605.1 2289.9,1596.3 2290.7,1587.3 2291.5,1578.4 2292.3,1569.6 2293.2,1561 2294,1552.8 2294.8,1545.1 2295.6,1538 2296.4,1531.6 2297.3,1526.3 2298.1,1521.9 2298.9,1518.7 2299.7,1516.8 2300.5,1516.1 2301.3,1516.8 2302.2,1518.7 2303,1521.9 2303.8,1526.3 2304.6,1531.6 2305.4,1538 2306.2,1545.1 2307.1,1552.8 2307.9,1561 2308.7,1569.6 2309.5,1578.4 2310.3,1587.3 2311.1,1596.3 2312,1605.1 2312.8,1613.9 2313.6,1622.4 2314.4,1630.7 2315.2,1638.7 2316,1646.4 2316.9,1653.7 2317.7,1660.8 2318.5,1667.5 2319.3,1673.9 2320.1,1680 2321,1685.8 2321.8,1691.2 2322.6,1696.4 2323.4,1701.3 2324.2,1705.9 2325,1710.3 2325.9,1714.5 2326.7,1718.4 2327.5,1722.1 2328.3,1725.6 2329.1,1728.9 2329.9,1732 2330.8,1735 2331.6,1737.8 2332.4,1740.4 2333.2,1742.9 2334,1745.3 2334.8,1747.6 2335.7,1749.7 2336.5,1751.8 2337.3,1753.7 2338.1,1755.6 2338.9,1757.3 2339.8,1759 2340.6,1760.6 2341.4,1762.1 2342.2,1763.5 2343,1764.9 2343.8,1766.2 2344.7,1767.5 2345.5,1768.6 2346.3,1769.8 2347.1,1770.9 2347.9,1771.9 2348.7,1772.9 2349.6,1773.9 2350.4,1774.8 2351.2,1775.7 2352,1776.5 2352.8,1777.3 2353.6,1778.1 2354.5,1778.9 2355.3,1779.6 2356.1,1780.3 2356.9,1780.9 2357.7,1781.6 2358.5,1782.2 2359.4,1782.8 2360.2,1783.4 2361,1783.9 2361.8,1784.4 2362.6,1784.9 2363.5,1785.4 2364.3,1785.9 2365.1,1786.4 2365.9,1786.8 2366.7,1787.2 2367.5,1787.7 2368.4,1788.1 2369.2,1788.4 2370,1788.8 2370.8,1789.2 2371.6,1789.5 2372.4,1789.9 2373.3,1790.2 2374.1,1790.5 2374.9,1790.8 2375.7,1791.1 2376.5,1791.4 2377.3,1791.7 2378.2,1792 2379,1792.3 2379.8,1792.5 2380.6,1792.8 2381.4,1793 2382.2,1793.2 2383.1,1793.5 2383.9,1793.7 2384.7,1793.9 2385.5,1794.1 2386.3,1794.3 2387.2,1794.5 2388,1794.7 2388.8,1794.9 2389.6,1795.1 2390.4,1795.3 2391.2,1795.5 2392.1,1795.6 2392.9,1795.8 2393.7,1796 2394.5,1796.1 2395.3,1796.3 2396.1,1796.4 2397,1796.6 2397.8,1796.7 2398.6,1796.9 2399.4,1797 2400.2,1797.1 2401,1797.3 2401.9,1797.4 2402.7,1797.5 2403.5,1797.6 2404.3,1797.8 2405.1,1797.9 2405.9,1798 2406.8,1798.1 2407.6,1798.2 2408.4,1798.3 2409.2,1798.4 2410,1798.5 2410.9,1798.6 2411.7,1798.7 2412.5,1798.8 2413.3,1798.9 2414.1,1799 2414.9,1799.1 2415.8,1799.2 2416.6,1799.3 2417.4,1799.4 2418.2,1799.4 2419,1799.5 2419.8,1799.6 2420.7,1799.7 2421.5,1799.8 2422.3,1799.8 2423.1,1799.9 2423.9,1800 2424.7,1800 2425.6,1800.1 2426.4,1800.2 2427.2,1800.2 2428,1800.3 2428.8,1800.4 2429.6,1800.4 2430.5,1800.5 2431.3,1800.6 2432.1,1800.6 2432.9,1800.7 2433.7,1800.7 2434.6,1800.8 2435.4,1800.9 2436.2,1800.9 2437,1801 2437.8,1801 2438.6,1801.1 2439.5,1801.1 2440.3,1801.2 2441.1,1801.2 2441.9,1801.3 2442.7,1801.3 2443.5,1801.4 2444.4,1801.4 2445.2,1801.4 2446,1801.5 2446.8,1801.5 2447.6,1801.6 2448.4,1801.6 2449.3,1801.7 2450.1,1801.7 2450.9,1801.7 2451.7,1801.8 2452.5,1801.8 2453.3,1801.9 2454.2,1801.9 2455,1801.9 2455.8,1802 2456.6,1802 2457.4,1802 2458.3,1802.1 2459.1,1802.1 2459.9,1802.1 2460.7,1802.2 2461.5,1802.2 2462.3,1802.2 2463.2,1802.3 2464,1802.3 2464.8,1802.3 2465.6,1802.4 2466.4,1802.4 2467.2,1802.4 2468.1,1802.5 2468.9,1802.5 2469.7,1802.5 2470.5,1802.5 2471.3,1802.6 2472.1,1802.6 2473,1802.6 2473.8,1802.7 2474.6,1802.7 2475.4,1802.7 2476.2,1802.7 2477,1802.8 2477.9,1802.8 2478.7,1802.8 2479.5,1802.8 2480.3,1802.9 2481.1,1802.9 2482,1802.9 2482.8,1802.9 2483.6,1802.9 2484.4,1803 2485.2,1803 2486,1803 2486.9,1803 2487.7,1803.1 2488.5,1803.1 2489.3,1803.1 2490.1,1803.1 2490.9,1803.1 2491.8,1803.2 2492.6,1803.2 2493.4,1803.2 2494.2,1803.2 2495,1803.2 2495.8,1803.2 2496.7,1803.3 2497.5,1803.3 2498.3,1803.3 2499.1,1803.3 2499.9,1803.3 2500.7,1803.4 2501.6,1803.4 2502.4,1803.4 2503.2,1803.4 2504,1803.4 2504.8,1803.4 2505.7,1803.5 2506.5,1803.5 2507.3,1803.5 2508.1,1803.5 2508.9,1803.5 2509.7,1803.5 2510.6,1803.5 2511.4,1803.6 2512.2,1803.6 2513,1803.6 2513.8,1803.6 2514.6,1803.6 2515.5,1803.6 2516.3,1803.6 2517.1,1803.7 2517.9,1803.7 2518.7,1803.7 2519.5,1803.7 2520.4,1803.7 2521.2,1803.7 2522,1803.7 2522.8,1803.8 2523.6,1803.8 2524.4,1803.8 2525.3,1803.8 2526.1,1803.8 2526.9,1803.8 2527.7,1803.8 2528.5,1803.8 2529.4,1803.8 2530.2,1803.9 2531,1803.9 2531.8,1803.9 2532.6,1803.9 2533.4,1803.9 2534.3,1803.9 2535.1,1803.9 2535.9,1803.9 2536.7,1803.9 2537.5,1804 2538.3,1804 2539.2,1804 2540,1804 2540.8,1804 2541.6,1804 2542.4,1804 2543.2,1804 2544.1,1804 2544.9,1804 2545.7,1804.1 2546.5,1804.1 2547.3,1804.1 2548.1,1804.1 2549,1804.1 2549.8,1804.1 2550.6,1804.1 2551.4,1804.1 2552.2,1804.1 2553.1,1804.1 2553.9,1804.1 2554.7,1804.2 2555.5,1804.2 2556.3,1804.2 2557.1,1804.2 2558,1804.2 2558.8,1804.2 2559.6,1804.2 2560.4,1804.2 2561.2,1804.2 2562,1804.2 2562.9,1804.2 2563.7,1804.2 2564.5,1804.2 2565.3,1804.3 2566.1,1804.3 2566.9,1804.3 2567.8,1804.3 2568.6,1804.3 2569.4,1804.3 2570.2,1804.3 2571,1804.3 2571.8,1804.3 2572.7,1804.3 2573.5,1804.3 2574.3,1804.3 2575.1,1804.3 2575.9,1804.3 2576.8,1804.4 2577.6,1804.4 2578.4,1804.4 2579.2,1804.4 2580,1804.4 2580.8,1804.4 2581.7,1804.4 2582.5,1804.4 2583.3,1804.4 2584.1,1804.4 2584.9,1804.4 2585.7,1804.4 2586.6,1804.4 2587.4,1804.4 2588.2,1804.4 2589,1804.4 2589.8,1804.5 2590.6,1804.5 2591.5,1804.5 2592.3,1804.5 2593.1,1804.5 2593.9,1804.5 2594.7,1804.5 2595.5,1804.5 2596.4,1804.5 2597.2,1804.5 2598,1804.5 2598.8,1804.5 2599.6,1804.5 2600.5,1804.5 2601.3,1804.5 2602.1,1804.5 2602.9,1804.5 2603.7,1804.5 2604.5,1804.5 2605.4,1804.6 2606.2,1804.6 2607,1804.6 2607.8,1804.6 2608.6,1804.6 2609.4,1804.6 2610.3,1804.6 2611.1,1804.6 2611.9,1804.6 2612.7,1804.6 2613.5,1804.6 2614.3,1804.6 2615.2,1804.6 2616,1804.6 2616.8,1804.6 2617.6,1804.6 2618.4,1804.6 2619.2,1804.6 2620.1,1804.6 2620.9,1804.6 2621.7,1804.6 2622.5,1804.6 2623.3,1804.6 2624.2,1804.7 2625,1804.7 2625.8,1804.7 2626.6,1804.7 2627.4,1804.7 2628.2,1804.7 2629.1,1804.7 2629.9,1804.7 2630.7,1804.7 2631.5,1804.7 2632.3,1804.7 2633.1,1804.7 2634,1804.7 2634.8,1804.7 2635.6,1804.7 2636.4,1804.7 2637.2,1804.7 2638,1804.7 2638.9,1804.7 2639.7,1804.7 2640.5,1804.7 2641.3,1804.7 2642.1,1804.7 2642.9,1804.7 2643.8,1804.7 2644.6,1804.7 2645.4,1804.8 2646.2,1804.8 2647,1804.8 2647.9,1804.8 2648.7,1804.8 2649.5,1804.8 2650.3,1804.8 2651.1,1804.8 2651.9,1804.8 2652.8,1804.8 2653.6,1804.8 2654.4,1804.8 2655.2,1804.8 2656,1804.8 2656.8,1804.8 2657.7,1804.8 2658.5,1804.8 2659.3,1804.8 2660.1,1804.8 2660.9,1804.8 2661.7,1804.8 2662.6,1804.8 2663.4,1804.8 2664.2,1804.8 2665,1804.8 2665.8,1804.8 2666.7,1804.8 2667.5,1804.8 2668.3,1804.8 2669.1,1804.8 2669.9,1804.8 2670.7,1804.8 2671.6,1804.8 2672.4,1804.8 2673.2,1804.9 2674,1804.9 2674.8,1804.9 2675.6,1804.9 2676.5,1804.9 2677.3,1804.9 2678.1,1804.9 2678.9,1804.9 2679.7,1804.9 2680.5,1804.9 2681.4,1804.9 2682.2,1804.9 2683,1804.9 2683.8,1804.9 2684.6,1804.9 2685.4,1804.9 2686.3,1804.9 2687.1,1804.9 2687.9,1804.9 2688.7,1804.9 2689.5,1804.9 2690.4,1804.9 2691.2,1804.9 2692,1804.9 2692.8,1804.9 2693.6,1804.9 2694.4,1804.9 2695.3,1804.9 2696.1,1804.9 2696.9,1804.9 2697.7,1804.9 2698.5,1804.9 2699.3,1804.9 2700.2,1804.9 2701,1804.9 2701.8,1804.9 2702.6,1804.9 2703.4,1804.9 2704.2,1804.9 2705.1,1804.9 2705.9,1804.9 2706.7,1804.9 2707.5,1805 2708.3,1805 2709.1,1805 2710,1805 2710.8,1805 2711.6,1805 2712.4,1805 2713.2,1805 2714.1,1805 2714.9,1805 2715.7,1805 2716.5,1805 2717.3,1805 2718.1,1805 2719,1805 2719.8,1805 2720.6,1805 2721.4,1805 2722.2,1805 2723,1805 2723.9,1805 2724.7,1805 2725.5,1805 2726.3,1805 2727.1,1805 2727.9,1805 2728.8,1805 2729.6,1805 2730.4,1805 2731.2,1805 2732,1805 2732.8,1805 2733.7,1805 2734.5,1805 2735.3,1805 2736.1,1805 2736.9,1805 2737.8,1805 2738.6,1805 2739.4,1805 2740.2,1805 2741,1805 2741.8,1805 2742.7,1805 2743.5,1805 2744.3,1805 2745.1,1805 2745.9,1805 2746.7,1805 2747.6,1805 2748.4,1805 2749.2,1805 2750,1805 2750.8,1805 2751.6,1805 2752.5,1805 2753.3,1805 2754.1,1805.1 2754.9,1805.1 2755.7,1805.1 2756.5,1805.1 2757.4,1805.1 2758.2,1805.1 2759,1805.1 2759.8,1805.1 2760.6,1805.1 2761.5,1805.1 2762.3,1805.1 2763.1,1805.1 2763.9,1805.1 2764.7,1805.1 2765.5,1805.1 2766.4,1805.1 2767.2,1805.1 2768,1805.1 2768.8,1805.1 2769.6,1805.1 2770.4,1805.1 2771.3,1805.1 2772.1,1805.1 2772.9,1805.1 2773.7,1805.1 2774.5,1805.1 2775.3,1805.1 2776.2,1805.1 2777,1805.1 2777.8,1805.1 2778.6,1805.1 2779.4,1805.1 2780.2,1805.1 2781.1,1805.1 2781.9,1805.1 2782.7,1805.1 2783.5,1805.1 2784.3,1805.1 2785.2,1805.1 2786,1805.1 2786.8,1805.1 2787.6,1805.1 2788.4,1805.1 2789.2,1805.1 2790.1,1805.1 2790.9,1805.1 2791.7,1805.1 2792.5,1805.1 2793.3,1805.1 2794.1,1805.1 2795,1805.1 2795.8,1805.1 2796.6,1805.1 2797.4,1805.1 2798.2,1805.1 2799,1805.1 2799.9,1805.1 2800.7,1805.1 2801.5,1805.1 2802.3,1805.1 2803.1,1805.1 2803.9,1805.1 2804.8,1805.1 2805.6,1805.1 2806.4,1805.1 2807.2,1805.1 2808,1805.1 2808.9,1805.1 2809.7,1805.1 2810.5,1805.1 2811.3,1805.1 2812.1,1805.1 2812.9,1805.1 2813.8,1805.1 2814.6,1805.1 2815.4,1805.1 2816.2,1805.1 2817,1805.1 2817.8,1805.1 2818.7,1805.1 2819.5,1805.1 2820.3,1805.1 2821.1,1805.2 2821.9,1805.2 2822.7,1805.2 2823.6,1805.2 2824.4,1805.2 2825.2,1805.2 2826,1805.2 2826.8,1805.2 2827.6,1805.2 2828.5,1805.2 2829.3,1805.2 2830.1,1805.2 2830.9,1805.2 2831.7,1805.2 2832.6,1805.2 2833.4,1805.2 2834.2,1805.2 2835,1805.2 2835.8,1805.2 2836.6,1805.2 2837.5,1805.2 2838.3,1805.2 2839.1,1805.2 2839.9,1805.2 2840.7,1805.2 2841.5,1805.2 2842.4,1805.2 2843.2,1805.2 2844,1805.2 2844.8,1805.2 2845.6,1805.2 2846.4,1805.2 2847.3,1805.2 2848.1,1805.2 2848.9,1805.2 2849.7,1805.2 2850.5,1805.2 2851.3,1805.2 2852.2,1805.2 2853,1805.2 2853.8,1805.2 2854.6,1805.2 2855.4,1805.2 2856.3,1805.2 2857.1,1805.2 2857.9,1805.2 2858.7,1805.2 2859.5,1805.2 2860.3,1805.2 2861.2,1805.2 2862,1805.2 2862.8,1805.2 2863.6,1805.2 2864.4,1805.2 2865.2,1805.2 2866.1,1805.2 2866.9,1805.2 2867.7,1805.2 2868.5,1805.2 2869.3,1805.2 2870.1,1805.2 2871,1805.2 2871.8,1805.2 2872.6,1805.2 2873.4,1805.2 2874.2,1805.2 2875,1805.2 2875.9,1805.2 2876.7,1805.2 2877.5,1805.2 2878.3,1805.2 2879.1,1805.2 2880,1805.2 2880.8,1805.2 2881.6,1805.2 2882.4,1805.2 2883.2,1805.2 2884,1805.2 2884.9,1805.2 2885.7,1805.2 2886.5,1805.2 2887.3,1805.2 2888.1,1805.2 2888.9,1805.2 2889.8,1805.2 2890.6,1805.2 2891.4,1805.2 2892.2,1805.2 2893,1805.2 2893.8,1805.2 2894.7,1805.2 2895.5,1805.2 2896.3,1805.2 2897.1,1805.2 2897.9,1805.2 2898.7,1805.2 2899.6,1805.2 2900.4,1805.2 2901.2,1805.2 2902,1805.2 2902.8,1805.2 2903.7,1805.2 2904.5,1805.2 2905.3,1805.2 2906.1,1805.2 2906.9,1805.2 2907.7,1805.2 2908.6,1805.2 2909.4,1805.2 2910.2,1805.2 2911,1805.2 2911.8,1805.2"/>
<polyline stroke="#66e8cc" stroke-width="5.0" points="1849.4,1807.1 1850.2,1807.1 1851,1807.1 1851.9,1807.1 1852.7,1807.1 1853.5,1807.1 1854.3,1807.1 1855.1,1807.1 1855.9,1807.1 1856.8,1807.1 1857.6,1807.1 1858.4,1807.1 1859.2,1807.1 1860,1807.1 1860.8,1807.1 1861.7,1807.1 1862.5,1807.1 1863.3,1807.1 1864.1,1807.1 1864.9,1807.1 1865.7,1807.1 1866.6,1807.1 1867.4,1807.1 1868.2,1807.1 1869,1807.1 1869.8,1807.1 1870.6,1807.1 1871.5,1807.1 1872.3,1807.1 1873.1,1807.1 1873.9,1807.1 1874.7,1807.1 1875.6,1807.1 1876.4,1807.1 1877.2,1807.1 1878,1807.1 1878.8,1807.1 1879.6,1807.1 1880.5,1807.1 1881.3,1807.1 1882.1,1807.1 1882.9,1807.1 1883.7,1807.1 1884.5,1807.1 1885.4,1807.1 1886.2,1807.1 1887,1807.1 1887.8,1807.1 1888.6,1807.1 1889.4,1807.1 1890.3,1807.1 1891.1,1807.1 1891.9,1807.1 1892.7,1807.1 1893.5,1807.1 1894.3,1807.1 1895.2,1807.1 1896,1807.1 1896.8,1807.1 1897.6,1807.1 1898.4,1807.1 1899.3,1807.1 1900.1,1807.1 1900.9,1807.1 1901.7,1807.1 1902.5,1807.1 1903.3,1807.1 1904.2,1807.1 1905,1807.1 1905.8,1807.1 1906.6,1807.1 1907.4,1807.1 1908.2,1807.1 1909.1,1807.1 1909.9,1807.1 1910.7,1807.1 1911.5,1807.1 1912.3,1807.1 1913.1,1807.1 1914,1807.1 1914.8,1807.1 1915.6,1807.1 1916.4,1807.1 1917.2,1807.1 1918,1807.1 1918.9,1807.1 1919.7,1807.1 1920.5,1807.1 1921.3,1807.1 1922.1,1807.1 1923,1807.1 1923.8,1807.1 1924.6,1807.1 1925.4,1807.1 1926.2,1807.1 1927,1807.1 1927.9,1807.1 1928.7,1807.1 1929.5,1807.1 1930.3,1807.1 1931.1,1807.1 1931.9,1807.1 1932.8,1807.1 1933.6,1807.1 1934.4,1807.1 1935.2,1807.1 1936,1807.1 1936.8,1807.1 1937.7,1807.1 1938.5,1807.1 1939.3,1807.1 1940.1,1807.1 1940.9,1807.1 1941.7,1807.1 1942.6,1807.1 1943.4,1807.1 1944.2,1807.1 1945,1807.1 1945.8,1807.1 1946.7,1807.1 1947.5,1807.1 1948.3,1807.1 1949.1,1807.1 1949.9,1807.1 1950.7,1807.1 1951.6,1807.1 1952.4,1807.1 1953.2,1807.1 1954,1807.1 1954.8,1807.1 1955.6,1807.1 1956.5,1807.1 1957.3,1807.1 1958.1,1807.1 1958.9,1807.1 1959.7,1807.1 1960.5,1807.1 1961.4,1807.1 1962.2,1807.1 1963,1807.1 1963.8,1807.1 1964.6,1807.1 1965.4,1807.1 1966.3,1807.1 1967.1,1807.1 1967.9,1807.1 1968.7,1807.1 1969.5,1807.1 1970.4,1807.1 1971.2,1807.1 1972,1807.1 1972.8,1807.1 1973.6,1807.1 1974.4,1807.1 1975.3,1807.1 1976.1,1807.1 1976.9,1807.1 1977.7,1807.1 1978.5,1807.1 1979.3,1807.1 1980.2,1807.1 1981,1807.1 1981.8,1807.1 1982.6,1807.1 1983.4,1807.1 1984.2,1807.1 1985.1,1807.1 1985.9,1807.1 1986.7,1807.1 1987.5,1807.1 1988.3,1807.1 1989.1,1807.1 1990,1807.1 1990.8,1807.1 1991.6,1807.1 1992.4,1807.1 1993.2,1807.1 1994.1,1807.1 1994.9,1807.1 1995.7,1807.1 1996.5,1807.1 1997.3,1807.1 1998.1,1807.1 1999,1807.1 1999.8,1807.1 2000.6,1807.1 2001.4,1807.1 2002.2,1807.1 2003,1807.1 2003.9,1807.1 2004.7,1807.1 2005.5,1807.1 2006.3,1807.1 2007.1,1807.1 2007.9,1807.1 2008.8,1807.1 2009.6,1807.1 2010.4,1807.1 2011.2,1807.1 2012,1807.1 2012.9,1807.1 2013.7,1807.1 2014.5,1807.1 2015.3,1807.1 2016.1,1807.1 2016.9,1807.1 2017.8,1807.1 2018.6,1807.1 2019.4,1807 2020.2,1807 2021,1807 2021.8,1807 2022.7,1807 2023.5,1807 2024.3,1807 2025.1,1807 2025.9,1807 2026.7,1807 2027.6,1807 2028.4,1807 2029.2,1807 2030,1807 2030.8,1807 2031.6,1807 2032.5,1807 2033.3,1807 2034.1,1807 2034.9,1807 2035.7,1807 2036.6,1807 2037.4,1807 2038.2,1807 2039,1807 2039.8,1807 2040.6,1807 2041.5,1807 2042.3,1807 2043.1,1807 2043.9,1807 2044.7,1807 2045.5,1807 2046.4,1807 2047.2,1807 2048,1807 2048.8,1807 2049.6,1807 2050.4,1807 2051.3,1807 2052.1,1807 2052.9,1807 2053.7,1807 2054.5,1807 2055.3,1807 2056.2,1807 2057,1807 2057.8,1807 2058.6,1807 2059.4,1807 2060.3,1807 2061.1,1807 2061.9,1807 2062.7,1807 2063.5,1807 2064.3,1807 2065.2,1807 2066,1807 2066.8,1807 2067.6,1807 2068.4,1807 2069.2,1807 2070.1,1807 2070.9,1807 2071.7,1807 2072.5,1807 2073.3,1807 2074.1,1807 2075,1807 2075.8,1807 2076.6,1807 2077.4,1807 2078.2,1807 2079,1807 2079.9,1807 2080.7,1807 2081.5,1807 2082.3,1807 2083.1,1807 2084,1807 2084.8,1807 2085.6,1807 2086.4,1807 2087.2,1807 2088,1807 2088.9,1807 2089.7,1807 2090.5,1807 2091.3,1807 2092.1,1807 2092.9,1807 2093.8,1807 2094.6,1807 2095.4,1807 2096.2,1807 2097,1807 2097.8,1807 2098.7,1807 2099.5,1807 2100.3,1807 2101.1,1807 2101.9,1807 2102.7,1807 2103.6,1807 2104.4,1807 2105.2,1807 2106,1807 2106.8,1807 2107.7,1807 2108.5,1807 2109.3,1807 2110.1,1807 2110.9,1807 2111.7,1807 2112.6,1807 2113.4,1807 2114.2,1807 2115,1807 2115.8,1807 2116.6,1807 2117.5,1807 2118.3,1807 2119.1,1807 2119.9,1807 2120.7,1807 2121.5,1807 2122.4,1807 2123.2,1807 2124,1807 2124.8,1807 2125.6,1807 2126.4,1807 2127.3,1807 2128.1,1807 2128.9,1807 2129.7,1807 2130.5,1807 2131.4,1807 2132.2,1807 2133,1807 2133.8,1807 2134.6,1807 2135.4,1807 2136.3,1807 2137.1,1807 2137.9,1807 2138.7,1807 2139.5,1807 2140.3,1807 2141.2,1807 2142,1807 2142.8,1807 2143.6,1807 2144.4,1807 2145.2,1807 2146.1,1807 2146.9,1807 2147.7,1807 2148.5,1807 2149.3,1807 2150.1,1807 2151,1807 2151.8,1807 2152.6,1807 2153.4,1807 2154.2,1807 2155.1,1807 2155.9,1807 2156.7,1807 2157.5,1807 2158.3,1807 2159.1,1807 2160,1807 2160.8,1807 2161.6,1807 2162.4,1807 2163.2,1807 2164,1807 2164.9,1807 2165.7,1807 2166.5,1807 2167.3,1807 2168.1,1807 2168.9,1807 2169.8,1807 2170.6,1807 2171.4,1807 2172.2,1807 2173,1807 2173.8,1807 2174.7,1807 2175.5,1807 2176.3,1807 2177.1,1807 2177.9,1807 2178.8,1807 2179.6,1807 2180.4,1807 2181.2,1807 2182,1807 2182.8,1807 2183.7,1807 2184.5,1807 2185.3,1807 2186.1,1807 2186.9,1807 2187.7,1807 2188.6,1807 2189.4,1807 2190.2,1807 2191,1807 2191.8,1807 2192.6,1807 2193.5,1807 2194.3,1807 2195.1,1807 2195.9,1807 2196.7,1807 2197.5,1807 2198.4,1807 2199.2,1807 2200,1807 2200.8,1807 2201.6,1807 2202.5,1807 2203.3,1807 2204.1,1807 2204.9,1807 2205.7,1807 2206.5,1807 2207.4,1807 2208.2,1807 2209,1807 2209.8,1807 2210.6,1807 2211.4,1807 2212.3,1807 2213.1,1807 2213.9,1807 2214.7,1807 2215.5,1807 2216.3,1807 2217.2,1807 2218,1807 2218.8,1807 2219.6,1807 2220.4,1807 2221.2,1807 2222.1,1807 2222.9,1807 2223.7,1807 2224.5,1807 2225.3,1807 2226.2,1807 2227,1807 2227.8,1807 2228.6,1807 2229.4,1807 2230.2,1807 2231.1,1807 2231.9,1807 2232.7,1807 2233.5,1807 2234.3,1807 2235.1,1807 2236,1807 2236.8,1807 2237.6,1807 2238.4,1807 2239.2,1807 2240,1807 2240.9,1807 2241.7,1807 2242.5,1807 2243.3,1807 2244.1,1807 2244.9,1807 2245.8,1807 2246.6,1807 2247.4,1807 2248.2,1807 2249,1807 2249.9,1807 2250.7,1807 2251.5,1807 2252.3,1807 2253.1,1807 2253.9,1807 2254.8,1807 2255.6,1807 2256.4,1807 2257.2,1807 2258,1807 2258.8,1807 2259.7,1807 2260.5,1807 2261.3,1807 2262.1,1807 2262.9,1807 2263.7,1807 2264.6,1807 2265.4,1807 2266.2,1807 2267,1807 2267.8,1807 2268.6,1807 2269.5,1807 2270.3,1807 2271.1,1807 2271.9,1807 2272.7,1807 2273.6,1807 2274.4,1807 2275.2,1807 2276,1807 2276.8,1807 2277.6,1807 2278.5,1807 2279.3,1807 2280.1,1807 2280.9,1807 2281.7,1807 2282.5,1807 2283.4,1807 2284.2,1807 2285,1807 2285.8,1807 2286.6,1807 2287.4,1807 2288.3,1807 2289.1,1807 2289.9,1807 2290.7,1807 2291.5,1807 2292.3,1807 2293.2,1807 2294,1807 2294.8,1807 2295.6,1807 2296.4,1807 2297.3,1807 2298.1,1807 2298.9,1807 2299.7,1807 2300.5,1807 2301.3,1807 2302.2,1807 2303,1807 2303.8,1807 2304.6,1807 2305.4,1807 2306.2,1807 2307.1,1807 2307.9,1807 2308.7,1807 2309.5,1807 2310.3,1807 2311.1,1807 2312,1807 2312.8,1807 2313.6,1807 2314.4,1807 2315.2,1807 2316,1807 2316.9,1807 2317.7,1807 2318.5,1807 2319.3,1807 2320.1,1807 2321,1807 2321.8,1807 2322.6,1807 2323.4,1807 2324.2,1807 2325,1807 2325.9,1807 2326.7,1807 2327.5,1807 2328.3,1807 2329.1,1807 2329.9,1807 2330.8,1807 2331.6,1807 2332.4,1807 2333.2,1807 2334,1807 2334.8,1807 2335.7,1807 2336.5,1807 2337.3,1807 2338.1,1807 2338.9,1807 2339.8,1807 2340.6,1807 2341.4,1807 2342.2,1807 2343,1807 2343.8,1807 2344.7,1807 2345.5,1807 2346.3,1807 2347.1,1807 2347.9,1807 2348.7,1807 2349.6,1807 2350.4,1807 2351.2,1807 2352,1807 2352.8,1807 2353.6,1807 2354.5,1807 2355.3,1807 2356.1,1807 2356.9,1807 2357.7,1807 2358.5,1807 2359.4,1807 2360.2,1807 2361,1807 2361.8,1807 2362.6,1807 2363.5,1807 2364.3,1807 2365.1,1807 2365.9,1807 2366.7,1807 2367.5,1807 2368.4,1807 2369.2,1807 2370,1807 2370.8,1807 2371.6,1807 2372.4,1807 2373.3,1807 2374.1,1807 2374.9,1807 2375.7,1807 2376.5,1807 2377.3,1807 2378.2,1807 2379,1807 2379.8,1807 2380.6,1807 2381.4,1807 2382.2,1807 2383.1,1807 2383.9,1807 2384.7,1807 2385.5,1807 2386.3,1807 2387.2,1807 2388,1807 2388.8,1807 2389.6,1807 2390.4,1807 2391.2,1807 2392.1,1807 2392.9,1807 2393.7,1807 2394.5,1807 2395.3,1807 2396.1,1807 2397,1807 2397.8,1807 2398.6,1807 2399.4,1807 2400.2,1807 2401,1807 2401.9,1807 2402.7,1807 2403.5,1807 2404.3,1807 2405.1,1807 2405.9,1807 2406.8,1807 2407.6,1807 2408.4,1807 2409.2,1807 2410,1807 2410.9,1807 2411.7,1807 2412.5,1807 2413.3,1807 2414.1,1807 2414.9,1807 2415.8,1807 2416.6,1807 2417.4,1807 2418.2,1807 2419,1807 2419.8,1807 2420.7,1807 2421.5,1807 2422.3,1807 2423.1,1807 2423.9,1807 2424.7,1807 2425.6,1807 2426.4,1806.9 2427.2,1806.9 2428,1806.9 2428.8,1806.9 2429.6,1806.9 2430.5,1806.9 2431.3,1806.9 2432.1,1806.9 2432.9,1806.9 2433.7,1806.9 2434.6,1806.9 2435.4,1806.9 2436.2,1806.9 2437,1806.9 2437.8,1806.9 2438.6,1806.9 2439.5,1806.9 2440.3,1806.9 2441.1,1806.9 2441.9,1806.9 2442.7,1806.9 2443.5,1806.9 2444.4,1806.9 2445.2,1806.9 2446,1806.9 2446.8,1806.9 2447.6,1806.9 2448.4,1806.9 2449.3,1806.9 2450.1,1806.9 2450.9,1806.9 2451.7,1806.9 2452.5,1806.9 2453.3,1806.9 2454.2,1806.9 2455,1806.9 2455.8,1806.9 2456.6,1806.9 2457.4,1806.9 2458.3,1806.9 2459.1,1806.9 2459.9,1806.9 2460.7,1806.9 2461.5,1806.9 2462.3,1806.9 2463.2,1806.9 2464,1806.9 2464.8,1806.9 2465.6,1806.9 2466.4,1806.9 2467.2,1806.9 2468.1,1806.9 2468.9,1806.9 2469.7,1806.9 2470.5,1806.9 2471.3,1806.9 2472.1,1806.9 2473,1806.9 2473.8,1806.9 2474.6,1806.9 2475.4,1806.9 2476.2,1806.9 2477,1806.9 2477.9,1806.9 2478.7,1806.9 2479.5,1806.9 2480.3,1806.9 2481.1,1806.9 2482,1806.9 2482.8,1806.9 2483.6,1806.9 2484.4,1806.9 2485.2,1806.9 2486,1806.9 2486.9,1806.9 2487.7,1806.9 2488.5,1806.9 2489.3,1806.9 2490.1,1806.9 2490.9,1806.9 2491.8,1806.9 2492.6,1806.9 2493.4,1806.9 2494.2,1806.9 2495,1806.9 2495.8,1806.9 2496.7,1806.9 2497.5,1806.9 2498.3,1806.9 2499.1,1806.9 2499.9,1806.9 2500.7,1806.9 2501.6,1806.9 2502.4,1806.9 2503.2,1806.9 2504,1806.9 2504.8,1806.9 2505.7,1806.9 2506.5,1806.9 2507.3,1806.9 2508.1,1806.9 2508.9,1806.9 2509.7,1806.9 2510.6,1806.9 2511.4,1806.9 2512.2,1806.9 2513,1806.9 2513.8,1806.9 2514.6,1806.9 2515.5,1806.9 2516.3,1806.9 2517.1,1806.9 2517.9,1806.9 2518.7,1806.9 2519.5,1806.9 2520.4,1806.9 2521.2,1806.8 2522,1806.8 2522.8,1806.8 2523.6,1806.8 2524.4,1806.8 2525.3,1806.8 2526.1,1806.8 2526.9,1806.8 2527.7,1806.8 2528.5,1806.8 2529.4,1806.8 2530.2,1806.8 2531,1806.8 2531.8,1806.8 2532.6,1806.8 2533.4,1806.8 2534.3,1806.8 2535.1,1806.8 2535.9,1806.8 2536.7,1806.8 2537.5,1806.8 2538.3,1806.8 2539.2,1806.8 2540,1806.8 2540.8,1806.8 2541.6,1806.8 2542.4,1806.8 2543.2,1806.8 2544.1,1806.8 2544.9,1806.8 2545.7,1806.8 2546.5,1806.8 2547.3,1806.8 2548.1,1806.8 2549,1806.8 2549.8,1806.8 2550.6,1806.8 2551.4,1806.8 2552.2,1806.8 2553.1,1806.8 2553.9,1806.8 2554.7,1806.8 2555.5,1806.8 2556.3,1806.8 2557.1,1806.8 2558,1806.8 2558.8,1806.8 2559.6,1806.8 2560.4,1806.8 2561.2,1806.8 2562,1806.8 2562.9,1806.8 2563.7,1806.8 2564.5,1806.8 2565.3,1806.8 2566.1,1806.8 2566.9,1806.8 2567.8,1806.8 2568.6,1806.7 2569.4,1806.7 2570.2,1806.7 2571,1806.7 2571.8,1806.7 2572.7,1806.7 2573.5,1806.7 2574.3,1806.7 2575.1,1806.7 2575.9,1806.7 2576.8,1806.7 2577.6,1806.7 2578.4,1806.7 2579.2,1806.7 2580,1806.7 2580.8,1806.7 2581.7,1806.7 2582.5,1806.7 2583.3,1806.7 2584.1,1806.7 2584.9,1806.7 2585.7,1806.7 2586.6,1806.7 2587.4,1806.7 2588.2,1806.7 2589,1806.7 2589.8,1806.7 2590.6,1806.7 2591.5,1806.7 2592.3,1806.7 2593.1,1806.7 2593.9,1806.7 2594.7,1806.7 2595.5,1806.7 2596.4,1806.7 2597.2,1806.7 2598,1806.7 2598.8,1806.6 2599.6,1806.6 2600.5,1806.6 2601.3,1806.6 2602.1,1806.6 2602.9,1806.6 2603.7,1806.6 2604.5,1806.6 2605.4,1806.6 2606.2,1806.6 2607,1806.6 2607.8,1806.6 2608.6,1806.6 2609.4,1806.6 2610.3,1806.6 2611.1,1806.6 2611.9,1806.6 2612.7,1806.6 2613.5,1806.6 2614.3,1806.6 2615.2,1806.6 2616,1806.6 2616.8,1806.6 2617.6,1806.6 2618.4,1806.6 2619.2,1806.5 2620.1,1806.5 2620.9,1806.5 2621.7,1806.5 2622.5,1806.5 2623.3,1806.5 2624.2,1806.5 2625,1806.5 2625.8,1806.5 2626.6,1806.5 2627.4,1806.5 2628.2,1806.5 2629.1,1806.5 2629.9,1806.5 2630.7,1806.5 2631.5,1806.5 2632.3,1806.5 2633.1,1806.5 2634,1806.5 2634.8,1806.5 2635.6,1806.4 2636.4,1806.4 2637.2,1806.4 2638,1806.4 2638.9,1806.4 2639.7,1806.4 2640.5,1806.4 2641.3,1806.4 2642.1,1806.4 2642.9,1806.4 2643.8,1806.4 2644.6,1806.4 2645.4,1806.4 2646.2,1806.4 2647,1806.4 2647.9,1806.3 2648.7,1806.3 2649.5,1806.3 2650.3,1806.3 2651.1,1806.3 2651.9,1806.3 2652.8,1806.3 2653.6,1806.3 2654.4,1806.3 2655.2,1806.3 2656,1806.3 2656.8,1806.3 2657.7,1806.2 2658.5,1806.2 2659.3,1806.2 2660.1,1806.2 2660.9,1806.2 2661.7,1806.2 2662.6,1806.2 2663.4,1806.2 2664.2,1806.2 2665,1806.2 2665.8,1806.2 2666.7,1806.1 2667.5,1806.1 2668.3,1806.1 2669.1,1806.1 2669.9,1806.1 2670.7,1806.1 2671.6,1806.1 2672.4,1806.1 2673.2,1806 2674,1806 2674.8,1806 2675.6,1806 2676.5,1806 2677.3,1806 2678.1,1806 2678.9,1806 2679.7,1805.9 2680.5,1805.9 2681.4,1805.9 2682.2,1805.9 2683,1805.9 2683.8,1805.9 2684.6,1805.9 2685.4,1805.8 2686.3,1805.8 2687.1,1805.8 2687.9,1805.8 2688.7,1805.8 2689.5,1805.8 2690.4,1805.7 2691.2,1805.7 2692,1805.7 2692.8,1805.7 2693.6,1805.7 2694.4,1805.6 2695.3,1805.6 2696.1,1805.6 2696.9,1805.6 2697.7,1805.6 2698.5,1805.5 2699.3,1805.5 2700.2,1805.5 2701,1805.5 2701.8,1805.4 2702.6,1805.4 2703.4,1805.4 2704.2,1805.4 2705.1,1805.3 2705.9,1805.3 2706.7,1805.3 2707.5,1805.2 2708.3,1805.2 2709.1,1805.2 2710,1805.2 2710.8,1805.1 2711.6,1805.1 2712.4,1805.1 2713.2,1805 2714.1,1805 2714.9,1805 2715.7,1804.9 2716.5,1804.9 2717.3,1804.8 2718.1,1804.8 2719,1804.8 2719.8,1804.7 2720.6,1804.7 2721.4,1804.6 2722.2,1804.6 2723,1804.5 2723.9,1804.5 2724.7,1804.4 2725.5,1804.4 2726.3,1804.3 2727.1,1804.3 2727.9,1804.2 2728.8,1804.2 2729.6,1804.1 2730.4,1804.1 2731.2,1804 2732,1803.9 2732.8,1803.9 2733.7,1803.8 2734.5,1803.7 2735.3,1803.7 2736.1,1803.6 2736.9,1803.5 2737.8,1803.4 2738.6,1803.4 2739.4,1803.3 2740.2,1803.2 2741,1803.1 2741.8,1803 2742.7,1802.9 2743.5,1802.8 2744.3,1802.7 2745.1,1802.6 2745.9,1802.5 2746.7,1802.4 2747.6,1802.2 2748.4,1802.1 2749.2,1802 2750,1801.9 2750.8,1801.7 2751.6,1801.6 2752.5,1801.4 2753.3,1801.3 2754.1,1801.1 2754.9,1800.9 2755.7,1800.8 2756.5,1800.6 2757.4,1800.4 2758.2,1800.2 2759,1800 2759.8,1799.7 2760.6,1799.5 2761.5,1799.3 2762.3,1799 2763.1,1798.8 2763.9,1798.5 2764.7,1798.2 2765.5,1797.9 2766.4,1797.6 2767.2,1797.2 2768,1796.9 2768.8,1796.5 2769.6,1796.1 2770.4,1795.7 2771.3,1795.3 2772.1,1794.8 2772.9,1794.3 2773.7,1793.8 2774.5,1793.3 2775.3,1792.7 2776.2,1792.1 2777,1791.5 2777.8,1790.8 2778.6,1790.1 2779.4,1789.3 2780.2,1788.5 2781.1,1787.6 2781.9,1786.7 2782.7,1785.7 2783.5,1784.7 2784.3,1783.6 2785.2,1782.4 2786,1781.1 2786.8,1779.7 2787.6,1778.3 2788.4,1776.7 2789.2,1775.1 2790.1,1773.3 2790.9,1771.4 2791.7,1769.4 2792.5,1767.3 2793.3,1765 2794.1,1762.6 2795,1760.1 2795.8,1757.4 2796.6,1754.6 2797.4,1751.7 2798.2,1748.7 2799,1745.5 2799.9,1742.4 2800.7,1739.2 2801.5,1736 2802.3,1732.9 2803.1,1729.9 2803.9,1727.1 2804.8,1724.6 2805.6,1722.4 2806.4,1720.6 2807.2,1719.3 2808,1718.5 2808.9,1718.2 2809.7,1718.5 2810.5,1719.3 2811.3,1720.6 2812.1,1722.4 2812.9,1724.6 2813.8,1727.1 2814.6,1729.9 2815.4,1732.9 2816.2,1736 2817,1739.2 2817.8,1742.4 2818.7,1745.5 2819.5,1748.7 2820.3,1751.7 2821.1,1754.6 2821.9,1757.4 2822.7,1760.1 2823.6,1762.6 2824.4,1765 2825.2,1767.3 2826,1769.4 2826.8,1771.4 2827.6,1773.3 2828.5,1775.1 2829.3,1776.7 2830.1,1778.3 2830.9,1779.7 2831.7,1781.1 2832.6,1782.4 2833.4,1783.6 2834.2,1784.7 2835,1785.7 2835.8,1786.7 2836.6,1787.6 2837.5,1788.5 2838.3,1789.3 2839.1,1790.1 2839.9,1790.8 2840.7,1791.5 2841.5,1792.1 2842.4,1792.7 2843.2,1793.3 2844,1793.8 2844.8,1794.3 2845.6,1794.8 2846.4,1795.3 2847.3,1795.7 2848.1,1796.1 2848.9,1796.5 2849.7,1796.9 2850.5,1797.2 2851.3,1797.6 2852.2,1797.9 2853,1798.2 2853.8,1798.5 2854.6,1798.8 2855.4,1799 2856.3,1799.3 2857.1,1799.5 2857.9,1799.7 2858.7,1800 2859.5,1800.2 2860.3,1800.4 2861.2,1800.6 2862,1800.8 2862.8,1800.9 2863.6,1801.1 2864.4,1801.3 2865.2,1801.4 2866.1,1801.6 2866.9,1801.7 2867.7,1801.9 2868.5,1802 2869.3,1802.1 2870.1,1802.2 2871,1802.4 2871.8,1802.5 2872.6,1802.6 2873.4,1802.7 2874.2,1802.8 2875,1802.9 2875.9,1803 2876.7,1803.1 2877.5,1803.2 2878.3,1803.3 2879.1,1803.4 2880,1803.4 2880.8,1803.5 2881.6,1803.6 2882.4,1803.7 2883.2,1803.7 2884,1803.8 2884.9,1803.9 2885.7,1803.9 2886.5,1804 2887.3,1804.1 2888.1,1804.1 2888.9,1804.2 2889.8,1804.2 2890.6,1804.3 2891.4,1804.3 2892.2,1804.4 2893,1804.4 2893.8,1804.5 2894.7,1804.5 2895.5,1804.6 2896.3,1804.6 2897.1,1804.7 2897.9,1804.7 2898.7,1804.8 2899.6,1804.8 2900.4,1804.8 2901.2,1804.9 2902,1804.9 2902.8,1805 2903.7,1805 2904.5,1805 2905.3,1805.1 2906.1,1805.1 2906.9,1805.1 2907.7,1805.2 2908.6,1805.2 2909.4,1805.2 2910.2,1805.2 2911,1805.3 2911.8,1805.3"/>
<polyline stroke="#ff1400" stroke-width="6.6" points="1849.4,1760 1850.2,1760.7 1851,1761.3 1851.9,1761.9 1852.7,1762.5 1853.5,1763 1854.3,1763.6 1855.1,1764.1 1855.9,1764.6 1856.8,1765.1 1857.6,1765.5 1858.4,1766 1859.2,1766.4 1860,1766.8 1860.8,1767.2 1861.7,1767.6 1862.5,1768 1863.3,1768.3 1864.1,1768.7 1864.9,1769 1865.7,1769.3 1866.6,1769.6 1867.4,1769.9 1868.2,1770.1 1869,1770.4 1869.8,1770.6 1870.6,1770.9 1871.5,1771.1 1872.3,1771.3 1873.1,1771.5 1873.9,1771.7 1874.7,1771.9 1875.6,1772 1876.4,1772.2 1877.2,1772.3 1878,1772.5 1878.8,1772.6 1879.6,1772.7 1880.5,1772.8 1881.3,1772.9 1882.1,1773 1882.9,1773.1 1883.7,1773.2 1884.5,1773.3 1885.4,1773.3 1886.2,1773.4 1887,1773.4 1887.8,1773.5 1888.6,1773.5 1889.4,1773.5 1890.3,1773.5 1891.1,1773.6 1891.9,1773.6 1892.7,1773.6 1893.5,1773.5 1894.3,1773.5 1895.2,1773.5 1896,1773.5 1896.8,1773.5 1897.6,1773.4 1898.4,1773.4 1899.3,1773.3 1900.1,1773.3 1900.9,1773.2 1901.7,1773.1 1902.5,1773 1903.3,1773 1904.2,1772.9 1905,1772.8 1905.8,1772.7 1906.6,1772.6 1907.4,1772.5 1908.2,1772.4 1909.1,1772.2 1909.9,1772.1 1910.7,1772 1911.5,1771.9 1912.3,1771.7 1913.1,1771.6 1914,1771.4 1914.8,1771.3 1915.6,1771.1 1916.4,1770.9 1917.2,1770.7 1918,1770.6 1918.9,1770.4 1919.7,1770.2 1920.5,1770 1921.3,1769.8 1922.1,1769.6 1923,1769.3 1923.8,1769.1 1924.6,1768.9 1925.4,1768.7 1926.2,1768.4 1927,1768.2 1927.9,1767.9 1928.7,1767.7 1929.5,1767.4 1930.3,1767.1 1931.1,1766.8 1931.9,1766.6 1932.8,1766.3 1933.6,1766 1934.4,1765.7 1935.2,1765.3 1936,1765 1936.8,1764.7 1937.7,1764.3 1938.5,1764 1939.3,1763.7 1940.1,1763.3 1940.9,1762.9 1941.7,1762.5 1942.6,1762.2 1943.4,1761.8 1944.2,1761.4 1945,1761 1945.8,1760.5 1946.7,1760.1 1947.5,1759.7 1948.3,1759.2 1949.1,1758.8 1949.9,1758.3 1950.7,1757.8 1951.6,1757.3 1952.4,1756.8 1953.2,1756.3 1954,1755.8 1954.8,1755.3 1955.6,1754.7 1956.5,1754.2 1957.3,1753.6 1958.1,1753 1958.9,1752.4 1959.7,1751.8 1960.5,1751.2 1961.4,1750.6 1962.2,1750 1963,1749.3 1963.8,1748.6 1964.6,1747.9 1965.4,1747.2 1966.3,1746.5 1967.1,1745.8 1967.9,1745.1 1968.7,1744.3 1969.5,1743.5 1970.4,1742.7 1971.2,1741.9 1972,1741.1 1972.8,1740.3 1973.6,1739.4 1974.4,1738.5 1975.3,1737.6 1976.1,1736.7 1976.9,1735.8 1977.7,1734.8 1978.5,1733.9 1979.3,1732.9 1980.2,1731.8 1981,1730.8 1981.8,1729.8 1982.6,1728.7 1983.4,1727.6 1984.2,1726.5 1985.1,1725.3 1985.9,1724.2 1986.7,1723 1987.5,1721.8 1988.3,1720.6 1989.1,1719.4 1990,1718.1 1990.8,1716.8 1991.6,1715.5 1992.4,1714.2 1993.2,1712.8 1994.1,1711.4 1994.9,1710.1 1995.7,1708.6 1996.5,1707.2 1997.3,1705.6 1998.1,1704.1 1999,1702.5 1999.8,1700.9 2000.6,1699.2 2001.4,1697.6 2002.2,1695.9 2003,1694.3 2003.9,1692.6 2004.7,1690.9 2005.5,1689.2 2006.3,1687.5 2007.1,1685.8 2007.9,1684 2008.8,1682.3 2009.6,1680.6 2010.4,1678.9 2011.2,1677.2 2012,1675.5 2012.9,1673.8 2013.7,1672.1 2014.5,1670.5 2015.3,1668.9 2016.1,1667.3 2016.9,1665.7 2017.8,1664.1 2018.6,1662.6 2019.4,1661.1 2020.2,1659.7 2021,1658.3 2021.8,1656.9 2022.7,1655.6 2023.5,1654.4 2024.3,1653.2 2025.1,1652 2025.9,1651 2026.7,1649.9 2027.6,1649 2028.4,1648.1 2029.2,1647.3 2030,1646.6 2030.8,1646 2031.6,1645.4 2032.5,1644.9 2033.3,1644.5 2034.1,1644.1 2034.9,1643.9 2035.7,1643.7 2036.6,1643.5 2037.4,1643.3 2038.2,1643.3 2039,1643.3 2039.8,1643.4 2040.6,1643.5 2041.5,1643.7 2042.3,1644 2043.1,1644.4 2043.9,1644.8 2044.7,1645.3 2045.5,1645.8 2046.4,1646.4 2047.2,1647 2048,1647.7 2048.8,1648.4 2049.6,1649.2 2050.4,1650 2051.3,1650.8 2052.1,1651.7 2052.9,1652.5 2053.7,1653.4 2054.5,1654.4 2055.3,1655.3 2056.2,1656.2 2057,1657.2 2057.8,1658.2 2058.6,1659.1 2059.4,1660.1 2060.3,1661.1 2061.1,1662 2061.9,1663 2062.7,1663.9 2063.5,1664.9 2064.3,1665.8 2065.2,1666.7 2066,1667.6 2066.8,1668.5 2067.6,1669.4 2068.4,1670.2 2069.2,1671 2070.1,1671.8 2070.9,1672.8 2071.7,1673.6 2072.5,1674.5 2073.3,1675.4 2074.1,1676.2 2075,1677 2075.8,1677.7 2076.6,1678.5 2077.4,1679.2 2078.2,1679.9 2079,1680.6 2079.9,1681.2 2080.7,1681.8 2081.5,1682.4 2082.3,1682.9 2083.1,1683.5 2084,1684 2084.8,1684.5 2085.6,1684.9 2086.4,1685.3 2087.2,1685.7 2088,1686.1 2088.9,1686.4 2089.7,1686.7 2090.5,1687 2091.3,1687.3 2092.1,1687.5 2092.9,1687.7 2093.8,1687.9 2094.6,1688 2095.4,1688.2 2096.2,1688.3 2097,1688.4 2097.8,1688.4 2098.7,1688.4 2099.5,1688.4 2100.3,1688.4 2101.1,1688.3 2101.9,1688.3 2102.7,1688.4 2103.6,1688.5 2104.4,1688.7 2105.2,1688.7 2106,1688.8 2106.8,1688.8 2107.7,1688.8 2108.5,1688.8 2109.3,1688.8 2110.1,1688.7 2110.9,1688.6 2111.7,1688.5 2112.6,1688.3 2113.4,1688.1 2114.2,1687.9 2115,1687.7 2115.8,1687.5 2116.6,1687.2 2117.5,1686.9 2118.3,1686.6 2119.1,1686.2 2119.9,1685.8 2120.7,1685.4 2121.5,1685 2122.4,1684.5 2123.2,1684 2124,1683.5 2124.8,1682.9 2125.6,1682.3 2126.4,1681.7 2127.3,1681.1 2128.1,1680.4 2128.9,1679.7 2129.7,1679 2130.5,1678.2 2131.4,1677.5 2132.2,1676.6 2133,1675.8 2133.8,1674.9 2134.6,1674 2135.4,1673 2136.3,1672.2 2137.1,1671.2 2137.9,1670.3 2138.7,1669.3 2139.5,1668.3 2140.3,1667.2 2141.2,1666.1 2142,1665 2142.8,1663.9 2143.6,1662.7 2144.4,1661.4 2145.2,1660.1 2146.1,1658.8 2146.9,1657.5 2147.7,1656.1 2148.5,1654.6 2149.3,1653.2 2150.1,1651.7 2151,1650.1 2151.8,1648.5 2152.6,1646.9 2153.4,1645.2 2154.2,1643.5 2155.1,1641.7 2155.9,1639.9 2156.7,1638.1 2157.5,1636.2 2158.3,1634.2 2159.1,1632.3 2160,1630.3 2160.8,1628.2 2161.6,1626.1 2162.4,1624 2163.2,1621.8 2164,1619.6 2164.9,1617.3 2165.7,1615 2166.5,1612.7 2167.3,1610.3 2168.1,1607.9 2168.9,1605.5 2169.8,1603 2170.6,1600.5 2171.4,1598 2172.2,1595.4 2173,1592.8 2173.8,1590.2 2174.7,1587.6 2175.5,1585 2176.3,1582.3 2177.1,1579.5 2177.9,1576.7 2178.8,1573.8 2179.6,1571 2180.4,1568.1 2181.2,1565.2 2182,1562.4 2182.8,1559.6 2183.7,1556.7 2184.5,1553.9 2185.3,1551.1 2186.1,1548.4 2186.9,1545.6 2187.7,1542.9 2188.6,1540.2 2189.4,1537.6 2190.2,1535 2191,1532.4 2191.8,1529.9 2192.6,1527.4 2193.5,1524.9 2194.3,1522.6 2195.1,1520.2 2195.9,1517.9 2196.7,1515 2197.5,1512.2 2198.4,1509.4 2199.2,1506.6 2200,1503.9 2200.8,1501.2 2201.6,1498.6 2202.5,1496 2203.3,1493.5 2204.1,1491 2204.9,1487 2205.7,1483.1 2206.5,1479.2 2207.4,1475.3 2208.2,1471.4 2209,1467.6 2209.8,1463.7 2210.6,1459.7 2211.4,1455.8 2212.3,1451.8 2213.1,1447 2213.9,1442.1 2214.7,1437.1 2215.5,1432.1 2216.3,1427 2217.2,1421.8 2218,1416.5 2218.8,1411 2219.6,1405.5 2220.4,1399.8 2221.2,1397.2 2222.1,1394.4 2222.9,1391.4 2223.7,1388.2 2224.5,1384.9 2225.3,1381.3 2226.2,1377.5 2227,1373.5 2227.8,1369.2 2228.6,1364.7 2229.4,1359.9 2230.2,1354.8 2231.1,1349.4 2231.9,1343.8 2232.7,1337.8 2233.5,1331.5 2234.3,1324.9 2235.1,1318 2236,1310.7 2236.8,1303.4 2237.6,1295.9 2238.4,1288.2 2239.2,1280.1 2240,1271.7 2240.9,1263 2241.7,1254.1 2242.5,1244.8 2243.3,1235.4 2244.1,1225.7 2244.9,1215.9 2245.8,1206.6 2246.6,1197.1 2247.4,1187.7 2248.2,1178.3 2249,1169 2249.9,1160 2250.7,1151.2 2251.5,1142.8 2252.3,1134.8 2253.1,1127.4 2253.9,1119.6 2254.8,1112.6 2255.6,1106.3 2256.4,1100.9 2257.2,1096.4 2258,1092.9 2258.8,1090.5 2259.7,1089.1 2260.5,1088.8 2261.3,1089.6 2262.1,1091.3 2262.9,1094.2 2263.7,1098 2264.6,1102.8 2265.4,1108.5 2266.2,1115 2267,1122.2 2267.8,1130 2268.6,1135.8 2269.5,1142 2270.3,1148.5 2271.1,1155.3 2271.9,1162.3 2272.7,1169.3 2273.6,1176.3 2274.4,1183.2 2275.2,1189.9 2276,1196.3 2276.8,1203.1 2277.6,1209.4 2278.5,1215.4 2279.3,1220.8 2280.1,1225.8 2280.9,1230.2 2281.7,1234 2282.5,1237.2 2283.4,1239.8 2284.2,1241.8 2285,1243.1 2285.8,1243.8 2286.6,1243.9 2287.4,1245.1 2288.3,1245.7 2289.1,1245.9 2289.9,1245.5 2290.7,1244.9 2291.5,1243.9 2292.3,1242.8 2293.2,1241.6 2294,1240.6 2294.8,1243.4 2295.6,1246.7 2296.4,1250.5 2297.3,1254.9 2298.1,1260.3 2298.9,1266.5 2299.7,1273.8 2300.5,1282.2 2301.3,1291.7 2302.2,1302.3 2303,1314 2303.8,1323.6 2304.6,1334.1 2305.4,1345.3 2306.2,1357.2 2307.1,1369.6 2307.9,1382.3 2308.7,1395.3 2309.5,1408.4 2310.3,1423.2 2311.1,1438 2312,1452.6 2312.8,1466.9 2313.6,1481 2314.4,1494.6 2315.2,1508 2316,1520.9 2316.9,1533.4 2317.7,1542.7 2318.5,1551.6 2319.3,1560.2 2320.1,1568.3 2321,1576 2321.8,1583.4 2322.6,1590.4 2323.4,1597.1 2324.2,1603.4 2325,1609.4 2325.9,1615.1 2326.7,1620.6 2327.5,1625.8 2328.3,1630.7 2329.1,1635.4 2329.9,1639.9 2330.8,1644.1 2331.6,1648.2 2332.4,1652.4 2333.2,1656.4 2334,1660.3 2334.8,1664 2335.7,1667.5 2336.5,1671 2337.3,1674.2 2338.1,1677.4 2338.9,1680.4 2339.8,1683.3 2340.6,1686.1 2341.4,1688.8 2342.2,1691.4 2343,1693.9 2343.8,1696.3 2344.7,1698.6 2345.5,1700.8 2346.3,1703 2347.1,1705.1 2347.9,1707.1 2348.7,1709.1 2349.6,1710.9 2350.4,1712.8 2351.2,1714.5 2352,1716.3 2352.8,1717.9 2353.6,1719.5 2354.5,1721.1 2355.3,1722.6 2356.1,1724.1 2356.9,1725.5 2357.7,1726.9 2358.5,1728.3 2359.4,1729.6 2360.2,1730.8 2361,1732.1 2361.8,1733.3 2362.6,1734.5 2363.5,1735.6 2364.3,1736.7 2365.1,1737.8 2365.9,1738.9 2366.7,1739.9 2367.5,1740.9 2368.4,1741.9 2369.2,1742.8 2370,1743.8 2370.8,1744.7 2371.6,1745.5 2372.4,1746.4 2373.3,1747.3 2374.1,1748.1 2374.9,1748.9 2375.7,1749.7 2376.5,1750.5 2377.3,1751.2 2378.2,1752 2379,1752.7 2379.8,1753.4 2380.6,1754.1 2381.4,1754.7 2382.2,1755.4 2383.1,1756.1 2383.9,1756.7 2384.7,1757.3 2385.5,1757.9 2386.3,1758.5 2387.2,1759.1 2388,1759.7 2388.8,1760.2 2389.6,1760.8 2390.4,1761.3 2391.2,1761.9 2392.1,1762.4 2392.9,1762.9 2393.7,1763.4 2394.5,1763.9 2395.3,1764.4 2396.1,1764.9 2397,1765.3 2397.8,1765.8 2398.6,1766.2 2399.4,1766.7 2400.2,1767.1 2401,1767.5 2401.9,1767.9 2402.7,1768.3 2403.5,1768.8 2404.3,1769.2 2405.1,1769.5 2405.9,1769.9 2406.8,1770.3 2407.6,1770.7 2408.4,1771 2409.2,1771.4 2410,1771.7 2410.9,1772.1 2411.7,1772.4 2412.5,1772.8 2413.3,1773.1 2414.1,1773.4 2414.9,1773.7 2415.8,1774.1 2416.6,1774.4 2417.4,1774.7 2418.2,1775 2419,1775.3 2419.8,1775.6 2420.7,1775.9 2421.5,1776.1 2422.3,1776.4 2423.1,1776.7 2423.9,1777 2424.7,1777.2 2425.6,1777.5 2426.4,1777.8 2427.2,1778 2428,1778.3 2428.8,1778.5 2429.6,1778.8 2430.5,1779 2431.3,1779.2 2432.1,1779.5 2432.9,1779.7 2433.7,1779.9 2434.6,1780.2 2435.4,1780.4 2436.2,1780.6 2437,1780.8 2437.8,1781 2438.6,1781.2 2439.5,1781.5 2440.3,1781.7 2441.1,1781.9 2441.9,1782.1 2442.7,1782.3 2443.5,1782.4 2444.4,1782.6 2445.2,1782.8 2446,1783 2446.8,1783.2 2447.6,1783.4 2448.4,1783.6 2449.3,1783.7 2450.1,1783.9 2450.9,1784.1 2451.7,1784.3 2452.5,1784.4 2453.3,1784.6 2454.2,1784.8 2455,1784.9 2455.8,1785.1 2456.6,1785.3 2457.4,1785.4 2458.3,1785.6 2459.1,1785.7 2459.9,1785.9 2460.7,1786 2461.5,1786.2 2462.3,1786.3 2463.2,1786.5 2464,1786.6 2464.8,1786.7 2465.6,1786.9 2466.4,1787 2467.2,1787.2 2468.1,1787.3 2468.9,1787.4 2469.7,1787.6 2470.5,1787.7 2471.3,1787.8 2472.1,1788 2473,1788.1 2473.8,1788.2 2474.6,1788.3 2475.4,1788.4 2476.2,1788.6 2477,1788.7 2477.9,1788.8 2478.7,1788.9 2479.5,1789 2480.3,1789.2 2481.1,1789.3 2482,1789.4 2482.8,1789.5 2483.6,1789.6 2484.4,1789.7 2485.2,1789.8 2486,1789.9 2486.9,1790 2487.7,1790.1 2488.5,1790.2 2489.3,1790.3 2490.1,1790.4 2490.9,1790.5 2491.8,1790.6 2492.6,1790.7 2493.4,1790.8 2494.2,1790.9 2495,1791 2495.8,1791.1 2496.7,1791.2 2497.5,1791.3 2498.3,1791.4 2499.1,1791.5 2499.9,1791.6 2500.7,1791.7 2501.6,1791.8 2502.4,1791.8 2503.2,1791.9 2504,1792 2504.8,1792.1 2505.7,1792.2 2506.5,1792.3 2507.3,1792.4 2508.1,1792.4 2508.9,1792.5 2509.7,1792.6 2510.6,1792.7 2511.4,1792.8 2512.2,1792.8 2513,1792.9 2513.8,1793 2514.6,1793.1 2515.5,1793.1 2516.3,1793.2 2517.1,1793.3 2517.9,1793.4 2518.7,1793.4 2519.5,1793.5 2520.4,1793.6 2521.2,1793.6 2522,1793.7 2522.8,1793.8 2523.6,1793.8 2524.4,1793.9 2525.3,1794 2526.1,1794 2526.9,1794.1 2527.7,1794.2 2528.5,1794.2 2529.4,1794.3 2530.2,1794.4 2531,1794.4 2531.8,1794.5 2532.6,1794.6 2533.4,1794.6 2534.3,1794.7 2535.1,1794.7 2535.9,1794.8 2536.7,1794.9 2537.5,1794.9 2538.3,1795 2539.2,1795 2540,1795.1 2540.8,1795.1 2541.6,1795.2 2542.4,1795.3 2543.2,1795.3 2544.1,1795.4 2544.9,1795.4 2545.7,1795.5 2546.5,1795.5 2547.3,1795.6 2548.1,1795.6 2549,1795.7 2549.8,1795.7 2550.6,1795.8 2551.4,1795.8 2552.2,1795.9 2553.1,1795.9 2553.9,1796 2554.7,1796 2555.5,1796.1 2556.3,1796.1 2557.1,1796.2 2558,1796.2 2558.8,1796.3 2559.6,1796.3 2560.4,1796.4 2561.2,1796.4 2562,1796.5 2562.9,1796.5 2563.7,1796.6 2564.5,1796.6 2565.3,1796.6 2566.1,1796.7 2566.9,1796.7 2567.8,1796.8 2568.6,1796.8 2569.4,1796.9 2570.2,1796.9 2571,1796.9 2571.8,1797 2572.7,1797 2573.5,1797.1 2574.3,1797.1 2575.1,1797.1 2575.9,1797.2 2576.8,1797.2 2577.6,1797.3 2578.4,1797.3 2579.2,1797.3 2580,1797.4 2580.8,1797.4 2581.7,1797.4 2582.5,1797.5 2583.3,1797.5 2584.1,1797.6 2584.9,1797.6 2585.7,1797.6 2586.6,1797.7 2587.4,1797.7 2588.2,1797.7 2589,1797.8 2589.8,1797.8 2590.6,1797.8 2591.5,1797.9 2592.3,1797.9 2593.1,1797.9 2593.9,1798 2594.7,1798 2595.5,1798 2596.4,1798.1 2597.2,1798.1 2598,1798.1 2598.8,1798.2 2599.6,1798.2 2600.5,1798.2 2601.3,1798.3 2602.1,1798.3 2602.9,1798.3 2603.7,1798.3 2604.5,1798.4 2605.4,1798.4 2606.2,1798.4 2607,1798.5 2607.8,1798.5 2608.6,1798.5 2609.4,1798.5 2610.3,1798.6 2611.1,1798.6 2611.9,1798.6 2612.7,1798.6 2613.5,1798.7 2614.3,1798.7 2615.2,1798.7 2616,1798.8 2616.8,1798.8 2617.6,1798.8 2618.4,1798.8 2619.2,1798.9 2620.1,1798.9 2620.9,1798.9 2621.7,1798.9 2622.5,1798.9 2623.3,1799 2624.2,1799 2625,1799 2625.8,1799 2626.6,1799.1 2627.4,1799.1 2628.2,1799.1 2629.1,1799.1 2629.9,1799.2 2630.7,1799.2 2631.5,1799.2 2632.3,1799.2 2633.1,1799.2 2634,1799.3 2634.8,1799.3 2635.6,1799.3 2636.4,1799.3 2637.2,1799.3 2638,1799.4 2638.9,1799.4 2639.7,1799.4 2640.5,1799.4 2641.3,1799.4 2642.1,1799.4 2642.9,1799.5 2643.8,1799.5 2644.6,1799.5 2645.4,1799.5 2646.2,1799.5 2647,1799.5 2647.9,1799.6 2648.7,1799.6 2649.5,1799.6 2650.3,1799.6 2651.1,1799.6 2651.9,1799.6 2652.8,1799.7 2653.6,1799.7 2654.4,1799.7 2655.2,1799.7 2656,1799.7 2656.8,1799.7 2657.7,1799.7 2658.5,1799.8 2659.3,1799.8 2660.1,1799.8 2660.9,1799.8 2661.7,1799.8 2662.6,1799.8 2663.4,1799.8 2664.2,1799.8 2665,1799.8 2665.8,1799.9 2666.7,1799.9 2667.5,1799.9 2668.3,1799.9 2669.1,1799.9 2669.9,1799.9 2670.7,1799.9 2671.6,1799.9 2672.4,1799.9 2673.2,1799.9 2674,1799.9 2674.8,1799.9 2675.6,1800 2676.5,1800 2677.3,1800 2678.1,1800 2678.9,1800 2679.7,1800 2680.5,1800 2681.4,1800 2682.2,1800 2683,1800 2683.8,1800 2684.6,1800 2685.4,1800 2686.3,1800 2687.1,1800 2687.9,1800 2688.7,1800 2689.5,1800 2690.4,1800 2691.2,1800 2692,1800 2692.8,1800 2693.6,1800 2694.4,1800 2695.3,1800 2696.1,1800 2696.9,1800 2697.7,1800 2698.5,1800 2699.3,1800 2700.2,1800 2701,1800 2701.8,1800 2702.6,1799.9 2703.4,1799.9 2704.2,1799.9 2705.1,1799.9 2705.9,1799.9 2706.7,1799.9 2707.5,1799.9 2708.3,1799.9 2709.1,1799.8 2710,1799.8 2710.8,1799.8 2711.6,1799.8 2712.4,1799.8 2713.2,1799.8 2714.1,1799.7 2714.9,1799.7 2715.7,1799.7 2716.5,1799.7 2717.3,1799.7 2718.1,1799.6 2719,1799.6 2719.8,1799.6 2720.6,1799.5 2721.4,1799.5 2722.2,1799.5 2723,1799.5 2723.9,1799.4 2724.7,1799.4 2725.5,1799.4 2726.3,1799.3 2727.1,1799.3 2727.9,1799.2 2728.8,1799.2 2729.6,1799.1 2730.4,1799.1 2731.2,1799.1 2732,1799 2732.8,1799 2733.7,1798.9 2734.5,1798.8 2735.3,1798.8 2736.1,1798.7 2736.9,1798.7 2737.8,1798.6 2738.6,1798.5 2739.4,1798.5 2740.2,1798.4 2741,1798.3 2741.8,1798.2 2742.7,1798.1 2743.5,1798.1 2744.3,1798 2745.1,1797.9 2745.9,1797.8 2746.7,1797.7 2747.6,1797.6 2748.4,1797.4 2749.2,1797.3 2750,1797.2 2750.8,1797.1 2751.6,1796.9 2752.5,1796.8 2753.3,1796.7 2754.1,1796.5 2754.9,1796.4 2755.7,1796.2 2756.5,1796 2757.4,1795.8 2758.2,1795.6 2759,1795.4 2759.8,1795.2 2760.6,1795 2761.5,1794.8 2762.3,1794.6 2763.1,1794.3 2763.9,1794 2764.7,1793.8 2765.5,1793.5 2766.4,1793.2 2767.2,1792.8 2768,1792.5 2768.8,1792.1 2769.6,1791.8 2770.4,1791.4 2771.3,1790.9 2772.1,1790.5 2772.9,1790 2773.7,1789.5 2774.5,1789 2775.3,1788.4 2776.2,1787.8 2777,1787.2 2777.8,1786.5 2778.6,1785.8 2779.4,1785.1 2780.2,1784.3 2781.1,1783.4 2781.9,1782.5 2782.7,1781.5 2783.5,1780.5 2784.3,1779.4 2785.2,1778.2 2786,1776.9 2786.8,1775.6 2787.6,1774.1 2788.4,1772.6 2789.2,1771 2790.1,1769.2 2790.9,1767.3 2791.7,1765.3 2792.5,1763.2 2793.3,1761 2794.1,1758.6 2795,1756.1 2795.8,1753.4 2796.6,1750.6 2797.4,1747.7 2798.2,1744.7 2799,1741.5 2799.9,1738.4 2800.7,1735.2 2801.5,1732 2802.3,1728.9 2803.1,1725.9 2803.9,1723.1 2804.8,1720.6 2805.6,1718.5 2806.4,1716.7 2807.2,1715.4 2808,1714.6 2808.9,1714.3 2809.7,1714.6 2810.5,1715.4 2811.3,1716.7 2812.1,1718.5 2812.9,1720.7 2813.8,1723.2 2814.6,1726 2815.4,1729 2816.2,1732.2 2817,1735.4 2817.8,1738.6 2818.7,1741.8 2819.5,1744.9 2820.3,1747.9 2821.1,1750.9 2821.9,1753.7 2822.7,1756.4 2823.6,1758.9 2824.4,1761.3 2825.2,1763.6 2826,1765.7 2826.8,1767.7 2827.6,1769.6 2828.5,1771.4 2829.3,1773.1 2830.1,1774.6 2830.9,1776.1 2831.7,1777.4 2832.6,1778.7 2833.4,1779.9 2834.2,1781 2835,1782.1 2835.8,1783.1 2836.6,1784 2837.5,1784.9 2838.3,1785.7 2839.1,1786.5 2839.9,1787.2 2840.7,1787.9 2841.5,1788.5 2842.4,1789.2 2843.2,1789.7 2844,1790.3 2844.8,1790.8 2845.6,1791.3 2846.4,1791.8 2847.3,1792.2 2848.1,1792.6 2848.9,1793 2849.7,1793.4 2850.5,1793.8 2851.3,1794.1 2852.2,1794.4 2853,1794.7 2853.8,1795 2854.6,1795.3 2855.4,1795.6 2856.3,1795.8 2857.1,1796.1 2857.9,1796.3 2858.7,1796.5 2859.5,1796.8 2860.3,1797 2861.2,1797.2 2862,1797.4 2862.8,1797.5 2863.6,1797.7 2864.4,1797.9 2865.2,1798.1 2866.1,1798.2 2866.9,1798.4 2867.7,1798.5 2868.5,1798.7 2869.3,1798.8 2870.1,1798.9 2871,1799 2871.8,1799.2 2872.6,1799.3 2873.4,1799.4 2874.2,1799.5 2875,1799.6 2875.9,1799.7 2876.7,1799.8 2877.5,1799.9 2878.3,1800 2879.1,1800.1 2880,1800.2 2880.8,1800.3 2881.6,1800.4 2882.4,1800.4 2883.2,1800.5 2884,1800.6 2884.9,1800.7 2885.7,1800.7 2886.5,1800.8 2887.3,1800.9 2888.1,1800.9 2888.9,1801 2889.8,1801.1 2890.6,1801.1 2891.4,1801.2 2892.2,1801.2 2893,1801.3 2893.8,1801.4 2894.7,1801.4 2895.5,1801.5 2896.3,1801.5 2897.1,1801.6 2897.9,1801.6 2898.7,1801.7 2899.6,1801.7 2900.4,1801.8 2901.2,1801.8 2902,1801.8 2902.8,1801.9 2903.7,1801.9 2904.5,1802 2905.3,1802 2906.1,1802 2906.9,1802.1 2907.7,1802.1 2908.6,1802.2 2909.4,1802.2 2910.2,1802.2 2911,1802.3 2911.8,1802.3"/>
</g>
<rect x="1849.4" y="958.6" width="1062.9" height="888.8" fill="none" stroke="#000" stroke-width="6"/>
<g stroke="#000" stroke-width="6">
<line x1="1849.4" y1="1847.4" x2="1849.4" y2="1866.9"/>
<line x1="1972" y1="1847.4" x2="1972" y2="1860.9"/>
<line x1="2094.6" y1="1847.4" x2="2094.6" y2="1866.9"/>
<line x1="2217.2" y1="1847.4" x2="2217.2" y2="1860.9"/>
<line x1="2339.8" y1="1847.4" x2="2339.8" y2="1866.9"/>
<line x1="2462.3" y1="1847.4" x2="2462.3" y2="1860.9"/>
<line x1="2584.9" y1="1847.4" x2="2584.9" y2="1866.9"/>
<line x1="2707.5" y1="1847.4" x2="2707.5" y2="1860.9"/>
<line x1="2830.1" y1="1847.4" x2="2830.1" y2="1866.9"/>
<line x1="1849.4" y1="1847.4" x2="1829.9" y2="1847.4"/>
<line x1="1849.4" y1="1736.3" x2="1835.9" y2="1736.3"/>
<line x1="1849.4" y1="1625.2" x2="1829.9" y2="1625.2"/>
<line x1="1849.4" y1="1514.1" x2="1835.9" y2="1514.1"/>
<line x1="1849.4" y1="1403" x2="1829.9" y2="1403"/>
<line x1="1849.4" y1="1291.9" x2="1835.9" y2="1291.9"/>
<line x1="1849.4" y1="1180.8" x2="1829.9" y2="1180.8"/>
<line x1="1849.4" y1="1069.7" x2="1835.9" y2="1069.7"/>
<line x1="1849.4" y1="958.6" x2="1829.9" y2="958.6"/>
</g>
<g font-family='"Liberation Sans", sans-serif' font-weight="700" font-size="55" fill="#000">
<text x="1849.4" y="1927.5" text-anchor="middle">300</text>
<text x="2094.6" y="1927.5" text-anchor="middle">330</text>
<text x="2339.8" y="1927.5" text-anchor="middle">360</text>
<text x="2584.9" y="1927.5" text-anchor="middle">390</text>
<text x="2830.1" y="1927.5" text-anchor="middle">420</text>
<text x="1815.4" y="1863.9" text-anchor="end">0</text>
<text x="1815.4" y="1641.7" text-anchor="end">2750</text>
<text x="1815.4" y="1419.5" text-anchor="end">5500</text>
<text x="1815.4" y="1197.3" text-anchor="end">8250</text>
<text x="1815.4" y="975.1" text-anchor="end">11000</text>
</g>
<g font-family='"Liberation Sans", sans-serif' font-weight="700" font-size="70" fill="#000">
<text x="2372" y="2034" text-anchor="middle">Raman shift (cm<tspan font-size="46" dy="-30">-1</tspan><tspan dy="30">)</tspan></text>
<text transform="translate(1623,1403) rotate(-90)" text-anchor="middle">Intensity (a.u.)</text>
</g>
<g font-family='"Liberation Sans", sans-serif' font-weight="700" fill="#ff2fd6">
<text transform="translate(755,1039) scale(1.04,1)" font-size="76">2LA</text>
<text transform="translate(434,1344.5) scale(1.04,1)" font-size="75">E<tspan font-size="47" dy="21">2g</tspan><tspan dy="-21">(M)</tspan></text>
<text transform="translate(954,1368) scale(1.04,1)" font-size="75">E<tspan font-size="47" dy="21">2g</tspan><tspan dy="-21"> (</tspan><tspan font-family='"Liberation Serif", serif' font-size="78">Γ</tspan>)</text>
<text transform="translate(1248,1675) scale(1.04,1)" font-size="78">A<tspan font-size="49" dy="20">1g</tspan></text>
<text transform="translate(380,1697) rotate(-24)" font-size="52.5">2LA-E<tspan font-size="34.1" dy="14">2g</tspan><tspan dy="-14">(M)</tspan></text>
</g>
<line x1="581.9" y1="1378.6" x2="677" y2="1588.7" stroke="#0a0a0a" stroke-width="6.3"/>
<polygon points="689.8,1616.9 661.2,1593.6 691.2,1580" fill="#0a0a0a"/>
<line x1="988.4" y1="1397.9" x2="847.6" y2="1525.9" stroke="#0a0a0a" stroke-width="6.3"/>
<polygon points="824.7,1546.8 838,1512.4 860.2,1536.8" fill="#0a0a0a"/>
<circle cx="1141" cy="998.5" r="7.6" fill="none" stroke="#000" stroke-width="2.6"/>
<line x1="1076" y1="1084" x2="1207" y2="1084" stroke="#ff1400" stroke-width="6.6" stroke-linecap="round"/>
<g font-family='"Liberation Sans", sans-serif' font-weight="700" font-size="56" fill="#000">
<text transform="translate(1224,1018) scale(1.036,1)">WS<tspan font-size="36" dy="17">2</tspan></text>
<text transform="translate(1223,1105) scale(1.036,1)">Fitted</text>
</g>
<text x="53" y="965.5" font-family='"Liberation Serif", serif' font-weight="700" font-size="82" fill="#000">(d)</text>
<g font-family='"Liberation Sans", sans-serif' font-weight="700" fill="#ff2fd6">
<text transform="translate(2267,1042.5) scale(1.04,1)" font-size="76">2LA</text>
<text transform="translate(1976,1318) scale(1.04,1)" font-size="75">E<tspan font-size="47" dy="21">2g</tspan><tspan dy="-21">(M)</tspan></text>
<text transform="translate(2500.5,1286.5) scale(1.04,1)" font-size="75">E<tspan font-size="47" dy="21">2g</tspan><tspan dy="-21"> (</tspan><tspan font-family='"Liberation Serif", serif' font-size="78">Γ</tspan>)</text>
<text transform="translate(2672,1646.5) scale(1.04,1)" font-size="78">A<tspan font-size="49" dy="20">1g</tspan></text>
<text transform="translate(1864,1656) rotate(-26.3)" font-size="54">2LA-E<tspan font-size="35.1" dy="14">2g</tspan><tspan dy="-14">(M)</tspan></text>
</g>
<line x1="2084.4" y1="1366.5" x2="2181.5" y2="1566.3" stroke="#0a0a0a" stroke-width="6.3"/>
<polygon points="2195.1,1594.2 2165.8,1571.7 2195.5,1557.3" fill="#0a0a0a"/>
<line x1="2570.7" y1="1336.3" x2="2362.6" y2="1521.8" stroke="#0a0a0a" stroke-width="6.3"/>
<polygon points="2339.5,1542.4 2353.2,1508.1 2375.1,1532.8" fill="#0a0a0a"/>
<circle cx="2477.7" cy="993" r="8.2" fill="none" stroke="#000" stroke-width="2.6"/>
<line x1="2413" y1="1078.2" x2="2543" y2="1078.2" stroke="#ff1400" stroke-width="6.6" stroke-linecap="round"/>
<g font-family='"Liberation Sans", sans-serif' font-weight="700" font-size="56" fill="#000">
<text transform="translate(2560,1014.5) scale(1.036,1)">ssDNA-WS<tspan font-size="36" dy="17">2</tspan></text>
<text transform="translate(2559,1099.5) scale(1.036,1)">Fitted</text>
</g>
<text x="1534" y="965.5" font-family='"Liberation Serif", serif' font-weight="700" font-size="82" fill="#000">(e)</text>
</svg>
</body></html>
